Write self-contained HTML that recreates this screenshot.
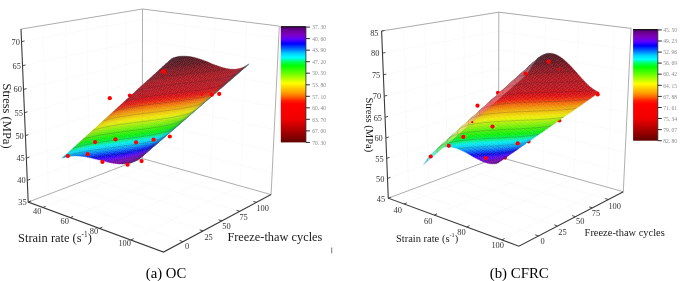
<!DOCTYPE html>
<html><head><meta charset="utf-8"><style>
html,body{margin:0;padding:0;background:#fff;}
svg{display:block;will-change:transform;}
text{font-family:"Liberation Serif",serif;}
.s path{fill:currentColor;stroke:currentColor;stroke-width:.35;}
.cb{font-size:6.6px;fill:#8a8a8a;}
.tk{font-size:8.4px;fill:#333;}
.t1{font-size:12.8px;fill:#1a1a1a;}
.t2{font-size:10.9px;fill:#1a1a1a;}
.sup{font-size:7.5px;}
.sup2{font-size:6.5px;}
.cap{font-size:14.6px;fill:#000;}
</style></head><body>
<svg width="685" height="281" viewBox="0 0 685 281">
<rect width="685" height="281" fill="#fff"/>
<polyline points="28.2,202.1 142.3,158.5 271.1,194.6" fill="none" stroke="#f6f6f6" stroke-width=".6"/>
<polyline points="27.3,180.3 142.3,139.5 272.1,173.3" fill="none" stroke="#f6f6f6" stroke-width=".6"/>
<polyline points="26.4,158.1 142.4,120.2 273.2,151.7" fill="none" stroke="#f6f6f6" stroke-width=".6"/>
<polyline points="25.4,135.6 142.4,100.7 274.2,129.7" fill="none" stroke="#f6f6f6" stroke-width=".6"/>
<polyline points="24.5,112.7 142.4,80.9 275.3,107.4" fill="none" stroke="#f6f6f6" stroke-width=".6"/>
<polyline points="23.5,89.4 142.4,60.8 276.5,84.7" fill="none" stroke="#f6f6f6" stroke-width=".6"/>
<polyline points="22.5,65.7 142.4,40.4 277.6,61.7" fill="none" stroke="#f6f6f6" stroke-width=".6"/>
<polyline points="21.5,41.6 142.5,19.7 278.8,38.2" fill="none" stroke="#f6f6f6" stroke-width=".6"/>
<polyline points="42.8,207.5 156.4,162.4 157.4,10.9" fill="none" stroke="#f6f6f6" stroke-width=".6"/>
<polyline points="70.3,217.6 182.9,169.9 185.4,14.4" fill="none" stroke="#f6f6f6" stroke-width=".6"/>
<polyline points="99.6,228.4 210.9,177.7 215.2,18.1" fill="none" stroke="#f6f6f6" stroke-width=".6"/>
<polyline points="130.9,240.0 240.5,186.0 246.7,22.0" fill="none" stroke="#f6f6f6" stroke-width=".6"/>
<polyline points="183.0,241.7 48.5,194.3 42.7,25.5" fill="none" stroke="#f6f6f6" stroke-width=".6"/>
<polyline points="203.1,230.9 69.6,186.3 65.3,21.8" fill="none" stroke="#f6f6f6" stroke-width=".6"/>
<polyline points="222.0,220.8 89.6,178.6 86.6,18.2" fill="none" stroke="#f6f6f6" stroke-width=".6"/>
<polyline points="239.7,211.3 108.6,171.4 106.8,14.9" fill="none" stroke="#f6f6f6" stroke-width=".6"/>
<polyline points="256.5,202.3 126.6,164.5 125.8,11.8" fill="none" stroke="#f6f6f6" stroke-width=".6"/>
<polyline points="21.0,29.1 142.5,9.0 279.3,26.1" fill="none" stroke="#909090" stroke-width=".75"/>
<polyline points="28.2,202.1 142.3,158.5 271.1,194.6" fill="none" stroke="#9a9a9a" stroke-width=".8"/>
<line x1="142.3" y1="158.5" x2="142.5" y2="9.0" stroke="#9a9a9a" stroke-width=".8"/>
<line x1="271.1" y1="194.6" x2="279.3" y2="26.1" stroke="#9a9a9a" stroke-width=".8"/>
<g fill="#ff0000"><circle cx="129.9" cy="95.6" r="2.1"/></g>
<g class="s"><path d="M139.2 158.8L141.5 156.8L143.3 155.6L140.9 157.6Z" color="#413260"/>
<path d="M137.4 159.9L139.8 157.9L141.5 156.8L139.2 158.8Z" color="#4a2069"/>
<path d="M141.5 156.8L143.9 154.8L145.6 153.5L143.3 155.6Z" color="#453266"/>
<path d="M135.6 160.8L138 158.8L139.8 157.9L137.4 159.9Z" color="#4d176b"/>
<path d="M139.8 157.9L142.1 155.8L143.9 154.8L141.5 156.8Z" color="#54207a"/>
<path d="M143.9 154.8L146.3 152.7L148 151.5L145.6 153.5Z" color="#47326b"/>
<path d="M133.8 161.6L136.2 159.6L138 158.8L135.6 160.8Z" color="#4d126b"/>
<path d="M138 158.8L140.3 156.8L142.1 155.8L139.8 157.9Z" color="#5a1781"/>
<path d="M142.1 155.8L144.5 153.8L146.3 152.7L143.9 154.8Z" color="#5a2086"/>
<path d="M132.1 162.3L134.4 160.3L136.2 159.6L133.8 161.6Z" color="#4e0f6b"/>
<path d="M146.3 152.7L148.6 150.6L150.4 149.4L148 151.5Z" color="#453271"/>
<path d="M136.2 159.6L138.5 157.6L140.3 156.8L138 158.8Z" color="#5d1285"/>
<path d="M140.3 156.8L142.7 154.7L144.5 153.8L142.1 155.8Z" color="#621791"/>
<path d="M130.3 162.9L132.6 160.8L134.4 160.3L132.1 162.3Z" color="#500d6d"/>
<path d="M144.5 153.8L146.9 151.7L148.6 150.6L146.3 152.7Z" color="#581f95"/>
<path d="M134.4 160.3L136.8 158.2L138.5 157.6L136.2 159.6Z" color="#600f88"/>
<path d="M148.6 150.6L151 148.5L152.8 147.3L150.4 149.4Z" color="#423278"/>
<path d="M138.5 157.6L140.9 155.5L142.7 154.7L140.3 156.8Z" color="#661297"/>
<path d="M128.4 163.3L130.8 161.2L132.6 160.8L130.3 162.9Z" color="#520c71"/>
<path d="M142.7 154.7L145.1 152.6L146.9 151.7L144.5 153.8Z" color="#6117a3"/>
<path d="M132.6 160.8L134.9 158.8L136.8 158.2L134.4 160.3Z" color="#620d8b"/>
<path d="M146.9 151.7L149.3 149.6L151 148.5L148.6 150.6Z" color="#501fa5"/>
<path d="M136.8 158.2L139.1 156.2L140.9 155.5L138.5 157.6Z" color="#690f9b"/>
<path d="M151 148.5L153.5 146.4L155.2 145.2L152.8 147.3Z" color="#39317a"/>
<path d="M140.9 155.5L143.3 153.4L145.1 152.6L142.7 154.7Z" color="#6712aa"/>
<path d="M126.6 163.6L129 161.6L130.8 161.2L128.4 163.3Z" color="#560b76"/>
<path d="M130.8 161.2L133.1 159.2L134.9 158.8L132.6 160.8Z" color="#640c8e"/>
<path d="M145.1 152.6L147.5 150.6L149.3 149.6L146.9 151.7Z" color="#5717b8"/>
<path d="M134.9 158.8L137.3 156.7L139.1 156.2L136.8 158.2Z" color="#6b0d9e"/>
<path d="M149.3 149.6L151.7 147.5L153.5 146.4L151 148.5Z" color="#3d1fab"/>
<path d="M139.1 156.2L141.5 154.1L143.3 153.4L140.9 155.5Z" color="#6a0fb0"/>
<path d="M124.8 163.8L127.1 161.8L129 161.6L126.6 163.6Z" color="#5a0a7c"/>
<path d="M153.5 146.4L155.9 144.3L157.7 143.1L155.2 145.2Z" color="#2f317a"/>
<path d="M143.3 153.4L145.7 151.4L147.5 150.6L145.1 152.6Z" color="#5b12c1"/>
<path d="M129 161.6L131.3 159.5L133.1 159.2L130.8 161.2Z" color="#660a92"/>
<path d="M133.1 159.2L135.5 157.1L137.3 156.7L134.9 158.8Z" color="#6e0ca2"/>
<path d="M147.5 150.6L149.9 148.5L151.7 147.5L149.3 149.6Z" color="#4217c2"/>
<path d="M137.3 156.7L139.7 154.6L141.5 154.1L139.1 156.2Z" color="#6c0db4"/>
<path d="M151.7 147.5L154.1 145.4L155.9 144.3L153.5 146.4Z" color="#241fab"/>
<path d="M122.9 163.9L125.3 161.9L127.1 161.8L124.8 163.8Z" color="#5f0984"/>
<path d="M141.5 154.1L143.9 152L145.7 151.4L143.3 153.4Z" color="#5e0fc8"/>
<path d="M127.1 161.8L129.5 159.7L131.3 159.5L129 161.6Z" color="#680a96"/>
<path d="M155.9 144.3L158.4 142.2L160.1 141L157.7 143.1Z" color="#2e3a7a"/>
<path d="M145.7 151.4L148.1 149.3L149.9 148.5L147.5 150.6Z" color="#4512ce"/>
<path d="M131.3 159.5L133.7 157.4L135.5 157.1L133.1 159.2Z" color="#700aa6"/>
<path d="M135.5 157.1L137.9 155.1L139.7 154.6L137.3 156.7Z" color="#6d0cb9"/>
<path d="M149.9 148.5L152.4 146.3L154.1 145.4L151.7 147.5Z" color="#2317c2"/>
<path d="M121.1 163.9L123.4 161.9L125.3 161.9L122.9 163.9Z" color="#63088b"/>
<path d="M139.7 154.6L142.1 152.6L143.9 152L141.5 154.1Z" color="#5f0dce"/>
<path d="M154.1 145.4L156.6 143.3L158.4 142.2L155.9 144.3Z" color="#1d30ac"/>
<path d="M125.3 161.9L127.6 159.8L129.5 159.7L127.1 161.8Z" color="#6b099b"/>
<path d="M143.9 152L146.3 149.9L148.1 149.3L145.7 151.4Z" color="#470fd7"/>
<path d="M129.5 159.7L131.8 157.6L133.7 157.4L131.3 159.5Z" color="#730aab"/>
<path d="M158.4 142.2L160.8 140.1L162.6 138.8L160.1 141Z" color="#2e457b"/>
<path d="M148.1 149.3L150.6 147.1L152.4 146.3L149.9 148.5Z" color="#2212cf"/>
<path d="M133.7 157.4L136.1 155.4L137.9 155.1L135.5 157.1Z" color="#6c0abe"/>
<path d="M137.9 155.1L140.3 153L142.1 152.6L139.7 154.6Z" color="#5f0bd4"/>
<path d="M119.2 163.9L121.5 161.8L123.4 161.9L121.1 163.9Z" color="#660891"/>
<path d="M152.4 146.3L154.8 144.2L156.6 143.3L154.1 145.4Z" color="#1529c2"/>
<path d="M123.4 161.9L125.8 159.8L127.6 159.8L125.3 161.9Z" color="#6e08a0"/>
<path d="M142.1 152.6L144.5 150.4L146.3 149.9L143.9 152Z" color="#470ddc"/>
<path d="M156.6 143.3L159.1 141.1L160.8 140.1L158.4 142.2Z" color="#1d49ac"/>
<path d="M127.6 159.8L130 157.7L131.8 157.6L129.5 159.7Z" color="#7509b0"/>
<path d="M146.3 149.9L148.8 147.8L150.6 147.1L148.1 149.3Z" color="#220fd7"/>
<path d="M131.8 157.6L134.2 155.6L136.1 155.4L133.7 157.4Z" color="#6b09c5"/>
<path d="M160.8 140.1L163.3 137.9L165.1 136.7L162.6 138.8Z" color="#2e4f7b"/>
<path d="M150.6 147.1L153 145L154.8 144.2L152.4 146.3Z" color="#1123cf"/>
<path d="M136.1 155.4L138.5 153.3L140.3 153L137.9 155.1Z" color="#5f0ada"/>
<path d="M117.3 163.7L119.7 161.7L121.5 161.8L119.2 163.9Z" color="#6a0898"/>
<path d="M140.3 153L142.7 150.9L144.5 150.4L142.1 152.6Z" color="#440be0"/>
<path d="M121.5 161.8L123.9 159.7L125.8 159.8L123.4 161.9Z" color="#7108a7"/>
<path d="M154.8 144.2L157.3 142.1L159.1 141.1L156.6 143.3Z" color="#1548c3"/>
<path d="M125.8 159.8L128.1 157.7L130 157.7L127.6 159.8Z" color="#7408b7"/>
<path d="M144.5 150.4L147 148.3L148.8 147.8L146.3 149.9Z" color="#1f0ddc"/>
<path d="M159.1 141.1L161.6 139L163.3 137.9L160.8 140.1Z" color="#1d63ac"/>
<path d="M130 157.7L132.4 155.7L134.2 155.6L131.8 157.6Z" color="#6909cb"/>
<path d="M148.8 147.8L151.2 145.7L153 145L150.6 147.1Z" color="#0e21d7"/>
<path d="M134.2 155.6L136.6 153.5L138.5 153.3L136.1 155.4Z" color="#5d09e0"/>
<path d="M163.3 137.9L165.9 135.7L167.6 134.5L165.1 136.7Z" color="#2e5a7c"/>
<path d="M115.4 163.5L117.8 161.4L119.7 161.7L117.3 163.7Z" color="#6e079f"/>
<path d="M153 145L155.5 142.9L157.3 142.1L154.8 144.2Z" color="#1147cf"/>
<path d="M138.5 153.3L140.9 151.2L142.7 150.9L140.3 153Z" color="#3f0ae3"/>
<path d="M119.7 161.7L122 159.6L123.9 159.7L121.5 161.8Z" color="#7508ae"/>
<path d="M142.7 150.9L145.2 148.7L147 148.3L144.5 150.4Z" color="#1c0be1"/>
<path d="M123.9 159.7L126.3 157.7L128.1 157.7L125.8 159.8Z" color="#7108bf"/>
<path d="M157.3 142.1L159.8 139.9L161.6 139L159.1 141.1Z" color="#1568c3"/>
<path d="M128.1 157.7L130.5 155.7L132.4 155.7L130 157.7Z" color="#6608d3"/>
<path d="M147 148.3L149.4 146.2L151.2 145.7L148.8 147.8Z" color="#0c20dd"/>
<path d="M161.6 139L164.1 136.8L165.9 135.7L163.3 137.9Z" color="#1d7dad"/>
<path d="M132.4 155.7L134.8 153.6L136.6 153.5L134.2 155.6Z" color="#5b09e7"/>
<path d="M151.2 145.7L153.7 143.5L155.5 142.9L153 145Z" color="#0e46d7"/>
<path d="M113.5 163.2L115.9 161.2L117.8 161.4L115.4 163.5Z" color="#7207a7"/>
<path d="M136.6 153.5L139.1 151.3L140.9 151.2L138.5 153.3Z" color="#3909e6"/>
<path d="M165.9 135.7L168.4 133.5L170.1 132.3L167.6 134.5Z" color="#2e627c"/>
<path d="M117.8 161.4L120.1 159.4L122 159.6L119.7 161.7Z" color="#7707b5"/>
<path d="M155.5 142.9L158 140.7L159.8 139.9L157.3 142.1Z" color="#116bcf"/>
<path d="M140.9 151.2L143.3 149L145.2 148.7L142.7 150.9Z" color="#160ae4"/>
<path d="M122 159.6L124.4 157.5L126.3 157.7L123.9 159.7Z" color="#6d07c8"/>
<path d="M145.2 148.7L147.6 146.6L149.4 146.2L147 148.3Z" color="#0b22e1"/>
<path d="M126.3 157.7L128.7 155.6L130.5 155.7L128.1 157.7Z" color="#6308db"/>
<path d="M159.8 139.9L162.3 137.7L164.1 136.8L161.6 139Z" color="#1589c3"/>
<path d="M130.5 155.7L132.9 153.6L134.8 153.6L132.4 155.7Z" color="#5208e9"/>
<path d="M149.4 146.2L151.9 144L153.7 143.5L151.2 145.7Z" color="#0c48dd"/>
<path d="M164.1 136.8L166.6 134.6L168.4 133.5L165.9 135.7Z" color="#1c91ad"/>
<path d="M111.6 162.9L114 160.8L115.9 161.2L113.5 163.2Z" color="#7607b0"/>
<path d="M134.8 153.6L137.2 151.4L139.1 151.3L136.6 153.5Z" color="#3109e8"/>
<path d="M153.7 143.5L156.2 141.4L158 140.7L155.5 142.9Z" color="#0e6dd8"/>
<path d="M115.9 161.2L118.2 159.1L120.1 159.4L117.8 161.4Z" color="#7207c0"/>
<path d="M139.1 151.3L141.5 149.2L143.3 149L140.9 151.2Z" color="#0f09e6"/>
<path d="M168.4 133.5L170.9 131.3L172.7 130.1L170.1 132.3Z" color="#2d687b"/>
<path d="M120.1 159.4L122.5 157.3L124.4 157.5L122 159.6Z" color="#6907d2"/>
<path d="M158 140.7L160.5 138.5L162.3 137.7L159.8 139.9Z" color="#108fd0"/>
<path d="M143.3 149L145.8 146.9L147.6 146.6L145.2 148.7Z" color="#0927e4"/>
<path d="M124.4 157.5L126.8 155.4L128.7 155.6L126.3 157.7Z" color="#5f07e5"/>
<path d="M128.7 155.6L131.1 153.5L132.9 153.6L130.5 155.7Z" color="#4608ea"/>
<path d="M147.6 146.6L150.1 144.4L151.9 144L149.4 146.2Z" color="#0a4be1"/>
<path d="M162.3 137.7L164.8 135.5L166.6 134.6L164.1 136.8Z" color="#15a4c3"/>
<path d="M132.9 153.6L135.4 151.4L137.2 151.4L134.8 153.6Z" color="#2708e9"/>
<path d="M109.7 162.5L112 160.4L114 160.8L111.6 162.9Z" color="#7607b9"/>
<path d="M151.9 144L154.4 141.9L156.2 141.4L153.7 143.5Z" color="#0c70dd"/>
<path d="M166.6 134.6L169.2 132.4L170.9 131.3L168.4 133.5Z" color="#1c9fae"/>
<path d="M114 160.8L116.3 158.7L118.2 159.1L115.9 161.2Z" color="#6d07cb"/>
<path d="M137.2 151.4L139.7 149.3L141.5 149.2L139.1 151.3Z" color="#080ae8"/>
<path d="M156.2 141.4L158.7 139.2L160.5 138.5L158 140.7Z" color="#0e94d8"/>
<path d="M118.2 159.1L120.6 157L122.5 157.3L120.1 159.4Z" color="#6407dc"/>
<path d="M141.5 149.2L144 147.1L145.8 146.9L143.3 149Z" color="#092de6"/>
<path d="M170.9 131.3L173.5 129.1L175.3 127.9L172.7 130.1Z" color="#2d6867"/>
<path d="M122.5 157.3L124.9 155.2L126.8 155.4L124.4 157.5Z" color="#5707ec"/>
<path d="M160.5 138.5L163 136.3L164.8 135.5L162.3 137.7Z" color="#10aed0"/>
<path d="M145.8 146.9L148.3 144.7L150.1 144.4L147.6 146.6Z" color="#0950e4"/>
<path d="M126.8 155.4L129.2 153.3L131.1 153.5L128.7 155.6Z" color="#3a07eb"/>
<path d="M131.1 153.5L133.5 151.3L135.4 151.4L132.9 153.6Z" color="#1c08ea"/>
<path d="M150.1 144.4L152.6 142.3L154.4 141.9L151.9 144Z" color="#0a74e1"/>
<path d="M164.8 135.5L167.4 133.3L169.2 132.4L166.6 134.6Z" color="#15b6c4"/>
<path d="M107.7 162.1L110.1 160L112 160.4L109.7 162.5Z" color="#7007c5"/>
<path d="M135.4 151.4L137.8 149.3L139.7 149.3L137.2 151.4Z" color="#0813e9"/>
<path d="M112 160.4L114.4 158.4L116.3 158.7L114 160.8Z" color="#6807d6"/>
<path d="M154.4 141.9L156.9 139.7L158.7 139.2L156.2 141.4Z" color="#0c99dd"/>
<path d="M169.2 132.4L171.7 130.2L173.5 129.1L170.9 131.3Z" color="#1ca184"/>
<path d="M116.3 158.7L118.7 156.7L120.6 157L118.2 159.1Z" color="#5f07e7"/>
<path d="M139.7 149.3L142.1 147.2L144 147.1L141.5 149.2Z" color="#0835e8"/>
<path d="M158.7 139.2L161.3 137L163 136.3L160.5 138.5Z" color="#0eb5d8"/>
<path d="M120.6 157L123 154.9L124.9 155.2L122.5 157.3Z" color="#4907ec"/>
<path d="M144 147.1L146.4 144.9L148.3 144.7L145.8 146.9Z" color="#0956e6"/>
<path d="M173.5 129.1L176.1 126.9L177.8 125.6L175.3 127.9Z" color="#2d6955"/>
<path d="M124.9 155.2L127.3 153.1L129.2 153.3L126.8 155.4Z" color="#2c07ec"/>
<path d="M163 136.3L165.6 134.1L167.4 133.3L164.8 135.5Z" color="#10c2d0"/>
<path d="M148.3 144.7L150.8 142.6L152.6 142.3L150.1 144.4Z" color="#097ae4"/>
<path d="M129.2 153.3L131.6 151.2L133.5 151.3L131.1 153.5Z" color="#0f07eb"/>
<path d="M105.8 161.6L108.1 159.5L110.1 160L107.7 162.1Z" color="#6a06d1"/>
<path d="M133.5 151.3L135.9 149.2L137.8 149.3L135.4 151.4Z" color="#071eea"/>
<path d="M152.6 142.3L155.1 140.1L156.9 139.7L154.4 141.9Z" color="#0a9ee1"/>
<path d="M167.4 133.3L169.9 131.1L171.7 130.2L169.2 132.4Z" color="#15bb97"/>
<path d="M110.1 160L112.4 157.9L114.4 158.4L112 160.4Z" color="#6206e2"/>
<path d="M137.8 149.3L140.3 147.2L142.1 147.2L139.7 149.3Z" color="#083ee9"/>
<path d="M114.4 158.4L116.8 156.3L118.7 156.7L116.3 158.7Z" color="#5407ed"/>
<path d="M156.9 139.7L159.5 137.5L161.3 137L158.7 139.2Z" color="#0cbbdd"/>
<path d="M171.7 130.2L174.3 127.9L176.1 126.9L173.5 129.1Z" color="#1ca257"/>
<path d="M118.7 156.7L121.1 154.5L123 154.9L120.6 157Z" color="#3907ed"/>
<path d="M142.1 147.2L144.6 145L146.4 144.9L144 147.1Z" color="#085fe8"/>
<path d="M161.3 137L163.8 134.8L165.6 134.1L163 136.3Z" color="#0dcad8"/>
<path d="M123 154.9L125.4 152.8L127.3 153.1L124.9 155.2Z" color="#1d07ec"/>
<path d="M146.4 144.9L148.9 142.7L150.8 142.6L148.3 144.7Z" color="#0982e6"/>
<path d="M176.1 126.9L178.7 124.6L180.4 123.4L177.8 125.6Z" color="#2d6949"/>
<path d="M127.3 153.1L129.7 150.9L131.6 151.2L129.2 153.3Z" color="#070dec"/>
<path d="M165.6 134.1L168.2 131.9L169.9 131.1L167.4 133.3Z" color="#10c9a3"/>
<path d="M150.8 142.6L153.3 140.4L155.1 140.1L152.6 142.3Z" color="#09a5e4"/>
<path d="M103.8 161.1L106.2 159.1L108.1 159.5L105.8 161.6Z" color="#6406de"/>
<path d="M131.6 151.2L134.1 149L135.9 149.2L133.5 151.3Z" color="#072beb"/>
<path d="M108.1 159.5L110.5 157.5L112.4 157.9L110.1 160Z" color="#5c06ee"/>
<path d="M135.9 149.2L138.4 147.1L140.3 147.2L137.8 149.3Z" color="#0749ea"/>
<path d="M155.1 140.1L157.6 137.9L159.5 137.5L156.9 139.7Z" color="#0ac0e1"/>
<path d="M169.9 131.1L172.5 128.9L174.3 127.9L171.7 130.2Z" color="#14bb5c"/>
<path d="M112.4 157.9L114.8 155.8L116.8 156.3L114.4 158.4Z" color="#4206ee"/>
<path d="M140.3 147.2L142.8 145L144.6 145L142.1 147.2Z" color="#0869e9"/>
<path d="M116.8 156.3L119.2 154.1L121.1 154.5L118.7 156.7Z" color="#2807ed"/>
<path d="M159.5 137.5L162 135.3L163.8 134.8L161.3 137Z" color="#0cd1de"/>
<path d="M174.3 127.9L176.9 125.7L178.7 124.6L176.1 126.9Z" color="#1ca23a"/>
<path d="M121.1 154.5L123.5 152.4L125.4 152.8L123 154.9Z" color="#0d07ed"/>
<path d="M144.6 145L147.1 142.8L148.9 142.7L146.4 144.9Z" color="#088be8"/>
<path d="M163.8 134.8L166.4 132.5L168.2 131.9L165.6 134.1Z" color="#0dd2aa"/>
<path d="M125.4 152.8L127.8 150.6L129.7 150.9L127.3 153.1Z" color="#061ced"/>
<path d="M148.9 142.7L151.5 140.6L153.3 140.4L150.8 142.6Z" color="#09ade6"/>
<path d="M178.7 124.6L181.3 122.3L183.1 121.1L180.4 123.4Z" color="#326a44"/>
<path d="M129.7 150.9L132.2 148.8L134.1 149L131.6 151.2Z" color="#0738ec"/>
<path d="M101.8 160.6L104.2 158.5L106.2 159.1L103.8 161.1Z" color="#5e06ea"/>
<path d="M168.2 131.9L170.7 129.7L172.5 128.9L169.9 131.1Z" color="#10c960"/>
<path d="M153.3 140.4L155.8 138.2L157.6 137.9L155.1 140.1Z" color="#09c5e4"/>
<path d="M106.2 159.1L108.5 157L110.5 157.5L108.1 159.5Z" color="#4906ee"/>
<path d="M134.1 149L136.5 146.9L138.4 147.1L135.9 149.2Z" color="#0756eb"/>
<path d="M110.5 157.5L112.9 155.3L114.8 155.8L112.4 157.9Z" color="#3006ee"/>
<path d="M138.4 147.1L140.9 144.9L142.8 145L140.3 147.2Z" color="#0775eb"/>
<path d="M157.6 137.9L160.2 135.7L162 135.3L159.5 137.5Z" color="#0ad7e2"/>
<path d="M172.5 128.9L175.1 126.6L176.9 125.7L174.3 127.9Z" color="#14bb37"/>
<path d="M114.8 155.8L117.2 153.7L119.2 154.1L116.8 156.3Z" color="#1606ee"/>
<path d="M142.8 145L145.2 142.8L147.1 142.8L144.6 145Z" color="#0796ea"/>
<path d="M119.2 154.1L121.6 152L123.5 152.4L121.1 154.5Z" color="#0610ed"/>
<path d="M162 135.3L164.6 133.1L166.4 132.5L163.8 134.8Z" color="#0cd9ac"/>
<path d="M176.9 125.7L179.5 123.4L181.3 122.3L178.7 124.6Z" color="#24a22a"/>
<path d="M123.5 152.4L125.9 150.3L127.8 150.6L125.4 152.8Z" color="#062bed"/>
<path d="M147.1 142.8L149.6 140.6L151.5 140.6L148.9 142.7Z" color="#08b7e8"/>
<path d="M166.4 132.5L169 130.3L170.7 129.7L168.2 131.9Z" color="#0dd363"/>
<path d="M127.8 150.6L130.3 148.5L132.2 148.8L129.7 150.9Z" color="#0647ed"/>
<path d="M99.9 160.1L102.2 158L104.2 158.5L101.8 160.6Z" color="#4f06ee"/>
<path d="M151.5 140.6L154 138.4L155.8 138.2L153.3 140.4Z" color="#08cbe7"/>
<path d="M181.3 122.3L183.9 120L185.7 118.8L183.1 121.1Z" color="#396a44"/>
<path d="M132.2 148.8L134.6 146.6L136.5 146.9L134.1 149Z" color="#0764ec"/>
<path d="M104.2 158.5L106.6 156.4L108.5 157L106.2 159.1Z" color="#3606ee"/>
<path d="M170.7 129.7L173.4 127.4L175.1 126.6L172.5 128.9Z" color="#10ca36"/>
<path d="M155.8 138.2L158.4 136L160.2 135.7L157.6 137.9Z" color="#09dde4"/>
<path d="M108.5 157L110.9 154.8L112.9 155.3L110.5 157.5Z" color="#1d06ee"/>
<path d="M136.5 146.9L139 144.7L140.9 144.9L138.4 147.1Z" color="#0783eb"/>
<path d="M112.9 155.3L115.3 153.2L117.2 153.7L114.8 155.8Z" color="#0608ee"/>
<path d="M140.9 144.9L143.4 142.7L145.2 142.8L142.8 145Z" color="#07a2eb"/>
<path d="M160.2 135.7L162.8 133.5L164.6 133.1L162 135.3Z" color="#0addaa"/>
<path d="M175.1 126.6L177.8 124.3L179.5 123.4L176.9 125.7Z" color="#1cbc1f"/>
<path d="M117.2 153.7L119.6 151.6L121.6 152L119.2 154.1Z" color="#0622ee"/>
<path d="M145.2 142.8L147.8 140.6L149.6 140.6L147.1 142.8Z" color="#07c0ea"/>
<path d="M121.6 152L124 149.9L125.9 150.3L123.5 152.4Z" color="#063cee"/>
<path d="M164.6 133.1L167.2 130.8L169 130.3L166.4 132.5Z" color="#0bd962"/>
<path d="M179.5 123.4L182.2 121.1L183.9 120L181.3 122.3Z" color="#35a32a"/>
<path d="M125.9 150.3L128.4 148.1L130.3 148.5L127.8 150.6Z" color="#0657ed"/>
<path d="M149.6 140.6L152.1 138.4L154 138.4L151.5 140.6Z" color="#08d1e8"/>
<path d="M97.9 159.6L100.2 157.5L102.2 158L99.9 160.1Z" color="#3b06ee"/>
<path d="M169 130.3L171.6 128L173.4 127.4L170.7 129.7Z" color="#0dd335"/>
<path d="M130.3 148.5L132.7 146.3L134.6 146.6L132.2 148.8Z" color="#0674ed"/>
<path d="M102.2 158L104.6 155.9L106.6 156.4L104.2 158.5Z" color="#2306ee"/>
<path d="M154 138.4L156.5 136.1L158.4 136L155.8 138.2Z" color="#08e3e7"/>
<path d="M183.9 120L186.6 117.7L188.4 116.5L185.7 118.8Z" color="#416b44"/>
<path d="M134.6 146.6L137.1 144.5L139 144.7L136.5 146.9Z" color="#0791ec"/>
<path d="M106.6 156.4L108.9 154.3L110.9 154.8L108.5 157Z" color="#0a06ee"/>
<path d="M173.4 127.4L176 125.1L177.8 124.3L175.1 126.6Z" color="#16ca18"/>
<path d="M158.4 136L160.9 133.7L162.8 133.5L160.2 135.7Z" color="#09e1a3"/>
<path d="M110.9 154.8L113.3 152.7L115.3 153.2L112.9 155.3Z" color="#061aee"/>
<path d="M139 144.7L141.5 142.5L143.4 142.7L140.9 144.9Z" color="#07b0ec"/>
<path d="M115.3 153.2L117.7 151.1L119.6 151.6L117.2 153.7Z" color="#0634ee"/>
<path d="M143.4 142.7L145.9 140.5L147.8 140.6L145.2 142.8Z" color="#07c7eb"/>
<path d="M162.8 133.5L165.3 131.2L167.2 130.8L164.6 133.1Z" color="#0add5d"/>
<path d="M177.8 124.3L180.4 122.1L182.2 121.1L179.5 123.4Z" color="#31bc1f"/>
<path d="M119.6 151.6L122.1 149.4L124 149.9L121.6 152Z" color="#064dee"/>
<path d="M147.8 140.6L150.3 138.4L152.1 138.4L149.6 140.6Z" color="#07d8ea"/>
<path d="M124 149.9L126.4 147.7L128.4 148.1L125.9 150.3Z" color="#0668ee"/>
<path d="M167.2 130.8L169.8 128.6L171.6 128L169 130.3Z" color="#0bd933"/>
<path d="M95.8 159.1L98.2 157L100.2 157.5L97.9 159.6Z" color="#2806ee"/>
<path d="M182.2 121.1L184.8 118.8L186.6 117.7L183.9 120Z" color="#46a32a"/>
<path d="M128.4 148.1L130.8 145.9L132.7 146.3L130.3 148.5Z" color="#0684ed"/>
<path d="M152.1 138.4L154.7 136.2L156.5 136.1L154 138.4Z" color="#08e5da"/>
<path d="M100.2 157.5L102.6 155.4L104.6 155.9L102.2 158Z" color="#1006ee"/>
<path d="M171.6 128L174.2 125.8L176 125.1L173.4 127.4Z" color="#13d314"/>
<path d="M132.7 146.3L135.2 144.1L137.1 144.5L134.6 146.6Z" color="#06a1ed"/>
<path d="M104.6 155.9L106.9 153.8L108.9 154.3L106.6 156.4Z" color="#0615ee"/>
<path d="M156.5 136.1L159.1 133.9L160.9 133.7L158.4 136Z" color="#08e398"/>
<path d="M186.6 117.7L189.3 115.4L191 114.2L188.4 116.5Z" color="#496b43"/>
<path d="M137.1 144.5L139.6 142.3L141.5 142.5L139 144.7Z" color="#06beec"/>
<path d="M108.9 154.3L111.3 152.2L113.3 152.7L110.9 154.8Z" color="#062dee"/>
<path d="M176 125.1L178.6 122.8L180.4 122.1L177.8 124.3Z" color="#2eca18"/>
<path d="M160.9 133.7L163.5 131.5L165.3 131.2L162.8 133.5Z" color="#09e158"/>
<path d="M113.3 152.7L115.7 150.6L117.7 151.1L115.3 153.2Z" color="#0646ee"/>
<path d="M141.5 142.5L144 140.3L145.9 140.5L143.4 142.7Z" color="#07cfec"/>
<path d="M117.7 151.1L120.1 148.9L122.1 149.4L119.6 151.6Z" color="#0660ee"/>
<path d="M145.9 140.5L148.4 138.3L150.3 138.4L147.8 140.6Z" color="#07dfeb"/>
<path d="M165.3 131.2L167.9 128.9L169.8 128.6L167.2 130.8Z" color="#0ade2f"/>
<path d="M180.4 122.1L183.1 119.7L184.8 118.8L182.2 121.1Z" color="#47bc1e"/>
<path d="M122.1 149.4L124.5 147.2L126.4 147.7L124 149.9Z" color="#067aee"/>
<path d="M93.8 158.6L96.2 156.5L98.2 157L95.8 159.1Z" color="#1506ee"/>
<path d="M150.3 138.4L152.8 136.2L154.7 136.2L152.1 138.4Z" color="#07e7c9"/>
<path d="M126.4 147.7L128.9 145.5L130.8 145.9L128.4 148.1Z" color="#0696ee"/>
<path d="M169.8 128.6L172.4 126.3L174.2 125.8L171.6 128Z" color="#12d911"/>
<path d="M98.2 157L100.5 154.9L102.6 155.4L100.2 157.5Z" color="#060fee"/>
<path d="M184.8 118.8L187.5 116.5L189.3 115.4L186.6 117.7Z" color="#59a42a"/>
<path d="M130.8 145.9L133.3 143.8L135.2 144.1L132.7 146.3Z" color="#06b2ed"/>
<path d="M154.7 136.2L157.3 134L159.1 133.9L156.5 136.1Z" color="#08e58a"/>
<path d="M102.6 155.4L104.9 153.3L106.9 153.8L104.6 155.9Z" color="#0628ef"/>
<path d="M174.2 125.8L176.8 123.5L178.6 122.8L176 125.1Z" color="#2dd314"/>
<path d="M135.2 144.1L137.7 141.9L139.6 142.3L137.1 144.5Z" color="#06c8ed"/>
<path d="M106.9 153.8L109.3 151.7L111.3 152.2L108.9 154.3Z" color="#0640ef"/>
<path d="M159.1 133.9L161.7 131.6L163.5 131.5L160.9 133.7Z" color="#08e351"/>
<path d="M189.3 115.4L192 113.1L193.7 111.8L191 114.2Z" color="#526b43"/>
<path d="M139.6 142.3L142.1 140L144 140.3L141.5 142.5Z" color="#06d7ec"/>
<path d="M111.3 152.2L113.7 150L115.7 150.6L113.3 152.7Z" color="#0659ef"/>
<path d="M178.6 122.8L181.3 120.5L183.1 119.7L180.4 122.1Z" color="#46cb18"/>
<path d="M163.5 131.5L166.1 129.2L167.9 128.9L165.3 131.2Z" color="#09e129"/>
<path d="M115.7 150.6L118.1 148.4L120.1 148.9L117.7 151.1Z" color="#0673ee"/>
<path d="M144 140.3L146.6 138.1L148.4 138.3L145.9 140.5Z" color="#07e7ec"/>
<path d="M120.1 148.9L122.6 146.8L124.5 147.2L122.1 149.4Z" color="#068dee"/>
<path d="M148.4 138.3L151 136L152.8 136.2L150.3 138.4Z" color="#07e8b5"/>
<path d="M167.9 128.9L170.6 126.7L172.4 126.3L169.8 128.6Z" color="#13de0f"/>
<path d="M91.8 158.1L94.1 156L96.2 156.5L93.8 158.6Z" color="#060aee"/>
<path d="M183.1 119.7L185.7 117.4L187.5 116.5L184.8 118.8Z" color="#5dbd1e"/>
<path d="M124.5 147.2L127 145.1L128.9 145.5L126.4 147.7Z" color="#06a8ee"/>
<path d="M96.2 156.5L98.5 154.3L100.5 154.9L98.2 157Z" color="#0623ee"/>
<path d="M152.8 136.2L155.4 133.9L157.3 134L154.7 136.2Z" color="#07e778"/>
<path d="M128.9 145.5L131.4 143.3L133.3 143.8L130.8 145.9Z" color="#06c2ee"/>
<path d="M172.4 126.3L175 124L176.8 123.5L174.2 125.8Z" color="#2dd911"/>
<path d="M100.5 154.9L102.9 152.7L104.9 153.3L102.6 155.4Z" color="#063bef"/>
<path d="M187.5 116.5L190.2 114.2L192 113.1L189.3 115.4Z" color="#6ca429"/>
<path d="M133.3 143.8L135.8 141.6L137.7 141.9L135.2 144.1Z" color="#06d1ee"/>
<path d="M157.3 134L159.9 131.7L161.7 131.6L159.1 133.9Z" color="#08e548"/>
<path d="M104.9 153.3L107.3 151.1L109.3 151.7L106.9 153.8Z" color="#0654ef"/>
<path d="M176.8 123.5L179.5 121.2L181.3 120.5L178.6 122.8Z" color="#46d414"/>
<path d="M137.7 141.9L140.2 139.7L142.1 140L139.6 142.3Z" color="#06e0ed"/>
<path d="M109.3 151.7L111.8 149.5L113.7 150L111.3 152.2Z" color="#066def"/>
<path d="M161.7 131.6L164.3 129.4L166.1 129.2L163.5 131.5Z" color="#08e321"/>
<path d="M192 113.1L194.7 110.7L196.5 109.5L193.7 111.8Z" color="#5b6c43"/>
<path d="M142.1 140L144.7 137.8L146.6 138.1L144 140.3Z" color="#06ead8"/>
<path d="M113.7 150L116.2 147.9L118.1 148.4L115.7 150.6Z" color="#0686ef"/>
<path d="M181.3 120.5L184 118.2L185.7 117.4L183.1 119.7Z" color="#5fcb18"/>
<path d="M166.1 129.2L168.8 126.9L170.6 126.7L167.9 128.9Z" color="#15e10e"/>
<path d="M118.1 148.4L120.6 146.2L122.6 146.8L120.1 148.9Z" color="#06a0ef"/>
<path d="M146.6 138.1L149.1 135.9L151 136L148.4 138.3Z" color="#07e99f"/>
<path d="M89.7 157.6L92.1 155.5L94.1 156L91.8 158.1Z" color="#061cee"/>
<path d="M122.6 146.8L125 144.6L127 145.1L124.5 147.2Z" color="#06bbee"/>
<path d="M151 136L153.6 133.8L155.4 133.9L152.8 136.2Z" color="#07e864"/>
<path d="M170.6 126.7L173.2 124.4L175 124L172.4 126.3Z" color="#2ede0f"/>
<path d="M94.1 156L96.5 153.9L98.5 154.3L96.2 156.5Z" color="#0635ee"/>
<path d="M185.7 117.4L188.4 115.1L190.2 114.2L187.5 116.5Z" color="#75bd1e"/>
<path d="M127 145.1L129.5 142.9L131.4 143.3L128.9 145.5Z" color="#06ccee"/>
<path d="M98.5 154.3L100.9 152.2L102.9 152.7L100.5 154.9Z" color="#064eef"/>
<path d="M155.4 133.9L158 131.7L159.9 131.7L157.3 134Z" color="#07e73d"/>
<path d="M131.4 143.3L133.9 141.1L135.8 141.6L133.3 143.8Z" color="#06dbee"/>
<path d="M175 124L177.7 121.7L179.5 121.2L176.8 123.5Z" color="#47da11"/>
<path d="M102.9 152.7L105.3 150.6L107.3 151.1L104.9 153.3Z" color="#0667ef"/>
<path d="M190.2 114.2L192.9 111.8L194.7 110.7L192 113.1Z" color="#7fa429"/>
<path d="M135.8 141.6L138.3 139.3L140.2 139.7L137.7 141.9Z" color="#06eaee"/>
<path d="M159.9 131.7L162.5 129.4L164.3 129.4L161.7 131.6Z" color="#08e517"/>
<path d="M107.3 151.1L109.7 149L111.8 149.5L109.3 151.7Z" color="#0681ef"/>
<path d="M179.5 121.2L182.2 118.8L184 118.2L181.3 120.5Z" color="#60d414"/>
<path d="M140.2 139.7L142.8 137.5L144.7 137.8L142.1 140Z" color="#06eabc"/>
<path d="M111.8 149.5L114.2 147.3L116.2 147.9L113.7 150Z" color="#069aef"/>
<path d="M164.3 129.4L166.9 127.1L168.8 126.9L166.1 129.2Z" color="#18e40d"/>
<path d="M194.7 110.7L197.4 108.4L199.2 107.1L196.5 109.5Z" color="#646c43"/>
<path d="M144.7 137.8L147.2 135.6L149.1 135.9L146.6 138.1Z" color="#06ea85"/>
<path d="M116.2 147.9L118.6 145.7L120.6 146.2L118.1 148.4Z" color="#06b4ef"/>
<path d="M87.6 157.2L90 155.1L92.1 155.5L89.7 157.6Z" color="#062eee"/>
<path d="M184 118.2L186.7 115.9L188.4 115.1L185.7 117.4Z" color="#79cb18"/>
<path d="M168.8 126.9L171.4 124.6L173.2 124.4L170.6 126.7Z" color="#31e10e"/>
<path d="M120.6 146.2L123.1 144L125 144.6L122.6 146.8Z" color="#06c8ef"/>
<path d="M149.1 135.9L151.7 133.6L153.6 133.8L151 136Z" color="#07e954"/>
<path d="M92.1 155.5L94.4 153.4L96.5 153.9L94.1 156Z" color="#0648ee"/>
<path d="M125 144.6L127.5 142.4L129.5 142.9L127 145.1Z" color="#06d6ee"/>
<path d="M153.6 133.8L156.1 131.5L158 131.7L155.4 133.9Z" color="#07e830"/>
<path d="M173.2 124.4L175.9 122L177.7 121.7L175 124Z" color="#49de0f"/>
<path d="M96.5 153.9L98.9 151.7L100.9 152.2L98.5 154.3Z" color="#0661ee"/>
<path d="M188.4 115.1L191.2 112.7L192.9 111.8L190.2 114.2Z" color="#8dbd1e"/>
<path d="M129.5 142.9L132 140.7L133.9 141.1L131.4 143.3Z" color="#06e5ee"/>
<path d="M100.9 152.2L103.3 150.1L105.3 150.6L102.9 152.7Z" color="#067bef"/>
<path d="M158 131.7L160.6 129.4L162.5 129.4L159.9 131.7Z" color="#07e70c"/>
<path d="M133.9 141.1L136.4 138.9L138.3 139.3L135.8 141.6Z" color="#06ebd3"/>
<path d="M177.7 121.7L180.4 119.3L182.2 118.8L179.5 121.2Z" color="#62da11"/>
<path d="M105.3 150.6L107.7 148.4L109.7 149L107.3 151.1Z" color="#0694ef"/>
<path d="M192.9 111.8L195.7 109.4L197.4 108.4L194.7 110.7Z" color="#93a529"/>
<path d="M138.3 139.3L140.9 137.1L142.8 137.5L140.2 139.7Z" color="#06eb9f"/>
<path d="M162.5 129.4L165.1 127.1L166.9 127.1L164.3 129.4Z" color="#1de60c"/>
<path d="M109.7 149L112.2 146.8L114.2 147.3L111.8 149.5Z" color="#06aeef"/>
<path d="M182.2 118.8L184.9 116.5L186.7 115.9L184 118.2Z" color="#7cd414"/>
<path d="M142.8 137.5L145.3 135.2L147.2 135.6L144.7 137.8Z" color="#06eb6a"/>
<path d="M114.2 147.3L116.6 145.1L118.6 145.7L116.2 147.9Z" color="#06c5ef"/>
<path d="M166.9 127.1L169.6 124.8L171.4 124.6L168.8 126.9Z" color="#35e40c"/>
<path d="M85.6 156.8L87.9 154.7L90 155.1L87.6 157.2Z" color="#063fee"/>
<path d="M197.4 108.4L200.2 106L202 104.7L199.2 107.1Z" color="#6a6a43"/>
<path d="M147.2 135.6L149.8 133.3L151.7 133.6L149.1 135.9Z" color="#06ea44"/>
<path d="M118.6 145.7L121.1 143.5L123.1 144L120.6 146.2Z" color="#06d3ef"/>
<path d="M90 155.1L92.4 153L94.4 153.4L92.1 155.5Z" color="#0659ee"/>
<path d="M186.7 115.9L189.4 113.5L191.2 112.7L188.4 115.1Z" color="#94cb18"/>
<path d="M171.4 124.6L174.1 122.3L175.9 122L173.2 124.4Z" color="#4ce10e"/>
<path d="M123.1 144L125.5 141.8L127.5 142.4L125 144.6Z" color="#06e1ef"/>
<path d="M151.7 133.6L154.3 131.3L156.1 131.5L153.6 133.8Z" color="#07e922"/>
<path d="M94.4 153.4L96.8 151.3L98.9 151.7L96.5 153.9Z" color="#0674ee"/>
<path d="M127.5 142.4L130 140.1L132 140.7L129.5 142.9Z" color="#06ece4"/>
<path d="M156.1 131.5L158.8 129.2L160.6 129.4L158 131.7Z" color="#0ee80a"/>
<path d="M175.9 122L178.6 119.7L180.4 119.3L177.7 121.7Z" color="#65de0f"/>
<path d="M98.9 151.7L101.3 149.6L103.3 150.1L100.9 152.2Z" color="#068eef"/>
<path d="M191.2 112.7L193.9 110.4L195.7 109.4L192.9 111.8Z" color="#a5be1e"/>
<path d="M132 140.7L134.5 138.4L136.4 138.9L133.9 141.1Z" color="#06ecb3"/>
<path d="M103.3 150.1L105.7 147.9L107.7 148.4L105.3 150.6Z" color="#06a8ef"/>
<path d="M160.6 129.4L163.2 127.1L165.1 127.1L162.5 129.4Z" color="#23e70b"/>
<path d="M136.4 138.9L139 136.7L140.9 137.1L138.3 139.3Z" color="#06ec80"/>
<path d="M180.4 119.3L183.1 117L184.9 116.5L182.2 118.8Z" color="#7fda11"/>
<path d="M107.7 148.4L110.2 146.2L112.2 146.8L109.7 149Z" color="#06c2ef"/>
<path d="M195.7 109.4L198.4 107L200.2 106L197.4 108.4Z" color="#a3a329"/>
<path d="M140.9 137.1L143.4 134.8L145.3 135.2L142.8 137.5Z" color="#06eb54"/>
<path d="M165.1 127.1L167.7 124.8L169.6 124.8L166.9 127.1Z" color="#3ae60c"/>
<path d="M112.2 146.8L114.6 144.6L116.6 145.1L114.2 147.3Z" color="#06d0ef"/>
<path d="M83.5 156.5L85.8 154.4L87.9 154.7L85.6 156.8Z" color="#064fed"/>
<path d="M145.3 135.2L147.9 133L149.8 133.3L147.2 135.6Z" color="#06eb34"/>
<path d="M184.9 116.5L187.6 114.1L189.4 113.5L186.7 115.9Z" color="#98d413"/>
<path d="M116.6 145.1L119.1 142.9L121.1 143.5L118.6 145.7Z" color="#06deef"/>
<path d="M169.6 124.8L172.2 122.5L174.1 122.3L171.4 124.6Z" color="#51e40c"/>
<path d="M87.9 154.7L90.3 152.6L92.4 153L90 155.1Z" color="#066bee"/>
<path d="M200.2 106L203 103.6L204.7 102.3L202 104.7Z" color="#6a6543"/>
<path d="M121.1 143.5L123.6 141.3L125.5 141.8L123.1 144Z" color="#06ebef"/>
<path d="M149.8 133.3L152.4 131L154.3 131.3L151.7 133.6Z" color="#06ea12"/>
<path d="M92.4 153L94.7 150.8L96.8 151.3L94.4 153.4Z" color="#0686ee"/>
<path d="M189.4 113.5L192.1 111.1L193.9 110.4L191.2 112.7Z" color="#afcc17"/>
<path d="M174.1 122.3L176.8 120L178.6 119.7L175.9 122Z" color="#69e20d"/>
<path d="M125.5 141.8L128 139.6L130 140.1L127.5 142.4Z" color="#06ecc2"/>
<path d="M154.3 131.3L156.9 129L158.8 129.2L156.1 131.5Z" color="#15e90a"/>
<path d="M96.8 151.3L99.2 149.1L101.3 149.6L98.9 151.7Z" color="#06a1ee"/>
<path d="M130 140.1L132.5 137.9L134.5 138.4L132 140.7Z" color="#06ec91"/>
<path d="M158.8 129.2L161.4 126.9L163.2 127.1L160.6 129.4Z" color="#2ae80a"/>
<path d="M101.3 149.6L103.7 147.4L105.7 147.9L103.3 150.1Z" color="#06bbef"/>
<path d="M178.6 119.7L181.3 117.4L183.1 117L180.4 119.3Z" color="#83de0f"/>
<path d="M193.9 110.4L196.7 108L198.4 107L195.7 109.4Z" color="#bdbd1e"/>
<path d="M134.5 138.4L137 136.2L139 136.7L136.4 138.9Z" color="#06ec60"/>
<path d="M105.7 147.9L108.1 145.7L110.2 146.2L107.7 148.4Z" color="#06ccef"/>
<path d="M163.2 127.1L165.9 124.8L167.7 124.8L165.1 127.1Z" color="#40e70b"/>
<path d="M139 136.7L141.5 134.4L143.4 134.8L140.9 137.1Z" color="#06ec41"/>
<path d="M183.1 117L185.8 114.6L187.6 114.1L184.9 116.5Z" color="#9dda11"/>
<path d="M110.2 146.2L112.6 144L114.6 144.6L112.2 146.8Z" color="#06daef"/>
<path d="M81.4 156.3L83.7 154.1L85.8 154.4L83.5 156.5Z" color="#065fed"/>
<path d="M198.4 107L201.2 104.6L203 103.6L200.2 106Z" color="#a49629"/>
<path d="M143.4 134.8L146 132.6L147.9 133L145.3 135.2Z" color="#06eb22"/>
<path d="M167.7 124.8L170.4 122.5L172.2 122.5L169.6 124.8Z" color="#56e60b"/>
<path d="M114.6 144.6L117.1 142.4L119.1 142.9L116.6 145.1Z" color="#06e8ef"/>
<path d="M85.8 154.4L88.2 152.3L90.3 152.6L87.9 154.7Z" color="#067bed"/>
<path d="M147.9 133L150.5 130.7L152.4 131L149.8 133.3Z" color="#0beb09"/>
<path d="M187.6 114.1L190.3 111.8L192.1 111.1L189.4 113.5Z" color="#b5d513"/>
<path d="M119.1 142.9L121.6 140.7L123.6 141.3L121.1 143.5Z" color="#06ecce"/>
<path d="M172.2 122.5L174.9 120.1L176.8 120L174.1 122.3Z" color="#6fe40c"/>
<path d="M90.3 152.6L92.7 150.4L94.7 150.8L92.4 153Z" color="#0697ee"/>
<path d="M123.6 141.3L126.1 139.1L128 139.6L125.5 141.8Z" color="#06ec9f"/>
<path d="M203 103.6L205.8 101.1L207.5 99.9L204.7 102.3Z" color="#6b5f42"/>
<path d="M152.4 131L155 128.7L156.9 129L154.3 131.3Z" color="#1eea09"/>
<path d="M94.7 150.8L97.1 148.7L99.2 149.1L96.8 151.3Z" color="#06b3ee"/>
<path d="M192.1 111.1L194.9 108.7L196.7 108L193.9 110.4Z" color="#cacc17"/>
<path d="M128 139.6L130.6 137.4L132.5 137.9L130 140.1Z" color="#06ec6f"/>
<path d="M176.8 120L179.5 117.6L181.3 117.4L178.6 119.7Z" color="#88e20d"/>
<path d="M156.9 129L159.5 126.7L161.4 126.9L158.8 129.2Z" color="#32e90a"/>
<path d="M99.2 149.1L101.6 146.9L103.7 147.4L101.3 149.6Z" color="#06c8ee"/>
<path d="M132.5 137.9L135.1 135.7L137 136.2L134.5 138.4Z" color="#06ec4b"/>
<path d="M161.4 126.9L164 124.6L165.9 124.8L163.2 127.1Z" color="#47e90a"/>
<path d="M103.7 147.4L106.1 145.2L108.1 145.7L105.7 147.9Z" color="#06d6ef"/>
<path d="M181.3 117.4L184 115L185.8 114.6L183.1 117Z" color="#a1df0f"/>
<path d="M196.7 108L199.4 105.6L201.2 104.6L198.4 107Z" color="#bdad1d"/>
<path d="M137 136.2L139.6 133.9L141.5 134.4L139 136.7Z" color="#06ec2d"/>
<path d="M108.1 145.7L110.6 143.5L112.6 144L110.2 146.2Z" color="#06e5ef"/>
<path d="M79.3 156.1L81.6 154L83.7 154.1L81.4 156.3Z" color="#066dec"/>
<path d="M165.9 124.8L168.6 122.4L170.4 122.5L167.7 124.8Z" color="#5de70b"/>
<path d="M141.5 134.4L144.1 132.1L146 132.6L143.4 134.8Z" color="#06ec0f"/>
<path d="M185.8 114.6L188.5 112.2L190.3 111.8L187.6 114.1Z" color="#badb11"/>
<path d="M112.6 144L115.1 141.8L117.1 142.4L114.6 144.6Z" color="#06ecda"/>
<path d="M83.7 154.1L86.1 152L88.2 152.3L85.8 154.4Z" color="#068bed"/>
<path d="M146 132.6L148.6 130.3L150.5 130.7L147.9 133Z" color="#15eb09"/>
<path d="M201.2 104.6L204 102.2L205.8 101.1L203 103.6Z" color="#a48929"/>
<path d="M170.4 122.5L173.1 120.1L174.9 120.1L172.2 122.5Z" color="#75e60b"/>
<path d="M117.1 142.4L119.6 140.2L121.6 140.7L119.1 142.9Z" color="#06edab"/>
<path d="M88.2 152.3L90.6 150.1L92.7 150.4L90.3 152.6Z" color="#06a8ee"/>
<path d="M150.5 130.7L153.1 128.4L155 128.7L152.4 131Z" color="#28eb09"/>
<path d="M190.3 111.8L193.1 109.4L194.9 108.7L192.1 111.1Z" color="#d2d513"/>
<path d="M121.6 140.7L124.1 138.5L126.1 139.1L123.6 141.3Z" color="#06ed7b"/>
<path d="M174.9 120.1L177.6 117.8L179.5 117.6L176.8 120Z" color="#8ee40c"/>
<path d="M92.7 150.4L95.1 148.3L97.1 148.7L94.7 150.8Z" color="#06c3ee"/>
<path d="M126.1 139.1L128.6 136.8L130.6 137.4L128 139.6Z" color="#06ed54"/>
<path d="M155 128.7L157.6 126.4L159.5 126.7L156.9 129Z" color="#3bea09"/>
<path d="M205.8 101.1L208.6 98.7L210.4 97.4L207.5 99.9Z" color="#6b5942"/>
<path d="M97.1 148.7L99.5 146.5L101.6 146.9L99.2 149.1Z" color="#06d2ee"/>
<path d="M194.9 108.7L197.7 106.3L199.4 105.6L196.7 108Z" color="#cbbb17"/>
<path d="M130.6 137.4L133.1 135.1L135.1 135.7L132.5 137.9Z" color="#06ec37"/>
<path d="M179.5 117.6L182.2 115.2L184 115L181.3 117.4Z" color="#a6e20d"/>
<path d="M159.5 126.7L162.2 124.4L164 124.6L161.4 126.9Z" color="#4fea0a"/>
<path d="M101.6 146.9L104 144.7L106.1 145.2L103.7 147.4Z" color="#06e0ef"/>
<path d="M135.1 135.7L137.6 133.4L139.6 133.9L137 136.2Z" color="#06ec19"/>
<path d="M77.1 156L79.5 153.9L81.6 154L79.3 156.1Z" color="#077aec"/>
<path d="M164 124.6L166.7 122.3L168.6 122.4L165.9 124.8Z" color="#65e90a"/>
<path d="M106.1 145.2L108.6 143L110.6 143.5L108.1 145.7Z" color="#06ece6"/>
<path d="M184 115L186.7 112.6L188.5 112.2L185.8 114.6Z" color="#c0df0f"/>
<path d="M199.4 105.6L202.3 103.1L204 102.2L201.2 104.6Z" color="#bd9e1d"/>
<path d="M139.6 133.9L142.2 131.6L144.1 132.1L141.5 134.4Z" color="#0eec09"/>
<path d="M110.6 143.5L113.1 141.3L115.1 141.8L112.6 144Z" color="#06ecb6"/>
<path d="M81.6 154L84 151.8L86.1 152L83.7 154.1Z" color="#0699ec"/>
<path d="M168.6 122.4L171.3 120.1L173.1 120.1L170.4 122.5Z" color="#7ce80b"/>
<path d="M144.1 132.1L146.7 129.8L148.6 130.3L146 132.6Z" color="#20ec09"/>
<path d="M188.5 112.2L191.3 109.8L193.1 109.4L190.3 111.8Z" color="#d9db11"/>
<path d="M115.1 141.8L117.6 139.6L119.6 140.2L117.1 142.4Z" color="#06ed87"/>
<path d="M86.1 152L88.5 149.8L90.6 150.1L88.2 152.3Z" color="#06b7ed"/>
<path d="M148.6 130.3L151.2 128L153.1 128.4L150.5 130.7Z" color="#32eb09"/>
<path d="M204 102.2L206.8 99.8L208.6 98.7L205.8 101.1Z" color="#a57c28"/>
<path d="M173.1 120.1L175.8 117.8L177.6 117.8L174.9 120.1Z" color="#94e60b"/>
<path d="M119.6 140.2L122.1 137.9L124.1 138.5L121.6 140.7Z" color="#06ed5b"/>
<path d="M90.6 150.1L93 147.9L95.1 148.3L92.7 150.4Z" color="#06cbee"/>
<path d="M153.1 128.4L155.7 126.1L157.6 126.4L155 128.7Z" color="#45eb09"/>
<path d="M193.1 109.4L195.9 106.9L197.7 106.3L194.9 108.7Z" color="#d4c313"/>
<path d="M124.1 138.5L126.6 136.2L128.6 136.8L126.1 139.1Z" color="#05ed3e"/>
<path d="M177.6 117.8L180.4 115.4L182.2 115.2L179.5 117.6Z" color="#ace40c"/>
<path d="M95.1 148.3L97.5 146.1L99.5 146.5L97.1 148.7Z" color="#06dbee"/>
<path d="M128.6 136.8L131.1 134.5L133.1 135.1L130.6 137.4Z" color="#06ed21"/>
<path d="M157.6 126.4L160.3 124.1L162.2 124.4L159.5 126.7Z" color="#59ea09"/>
<path d="M208.6 98.7L211.5 96.2L213.2 95L210.4 97.4Z" color="#6b5242"/>
<path d="M99.5 146.5L102 144.3L104 144.7L101.6 146.9Z" color="#06eaee"/>
<path d="M197.7 106.3L200.5 103.9L202.3 103.1L199.4 105.6Z" color="#cba917"/>
<path d="M133.1 135.1L135.7 132.8L137.6 133.4L135.1 135.7Z" color="#08ed08"/>
<path d="M182.2 115.2L184.9 112.9L186.7 112.6L184 115Z" color="#c6e20d"/>
<path d="M75 156L77.3 153.8L79.5 153.9L77.1 156Z" color="#0786eb"/>
<path d="M162.2 124.4L164.8 122.1L166.7 122.3L164 124.6Z" color="#6eea0a"/>
<path d="M104 144.7L106.5 142.5L108.6 143L106.1 145.2Z" color="#06ecc4"/>
<path d="M137.6 133.4L140.2 131.1L142.2 131.6L139.6 133.9Z" color="#19ec08"/>
<path d="M79.5 153.9L81.8 151.7L84 151.8L81.6 154Z" color="#07a6ec"/>
<path d="M108.6 143L111 140.8L113.1 141.3L110.6 143.5Z" color="#06ec94"/>
<path d="M166.7 122.3L169.4 119.9L171.3 120.1L168.6 122.4Z" color="#85e90a"/>
<path d="M186.7 112.6L189.5 110.2L191.3 109.8L188.5 112.2Z" color="#dedf0f"/>
<path d="M142.2 131.6L144.8 129.3L146.7 129.8L144.1 132.1Z" color="#2bec09"/>
<path d="M202.3 103.1L205.1 100.7L206.8 99.8L204 102.2Z" color="#be8d1d"/>
<path d="M113.1 141.3L115.5 139.1L117.6 139.6L115.1 141.8Z" color="#06ed64"/>
<path d="M84 151.8L86.3 149.7L88.5 149.8L86.1 152Z" color="#06c3ed"/>
<path d="M171.3 120.1L174 117.7L175.8 117.8L173.1 120.1Z" color="#9ce80b"/>
<path d="M146.7 129.8L149.3 127.5L151.2 128L148.6 130.3Z" color="#3dec09"/>
<path d="M117.6 139.6L120.1 137.4L122.1 137.9L119.6 140.2Z" color="#06ed45"/>
<path d="M191.3 109.8L194.1 107.4L195.9 106.9L193.1 109.4Z" color="#dac810"/>
<path d="M88.5 149.8L90.9 147.7L93 147.9L90.6 150.1Z" color="#06d3ed"/>
<path d="M151.2 128L153.8 125.7L155.7 126.1L153.1 128.4Z" color="#4fec09"/>
<path d="M206.8 99.8L209.7 97.3L211.5 96.2L208.6 98.7Z" color="#a56e28"/>
<path d="M175.8 117.8L178.5 115.4L180.4 115.4L177.6 117.8Z" color="#b4e60b"/>
<path d="M122.1 137.9L124.6 135.7L126.6 136.2L124.1 138.5Z" color="#05ed29"/>
<path d="M93 147.9L95.4 145.8L97.5 146.1L95.1 148.3Z" color="#06e3ee"/>
<path d="M155.7 126.1L158.4 123.7L160.3 124.1L157.6 126.4Z" color="#63eb09"/>
<path d="M195.9 106.9L198.7 104.5L200.5 103.9L197.7 106.3Z" color="#d4b113"/>
<path d="M126.6 136.2L129.2 134L131.1 134.5L128.6 136.8Z" color="#05ed0c"/>
<path d="M180.4 115.4L183.1 113L184.9 112.9L182.2 115.2Z" color="#cce50c"/>
<path d="M97.5 146.1L99.9 143.9L102 144.3L99.5 146.5Z" color="#06ebd5"/>
<path d="M72.9 156.1L75.2 153.9L77.3 153.8L75 156Z" color="#0790ea"/>
<path d="M131.1 134.5L133.7 132.3L135.7 132.8L133.1 135.1Z" color="#14ed08"/>
<path d="M160.3 124.1L163 121.8L164.8 122.1L162.2 124.4Z" color="#78eb09"/>
<path d="M211.5 96.2L214.3 93.7L216.1 92.5L213.2 95Z" color="#6c4a42"/>
<path d="M102 144.3L104.4 142.1L106.5 142.5L104 144.7Z" color="#06eca3"/>
<path d="M200.5 103.9L203.3 101.4L205.1 100.7L202.3 103.1Z" color="#cc9717"/>
<path d="M135.7 132.8L138.3 130.5L140.2 131.1L137.6 133.4Z" color="#25ed08"/>
<path d="M184.9 112.9L187.7 110.4L189.5 110.2L186.7 112.6Z" color="#e2e00d"/>
<path d="M77.3 153.8L79.7 151.7L81.8 151.7L79.5 153.9Z" color="#07b2eb"/>
<path d="M164.8 122.1L167.5 119.7L169.4 119.9L166.7 122.3Z" color="#8eea0a"/>
<path d="M106.5 142.5L109 140.3L111 140.8L108.6 143Z" color="#06ec72"/>
<path d="M140.2 131.1L142.8 128.8L144.8 129.3L142.2 131.6Z" color="#37ed08"/>
<path d="M81.8 151.7L84.2 149.5L86.3 149.7L84 151.8Z" color="#07c9ec"/>
<path d="M111 140.8L113.5 138.5L115.5 139.1L113.1 141.3Z" color="#06ec4d"/>
<path d="M169.4 119.9L172.1 117.6L174 117.7L171.3 120.1Z" color="#a4e90a"/>
<path d="M189.5 110.2L192.3 107.8L194.1 107.4L191.3 109.8Z" color="#dfcb0e"/>
<path d="M144.8 129.3L147.4 127L149.3 127.5L146.7 129.8Z" color="#48ec09"/>
<path d="M205.1 100.7L207.9 98.2L209.7 97.3L206.8 99.8Z" color="#be7c1d"/>
<path d="M115.5 139.1L118.1 136.8L120.1 137.4L117.6 139.6Z" color="#06ed30"/>
<path d="M86.3 149.7L88.7 147.5L90.9 147.7L88.5 149.8Z" color="#06dbed"/>
<path d="M174 117.7L176.7 115.3L178.5 115.4L175.8 117.8Z" color="#bce80b"/>
<path d="M149.3 127.5L151.9 125.2L153.8 125.7L151.2 128Z" color="#5aec09"/>
<path d="M120.1 137.4L122.6 135.1L124.6 135.7L122.1 137.9Z" color="#05ed13"/>
<path d="M194.1 107.4L196.9 105L198.7 104.5L195.9 106.9Z" color="#dab510"/>
<path d="M90.9 147.7L93.3 145.5L95.4 145.8L93 147.9Z" color="#06ebeb"/>
<path d="M153.8 125.7L156.5 123.3L158.4 123.7L155.7 126.1Z" color="#6eec09"/>
<path d="M209.7 97.3L212.6 94.8L214.3 93.7L211.5 96.2Z" color="#a55c28"/>
<path d="M178.5 115.4L181.3 113L183.1 113L180.4 115.4Z" color="#d4e60b"/>
<path d="M124.6 135.7L127.2 133.4L129.2 134L126.6 136.2Z" color="#10ed08"/>
<path d="M70.7 156.2L73 154.1L75.2 153.9L72.9 156.1Z" color="#0898e9"/>
<path d="M95.4 145.8L97.8 143.5L99.9 143.9L97.5 146.1Z" color="#06ebb6"/>
<path d="M158.4 123.7L161.1 121.4L163 121.8L160.3 124.1Z" color="#83eb09"/>
<path d="M198.7 104.5L201.5 102.1L203.3 101.4L200.5 103.9Z" color="#d59d13"/>
<path d="M129.2 134L131.7 131.7L133.7 132.3L131.1 134.5Z" color="#21ed08"/>
<path d="M99.9 143.9L102.4 141.7L104.4 142.1L102 144.3Z" color="#06ec83"/>
<path d="M183.1 113L185.9 110.6L187.7 110.4L184.9 112.9Z" color="#e4df0c"/>
<path d="M75.2 153.9L77.6 151.8L79.7 151.7L77.3 153.8Z" color="#07bbea"/>
<path d="M133.7 132.3L136.3 130L138.3 130.5L135.7 132.8Z" color="#32ed08"/>
<path d="M163 121.8L165.7 119.4L167.5 119.7L164.8 122.1Z" color="#98eb09"/>
<path d="M214.3 93.7L217.2 91.2L219 90L216.1 92.5Z" color="#694043"/>
<path d="M104.4 142.1L106.9 139.8L109 140.3L106.5 142.5Z" color="#06ec56"/>
<path d="M138.3 130.5L140.9 128.2L142.8 128.8L140.2 131.1Z" color="#43ed08"/>
<path d="M203.3 101.4L206.1 99L207.9 98.2L205.1 100.7Z" color="#cc8517"/>
<path d="M79.7 151.7L82.1 149.5L84.2 149.5L81.8 151.7Z" color="#07cfeb"/>
<path d="M187.7 110.4L190.5 108L192.3 107.8L189.5 110.2Z" color="#e2cc0d"/>
<path d="M167.5 119.7L170.2 117.3L172.1 117.6L169.4 119.9Z" color="#aeea0a"/>
<path d="M109 140.3L111.5 138L113.5 138.5L111 140.8Z" color="#06ec39"/>
<path d="M142.8 128.8L145.4 126.5L147.4 127L144.8 129.3Z" color="#54ed08"/>
<path d="M84.2 149.5L86.6 147.4L88.7 147.5L86.3 149.7Z" color="#07e1ec"/>
<path d="M113.5 138.5L116 136.3L118.1 136.8L115.5 139.1Z" color="#06ed1b"/>
<path d="M172.1 117.6L174.8 115.2L176.7 115.3L174 117.7Z" color="#c5e90a"/>
<path d="M192.3 107.8L195.1 105.3L196.9 105L194.1 107.4Z" color="#dfb70e"/>
<path d="M147.4 127L150 124.7L151.9 125.2L149.3 127.5Z" color="#66ec08"/>
<path d="M207.9 98.2L210.8 95.7L212.6 94.8L209.7 97.3Z" color="#be661d"/>
<path d="M118.1 136.8L120.6 134.5L122.6 135.1L120.1 137.4Z" color="#0bed08"/>
<path d="M88.7 147.5L91.2 145.3L93.3 145.5L90.9 147.7Z" color="#06ead0"/>
<path d="M176.7 115.3L179.4 112.9L181.3 113L178.5 115.4Z" color="#dce80a"/>
<path d="M151.9 125.2L154.6 122.8L156.5 123.3L153.8 125.7Z" color="#7aec09"/>
<path d="M68.5 156.5L70.9 154.4L73 154.1L70.7 156.2Z" color="#089fe7"/>
<path d="M122.6 135.1L125.2 132.8L127.2 133.4L124.6 135.7Z" color="#1ced08"/>
<path d="M196.9 105L199.7 102.5L201.5 102.1L198.7 104.5Z" color="#dba110"/>
<path d="M93.3 145.5L95.7 143.3L97.8 143.5L95.4 145.8Z" color="#06eb9a"/>
<path d="M156.5 123.3L159.2 121L161.1 121.4L158.4 123.7Z" color="#8eec09"/>
<path d="M212.6 94.8L215.4 92.3L217.2 91.2L214.3 93.7Z" color="#a44829"/>
<path d="M181.3 113L184 110.6L185.9 110.6L183.1 113Z" color="#e6dd0b"/>
<path d="M127.2 133.4L129.7 131.1L131.7 131.7L129.2 134Z" color="#2ded08"/>
<path d="M73 154.1L75.4 152L77.6 151.8L75.2 153.9Z" color="#08c0e9"/>
<path d="M97.8 143.5L100.3 141.3L102.4 141.7L99.9 143.9Z" color="#06eb65"/>
<path d="M161.1 121.4L163.8 119L165.7 119.4L163 121.8Z" color="#a3eb09"/>
<path d="M131.7 131.7L134.3 129.4L136.3 130L133.7 132.3Z" color="#3eed08"/>
<path d="M201.5 102.1L204.4 99.6L206.1 99L203.3 101.4Z" color="#d58a13"/>
<path d="M102.4 141.7L104.8 139.4L106.9 139.8L104.4 142.1Z" color="#06ec44"/>
<path d="M185.9 110.6L188.7 108.1L190.5 108L187.7 110.4Z" color="#e4cb0c"/>
<path d="M77.6 151.8L79.9 149.6L82.1 149.5L79.7 151.7Z" color="#07d4ea"/>
<path d="M136.3 130L138.9 127.6L140.9 128.2L138.3 130.5Z" color="#4fed08"/>
<path d="M165.7 119.4L168.4 117L170.2 117.3L167.5 119.7Z" color="#b8eb09"/>
<path d="M217.2 91.2L220.1 88.7L221.9 87.5L219 90Z" color="#623746"/>
<path d="M106.9 139.8L109.4 137.6L111.5 138L109 140.3Z" color="#06ec25"/>
<path d="M140.9 128.2L143.5 125.9L145.4 126.5L142.8 128.8Z" color="#60ed08"/>
<path d="M82.1 149.5L84.5 147.3L86.6 147.4L84.2 149.5Z" color="#07e7eb"/>
<path d="M206.1 99L209 96.5L210.8 95.7L207.9 98.2Z" color="#cc6c17"/>
<path d="M190.5 108L193.3 105.6L195.1 105.3L192.3 107.8Z" color="#e2b70d"/>
<path d="M170.2 117.3L173 114.9L174.8 115.2L172.1 117.6Z" color="#ceea0a"/>
<path d="M111.5 138L114 135.8L116 136.3L113.5 138.5Z" color="#06ec08"/>
<path d="M145.4 126.5L148.1 124.1L150 124.7L147.4 127Z" color="#73ed08"/>
<path d="M86.6 147.4L89 145.2L91.2 145.3L88.7 147.5Z" color="#07e9b7"/>
<path d="M116 136.3L118.5 134L120.6 134.5L118.1 136.8Z" color="#18ed08"/>
<path d="M66.4 157L68.7 154.9L70.9 154.4L68.5 156.5Z" color="#09a2e5"/>
<path d="M174.8 115.2L177.6 112.8L179.4 112.9L176.7 115.3Z" color="#e5e90a"/>
<path d="M195.1 105.3L197.9 102.9L199.7 102.5L196.9 105Z" color="#dfa20e"/>
<path d="M150 124.7L152.7 122.3L154.6 122.8L151.9 125.2Z" color="#87ed08"/>
<path d="M210.8 95.7L213.7 93.2L215.4 92.3L212.6 94.8Z" color="#bd4e1d"/>
<path d="M91.2 145.3L93.6 143.1L95.7 143.3L93.3 145.5Z" color="#06ea7f"/>
<path d="M120.6 134.5L123.1 132.3L125.2 132.8L122.6 135.1Z" color="#29ed08"/>
<path d="M179.4 112.9L182.2 110.5L184 110.6L181.3 113Z" color="#e8da0a"/>
<path d="M154.6 122.8L157.3 120.5L159.2 121L156.5 123.3Z" color="#9aec09"/>
<path d="M70.9 154.4L73.2 152.3L75.4 152L73 154.1Z" color="#08c2e7"/>
<path d="M125.2 132.8L127.7 130.5L129.7 131.1L127.2 133.4Z" color="#39ed08"/>
<path d="M199.7 102.5L202.6 100.1L204.4 99.6L201.5 102.1Z" color="#db8c10"/>
<path d="M95.7 143.3L98.2 141.1L100.3 141.3L97.8 143.5Z" color="#06eb52"/>
<path d="M159.2 121L161.9 118.6L163.8 119L161.1 121.4Z" color="#aeec09"/>
<path d="M215.4 92.3L218.4 89.8L220.1 88.7L217.2 91.2Z" color="#9d312c"/>
<path d="M129.7 131.1L132.3 128.8L134.3 129.4L131.7 131.7Z" color="#4aed08"/>
<path d="M184 110.6L186.8 108.2L188.7 108.1L185.9 110.6Z" color="#e6c90b"/>
<path d="M75.4 152L77.8 149.8L79.9 149.6L77.6 151.8Z" color="#08d7e9"/>
<path d="M100.3 141.3L102.7 139.1L104.8 139.4L102.4 141.7Z" color="#06eb32"/>
<path d="M163.8 119L166.5 116.6L168.4 117L165.7 119.4Z" color="#c3ec09"/>
<path d="M134.3 129.4L136.9 127.1L138.9 127.6L136.3 130Z" color="#5bed08"/>
<path d="M204.4 99.6L207.2 97.1L209 96.5L206.1 99Z" color="#d57013"/>
<path d="M104.8 139.4L107.3 137.2L109.4 137.6L106.9 139.8Z" color="#06ec12"/>
<path d="M188.7 108.1L191.5 105.7L193.3 105.6L190.5 108Z" color="#e4b60c"/>
<path d="M79.9 149.6L82.3 147.4L84.5 147.3L82.1 149.5Z" color="#07e7dd"/>
<path d="M138.9 127.6L141.5 125.3L143.5 125.9L140.9 128.2Z" color="#6eed08"/>
<path d="M168.4 117L171.1 114.6L173 114.9L170.2 117.3Z" color="#d9eb09"/>
<path d="M220.1 88.7L223.1 86.2L224.8 84.9L221.9 87.5Z" color="#58364a"/>
<path d="M109.4 137.6L111.9 135.3L114 135.8L111.5 138Z" color="#12ec09"/>
<path d="M64.2 157.6L66.5 155.4L68.7 154.9L66.4 157Z" color="#0aa4e2"/>
<path d="M84.5 147.3L86.9 145.2L89 145.2L86.6 147.4Z" color="#07e8a1"/>
<path d="M143.5 125.9L146.1 123.6L148.1 124.1L145.4 126.5Z" color="#80ed08"/>
<path d="M209 96.5L211.9 94L213.7 93.2L210.8 95.7Z" color="#cb5317"/>
<path d="M193.3 105.6L196.1 103.1L197.9 102.9L195.1 105.3Z" color="#e2a20d"/>
<path d="M173 114.9L175.7 112.5L177.6 112.8L174.8 115.2Z" color="#eae709"/>
<path d="M114 135.8L116.5 133.5L118.5 134L116 136.3Z" color="#23ed08"/>
<path d="M148.1 124.1L150.7 121.8L152.7 122.3L150 124.7Z" color="#93ed08"/>
<path d="M89 145.2L91.5 143L93.6 143.1L91.2 145.3Z" color="#07e967"/>
<path d="M118.5 134L121.1 131.7L123.1 132.3L120.6 134.5Z" color="#35ed08"/>
<path d="M68.7 154.9L71 152.7L73.2 152.3L70.9 154.4Z" color="#09c3e5"/>
<path d="M177.6 112.8L180.4 110.3L182.2 110.5L179.4 112.9Z" color="#e9d60a"/>
<path d="M197.9 102.9L200.8 100.4L202.6 100.1L199.7 102.5Z" color="#df8d0e"/>
<path d="M152.7 122.3L155.3 120L157.3 120.5L154.6 122.8Z" color="#a7ed08"/>
<path d="M213.7 93.2L216.6 90.7L218.4 89.8L215.4 92.3Z" color="#b73120"/>
<path d="M93.6 143.1L96 140.9L98.2 141.1L95.7 143.3Z" color="#06ea42"/>
<path d="M123.1 132.3L125.7 129.9L127.7 130.5L125.2 132.8Z" color="#46ed08"/>
<path d="M182.2 110.5L185 108.1L186.8 108.2L184 110.6Z" color="#e8c50a"/>
<path d="M157.3 120.5L160 118.1L161.9 118.6L159.2 121Z" color="#bbec08"/>
<path d="M73.2 152.3L75.6 150.1L77.8 149.8L75.4 152Z" color="#08d9e7"/>
<path d="M127.7 130.5L130.3 128.2L132.3 128.8L129.7 131.1Z" color="#57ed08"/>
<path d="M98.2 141.1L100.6 138.8L102.7 139.1L100.3 141.3Z" color="#06eb21"/>
<path d="M202.6 100.1L205.4 97.6L207.2 97.1L204.4 99.6Z" color="#db7210"/>
<path d="M161.9 118.6L164.6 116.2L166.5 116.6L163.8 119Z" color="#cfec09"/>
<path d="M218.4 89.8L221.3 87.2L223.1 86.2L220.1 88.7Z" color="#942730"/>
<path d="M132.3 128.8L134.9 126.5L136.9 127.1L134.3 129.4Z" color="#69ed08"/>
<path d="M186.8 108.2L189.7 105.7L191.5 105.7L188.7 108.1Z" color="#e6b30b"/>
<path d="M77.8 149.8L80.2 147.6L82.3 147.4L79.9 149.6Z" color="#08e5cc"/>
<path d="M102.7 139.1L105.2 136.8L107.3 137.2L104.8 139.4Z" color="#0beb09"/>
<path d="M166.5 116.6L169.2 114.2L171.1 114.6L168.4 117Z" color="#e4ec09"/>
<path d="M136.9 127.1L139.5 124.7L141.5 125.3L138.9 127.6Z" color="#7bed08"/>
<path d="M207.2 97.1L210.1 94.6L211.9 94L209 96.5Z" color="#d45513"/>
<path d="M62 158.3L64.3 156.1L66.5 155.4L64.2 157.6Z" color="#0ba3df"/>
<path d="M107.3 137.2L109.8 134.9L111.9 135.3L109.4 137.6Z" color="#1dec09"/>
<path d="M82.3 147.4L84.7 145.2L86.9 145.2L84.5 147.3Z" color="#07e78e"/>
<path d="M191.5 105.7L194.3 103.2L196.1 103.1L193.3 105.6Z" color="#e5a10c"/>
<path d="M141.5 125.3L144.1 123L146.1 123.6L143.5 125.9Z" color="#8eed08"/>
<path d="M171.1 114.6L173.9 112.2L175.7 112.5L173 114.9Z" color="#ebe109"/>
<path d="M223.1 86.2L226 83.6L227.8 82.4L224.8 84.9Z" color="#4e384f"/>
<path d="M111.9 135.3L114.4 133L116.5 133.5L114 135.8Z" color="#2fec09"/>
<path d="M66.5 155.4L68.9 153.3L71 152.7L68.7 154.9Z" color="#0ac3e2"/>
<path d="M86.9 145.2L89.3 142.9L91.5 143L89 145.2Z" color="#07e857"/>
<path d="M146.1 123.6L148.8 121.2L150.7 121.8L148.1 124.1Z" color="#a1ed08"/>
<path d="M211.9 94L214.8 91.4L216.6 90.7L213.7 93.2Z" color="#c6331a"/>
<path d="M196.1 103.1L199 100.6L200.8 100.4L197.9 102.9Z" color="#e28c0d"/>
<path d="M175.7 112.5L178.5 110.1L180.4 110.3L177.6 112.8Z" color="#ead109"/>
<path d="M116.5 133.5L119 131.2L121.1 131.7L118.5 134Z" color="#40ed08"/>
<path d="M150.7 121.8L153.4 119.4L155.3 120L152.7 122.3Z" color="#b4ed08"/>
<path d="M91.5 143L93.9 140.7L96 140.9L93.6 143.1Z" color="#07e934"/>
<path d="M121.1 131.7L123.7 129.4L125.7 129.9L123.1 132.3Z" color="#52ed08"/>
<path d="M71 152.7L73.4 150.5L75.6 150.1L73.2 152.3Z" color="#09dae5"/>
<path d="M180.4 110.3L183.2 107.9L185 108.1L182.2 110.5Z" color="#e9c10a"/>
<path d="M200.8 100.4L203.7 97.9L205.4 97.6L202.6 100.1Z" color="#df710e"/>
<path d="M155.3 120L158 117.6L160 118.1L157.3 120.5Z" color="#c7ed08"/>
<path d="M216.6 90.7L219.5 88.2L221.3 87.2L218.4 89.8Z" color="#ae2224"/>
<path d="M96 140.9L98.5 138.6L100.6 138.8L98.2 141.1Z" color="#06ea11"/>
<path d="M125.7 129.9L128.3 127.6L130.3 128.2L127.7 130.5Z" color="#64ed08"/>
<path d="M75.6 150.1L78 147.9L80.2 147.6L77.8 149.8Z" color="#08e4be"/>
<path d="M185 108.1L187.8 105.6L189.7 105.7L186.8 108.2Z" color="#e8b00a"/>
<path d="M160 118.1L162.7 115.7L164.6 116.2L161.9 118.6Z" color="#dced08"/>
<path d="M130.3 128.2L132.9 125.9L134.9 126.5L132.3 128.8Z" color="#76ed08"/>
<path d="M100.6 138.8L103.1 136.6L105.2 136.8L102.7 139.1Z" color="#15eb09"/>
<path d="M205.4 97.6L208.3 95.1L210.1 94.6L207.2 97.1Z" color="#da5610"/>
<path d="M164.6 116.2L167.3 113.8L169.2 114.2L166.5 116.6Z" color="#ece909"/>
<path d="M221.3 87.2L224.2 84.7L226 83.6L223.1 86.2Z" color="#892535"/>
<path d="M134.9 126.5L137.5 124.1L139.5 124.7L136.9 127.1Z" color="#89ed08"/>
<path d="M189.7 105.7L192.5 103.2L194.3 103.2L191.5 105.7Z" color="#e79e0b"/>
<path d="M80.2 147.6L82.6 145.4L84.7 145.2L82.3 147.4Z" color="#08e67e"/>
<path d="M105.2 136.8L107.7 134.6L109.8 134.9L107.3 137.2Z" color="#28ec09"/>
<path d="M169.2 114.2L172 111.8L173.9 112.2L171.1 114.6Z" color="#ebdb09"/>
<path d="M139.5 124.7L142.2 122.4L144.1 123L141.5 125.3Z" color="#9bed08"/>
<path d="M64.3 156.1L66.7 154L68.9 153.3L66.5 155.4Z" color="#0bc0df"/>
<path d="M210.1 94.6L213 92.1L214.8 91.4L211.9 94Z" color="#cf3315"/>
<path d="M109.8 134.9L112.4 132.6L114.4 133L111.9 135.3Z" color="#3aec09"/>
<path d="M84.7 145.2L87.2 143L89.3 142.9L86.9 145.2Z" color="#07e74c"/>
<path d="M194.3 103.2L197.2 100.7L199 100.6L196.1 103.1Z" color="#e5890c"/>
<path d="M144.1 123L146.8 120.6L148.8 121.2L146.1 123.6Z" color="#aeed08"/>
<path d="M173.9 112.2L176.6 109.8L178.5 110.1L175.7 112.5Z" color="#ebcc09"/>
<path d="M226 83.6L229 81L230.7 79.8L227.8 82.4Z" color="#4d384f"/>
<path d="M114.4 133L117 130.7L119 131.2L116.5 133.5Z" color="#4cec08"/>
<path d="M68.9 153.3L71.2 151.1L73.4 150.5L71 152.7Z" color="#0ad9e3"/>
<path d="M89.3 142.9L91.8 140.7L93.9 140.7L91.5 143Z" color="#07e827"/>
<path d="M148.8 121.2L151.5 118.8L153.4 119.4L150.7 121.8Z" color="#c1ed08"/>
<path d="M214.8 91.4L217.8 88.9L219.5 88.2L216.6 90.7Z" color="#bd201e"/>
<path d="M199 100.6L201.9 98.1L203.7 97.9L200.8 100.4Z" color="#e3700d"/>
<path d="M178.5 110.1L181.3 107.6L183.2 107.9L180.4 110.3Z" color="#eabc09"/>
<path d="M119 131.2L121.6 128.9L123.7 129.4L121.1 131.7Z" color="#5eed08"/>
<path d="M153.4 119.4L156.1 117L158 117.6L155.3 120Z" color="#d5ed08"/>
<path d="M93.9 140.7L96.4 138.5L98.5 138.6L96 140.9Z" color="#0ae90a"/>
<path d="M73.4 150.5L75.8 148.4L78 147.9L75.6 150.1Z" color="#09e1b3"/>
<path d="M123.7 129.4L126.2 127.1L128.3 127.6L125.7 129.9Z" color="#71ed08"/>
<path d="M183.2 107.9L186 105.4L187.8 105.6L185 108.1Z" color="#e9ab0a"/>
<path d="M203.7 97.9L206.5 95.4L208.3 95.1L205.4 97.6Z" color="#de540f"/>
<path d="M158 117.6L160.8 115.2L162.7 115.7L160 118.1Z" color="#e9ed08"/>
<path d="M219.5 88.2L222.5 85.6L224.2 84.7L221.3 87.2Z" color="#a31d29"/>
<path d="M98.5 138.6L101 136.3L103.1 136.6L100.6 138.8Z" color="#1eea09"/>
<path d="M128.3 127.6L130.9 125.3L132.9 125.9L130.3 128.2Z" color="#83ed08"/>
<path d="M78 147.9L80.4 145.7L82.6 145.4L80.2 147.6Z" color="#08e471"/>
<path d="M187.8 105.6L190.7 103.1L192.5 103.2L189.7 105.7Z" color="#e89a0a"/>
<path d="M162.7 115.7L165.4 113.3L167.3 113.8L164.6 116.2Z" color="#ece208"/>
<path d="M132.9 125.9L135.5 123.5L137.5 124.1L134.9 126.5Z" color="#96ed08"/>
<path d="M103.1 136.6L105.6 134.3L107.7 134.6L105.2 136.8Z" color="#31eb09"/>
<path d="M208.3 95.1L211.3 92.5L213 92.1L210.1 94.6Z" color="#d53213"/>
<path d="M167.3 113.8L170.1 111.3L172 111.8L169.2 114.2Z" color="#ecd409"/>
<path d="M137.5 124.1L140.2 121.7L142.2 122.4L139.5 124.7Z" color="#a9ed08"/>
<path d="M224.2 84.7L227.2 82.1L229 81L226 83.6Z" color="#7d2839"/>
<path d="M82.6 145.4L85 143.2L87.2 143L84.7 145.2Z" color="#08e643"/>
<path d="M192.5 103.2L195.3 100.7L197.2 100.7L194.3 103.2Z" color="#e7850b"/>
<path d="M107.7 134.6L110.3 132.3L112.4 132.6L109.8 134.9Z" color="#44ec09"/>
<path d="M172 111.8L174.8 109.4L176.6 109.8L173.9 112.2Z" color="#ebc509"/>
<path d="M142.2 122.4L144.8 120L146.8 120.6L144.1 123Z" color="#bced08"/>
<path d="M66.7 154L69 151.8L71.2 151.1L68.9 153.3Z" color="#0bd5df"/>
<path d="M213 92.1L216 89.5L217.8 88.9L214.8 91.4Z" color="#c61f19"/>
<path d="M112.4 132.6L114.9 130.3L117 130.7L114.4 133Z" color="#57ec09"/>
<path d="M87.2 143L89.6 140.8L91.8 140.7L89.3 142.9Z" color="#07e71c"/>
<path d="M197.2 100.7L200 98.2L201.9 98.1L199 100.6Z" color="#e56c0c"/>
<path d="M146.8 120.6L149.5 118.2L151.5 118.8L148.8 121.2Z" color="#cfed08"/>
<path d="M176.6 109.8L179.4 107.3L181.3 107.6L178.5 110.1Z" color="#ebb609"/>
<path d="M229 81L232 78.4L233.7 77.2L230.7 79.8Z" color="#4d384f"/>
<path d="M117 130.7L119.5 128.4L121.6 128.9L119 131.2Z" color="#6aed08"/>
<path d="M71.2 151.1L73.6 148.9L75.8 148.4L73.4 150.5Z" color="#0adeac"/>
<path d="M91.8 140.7L94.2 138.5L96.4 138.5L93.9 140.7Z" color="#12e90a"/>
<path d="M151.5 118.8L154.2 116.4L156.1 117L153.4 119.4Z" color="#e2ed08"/>
<path d="M217.8 88.9L220.7 86.3L222.5 85.6L219.5 88.2Z" color="#b21822"/>
<path d="M201.9 98.1L204.7 95.6L206.5 95.4L203.7 97.9Z" color="#e1510d"/>
<path d="M181.3 107.6L184.1 105.2L186 105.4L183.2 107.9Z" color="#eaa609"/>
<path d="M121.6 128.9L124.2 126.6L126.2 127.1L123.7 129.4Z" color="#7ded08"/>
<path d="M156.1 117L158.8 114.6L160.8 115.2L158 117.6Z" color="#ede708"/>
<path d="M96.4 138.5L98.9 136.2L101 136.3L98.5 138.6Z" color="#26ea0a"/>
<path d="M75.8 148.4L78.2 146.2L80.4 145.7L78 147.9Z" color="#09e168"/>
<path d="M126.2 127.1L128.8 124.7L130.9 125.3L128.3 127.6Z" color="#90ed08"/>
<path d="M186 105.4L188.8 102.9L190.7 103.1L187.8 105.6Z" color="#e9960a"/>
<path d="M206.5 95.4L209.5 92.9L211.3 92.5L208.3 95.1Z" color="#d93011"/>
<path d="M160.8 115.2L163.5 112.7L165.4 113.3L162.7 115.7Z" color="#edda08"/>
<path d="M222.5 85.6L225.5 83L227.2 82.1L224.2 84.7Z" color="#97202e"/>
<path d="M101 136.3L103.5 134.1L105.6 134.3L103.1 136.6Z" color="#3aea09"/>
<path d="M130.9 125.3L133.5 122.9L135.5 123.5L132.9 125.9Z" color="#a3ed08"/>
<path d="M80.4 145.7L82.8 143.5L85 143.2L82.6 145.4Z" color="#08e43b"/>
<path d="M190.7 103.1L193.5 100.6L195.3 100.7L192.5 103.2Z" color="#e87f0a"/>
<path d="M165.4 113.3L168.2 110.8L170.1 111.3L167.3 113.8Z" color="#eccc08"/>
<path d="M135.5 123.5L138.2 121.1L140.2 121.7L137.5 124.1Z" color="#b6ed08"/>
<path d="M105.6 134.3L108.2 132L110.3 132.3L107.7 134.6Z" color="#4eeb09"/>
<path d="M211.3 92.5L214.2 90L216 89.5L213 92.1Z" color="#cc1d17"/>
<path d="M170.1 111.3L172.9 108.9L174.8 109.4L172 111.8Z" color="#ecbe08"/>
<path d="M140.2 121.7L142.8 119.4L144.8 120L142.2 122.4Z" color="#c9ed08"/>
<path d="M85 143.2L87.5 141L89.6 140.8L87.2 143Z" color="#08e614"/>
<path d="M227.2 82.1L230.2 79.5L232 78.4L229 81Z" color="#742b3d"/>
<path d="M195.3 100.7L198.2 98.2L200 98.2L197.2 100.7Z" color="#e7680b"/>
<path d="M110.3 132.3L112.8 130L114.9 130.3L112.4 132.6Z" color="#61ec09"/>
<path d="M69 151.8L71.4 149.7L73.6 148.9L71.2 151.1Z" color="#0bdaa7"/>
<path d="M174.8 109.4L177.6 106.9L179.4 107.3L176.6 109.8Z" color="#ecaf09"/>
<path d="M144.8 120L147.5 117.6L149.5 118.2L146.8 120.6Z" color="#ddee08"/>
<path d="M216 89.5L218.9 86.9L220.7 86.3L217.8 88.9Z" color="#bb151e"/>
<path d="M114.9 130.3L117.5 128L119.5 128.4L117 130.7Z" color="#76ec09"/>
<path d="M89.6 140.8L92.1 138.5L94.2 138.5L91.8 140.7Z" color="#19e70b"/>
<path d="M200 98.2L202.9 95.7L204.7 95.6L201.9 98.1Z" color="#e34c0d"/>
<path d="M149.5 118.2L152.2 115.8L154.2 116.4L151.5 118.8Z" color="#edec08"/>
<path d="M179.4 107.3L182.3 104.8L184.1 105.2L181.3 107.6Z" color="#eba009"/>
<path d="M119.5 128.4L122.1 126.1L124.2 126.6L121.6 128.9Z" color="#8aed08"/>
<path d="M232 78.4L235 75.8L236.8 74.6L233.7 77.2Z" color="#4d384f"/>
<path d="M73.6 148.9L76 146.8L78.2 146.2L75.8 148.4Z" color="#0ade62"/>
<path d="M94.2 138.5L96.7 136.2L98.9 136.2L96.4 138.5Z" color="#2ee90a"/>
<path d="M154.2 116.4L156.9 114L158.8 114.6L156.1 117Z" color="#eddf08"/>
<path d="M220.7 86.3L223.7 83.8L225.5 83L222.5 85.6Z" color="#a61c27"/>
<path d="M204.7 95.6L207.7 93.1L209.5 92.9L206.5 95.4Z" color="#db2d10"/>
<path d="M124.2 126.6L126.8 124.2L128.8 124.7L126.2 127.1Z" color="#9ded08"/>
<path d="M184.1 105.2L187 102.7L188.8 102.9L186 105.4Z" color="#ea8e09"/>
<path d="M158.8 114.6L161.6 112.2L163.5 112.7L160.8 115.2Z" color="#edd208"/>
<path d="M98.9 136.2L101.4 133.9L103.5 134.1L101 136.3Z" color="#43ea0a"/>
<path d="M78.2 146.2L80.7 144L82.8 143.5L80.4 145.7Z" color="#09e136"/>
<path d="M128.8 124.7L131.5 122.4L133.5 122.9L130.9 125.3Z" color="#b0ed08"/>
<path d="M188.8 102.9L191.7 100.4L193.5 100.6L190.7 103.1Z" color="#e9790a"/>
<path d="M209.5 92.9L212.4 90.3L214.2 90L211.3 92.5Z" color="#cf1c15"/>
<path d="M163.5 112.7L166.3 110.3L168.2 110.8L165.4 113.3Z" color="#edc408"/>
<path d="M225.5 83L228.5 80.4L230.2 79.5L227.2 82.1Z" color="#8e2332"/>
<path d="M103.5 134.1L106 131.8L108.2 132L105.6 134.3Z" color="#57eb09"/>
<path d="M133.5 122.9L136.2 120.6L138.2 121.1L135.5 123.5Z" color="#c4ed08"/>
<path d="M82.8 143.5L85.3 141.3L87.5 141L85 143.2Z" color="#08e40d"/>
<path d="M168.2 110.8L171 108.4L172.9 108.9L170.1 111.3Z" color="#ecb608"/>
<path d="M193.5 100.6L196.4 98.1L198.2 98.2L195.3 100.7Z" color="#e8620a"/>
<path d="M138.2 121.1L140.8 118.8L142.8 119.4L140.2 121.7Z" color="#d7ee08"/>
<path d="M108.2 132L110.7 129.7L112.8 130L110.3 132.3Z" color="#6ceb09"/>
<path d="M214.2 90L217.2 87.4L218.9 86.9L216 89.5Z" color="#c1141c"/>
<path d="M172.9 108.9L175.7 106.4L177.6 106.9L174.8 109.4Z" color="#eca808"/>
<path d="M87.5 141L89.9 138.7L92.1 138.5L89.6 140.8Z" color="#1ee60b"/>
<path d="M142.8 119.4L145.5 117L147.5 117.6L144.8 120Z" color="#ebee08"/>
<path d="M230.2 79.5L233.3 76.9L235 75.8L232 78.4Z" color="#6f2d3f"/>
<path d="M198.2 98.2L201.1 95.7L202.9 95.7L200 98.2Z" color="#e4460c"/>
<path d="M112.8 130L115.4 127.6L117.5 128L114.9 130.3Z" color="#81ec09"/>
<path d="M71.4 149.7L73.8 147.5L76 146.8L73.6 148.9Z" color="#0bda5f"/>
<path d="M147.5 117.6L150.2 115.2L152.2 115.8L149.5 118.2Z" color="#ede308"/>
<path d="M177.6 106.9L180.4 104.4L182.3 104.8L179.4 107.3Z" color="#ec9909"/>
<path d="M218.9 86.9L221.9 84.4L223.7 83.8L220.7 86.3Z" color="#af1923"/>
<path d="M117.5 128L120.1 125.7L122.1 126.1L119.5 128.4Z" color="#95ec09"/>
<path d="M92.1 138.5L94.6 136.3L96.7 136.2L94.2 138.5Z" color="#34e70b"/>
<path d="M202.9 95.7L205.9 93.2L207.7 93.1L204.7 95.6Z" color="#dc2710"/>
<path d="M152.2 115.8L154.9 113.4L156.9 114L154.2 116.4Z" color="#edd608"/>
<path d="M182.3 104.8L185.1 102.3L187 102.7L184.1 105.2Z" color="#eb8609"/>
<path d="M122.1 126.1L124.7 123.7L126.8 124.2L124.2 126.6Z" color="#a9ed08"/>
<path d="M235 75.8L238.1 73.2L239.8 71.9L236.8 74.6Z" color="#4d384f"/>
<path d="M76 146.8L78.5 144.5L80.7 144L78.2 146.2Z" color="#0ade34"/>
<path d="M96.7 136.2L99.2 133.9L101.4 133.9L98.9 136.2Z" color="#4ae90a"/>
<path d="M156.9 114L159.6 111.5L161.6 112.2L158.8 114.6Z" color="#edc908"/>
<path d="M223.7 83.8L226.7 81.1L228.5 80.4L225.5 83Z" color="#9c1e2b"/>
<path d="M207.7 93.1L210.6 90.5L212.4 90.3L209.5 92.9Z" color="#d11914"/>
<path d="M126.8 124.2L129.4 121.8L131.5 122.4L128.8 124.7Z" color="#bded08"/>
<path d="M187 102.7L189.8 100.2L191.7 100.4L188.8 102.9Z" color="#ea7109"/>
<path d="M161.6 112.2L164.3 109.7L166.3 110.3L163.5 112.7Z" color="#edbc08"/>
<path d="M101.4 133.9L103.9 131.7L106 131.8L103.5 134.1Z" color="#5fea0a"/>
<path d="M80.7 144L83.1 141.7L85.3 141.3L82.8 143.5Z" color="#0ce20d"/>
<path d="M131.5 122.4L134.1 120L136.2 120.6L133.5 122.9Z" color="#d1ed08"/>
<path d="M191.7 100.4L194.6 97.9L196.4 98.1L193.5 100.6Z" color="#e95b0a"/>
<path d="M212.4 90.3L215.4 87.7L217.2 87.4L214.2 90Z" color="#c4121a"/>
<path d="M166.3 110.3L169 107.8L171 108.4L168.2 110.8Z" color="#edae08"/>
<path d="M106 131.8L108.6 129.5L110.7 129.7L108.2 132Z" color="#75eb09"/>
<path d="M228.5 80.4L231.5 77.8L233.3 76.9L230.2 79.5Z" color="#872534"/>
<path d="M136.2 120.6L138.8 118.2L140.8 118.8L138.2 121.1Z" color="#e5ed08"/>
<path d="M85.3 141.3L87.8 139L89.9 138.7L87.5 141Z" color="#23e40c"/>
<path d="M171 108.4L173.8 105.9L175.7 106.4L172.9 108.9Z" color="#eda008"/>
<path d="M196.4 98.1L199.3 95.6L201.1 95.7L198.2 98.2Z" color="#e43e0c"/>
<path d="M140.8 118.8L143.5 116.4L145.5 117L142.8 119.4Z" color="#ede608"/>
<path d="M110.7 129.7L113.3 127.3L115.4 127.6L112.8 130Z" color="#8beb09"/>
<path d="M217.2 87.4L220.1 84.8L221.9 84.4L218.9 86.9Z" color="#b41721"/>
<path d="M175.7 106.4L178.5 103.9L180.4 104.4L177.6 106.9Z" color="#ec9008"/>
<path d="M89.9 138.7L92.4 136.5L94.6 136.3L92.1 138.5Z" color="#3ae60b"/>
<path d="M145.5 117L148.2 114.5L150.2 115.2L147.5 117.6Z" color="#edda08"/>
<path d="M233.3 76.9L236.3 74.2L238.1 73.2L235 75.8Z" color="#6e2d3f"/>
<path d="M115.4 127.6L118 125.3L120.1 125.7L117.5 128Z" color="#a0ec09"/>
<path d="M201.1 95.7L204 93.1L205.9 93.2L202.9 95.7Z" color="#dc230f"/>
<path d="M73.8 147.5L76.3 145.3L78.5 144.5L76 146.8Z" color="#0bda34"/>
<path d="M150.2 115.2L152.9 112.7L154.9 113.4L152.2 115.8Z" color="#edcd08"/>
<path d="M180.4 104.4L183.2 101.9L185.1 102.3L182.3 104.8Z" color="#ec7d09"/>
<path d="M221.9 84.4L224.9 81.7L226.7 81.1L223.7 83.8Z" color="#a41c27"/>
<path d="M120.1 125.7L122.7 123.3L124.7 123.7L122.1 126.1Z" color="#b5ec08"/>
<path d="M94.6 136.3L97.1 134L99.2 133.9L96.7 136.2Z" color="#50e80b"/>
<path d="M205.9 93.2L208.8 90.6L210.6 90.5L207.7 93.1Z" color="#d21714"/>
<path d="M154.9 113.4L157.7 110.9L159.6 111.5L156.9 114Z" color="#edc008"/>
<path d="M185.1 102.3L188 99.8L189.8 100.2L187 102.7Z" color="#eb6909"/>
<path d="M124.7 123.7L127.4 121.4L129.4 121.8L126.8 124.2Z" color="#caed08"/>
<path d="M238.1 73.2L241.1 70.5L242.9 69.3L239.8 71.9Z" color="#4c384f"/>
<path d="M78.5 144.5L80.9 142.3L83.1 141.7L80.7 144Z" color="#0edf0f"/>
<path d="M99.2 133.9L101.8 131.6L103.9 131.7L101.4 133.9Z" color="#67e90a"/>
<path d="M159.6 111.5L162.4 109.1L164.3 109.7L161.6 112.2Z" color="#edb308"/>
<path d="M226.7 81.1L229.7 78.5L231.5 77.8L228.5 80.4Z" color="#95202e"/>
<path d="M210.6 90.5L213.6 87.9L215.4 87.7L212.4 90.3Z" color="#c61219"/>
<path d="M129.4 121.8L132.1 119.5L134.1 120L131.5 122.4Z" color="#deed08"/>
<path d="M189.8 100.2L192.7 97.6L194.6 97.9L191.7 100.4Z" color="#e9510a"/>
<path d="M103.9 131.7L106.5 129.3L108.6 129.5L106 131.8Z" color="#7eea0a"/>
<path d="M164.3 109.7L167.1 107.2L169 107.8L166.3 110.3Z" color="#eda608"/>
<path d="M83.1 141.7L85.6 139.5L87.8 139L85.3 141.3Z" color="#26e20d"/>
<path d="M134.1 120L136.8 117.6L138.8 118.2L136.2 120.6Z" color="#edea08"/>
<path d="M194.6 97.9L197.5 95.4L199.3 95.6L196.4 98.1Z" color="#e4350c"/>
<path d="M215.4 87.7L218.4 85.1L220.1 84.8L217.2 87.4Z" color="#b8161f"/>
<path d="M169 107.8L171.8 105.3L173.8 105.9L171 108.4Z" color="#ed9808"/>
<path d="M108.6 129.5L111.2 127.1L113.3 127.3L110.7 129.7Z" color="#95eb09"/>
<path d="M231.5 77.8L234.5 75.1L236.3 74.2L233.3 76.9Z" color="#862534"/>
<path d="M138.8 118.2L141.5 115.8L143.5 116.4L140.8 118.8Z" color="#edde08"/>
<path d="M87.8 139L90.2 136.8L92.4 136.5L89.9 138.7Z" color="#3ee40c"/>
<path d="M173.8 105.9L176.6 103.4L178.5 103.9L175.7 106.4Z" color="#ed8608"/>
<path d="M199.3 95.6L202.2 93L204 93.1L201.1 95.7Z" color="#dc2010"/>
<path d="M143.5 116.4L146.2 113.9L148.2 114.5L145.5 117Z" color="#edd108"/>
<path d="M113.3 127.3L115.9 125L118 125.3L115.4 127.6Z" color="#aaeb09"/>
<path d="M220.1 84.8L223.2 82.2L224.9 81.7L221.9 84.4Z" color="#aa1a25"/>
<path d="M92.4 136.5L94.9 134.2L97.1 134L94.6 136.3Z" color="#55e60b"/>
<path d="M178.5 103.9L181.3 101.4L183.2 101.9L180.4 104.4Z" color="#ec7308"/>
<path d="M148.2 114.5L151 112.1L152.9 112.7L150.2 115.2Z" color="#edc408"/>
<path d="M118 125.3L120.6 122.9L122.7 123.3L120.1 125.7Z" color="#c0ec09"/>
<path d="M236.3 74.2L239.4 71.6L241.1 70.5L238.1 73.2Z" color="#6e2c3f"/>
<path d="M204 93.1L207 90.6L208.8 90.6L205.9 93.2Z" color="#d21414"/>
<path d="M76.3 145.3L78.7 143.1L80.9 142.3L78.5 144.5Z" color="#10da11"/>
<path d="M152.9 112.7L155.7 110.3L157.7 110.9L154.9 113.4Z" color="#edb708"/>
<path d="M183.2 101.9L186.1 99.4L188 99.8L185.1 102.3Z" color="#eb5f09"/>
<path d="M122.7 123.3L125.3 120.9L127.4 121.4L124.7 123.7Z" color="#d5ed08"/>
<path d="M97.1 134L99.6 131.7L101.8 131.6L99.2 133.9Z" color="#6de80b"/>
<path d="M224.9 81.7L228 79.1L229.7 78.5L226.7 81.1Z" color="#9d1e2a"/>
<path d="M208.8 90.6L211.8 88L213.6 87.9L210.6 90.5Z" color="#c71119"/>
<path d="M157.7 110.9L160.4 108.5L162.4 109.1L159.6 111.5Z" color="#edaa08"/>
<path d="M188 99.8L190.8 97.3L192.7 97.6L189.8 100.2Z" color="#e8450a"/>
<path d="M127.4 121.4L130 119L132.1 119.5L129.4 121.8Z" color="#eaed08"/>
<path d="M80.9 142.3L83.4 140.1L85.6 139.5L83.1 141.7Z" color="#28df0f"/>
<path d="M241.1 70.5L244.2 67.8L246 66.6L242.9 69.3Z" color="#4c384f"/>
<path d="M101.8 131.6L104.3 129.3L106.5 129.3L103.9 131.7Z" color="#86e90a"/>
<path d="M162.4 109.1L165.2 106.6L167.1 107.2L164.3 109.7Z" color="#ed9d08"/>
<path d="M229.7 78.5L232.8 75.9L234.5 75.1L231.5 77.8Z" color="#93212e"/>
<path d="M132.1 119.5L134.7 117.1L136.8 117.6L134.1 120Z" color="#ede208"/>
<path d="M213.6 87.9L216.6 85.3L218.4 85.1L215.4 87.7Z" color="#ba151e"/>
<path d="M192.7 97.6L195.6 95.1L197.5 95.4L194.6 97.9Z" color="#e32b0d"/>
<path d="M106.5 129.3L109 127L111.2 127.1L108.6 129.5Z" color="#9dea0a"/>
<path d="M167.1 107.2L169.9 104.7L171.8 105.3L169 107.8Z" color="#ed8d08"/>
<path d="M85.6 139.5L88.1 137.2L90.2 136.8L87.8 139Z" color="#41e20d"/>
<path d="M136.8 117.6L139.5 115.2L141.5 115.8L138.8 118.2Z" color="#edd508"/>
<path d="M197.5 95.4L200.4 92.8L202.2 93L199.3 95.6Z" color="#db1c10"/>
<path d="M218.4 85.1L221.4 82.5L223.2 82.2L220.1 84.8Z" color="#ad1923"/>
<path d="M171.8 105.3L174.7 102.8L176.6 103.4L173.8 105.9Z" color="#ed7b08"/>
<path d="M111.2 127.1L113.7 124.8L115.9 125L113.3 127.3Z" color="#b4eb09"/>
<path d="M141.5 115.8L144.2 113.3L146.2 113.9L143.5 116.4Z" color="#edc808"/>
<path d="M234.5 75.1L237.6 72.5L239.4 71.6L236.3 74.2Z" color="#852534"/>
<path d="M90.2 136.8L92.8 134.5L94.9 134.2L92.4 136.5Z" color="#59e40c"/>
<path d="M176.6 103.4L179.4 100.9L181.3 101.4L178.5 103.9Z" color="#ed6908"/>
<path d="M202.2 93L205.2 90.5L207 90.6L204 93.1Z" color="#d21114"/>
<path d="M115.9 125L118.5 122.6L120.6 122.9L118 125.3Z" color="#caec09"/>
<path d="M146.2 113.9L149 111.5L151 112.1L148.2 114.5Z" color="#edbb08"/>
<path d="M223.2 82.2L226.2 79.6L228 79.1L224.9 81.7Z" color="#a31c27"/>
<path d="M94.9 134.2L97.5 131.9L99.6 131.7L97.1 134Z" color="#73e60b"/>
<path d="M181.3 101.4L184.2 98.9L186.1 99.4L183.2 101.9Z" color="#eb5309"/>
<path d="M151 112.1L153.7 109.6L155.7 110.3L152.9 112.7Z" color="#eeae08"/>
<path d="M120.6 122.9L123.2 120.6L125.3 120.9L122.7 123.3Z" color="#e1ec09"/>
<path d="M239.4 71.6L242.5 68.9L244.2 67.8L241.1 70.5Z" color="#6d2c3f"/>
<path d="M207 90.6L210 88L211.8 88L208.8 90.6Z" color="#c61219"/>
<path d="M78.7 143.1L81.2 140.8L83.4 140.1L80.9 142.3Z" color="#29db11"/>
<path d="M155.7 110.3L158.5 107.8L160.4 108.5L157.7 110.9Z" color="#eea108"/>
<path d="M186.1 99.4L189 96.8L190.8 97.3L188 99.8Z" color="#e7390b"/>
<path d="M125.3 120.9L127.9 118.5L130 119L127.4 121.4Z" color="#ece608"/>
<path d="M99.6 131.7L102.2 129.4L104.3 129.3L101.8 131.6Z" color="#8ce80b"/>
<path d="M228 79.1L231 76.5L232.8 75.9L229.7 78.5Z" color="#9b1e2a"/>
<path d="M211.8 88L214.8 85.4L216.6 85.3L213.6 87.9Z" color="#ba151e"/>
<path d="M160.4 108.5L163.2 106L165.2 106.6L162.4 109.1Z" color="#ee9308"/>
<path d="M190.8 97.3L193.8 94.7L195.6 95.1L192.7 97.6Z" color="#e1220e"/>
<path d="M130 119L132.7 116.6L134.7 117.1L132.1 119.5Z" color="#edd908"/>
<path d="M83.4 140.1L85.9 137.8L88.1 137.2L85.6 139.5Z" color="#42df0f"/>
<path d="M244.2 67.8L247.4 65.1L249.1 63.9L246 66.6Z" color="#4a384f"/>
<path d="M104.3 129.3L106.9 127L109 127L106.5 129.3Z" color="#a4e90a"/>
<path d="M165.2 106.6L168 104.1L169.9 104.7L167.1 107.2Z" color="#ed8208"/>
<path d="M232.8 75.9L235.9 73.2L237.6 72.5L234.5 75.1Z" color="#92212e"/>
<path d="M134.7 117.1L137.4 114.6L139.5 115.2L136.8 117.6Z" color="#edcc08"/>
<path d="M216.6 85.3L219.6 82.7L221.4 82.5L218.4 85.1Z" color="#af1822"/>
<path d="M195.6 95.1L198.5 92.5L200.4 92.8L197.5 95.4Z" color="#d91711"/>
<path d="M109 127L111.6 124.7L113.7 124.8L111.2 127.1Z" color="#bcea0a"/>
<path d="M169.9 104.7L172.7 102.2L174.7 102.8L171.8 105.3Z" color="#ed7008"/>
<path d="M88.1 137.2L90.6 134.9L92.8 134.5L90.2 136.8Z" color="#5ce20d"/>
<path d="M139.5 115.2L142.2 112.7L144.2 113.3L141.5 115.8Z" color="#edbf08"/>
<path d="M200.4 92.8L203.3 90.2L205.2 90.5L202.2 93Z" color="#d00f15"/>
<path d="M174.7 102.8L177.5 100.3L179.4 100.9L176.6 103.4Z" color="#ed5e08"/>
<path d="M221.4 82.5L224.4 79.9L226.2 79.6L223.2 82.2Z" color="#a61b26"/>
<path d="M113.7 124.8L116.4 122.4L118.5 122.6L115.9 125Z" color="#d4eb09"/>
<path d="M144.2 113.3L146.9 110.9L149 111.5L146.2 113.9Z" color="#edb208"/>
<path d="M237.6 72.5L240.7 69.8L242.5 68.9L239.4 71.6Z" color="#842534"/>
<path d="M92.8 134.5L95.3 132.2L97.5 131.9L94.9 134.2Z" color="#77e40c"/>
<path d="M179.4 100.9L182.3 98.4L184.2 98.9L181.3 101.4Z" color="#ea450a"/>
<path d="M205.2 90.5L208.1 87.9L210 88L207 90.6Z" color="#c51219"/>
<path d="M118.5 122.6L121.1 120.3L123.2 120.6L120.6 122.9Z" color="#ebec09"/>
<path d="M149 111.5L151.7 109L153.7 109.6L151 112.1Z" color="#eea508"/>
<path d="M226.2 79.6L229.2 76.9L231 76.5L228 79.1Z" color="#a01c28"/>
<path d="M97.5 131.9L100 129.6L102.2 129.4L99.6 131.7Z" color="#91e60b"/>
<path d="M184.2 98.9L187.1 96.4L189 96.8L186.1 99.4Z" color="#e52d0c"/>
<path d="M153.7 109.6L156.5 107.2L158.5 107.8L155.7 110.3Z" color="#ee9808"/>
<path d="M123.2 120.6L125.9 118.2L127.9 118.5L125.3 120.9Z" color="#ecde09"/>
<path d="M242.5 68.9L245.6 66.2L247.4 65.1L244.2 67.8Z" color="#692c3f"/>
<path d="M210 88L213 85.4L214.8 85.4L211.8 88Z" color="#ba151e"/>
<path d="M81.2 140.8L83.7 138.6L85.9 137.8L83.4 140.1Z" color="#43db11"/>
<path d="M158.5 107.8L161.2 105.3L163.2 106L160.4 108.5Z" color="#ee8708"/>
<path d="M189 96.8L191.9 94.3L193.8 94.7L190.8 97.3Z" color="#de1d0f"/>
<path d="M102.2 129.4L104.7 127L106.9 127L104.3 129.3Z" color="#aae80b"/>
<path d="M127.9 118.5L130.6 116.1L132.7 116.6L130 119Z" color="#ecd108"/>
<path d="M231 76.5L234.1 73.8L235.9 73.2L232.8 75.9Z" color="#9a1e2a"/>
<path d="M214.8 85.4L217.8 82.8L219.6 82.7L216.6 85.3Z" color="#b11821"/>
<path d="M163.2 106L166 103.5L168 104.1L165.2 106.6Z" color="#ee7608"/>
<path d="M132.7 116.6L135.4 114.1L137.4 114.6L134.7 117.1Z" color="#edc408"/>
<path d="M193.8 94.7L196.7 92.1L198.5 92.5L195.6 95.1Z" color="#d71312"/>
<path d="M85.9 137.8L88.4 135.5L90.6 134.9L88.1 137.2Z" color="#5ddf0f"/>
<path d="M106.9 127L109.5 124.6L111.6 124.7L109 127Z" color="#c3e90a"/>
<path d="M168 104.1L170.8 101.6L172.7 102.2L169.9 104.7Z" color="#ed6408"/>
<path d="M137.4 114.6L140.1 112.2L142.2 112.7L139.5 115.2Z" color="#edb708"/>
<path d="M235.9 73.2L239 70.5L240.7 69.8L237.6 72.5Z" color="#91202e"/>
<path d="M219.6 82.7L222.6 80.1L224.4 79.9L221.4 82.5Z" color="#a91a24"/>
<path d="M198.5 92.5L201.5 89.9L203.3 90.2L200.4 92.8Z" color="#cd0f16"/>
<path d="M111.6 124.7L114.2 122.3L116.4 122.4L113.7 124.8Z" color="#dcea09"/>
<path d="M90.6 134.9L93.1 132.6L95.3 132.2L92.8 134.5Z" color="#79e20d"/>
<path d="M172.7 102.2L175.6 99.7L177.5 100.3L174.7 102.8Z" color="#eb4f09"/>
<path d="M142.2 112.7L144.9 110.3L146.9 110.9L144.2 113.3Z" color="#eda908"/>
<path d="M203.3 90.2L206.3 87.6L208.1 87.9L205.2 90.5Z" color="#c3121a"/>
<path d="M177.5 100.3L180.4 97.8L182.3 98.4L179.4 100.9Z" color="#e8370a"/>
<path d="M116.4 122.4L119 120L121.1 120.3L118.5 122.6Z" color="#ebe509"/>
<path d="M224.4 79.9L227.5 77.2L229.2 76.9L226.2 79.6Z" color="#a41b26"/>
<path d="M146.9 110.9L149.7 108.4L151.7 109L149 111.5Z" color="#ee9c08"/>
<path d="M240.7 69.8L243.8 67.1L245.6 66.2L242.5 68.9Z" color="#7e2534"/>
<path d="M95.3 132.2L97.8 129.9L100 129.6L97.5 131.9Z" color="#94e50c"/>
<path d="M182.3 98.4L185.2 95.8L187.1 96.4L184.2 98.9Z" color="#e2220d"/>
<path d="M208.1 87.9L211.1 85.2L213 85.4L210 88Z" color="#ba151e"/>
<path d="M121.1 120.3L123.8 117.9L125.9 118.2L123.2 120.6Z" color="#ebd709"/>
<path d="M151.7 109L154.5 106.5L156.5 107.2L153.7 109.6Z" color="#ee8d08"/>
<path d="M229.2 76.9L232.3 74.2L234.1 73.8L231 76.5Z" color="#9f1c28"/>
<path d="M100 129.6L102.6 127.2L104.7 127L102.2 129.4Z" color="#afe60b"/>
<path d="M187.1 96.4L190 93.8L191.9 94.3L189 96.8Z" color="#dc1810"/>
<path d="M156.5 107.2L159.3 104.7L161.2 105.3L158.5 107.8Z" color="#ee7b08"/>
<path d="M125.9 118.2L128.5 115.7L130.6 116.1L127.9 118.5Z" color="#ecc909"/>
<path d="M213 85.4L216 82.7L217.8 82.8L214.8 85.4Z" color="#b11721"/>
<path d="M83.7 138.6L86.2 136.3L88.4 135.5L85.9 137.8Z" color="#5cdb11"/>
<path d="M161.2 105.3L164.1 102.8L166 103.5L163.2 106Z" color="#ee6a08"/>
<path d="M191.9 94.3L194.8 91.7L196.7 92.1L193.8 94.7Z" color="#d40e13"/>
<path d="M104.7 127L107.3 124.7L109.5 124.6L106.9 127Z" color="#c9e80a"/>
<path d="M130.6 116.1L133.3 113.7L135.4 114.1L132.7 116.6Z" color="#ecbc08"/>
<path d="M234.1 73.8L237.2 71.1L239 70.5L235.9 73.2Z" color="#991e2a"/>
<path d="M217.8 82.8L220.8 80.1L222.6 80.1L219.6 82.7Z" color="#ab1924"/>
<path d="M166 103.5L168.9 101L170.8 101.6L168 104.1Z" color="#ed5708"/>
<path d="M135.4 114.1L138.1 111.7L140.1 112.2L137.4 114.6Z" color="#edae08"/>
<path d="M88.4 135.5L90.9 133.2L93.1 132.6L90.6 134.9Z" color="#79df0f"/>
<path d="M196.7 92.1L199.6 89.6L201.5 89.9L198.5 92.5Z" color="#cb1017"/>
<path d="M109.5 124.6L112.1 122.2L114.2 122.3L111.6 124.7Z" color="#e3e90a"/>
<path d="M170.8 101.6L173.7 99.1L175.6 99.7L172.7 102.2Z" color="#ea3f0a"/>
<path d="M140.1 112.2L142.9 109.7L144.9 110.3L142.2 112.7Z" color="#eda108"/>
<path d="M239 70.5L242.1 67.8L243.8 67.1L240.7 69.8Z" color="#8a202e"/>
<path d="M222.6 80.1L225.7 77.4L227.5 77.2L224.4 79.9Z" color="#a71a25"/>
<path d="M201.5 89.9L204.5 87.3L206.3 87.6L203.3 90.2Z" color="#c1131b"/>
<path d="M114.2 122.3L116.9 119.9L119 120L116.4 122.4Z" color="#eade09"/>
<path d="M93.1 132.6L95.6 130.3L97.8 129.9L95.3 132.2Z" color="#96e20d"/>
<path d="M175.6 99.7L178.5 97.2L180.4 97.8L177.5 100.3Z" color="#e5280c"/>
<path d="M144.9 110.3L147.7 107.8L149.7 108.4L146.9 110.9Z" color="#ed9208"/>
<path d="M206.3 87.6L209.3 85L211.1 85.2L208.1 87.9Z" color="#b8151e"/>
<path d="M119 120L121.6 117.6L123.8 117.9L121.1 120.3Z" color="#ebd009"/>
<path d="M180.4 97.8L183.3 95.2L185.2 95.8L182.3 98.4Z" color="#df1c0e"/>
<path d="M227.5 77.2L230.5 74.5L232.3 74.2L229.2 76.9Z" color="#a31b26"/>
<path d="M149.7 108.4L152.5 105.9L154.5 106.5L151.7 109Z" color="#ee8108"/>
<path d="M97.8 129.9L100.4 127.5L102.6 127.2L100 129.6Z" color="#b2e50c"/>
<path d="M185.2 95.8L188.1 93.2L190 93.8L187.1 96.4Z" color="#d81211"/>
<path d="M123.8 117.9L126.4 115.4L128.5 115.7L125.9 118.2Z" color="#ebc209"/>
<path d="M211.1 85.2L214.2 82.6L216 82.7L213 85.4Z" color="#b11721"/>
<path d="M154.5 106.5L157.3 104L159.3 104.7L156.5 107.2Z" color="#ee6f08"/>
<path d="M232.3 74.2L235.4 71.5L237.2 71.1L234.1 73.8Z" color="#9e1c28"/>
<path d="M102.6 127.2L105.2 124.9L107.3 124.7L104.7 127Z" color="#cee70b"/>
<path d="M190 93.8L192.9 91.2L194.8 91.7L191.9 94.3Z" color="#d00f15"/>
<path d="M159.3 104.7L162.1 102.2L164.1 102.8L161.2 105.3Z" color="#ed5e08"/>
<path d="M128.5 115.7L131.2 113.3L133.3 113.7L130.6 116.1Z" color="#ecb408"/>
<path d="M216 82.7L219 80.1L220.8 80.1L217.8 82.8Z" color="#ac1923"/>
<path d="M86.2 136.3L88.7 134L90.9 133.2L88.4 135.5Z" color="#78db11"/>
<path d="M164.1 102.8L166.9 100.3L168.9 101L166 103.5Z" color="#eb4709"/>
<path d="M107.3 124.7L109.9 122.3L112.1 122.2L109.5 124.6Z" color="#e8e70a"/>
<path d="M194.8 91.7L197.8 89.1L199.6 89.6L196.7 92.1Z" color="#c71118"/>
<path d="M133.3 113.7L136 111.2L138.1 111.7L135.4 114.1Z" color="#eda608"/>
<path d="M237.2 71.1L240.3 68.4L242.1 67.8L239 70.5Z" color="#921e2a"/>
<path d="M220.8 80.1L223.9 77.5L225.7 77.4L222.6 80.1Z" color="#a91924"/>
<path d="M168.9 101L171.7 98.4L173.7 99.1L170.8 101.6Z" color="#e7300b"/>
<path d="M90.9 133.2L93.4 130.9L95.6 130.3L93.1 132.6Z" color="#96df0f"/>
<path d="M138.1 111.7L140.8 109.2L142.9 109.7L140.1 112.2Z" color="#ed9808"/>
<path d="M199.6 89.6L202.6 86.9L204.5 87.3L201.5 89.9Z" color="#bf131c"/>
<path d="M112.1 122.2L114.7 119.9L116.9 119.9L114.2 122.3Z" color="#e9d80a"/>
<path d="M173.7 99.1L176.5 96.5L178.5 97.2L175.6 99.7Z" color="#e21f0d"/>
<path d="M142.9 109.7L145.6 107.3L147.7 107.8L144.9 110.3Z" color="#ed8708"/>
<path d="M225.7 77.4L228.8 74.7L230.5 74.5L227.5 77.2Z" color="#a61a25"/>
<path d="M204.5 87.3L207.5 84.7L209.3 85L206.3 87.6Z" color="#b7161f"/>
<path d="M116.9 119.9L119.5 117.5L121.6 117.6L119 120Z" color="#eaca09"/>
<path d="M95.6 130.3L98.2 128L100.4 127.5L97.8 129.9Z" color="#b3e20d"/>
<path d="M178.5 97.2L181.4 94.6L183.3 95.2L180.4 97.8Z" color="#db1610"/>
<path d="M147.7 107.8L150.4 105.3L152.5 105.9L149.7 108.4Z" color="#ee7508"/>
<path d="M209.3 85L212.3 82.4L214.2 82.6L211.1 85.2Z" color="#b11721"/>
<path d="M121.6 117.6L124.3 115.2L126.4 115.4L123.8 117.9Z" color="#ebbb09"/>
<path d="M183.3 95.2L186.2 92.6L188.1 93.2L185.2 95.8Z" color="#d40d13"/>
<path d="M230.5 74.5L233.7 71.8L235.4 71.5L232.3 74.2Z" color="#a21b26"/>
<path d="M152.5 105.9L155.3 103.4L157.3 104L154.5 106.5Z" color="#ee6308"/>
<path d="M100.4 127.5L103 125.2L105.2 124.9L102.6 127.2Z" color="#d1e50c"/>
<path d="M188.1 93.2L191.1 90.6L192.9 91.2L190 93.8Z" color="#cc1016"/>
<path d="M126.4 115.4L129.1 113L131.2 113.3L128.5 115.7Z" color="#ecad09"/>
<path d="M214.2 82.6L217.2 79.9L219 80.1L216 82.7Z" color="#ad1822"/>
<path d="M157.3 104L160.1 101.5L162.1 102.2L159.3 104.7Z" color="#ec4e09"/>
<path d="M235.4 71.5L238.6 68.8L240.3 68.4L237.2 71.1Z" color="#961c28"/>
<path d="M105.2 124.9L107.8 122.5L109.9 122.3L107.3 124.7Z" color="#e6e20b"/>
<path d="M192.9 91.2L195.9 88.6L197.8 89.1L194.8 91.7Z" color="#c4121a"/>
<path d="M162.1 102.2L164.9 99.6L166.9 100.3L164.1 102.8Z" color="#e8370a"/>
<path d="M131.2 113.3L133.9 110.8L136 111.2L133.3 113.7Z" color="#ec9e08"/>
<path d="M88.7 134L91.2 131.7L93.4 130.9L90.9 133.2Z" color="#94db10"/>
<path d="M219 80.1L222.1 77.4L223.9 77.5L220.8 80.1Z" color="#aa1923"/>
<path d="M166.9 100.3L169.8 97.7L171.7 98.4L168.9 101Z" color="#e4230c"/>
<path d="M109.9 122.3L112.6 119.9L114.7 119.9L112.1 122.2Z" color="#e8d30a"/>
<path d="M197.8 89.1L200.8 86.5L202.6 86.9L199.6 89.6Z" color="#bc141d"/>
<path d="M136 111.2L138.7 108.8L140.8 109.2L138.1 111.7Z" color="#ed8e08"/>
<path d="M223.9 77.5L227 74.8L228.8 74.7L225.7 77.4Z" color="#a81924"/>
<path d="M171.7 98.4L174.6 95.8L176.5 96.5L173.7 99.1Z" color="#de190f"/>
<path d="M93.4 130.9L96 128.6L98.2 128L95.6 130.3Z" color="#b3df0f"/>
<path d="M140.8 109.2L143.6 106.7L145.6 107.3L142.9 109.7Z" color="#ed7c08"/>
<path d="M202.6 86.9L205.6 84.3L207.5 84.7L204.5 87.3Z" color="#b5161f"/>
<path d="M114.7 119.9L117.4 117.4L119.5 117.5L116.9 119.9Z" color="#e9c40a"/>
<path d="M176.5 96.5L179.4 93.9L181.4 94.6L178.5 97.2Z" color="#d71012"/>
<path d="M145.6 107.3L148.4 104.8L150.4 105.3L147.7 107.8Z" color="#ed6a08"/>
<path d="M228.8 74.7L231.9 72L233.7 71.8L230.5 74.5Z" color="#a41a25"/>
<path d="M207.5 84.7L210.5 82L212.3 82.4L209.3 85Z" color="#b01721"/>
<path d="M119.5 117.5L122.2 115.1L124.3 115.2L121.6 117.6Z" color="#eab509"/>
<path d="M98.2 128L100.8 125.6L103 125.2L100.4 127.5Z" color="#d2e20d"/>
<path d="M181.4 94.6L184.3 92L186.2 92.6L183.3 95.2Z" color="#d00f15"/>
<path d="M150.4 105.3L153.2 102.8L155.3 103.4L152.5 105.9Z" color="#ec5608"/>
<path d="M212.3 82.4L215.4 79.7L217.2 79.9L214.2 82.6Z" color="#ad1822"/>
<path d="M124.3 115.2L127 112.8L129.1 113L126.4 115.4Z" color="#eba609"/>
<path d="M186.2 92.6L189.2 90L191.1 90.6L188.1 93.2Z" color="#c81118"/>
<path d="M233.7 71.8L236.8 69.1L238.6 68.8L235.4 71.5Z" color="#991b26"/>
<path d="M155.3 103.4L158.1 100.9L160.1 101.5L157.3 104Z" color="#ea3e0a"/>
<path d="M103 125.2L105.6 122.8L107.8 122.5L105.2 124.9Z" color="#e4de0c"/>
<path d="M129.1 113L131.8 110.5L133.9 110.8L131.2 113.3Z" color="#ec9709"/>
<path d="M191.1 90.6L194 88L195.9 88.6L192.9 91.2Z" color="#c0131b"/>
<path d="M217.2 79.9L220.3 77.3L222.1 77.4L219 80.1Z" color="#ab1822"/>
<path d="M160.1 101.5L162.9 99L164.9 99.6L162.1 102.2Z" color="#e5280c"/>
<path d="M107.8 122.5L110.4 120.1L112.6 119.9L109.9 122.3Z" color="#e6ce0b"/>
<path d="M195.9 88.6L198.9 86L200.8 86.5L197.8 89.1Z" color="#b9151e"/>
<path d="M164.9 99.6L167.8 97.1L169.8 97.7L166.9 100.3Z" color="#e01c0e"/>
<path d="M133.9 110.8L136.7 108.4L138.7 108.8L136 111.2Z" color="#ec8408"/>
<path d="M91.2 131.7L93.8 129.3L96 128.6L93.4 130.9Z" color="#b0db10"/>
<path d="M222.1 77.4L225.2 74.7L227 74.8L223.9 77.5Z" color="#a91923"/>
<path d="M169.8 97.7L172.6 95.2L174.6 95.8L171.7 98.4Z" color="#da1311"/>
<path d="M112.6 119.9L115.2 117.5L117.4 117.4L114.7 119.9Z" color="#e8bf0a"/>
<path d="M138.7 108.8L141.5 106.3L143.6 106.7L140.8 109.2Z" color="#ed7108"/>
<path d="M200.8 86.5L203.8 83.8L205.6 84.3L202.6 86.9Z" color="#b41620"/>
<path d="M227 74.8L230.1 72.1L231.9 72L228.8 74.7Z" color="#a51924"/>
<path d="M174.6 95.8L177.5 93.3L179.4 93.9L176.5 96.5Z" color="#d30e14"/>
<path d="M96 128.6L98.6 126.2L100.8 125.6L98.2 128Z" color="#d0df0e"/>
<path d="M143.6 106.7L146.3 104.2L148.4 104.8L145.6 107.3Z" color="#ed5f08"/>
<path d="M205.6 84.3L208.7 81.6L210.5 82L207.5 84.7Z" color="#b01721"/>
<path d="M117.4 117.4L120 115L122.2 115.1L119.5 117.5Z" color="#e9af0a"/>
<path d="M179.4 93.9L182.4 91.3L184.3 92L181.4 94.6Z" color="#cb1017"/>
<path d="M148.4 104.8L151.2 102.2L153.2 102.8L150.4 105.3Z" color="#ea4709"/>
<path d="M231.9 72L235 69.3L236.8 69.1L233.7 71.8Z" color="#9b1a25"/>
<path d="M210.5 82L213.5 79.4L215.4 79.7L212.3 82.4Z" color="#ae1821"/>
<path d="M122.2 115.1L124.9 112.6L127 112.8L124.3 115.2Z" color="#eaa009"/>
<path d="M100.8 125.6L103.4 123.3L105.6 122.8L103 125.2Z" color="#e2d90d"/>
<path d="M184.3 92L187.2 89.4L189.2 90L186.2 92.6Z" color="#c3121a"/>
<path d="M153.2 102.8L156.1 100.3L158.1 100.9L155.3 103.4Z" color="#e7300b"/>
<path d="M215.4 79.7L218.5 77L220.3 77.3L217.2 79.9Z" color="#ac1822"/>
<path d="M127 112.8L129.7 110.3L131.8 110.5L129.1 113Z" color="#eb8f09"/>
<path d="M189.2 90L192.1 87.4L194 88L191.1 90.6Z" color="#bd141c"/>
<path d="M158.1 100.9L160.9 98.3L162.9 99L160.1 101.5Z" color="#e21f0d"/>
<path d="M105.6 122.8L108.2 120.4L110.4 120.1L107.8 122.5Z" color="#e4ca0c"/>
<path d="M131.8 110.5L134.6 108L136.7 108.4L133.9 110.8Z" color="#ec7b09"/>
<path d="M194 88L197 85.4L198.9 86L195.9 88.6Z" color="#b7151e"/>
<path d="M162.9 99L165.8 96.4L167.8 97.1L164.9 99.6Z" color="#dc1610"/>
<path d="M220.3 77.3L223.4 74.6L225.2 74.7L222.1 77.4Z" color="#aa1822"/>
<path d="M110.4 120.1L113 117.7L115.2 117.5L112.6 119.9Z" color="#e6ba0b"/>
<path d="M136.7 108.4L139.4 105.9L141.5 106.3L138.7 108.8Z" color="#ec6708"/>
<path d="M167.8 97.1L170.7 94.5L172.6 95.2L169.8 97.7Z" color="#d50d13"/>
<path d="M198.9 86L201.9 83.3L203.8 83.8L200.8 86.5Z" color="#b21720"/>
<path d="M93.8 129.3L96.4 127L98.6 126.2L96 128.6Z" color="#cddb10"/>
<path d="M225.2 74.7L228.3 72L230.1 72.1L227 74.8Z" color="#a51823"/>
<path d="M115.2 117.5L117.9 115.1L120 115L117.4 117.4Z" color="#e8aa0a"/>
<path d="M172.6 95.2L175.5 92.6L177.5 93.3L174.6 95.8Z" color="#ce0f16"/>
<path d="M141.5 106.3L144.3 103.8L146.3 104.2L143.6 106.7Z" color="#eb5109"/>
<path d="M203.8 83.8L206.8 81.2L208.7 81.6L205.6 84.3Z" color="#b01721"/>
<path d="M230.1 72.1L233.2 69.3L235 69.3L231.9 72Z" color="#9c1923"/>
<path d="M177.5 93.3L180.4 90.7L182.4 91.3L179.4 93.9Z" color="#c61118"/>
<path d="M98.6 126.2L101.2 123.9L103.4 123.3L100.8 125.6Z" color="#dfd50e"/>
<path d="M146.3 104.2L149.1 101.7L151.2 102.2L148.4 104.8Z" color="#e8390a"/>
<path d="M120 115L122.7 112.6L124.9 112.6L122.2 115.1Z" color="#e99a0a"/>
<path d="M208.7 81.6L211.7 79L213.5 79.4L210.5 82Z" color="#ae1721"/>
<path d="M182.4 91.3L185.3 88.7L187.2 89.4L184.3 92Z" color="#bf131b"/>
<path d="M151.2 102.2L154 99.7L156.1 100.3L153.2 102.8Z" color="#e3230c"/>
<path d="M213.5 79.4L216.6 76.7L218.5 77L215.4 79.7Z" color="#ad1721"/>
<path d="M124.9 112.6L127.6 110.1L129.7 110.3L127 112.8Z" color="#ea8609"/>
<path d="M103.4 123.3L106 120.9L108.2 120.4L105.6 122.8Z" color="#e2c60d"/>
<path d="M187.2 89.4L190.2 86.8L192.1 87.4L189.2 90Z" color="#b9151d"/>
<path d="M156.1 100.3L158.9 97.7L160.9 98.3L158.1 100.9Z" color="#de190f"/>
<path d="M129.7 110.3L132.5 107.8L134.6 108L131.8 110.5Z" color="#eb7209"/>
<path d="M218.5 77L221.5 74.3L223.4 74.6L220.3 77.3Z" color="#ab1822"/>
<path d="M192.1 87.4L195.1 84.8L197 85.4L194 88Z" color="#b4161f"/>
<path d="M160.9 98.3L163.8 95.8L165.8 96.4L162.9 99Z" color="#d71012"/>
<path d="M108.2 120.4L110.9 118L113 117.7L110.4 120.1Z" color="#e5b60c"/>
<path d="M134.6 108L137.3 105.5L139.4 105.9L136.7 108.4Z" color="#eb5e09"/>
<path d="M197 85.4L200 82.7L201.9 83.3L198.9 86Z" color="#b11720"/>
<path d="M165.8 96.4L168.7 93.8L170.7 94.5L167.8 97.1Z" color="#d00f15"/>
<path d="M223.4 74.6L226.5 71.8L228.3 72L225.2 74.7Z" color="#a51822"/>
<path d="M113 117.7L115.7 115.3L117.9 115.1L115.2 117.5Z" color="#e7a50b"/>
<path d="M139.4 105.9L142.2 103.4L144.3 103.8L141.5 106.3Z" color="#e9440a"/>
<path d="M170.7 94.5L173.6 91.9L175.5 92.6L172.6 95.2Z" color="#c91117"/>
<path d="M201.9 83.3L204.9 80.6L206.8 81.2L203.8 83.8Z" color="#b01721"/>
<path d="M96.4 127L99 124.6L101.2 123.9L98.6 126.2Z" color="#dad110"/>
<path d="M228.3 72L231.4 69.3L233.2 69.3L230.1 72.1Z" color="#9b1823"/>
<path d="M117.9 115.1L120.6 112.6L122.7 112.6L120 115Z" color="#e8950a"/>
<path d="M175.5 92.6L178.5 90L180.4 90.7L177.5 93.3Z" color="#c2121a"/>
<path d="M144.3 103.8L147.1 101.2L149.1 101.7L146.3 104.2Z" color="#e52c0c"/>
<path d="M206.8 81.2L209.9 78.5L211.7 79L208.7 81.6Z" color="#ae1721"/>
<path d="M101.2 123.9L103.8 121.5L106 120.9L103.4 123.3Z" color="#dfc20e"/>
<path d="M180.4 90.7L183.4 88L185.3 88.7L182.4 91.3Z" color="#bc141d"/>
<path d="M149.1 101.7L152 99.2L154 99.7L151.2 102.2Z" color="#e01d0e"/>
<path d="M122.7 112.6L125.5 110.1L127.6 110.1L124.9 112.6Z" color="#e97f0a"/>
<path d="M211.7 79L214.8 76.3L216.6 76.7L213.5 79.4Z" color="#ad1721"/>
<path d="M185.3 88.7L188.3 86.1L190.2 86.8L187.2 89.4Z" color="#b6161f"/>
<path d="M154 99.7L156.9 97.1L158.9 97.7L156.1 100.3Z" color="#da1311"/>
<path d="M127.6 110.1L130.3 107.7L132.5 107.8L129.7 110.3Z" color="#ea6a09"/>
<path d="M106 120.9L108.7 118.5L110.9 118L108.2 120.4Z" color="#e2b20d"/>
<path d="M216.6 76.7L219.7 74L221.5 74.3L218.5 77Z" color="#ab1721"/>
<path d="M190.2 86.8L193.2 84.1L195.1 84.8L192.1 87.4Z" color="#b31620"/>
<path d="M158.9 97.7L161.8 95.1L163.8 95.8L160.9 98.3Z" color="#d30e14"/>
<path d="M132.5 107.8L135.2 105.3L137.3 105.5L134.6 108Z" color="#ea5309"/>
<path d="M221.5 74.3L224.7 71.6L226.5 71.8L223.4 74.6Z" color="#a31822"/>
<path d="M195.1 84.8L198.1 82.1L200 82.7L197 85.4Z" color="#b11720"/>
<path d="M110.9 118L113.5 115.6L115.7 115.3L113 117.7Z" color="#e5a10c"/>
<path d="M163.8 95.8L166.7 93.2L168.7 93.8L165.8 96.4Z" color="#cb1017"/>
<path d="M137.3 105.5L140.1 103L142.2 103.4L139.4 105.9Z" color="#e7380b"/>
<path d="M200 82.7L203.1 80L204.9 80.6L201.9 83.3Z" color="#b01720"/>
<path d="M168.7 93.8L171.6 91.2L173.6 91.9L170.7 94.5Z" color="#c41219"/>
<path d="M226.5 71.8L229.6 69.1L231.4 69.3L228.3 72Z" color="#9a1822"/>
<path d="M115.7 115.3L118.4 112.8L120.6 112.6L117.9 115.1Z" color="#e78f0b"/>
<path d="M142.2 103.4L145 100.8L147.1 101.2L144.3 103.8Z" color="#e2220d"/>
<path d="M173.6 91.9L176.5 89.3L178.5 90L175.5 92.6Z" color="#be141c"/>
<path d="M204.9 80.6L208 77.9L209.9 78.5L206.8 81.2Z" color="#ae1721"/>
<path d="M99 124.6L101.6 122.2L103.8 121.5L101.2 123.9Z" color="#dabf10"/>
<path d="M120.6 112.6L123.3 110.2L125.5 110.1L122.7 112.6Z" color="#e8790a"/>
<path d="M178.5 90L181.4 87.3L183.4 88L180.4 90.7Z" color="#b8151e"/>
<path d="M147.1 101.2L149.9 98.7L152 99.2L149.1 101.7Z" color="#dc1710"/>
<path d="M209.9 78.5L212.9 75.8L214.8 76.3L211.7 79Z" color="#ad1721"/>
<path d="M103.8 121.5L106.5 119.1L108.7 118.5L106 120.9Z" color="#dfaf0e"/>
<path d="M183.4 88L186.3 85.4L188.3 86.1L185.3 88.7Z" color="#b4161f"/>
<path d="M152 99.2L154.8 96.6L156.9 97.1L154 99.7Z" color="#d50e13"/>
<path d="M125.5 110.1L128.2 107.6L130.3 107.7L127.6 110.1Z" color="#e9630a"/>
<path d="M214.8 76.3L217.9 73.5L219.7 74L216.6 76.7Z" color="#a91721"/>
<path d="M188.3 86.1L191.3 83.4L193.2 84.1L190.2 86.8Z" color="#b21720"/>
<path d="M156.9 97.1L159.7 94.5L161.8 95.1L158.9 97.7Z" color="#ce0f16"/>
<path d="M130.3 107.7L133.1 105.1L135.2 105.3L132.5 107.8Z" color="#e8490a"/>
<path d="M108.7 118.5L111.4 116L113.5 115.6L110.9 118Z" color="#e29e0d"/>
<path d="M219.7 74L222.8 71.2L224.7 71.6L221.5 74.3Z" color="#a11721"/>
<path d="M193.2 84.1L196.2 81.4L198.1 82.1L195.1 84.8Z" color="#b01720"/>
<path d="M161.8 95.1L164.7 92.5L166.7 93.2L163.8 95.8Z" color="#c61118"/>
<path d="M135.2 105.3L138 102.8L140.1 103L137.3 105.5Z" color="#e42e0c"/>
<path d="M224.7 71.6L227.8 68.8L229.6 69.1L226.5 71.8Z" color="#991822"/>
<path d="M198.1 82.1L201.2 79.4L203.1 80L200 82.7Z" color="#af1720"/>
<path d="M113.5 115.6L116.2 113.1L118.4 112.8L115.7 115.3Z" color="#e58b0c"/>
<path d="M166.7 93.2L169.6 90.5L171.6 91.2L168.7 93.8Z" color="#c0131b"/>
<path d="M140.1 103L142.9 100.5L145 100.8L142.2 103.4Z" color="#de1d0f"/>
<path d="M203.1 80L206.1 77.3L208 77.9L204.9 80.6Z" color="#ae1720"/>
<path d="M171.6 91.2L174.5 88.6L176.5 89.3L173.6 91.9Z" color="#ba151d"/>
<path d="M118.4 112.8L121.1 110.3L123.3 110.2L120.6 112.6Z" color="#e7740b"/>
<path d="M145 100.8L147.8 98.3L149.9 98.7L147.1 101.2Z" color="#d81311"/>
<path d="M176.5 89.3L179.4 86.6L181.4 87.3L178.5 90Z" color="#b5161f"/>
<path d="M208 77.9L211.1 75.2L212.9 75.8L209.9 78.5Z" color="#ad1720"/>
<path d="M101.6 122.2L104.3 119.8L106.5 119.1L103.8 121.5Z" color="#dbac10"/>
<path d="M123.3 110.2L126 107.7L128.2 107.6L125.5 110.1Z" color="#e85d0a"/>
<path d="M181.4 87.3L184.4 84.7L186.3 85.4L183.4 88Z" color="#b21620"/>
<path d="M149.9 98.7L152.8 96.1L154.8 96.6L152 99.2Z" color="#d10e14"/>
<path d="M212.9 75.8L216 73L217.9 73.5L214.8 76.3Z" color="#a71721"/>
<path d="M106.5 119.1L109.1 116.6L111.4 116L108.7 118.5Z" color="#df9b0e"/>
<path d="M186.3 85.4L189.3 82.7L191.3 83.4L188.3 86.1Z" color="#b11720"/>
<path d="M154.8 96.6L157.7 94L159.7 94.5L156.9 97.1Z" color="#c91117"/>
<path d="M128.2 107.6L130.9 105.1L133.1 105.1L130.3 107.7Z" color="#e6400b"/>
<path d="M217.9 73.5L221 70.8L222.8 71.2L219.7 74Z" color="#9f1721"/>
<path d="M191.3 83.4L194.3 80.7L196.2 81.4L193.2 84.1Z" color="#b01720"/>
<path d="M159.7 94.5L162.6 91.9L164.7 92.5L161.8 95.1Z" color="#c2121a"/>
<path d="M111.4 116L114 113.6L116.2 113.1L113.5 115.6Z" color="#e2870d"/>
<path d="M133.1 105.1L135.9 102.6L138 102.8L135.2 105.3Z" color="#e1240d"/>
<path d="M222.8 71.2L226 68.5L227.8 68.8L224.7 71.6Z" color="#961721"/>
<path d="M196.2 81.4L199.3 78.7L201.2 79.4L198.1 82.1Z" color="#af1720"/>
<path d="M164.7 92.5L167.6 89.9L169.6 90.5L166.7 93.2Z" color="#bc141d"/>
<path d="M138 102.8L140.8 100.2L142.9 100.5L140.1 103Z" color="#db1910"/>
<path d="M116.2 113.1L119 110.6L121.1 110.3L118.4 112.8Z" color="#e5700c"/>
<path d="M201.2 79.4L204.2 76.7L206.1 77.3L203.1 80Z" color="#ae1720"/>
<path d="M169.6 90.5L172.5 87.9L174.5 88.6L171.6 91.2Z" color="#b7151e"/>
<path d="M142.9 100.5L145.7 97.9L147.8 98.3L145 100.8Z" color="#d40e13"/>
<path d="M206.1 77.3L209.2 74.6L211.1 75.2L208 77.9Z" color="#ab1720"/>
<path d="M174.5 88.6L177.5 85.9L179.4 86.6L176.5 89.3Z" color="#b31620"/>
<path d="M121.1 110.3L123.9 107.8L126 107.7L123.3 110.2Z" color="#e6570b"/>
<path d="M147.8 98.3L150.7 95.7L152.8 96.1L149.9 98.7Z" color="#cc1016"/>
<path d="M179.4 86.6L182.4 84L184.4 84.7L181.4 87.3Z" color="#b11720"/>
<path d="M104.3 119.8L106.9 117.4L109.1 116.6L106.5 119.1Z" color="#db9910"/>
<path d="M211.1 75.2L214.2 72.5L216 73L212.9 75.8Z" color="#a41720"/>
<path d="M126 107.7L128.8 105.2L130.9 105.1L128.2 107.6Z" color="#e3380c"/>
<path d="M184.4 84.7L187.4 82L189.3 82.7L186.3 85.4Z" color="#b11720"/>
<path d="M152.8 96.1L155.6 93.5L157.7 94L154.8 96.6Z" color="#c41219"/>
<path d="M216 73L219.2 70.3L221 70.8L217.9 73.5Z" color="#9c1721"/>
<path d="M109.1 116.6L111.8 114.2L114 113.6L111.4 116Z" color="#df850e"/>
<path d="M189.3 82.7L192.4 80L194.3 80.7L191.3 83.4Z" color="#b01720"/>
<path d="M157.7 94L160.6 91.4L162.6 91.9L159.7 94.5Z" color="#be141c"/>
<path d="M130.9 105.1L133.7 102.6L135.9 102.6L133.1 105.1Z" color="#de210f"/>
<path d="M221 70.8L224.2 68L226 68.5L222.8 71.2Z" color="#941721"/>
<path d="M194.3 80.7L197.3 78L199.3 78.7L196.2 81.4Z" color="#af1720"/>
<path d="M162.6 91.9L165.5 89.3L167.6 89.9L164.7 92.5Z" color="#b8151e"/>
<path d="M114 113.6L116.8 111.1L119 110.6L116.2 113.1Z" color="#e26c0d"/>
<path d="M135.9 102.6L138.7 100.1L140.8 100.2L138 102.8Z" color="#d71512"/>
<path d="M199.3 78.7L202.3 76L204.2 76.7L201.2 79.4Z" color="#ae1720"/>
<path d="M167.6 89.9L170.5 87.3L172.5 87.9L169.6 90.5Z" color="#b4161f"/>
<path d="M140.8 100.2L143.6 97.7L145.7 97.9L142.9 100.5Z" color="#d00f15"/>
<path d="M119 110.6L121.7 108.2L123.9 107.8L121.1 110.3Z" color="#e3520c"/>
<path d="M204.2 76.7L207.3 74L209.2 74.6L206.1 77.3Z" color="#a71720"/>
<path d="M172.5 87.9L175.5 85.3L177.5 85.9L174.5 88.6Z" color="#b21720"/>
<path d="M145.7 97.9L148.6 95.3L150.7 95.7L147.8 98.3Z" color="#c81118"/>
<path d="M209.2 74.6L212.3 71.9L214.2 72.5L211.1 75.2Z" color="#a01720"/>
<path d="M177.5 85.9L180.4 83.3L182.4 84L179.4 86.6Z" color="#b11720"/>
<path d="M123.9 107.8L126.6 105.3L128.8 105.2L126 107.7Z" color="#e0320e"/>
<path d="M150.7 95.7L153.5 93.1L155.6 93.5L152.8 96.1Z" color="#c0131b"/>
<path d="M106.9 117.4L109.6 114.9L111.8 114.2L109.1 116.6Z" color="#db8310"/>
<path d="M182.4 84L185.4 81.3L187.4 82L184.4 84.7Z" color="#b01720"/>
<path d="M214.2 72.5L217.3 69.7L219.2 70.3L216 73Z" color="#991720"/>
<path d="M128.8 105.2L131.6 102.6L133.7 102.6L130.9 105.1Z" color="#db1e10"/>
<path d="M155.6 93.5L158.5 90.9L160.6 91.4L157.7 94Z" color="#ba151d"/>
<path d="M187.4 82L190.4 79.3L192.4 80L189.3 82.7Z" color="#af1620"/>
<path d="M219.2 70.3L222.3 67.5L224.2 68L221 70.8Z" color="#911721"/>
<path d="M111.8 114.2L114.6 111.7L116.8 111.1L114 113.6Z" color="#df6a0e"/>
<path d="M192.4 80L195.4 77.3L197.3 78L194.3 80.7Z" color="#ae1620"/>
<path d="M160.6 91.4L163.5 88.8L165.5 89.3L162.6 91.9Z" color="#b5161f"/>
<path d="M133.7 102.6L136.5 100L138.7 100.1L135.9 102.6Z" color="#d41213"/>
<path d="M197.3 78L200.4 75.3L202.3 76L199.3 78.7Z" color="#aa1720"/>
<path d="M165.5 89.3L168.5 86.7L170.5 87.3L167.6 89.9Z" color="#b21720"/>
<path d="M116.8 111.1L119.5 108.6L121.7 108.2L119 110.6Z" color="#e14e0e"/>
<path d="M138.7 100.1L141.5 97.5L143.6 97.7L140.8 100.2Z" color="#cc1017"/>
<path d="M202.3 76L205.4 73.3L207.3 74L204.2 76.7Z" color="#a41720"/>
<path d="M170.5 87.3L173.5 84.6L175.5 85.3L172.5 87.9Z" color="#b11720"/>
<path d="M143.6 97.7L146.5 95.1L148.6 95.3L145.7 97.9Z" color="#c4121a"/>
<path d="M121.7 108.2L124.4 105.6L126.6 105.3L123.9 107.8Z" color="#de2e0f"/>
<path d="M207.3 74L210.4 71.2L212.3 71.9L209.2 74.6Z" color="#9d1720"/>
<path d="M175.5 85.3L178.5 82.6L180.4 83.3L177.5 85.9Z" color="#b01720"/>
<path d="M148.6 95.3L151.5 92.7L153.5 93.1L150.7 95.7Z" color="#bc141c"/>
<path d="M180.4 83.3L183.5 80.6L185.4 81.3L182.4 84Z" color="#b01720"/>
<path d="M212.3 71.9L215.4 69.1L217.3 69.7L214.2 72.5Z" color="#951720"/>
<path d="M126.6 105.3L129.4 102.8L131.6 102.6L128.8 105.2Z" color="#d81c12"/>
<path d="M153.5 93.1L156.4 90.5L158.5 90.9L155.6 93.5Z" color="#b7151e"/>
<path d="M109.6 114.9L112.3 112.5L114.6 111.7L111.8 114.2Z" color="#db6910"/>
<path d="M185.4 81.3L188.5 78.6L190.4 79.3L187.4 82Z" color="#af1620"/>
<path d="M217.3 69.7L220.5 66.9L222.3 67.5L219.2 70.3Z" color="#8d1720"/>
<path d="M131.6 102.6L134.4 100.1L136.5 100L133.7 102.6Z" color="#d11015"/>
<path d="M158.5 90.9L161.4 88.3L163.5 88.8L160.6 91.4Z" color="#b31620"/>
<path d="M190.4 79.3L193.5 76.6L195.4 77.3L192.4 80Z" color="#ad1620"/>
<path d="M114.6 111.7L117.3 109.2L119.5 108.6L116.8 111.1Z" color="#dd4c0f"/>
<path d="M195.4 77.3L198.5 74.6L200.4 75.3L197.3 78Z" color="#a61620"/>
<path d="M163.5 88.8L166.4 86.1L168.5 86.7L165.5 89.3Z" color="#b11720"/>
<path d="M136.5 100L139.4 97.4L141.5 97.5L138.7 100.1Z" color="#c81118"/>
<path d="M200.4 75.3L203.5 72.5L205.4 73.3L202.3 76Z" color="#a01620"/>
<path d="M168.5 86.7L171.4 84L173.5 84.6L170.5 87.3Z" color="#b01720"/>
<path d="M119.5 108.6L122.3 106.1L124.4 105.6L121.7 108.2Z" color="#da2b10"/>
<path d="M141.5 97.5L144.4 94.9L146.5 95.1L143.6 97.7Z" color="#c0131b"/>
<path d="M205.4 73.3L208.5 70.5L210.4 71.2L207.3 74Z" color="#991720"/>
<path d="M173.5 84.6L176.4 81.9L178.5 82.6L175.5 85.3Z" color="#b01720"/>
<path d="M146.5 95.1L149.3 92.5L151.5 92.7L148.6 95.3Z" color="#b9151e"/>
<path d="M124.4 105.6L127.2 103.1L129.4 102.8L126.6 105.3Z" color="#d51a13"/>
<path d="M210.4 71.2L213.6 68.4L215.4 69.1L212.3 71.9Z" color="#911720"/>
<path d="M178.5 82.6L181.5 79.9L183.5 80.6L180.4 83.3Z" color="#af1720"/>
<path d="M151.5 92.7L154.3 90.1L156.4 90.5L153.5 93.1Z" color="#b41620"/>
<path d="M183.5 80.6L186.5 77.9L188.5 78.6L185.4 81.3Z" color="#ae1620"/>
<path d="M215.4 69.1L218.6 66.3L220.5 66.9L217.3 69.7Z" color="#8a1720"/>
<path d="M129.4 102.8L132.2 100.2L134.4 100.1L131.6 102.6Z" color="#cd1016"/>
<path d="M112.3 112.5L115.1 110L117.3 109.2L114.6 111.7Z" color="#d94c11"/>
<path d="M156.4 90.5L159.4 87.8L161.4 88.3L158.5 90.9Z" color="#b11720"/>
<path d="M188.5 78.6L191.5 75.8L193.5 76.6L190.4 79.3Z" color="#a91620"/>
<path d="M134.4 100.1L137.2 97.5L139.4 97.4L136.5 100Z" color="#c4121a"/>
<path d="M161.4 88.3L164.4 85.6L166.4 86.1L163.5 88.8Z" color="#b01720"/>
<path d="M193.5 76.6L196.5 73.8L198.5 74.6L195.4 77.3Z" color="#a21620"/>
<path d="M117.3 109.2L120 106.7L122.3 106.1L119.5 108.6Z" color="#d72b12"/>
<path d="M198.5 74.6L201.6 71.8L203.5 72.5L200.4 75.3Z" color="#9b1620"/>
<path d="M166.4 86.1L169.4 83.4L171.4 84L168.5 86.7Z" color="#b01720"/>
<path d="M139.4 97.4L142.2 94.8L144.4 94.9L141.5 97.5Z" color="#bc141d"/>
<path d="M203.5 72.5L206.6 69.8L208.5 70.5L205.4 73.3Z" color="#941620"/>
<path d="M171.4 84L174.4 81.3L176.4 81.9L173.5 84.6Z" color="#af1720"/>
<path d="M122.3 106.1L125 103.6L127.2 103.1L124.4 105.6Z" color="#d11a14"/>
<path d="M144.4 94.9L147.2 92.3L149.3 92.5L146.5 95.1Z" color="#b6161f"/>
<path d="M208.5 70.5L211.7 67.7L213.6 68.4L210.4 71.2Z" color="#8d1620"/>
<path d="M176.4 81.9L179.5 79.2L181.5 79.9L178.5 82.6Z" color="#ae1720"/>
<path d="M149.3 92.5L152.2 89.8L154.3 90.1L151.5 92.7Z" color="#b21720"/>
<path d="M127.2 103.1L130 100.6L132.2 100.2L129.4 102.8Z" color="#ca1118"/>
<path d="M213.6 68.4L216.7 65.6L218.6 66.3L215.4 69.1Z" color="#861720"/>
<path d="M181.5 79.9L184.5 77.2L186.5 77.9L183.5 80.6Z" color="#ab1620"/>
<path d="M154.3 90.1L157.3 87.5L159.4 87.8L156.4 90.5Z" color="#b01721"/>
<path d="M186.5 77.9L189.5 75.1L191.5 75.8L188.5 78.6Z" color="#a51620"/>
<path d="M132.2 100.2L135 97.7L137.2 97.5L134.4 100.1Z" color="#c1131b"/>
<path d="M115.1 110L117.8 107.5L120 106.7L117.3 109.2Z" color="#d32b14"/>
<path d="M159.4 87.8L162.3 85.2L164.4 85.6L161.4 88.3Z" color="#af1721"/>
<path d="M191.5 75.8L194.6 73.1L196.5 73.8L193.5 76.6Z" color="#9e1620"/>
<path d="M137.2 97.5L140.1 94.9L142.2 94.8L139.4 97.4Z" color="#b9151e"/>
<path d="M164.4 85.6L167.3 82.9L169.4 83.4L166.4 86.1Z" color="#af1720"/>
<path d="M196.5 73.8L199.6 71.1L201.6 71.8L198.5 74.6Z" color="#971620"/>
<path d="M120 106.7L122.8 104.2L125 103.6L122.3 106.1Z" color="#ce1a16"/>
<path d="M142.2 94.8L145.1 92.2L147.2 92.3L144.4 94.9Z" color="#b31720"/>
<path d="M201.6 71.8L204.7 69L206.6 69.8L203.5 72.5Z" color="#901620"/>
<path d="M169.4 83.4L172.4 80.7L174.4 81.3L171.4 84Z" color="#ae1720"/>
<path d="M206.6 69.8L209.8 67L211.7 67.7L208.5 70.5Z" color="#891620"/>
<path d="M174.4 81.3L177.4 78.6L179.5 79.2L176.4 81.9Z" color="#ad1720"/>
<path d="M125 103.6L127.8 101L130 100.6L127.2 103.1Z" color="#c61219"/>
<path d="M147.2 92.3L150.1 89.7L152.2 89.8L149.3 92.5Z" color="#b01721"/>
<path d="M211.7 67.7L214.8 64.9L216.7 65.6L213.6 68.4Z" color="#821620"/>
<path d="M179.5 79.2L182.5 76.5L184.5 77.2L181.5 79.9Z" color="#a71720"/>
<path d="M152.2 89.8L155.2 87.2L157.3 87.5L154.3 90.1Z" color="#af1721"/>
<path d="M130 100.6L132.9 98L135 97.7L132.2 100.2Z" color="#be141c"/>
<path d="M184.5 77.2L187.5 74.4L189.5 75.1L186.5 77.9Z" color="#a01620"/>
<path d="M157.3 87.5L160.2 84.8L162.3 85.2L159.4 87.8Z" color="#ae1721"/>
<path d="M189.5 75.1L192.6 72.4L194.6 73.1L191.5 75.8Z" color="#9a1620"/>
<path d="M135 97.7L137.9 95.1L140.1 94.9L137.2 97.5Z" color="#b6161f"/>
<path d="M117.8 107.5L120.6 105L122.8 104.2L120 106.7Z" color="#c91b18"/>
<path d="M162.3 85.2L165.3 82.5L167.3 82.9L164.4 85.6Z" color="#ae1721"/>
<path d="M194.6 73.1L197.7 70.3L199.6 71.1L196.5 73.8Z" color="#931620"/>
<path d="M140.1 94.9L142.9 92.3L145.1 92.2L142.2 94.8Z" color="#b11721"/>
<path d="M167.3 82.9L170.3 80.2L172.4 80.7L169.4 83.4Z" color="#ad1720"/>
<path d="M199.6 71.1L202.8 68.3L204.7 69L201.6 71.8Z" color="#8c1620"/>
<path d="M122.8 104.2L125.6 101.6L127.8 101L125 103.6Z" color="#c3131b"/>
<path d="M145.1 92.2L148 89.6L150.1 89.7L147.2 92.3Z" color="#ae1822"/>
<path d="M172.4 80.7L175.4 78L177.4 78.6L174.4 81.3Z" color="#a91720"/>
<path d="M204.7 69L207.9 66.2L209.8 67L206.6 69.8Z" color="#851620"/>
<path d="M209.8 67L212.9 64.2L214.8 64.9L211.7 67.7Z" color="#7d1620"/>
<path d="M177.4 78.6L180.5 75.9L182.5 76.5L179.5 79.2Z" color="#a31720"/>
<path d="M127.8 101L130.7 98.4L132.9 98L130 100.6Z" color="#ba151e"/>
<path d="M150.1 89.7L153 87L155.2 87.2L152.2 89.8Z" color="#ae1821"/>
<path d="M182.5 76.5L185.5 73.7L187.5 74.4L184.5 77.2Z" color="#9c1620"/>
<path d="M155.2 87.2L158.1 84.5L160.2 84.8L157.3 87.5Z" color="#ae1721"/>
<path d="M132.9 98L135.7 95.4L137.9 95.1L135 97.7Z" color="#b31720"/>
<path d="M187.5 74.4L190.6 71.6L192.6 72.4L189.5 75.1Z" color="#951620"/>
<path d="M160.2 84.8L163.2 82.1L165.3 82.5L162.3 85.2Z" color="#ad1721"/>
<path d="M192.6 72.4L195.7 69.6L197.7 70.3L194.6 73.1Z" color="#8e1620"/>
<path d="M137.9 95.1L140.8 92.5L142.9 92.3L140.1 94.9Z" color="#ae1822"/>
<path d="M120.6 105L123.4 102.4L125.6 101.6L122.8 104.2Z" color="#be141d"/>
<path d="M165.3 82.5L168.3 79.8L170.3 80.2L167.3 82.9Z" color="#ac1720"/>
<path d="M197.7 70.3L200.8 67.5L202.8 68.3L199.6 71.1Z" color="#871620"/>
<path d="M142.9 92.3L145.8 89.6L148 89.6L145.1 92.2Z" color="#ad1822"/>
<path d="M170.3 80.2L173.3 77.5L175.4 78L172.4 80.7Z" color="#a51720"/>
<path d="M202.8 68.3L205.9 65.5L207.9 66.2L204.7 69Z" color="#801620"/>
<path d="M125.6 101.6L128.5 99.1L130.7 98.4L127.8 101Z" color="#b7161f"/>
<path d="M148 89.6L150.9 86.9L153 87L150.1 89.7Z" color="#ad1822"/>
<path d="M175.4 78L178.4 75.3L180.5 75.9L177.4 78.6Z" color="#9f1720"/>
<path d="M207.9 66.2L211 63.4L212.9 64.2L209.8 67Z" color="#791620"/>
<path d="M180.5 75.9L183.5 73.1L185.5 73.7L182.5 76.5Z" color="#981720"/>
<path d="M130.7 98.4L133.5 95.8L135.7 95.4L132.9 98Z" color="#b01822"/>
<path d="M153 87L156 84.3L158.1 84.5L155.2 87.2Z" color="#ac1821"/>
<path d="M185.5 73.7L188.6 71L190.6 71.6L187.5 74.4Z" color="#911620"/>
<path d="M158.1 84.5L161.1 81.8L163.2 82.1L160.2 84.8Z" color="#ac1721"/>
<path d="M135.7 95.4L138.6 92.8L140.8 92.5L137.9 95.1Z" color="#ac1923"/>
<path d="M190.6 71.6L193.7 68.9L195.7 69.6L192.6 72.4Z" color="#8a1620"/>
<path d="M163.2 82.1L166.2 79.4L168.3 79.8L165.3 82.5Z" color="#a81721"/>
<path d="M195.7 69.6L198.9 66.8L200.8 67.5L197.7 70.3Z" color="#831620"/>
<path d="M140.8 92.5L143.7 89.8L145.8 89.6L142.9 92.3Z" color="#ab1923"/>
<path d="M123.4 102.4L126.2 99.8L128.5 99.1L125.6 101.6Z" color="#b31721"/>
<path d="M168.3 79.8L171.3 77L173.3 77.5L170.3 80.2Z" color="#a21720"/>
<path d="M200.8 67.5L204 64.7L205.9 65.5L202.8 68.3Z" color="#7c1620"/>
<path d="M145.8 89.6L148.8 87L150.9 86.9L148 89.6Z" color="#ab1822"/>
<path d="M173.3 77.5L176.4 74.7L178.4 75.3L175.4 78Z" color="#9b1720"/>
<path d="M205.9 65.5L209.1 62.6L211 63.4L207.9 66.2Z" color="#751620"/>
<path d="M128.5 99.1L131.3 96.5L133.5 95.8L130.7 98.4Z" color="#ad1923"/>
<path d="M150.9 86.9L153.9 84.3L156 84.3L153 87Z" color="#ab1822"/>
<path d="M178.4 75.3L181.5 72.5L183.5 73.1L180.5 75.9Z" color="#941720"/>
<path d="M183.5 73.1L186.6 70.3L188.6 71L185.5 73.7Z" color="#8c1620"/>
<path d="M133.5 95.8L136.4 93.2L138.6 92.8L135.7 95.4Z" color="#a91a24"/>
<path d="M156 84.3L159 81.6L161.1 81.8L158.1 84.5Z" color="#ab1721"/>
<path d="M188.6 71L191.7 68.2L193.7 68.9L190.6 71.6Z" color="#851620"/>
<path d="M161.1 81.8L164.1 79.1L166.2 79.4L163.2 82.1Z" color="#a51721"/>
<path d="M138.6 92.8L141.5 90.1L143.7 89.8L140.8 92.5Z" color="#a91924"/>
<path d="M193.7 68.9L196.9 66L198.9 66.8L195.7 69.6Z" color="#7e1620"/>
<path d="M166.2 79.4L169.2 76.7L171.3 77L168.3 79.8Z" color="#9e1721"/>
<path d="M198.9 66.8L202 63.9L204 64.7L200.8 67.5Z" color="#771620"/>
<path d="M143.7 89.8L146.6 87.2L148.8 87L145.8 89.6Z" color="#aa1923"/>
<path d="M126.2 99.8L129.1 97.2L131.3 96.5L128.5 99.1Z" color="#a91a25"/>
<path d="M171.3 77L174.3 74.3L176.4 74.7L173.3 77.5Z" color="#971720"/>
<path d="M204 64.7L207.2 61.8L209.1 62.6L205.9 65.5Z" color="#701620"/>
<path d="M148.8 87L151.7 84.3L153.9 84.3L150.9 86.9Z" color="#aa1822"/>
<path d="M176.4 74.7L179.5 72L181.5 72.5L178.4 75.3Z" color="#901720"/>
<path d="M131.3 96.5L134.2 93.8L136.4 93.2L133.5 95.8Z" color="#a61b26"/>
<path d="M153.9 84.3L156.8 81.6L159 81.6L156 84.3Z" color="#a91822"/>
<path d="M181.5 72.5L184.6 69.7L186.6 70.3L183.5 73.1Z" color="#881720"/>
<path d="M136.4 93.2L139.3 90.6L141.5 90.1L138.6 92.8Z" color="#a61a25"/>
<path d="M186.6 70.3L189.7 67.5L191.7 68.2L188.6 71Z" color="#811620"/>
<path d="M159 81.6L162 78.9L164.1 79.1L161.1 81.8Z" color="#a21721"/>
<path d="M191.7 68.2L194.9 65.3L196.9 66L193.7 68.9Z" color="#7a1620"/>
<path d="M164.1 79.1L167.1 76.4L169.2 76.7L166.2 79.4Z" color="#9b1721"/>
<path d="M141.5 90.1L144.4 87.5L146.6 87.2L143.7 89.8Z" color="#a81924"/>
<path d="M196.9 66L200 63.2L202 63.9L198.9 66.8Z" color="#731620"/>
<path d="M169.2 76.7L172.2 73.9L174.3 74.3L171.3 77Z" color="#931721"/>
<path d="M146.6 87.2L149.5 84.5L151.7 84.3L148.8 87Z" color="#a81923"/>
<path d="M202 63.9L205.2 61.1L207.2 61.8L204 64.7Z" color="#6c1620"/>
<path d="M129.1 97.2L132 94.6L134.2 93.8L131.3 96.5Z" color="#a21c28"/>
<path d="M174.3 74.3L177.4 71.5L179.5 72L176.4 74.7Z" color="#8c1720"/>
<path d="M151.7 84.3L154.7 81.6L156.8 81.6L153.9 84.3Z" color="#a61822"/>
<path d="M179.5 72L182.5 69.2L184.6 69.7L181.5 72.5Z" color="#841720"/>
<path d="M134.2 93.8L137.1 91.2L139.3 90.6L136.4 93.2Z" color="#a31b26"/>
<path d="M156.8 81.6L159.8 78.8L162 78.9L159 81.6Z" color="#9f1822"/>
<path d="M184.6 69.7L187.7 66.9L189.7 67.5L186.6 70.3Z" color="#7d1720"/>
<path d="M139.3 90.6L142.2 87.9L144.4 87.5L141.5 90.1Z" color="#a51a25"/>
<path d="M189.7 67.5L192.9 64.7L194.9 65.3L191.7 68.2Z" color="#761620"/>
<path d="M162 78.9L165 76.2L167.1 76.4L164.1 79.1Z" color="#971721"/>
<path d="M194.9 65.3L198 62.5L200 63.2L196.9 66Z" color="#6f1620"/>
<path d="M167.1 76.4L170.1 73.6L172.2 73.9L169.2 76.7Z" color="#901721"/>
<path d="M144.4 87.5L147.4 84.8L149.5 84.5L146.6 87.2Z" color="#a61924"/>
<path d="M200 63.2L203.2 60.3L205.2 61.1L202 63.9Z" color="#681620"/>
<path d="M172.2 73.9L175.3 71.1L177.4 71.5L174.3 74.3Z" color="#881721"/>
<path d="M149.5 84.5L152.5 81.8L154.7 81.6L151.7 84.3Z" color="#a31923"/>
<path d="M132 94.6L134.9 92L137.1 91.2L134.2 93.8Z" color="#9f1d28"/>
<path d="M177.4 71.5L180.5 68.7L182.5 69.2L179.5 72Z" color="#801720"/>
<path d="M154.7 81.6L157.7 78.9L159.8 78.8L156.8 81.6Z" color="#9c1822"/>
<path d="M182.5 69.2L185.7 66.3L187.7 66.9L184.6 69.7Z" color="#791720"/>
<path d="M137.1 91.2L140 88.5L142.2 87.9L139.3 90.6Z" color="#a21b26"/>
<path d="M159.8 78.8L162.9 76.1L165 76.2L162 78.9Z" color="#941822"/>
<path d="M187.7 66.9L190.9 64.1L192.9 64.7L189.7 67.5Z" color="#721620"/>
<path d="M142.2 87.9L145.2 85.2L147.4 84.8L144.4 87.5Z" color="#a41a25"/>
<path d="M192.9 64.7L196 61.8L198 62.5L194.9 65.3Z" color="#6b1620"/>
<path d="M165 76.2L168 73.4L170.1 73.6L167.1 76.4Z" color="#8d1721"/>
<path d="M198 62.5L201.2 59.6L203.2 60.3L200 63.2Z" color="#641620"/>
<path d="M170.1 73.6L173.2 70.8L175.3 71.1L172.2 73.9Z" color="#851721"/>
<path d="M147.4 84.8L150.3 82.1L152.5 81.8L149.5 84.5Z" color="#a11924"/>
<path d="M175.3 71.1L178.4 68.3L180.5 68.7L177.4 71.5Z" color="#7d1721"/>
<path d="M152.5 81.8L155.5 79L157.7 78.9L154.7 81.6Z" color="#991923"/>
<path d="M134.9 92L137.8 89.3L140 88.5L137.1 91.2Z" color="#9e1c28"/>
<path d="M180.5 68.7L183.6 65.9L185.7 66.3L182.5 69.2Z" color="#751720"/>
<path d="M157.7 78.9L160.7 76.1L162.9 76.1L159.8 78.8Z" color="#921822"/>
<path d="M185.7 66.3L188.8 63.5L190.9 64.1L187.7 66.9Z" color="#6e1720"/>
<path d="M140 88.5L143 85.9L145.2 85.2L142.2 87.9Z" color="#a11b26"/>
<path d="M162.9 76.1L165.9 73.3L168 73.4L165 76.2Z" color="#8a1822"/>
<path d="M190.9 64.1L194 61.2L196 61.8L192.9 64.7Z" color="#671620"/>
<path d="M145.2 85.2L148.2 82.5L150.3 82.1L147.4 84.8Z" color="#9e1a25"/>
<path d="M196 61.8L199.2 58.9L201.2 59.6L198 62.5Z" color="#601620"/>
<path d="M168 73.4L171.1 70.6L173.2 70.8L170.1 73.6Z" color="#811721"/>
<path d="M173.2 70.8L176.3 68L178.4 68.3L175.3 71.1Z" color="#7a1721"/>
<path d="M150.3 82.1L153.3 79.3L155.5 79L152.5 81.8Z" color="#971924"/>
<path d="M178.4 68.3L181.5 65.5L183.6 65.9L180.5 68.7Z" color="#721720"/>
<path d="M155.5 79L158.5 76.3L160.7 76.1L157.7 78.9Z" color="#8f1923"/>
<path d="M137.8 89.3L140.7 86.6L143 85.9L140 88.5Z" color="#9d1c28"/>
<path d="M183.6 65.9L186.8 63L188.8 63.5L185.7 66.3Z" color="#6a1720"/>
<path d="M160.7 76.1L163.8 73.3L165.9 73.3L162.9 76.1Z" color="#871822"/>
<path d="M188.8 63.5L192 60.6L194 61.2L190.9 64.1Z" color="#631720"/>
<path d="M143 85.9L145.9 83.1L148.2 82.5L145.2 85.2Z" color="#9b1b26"/>
<path d="M165.9 73.3L169 70.5L171.1 70.6L168 73.4Z" color="#7f1822"/>
<path d="M194 61.2L197.2 58.3L199.2 58.9L196 61.8Z" color="#5b1620"/>
<path d="M148.2 82.5L151.2 79.8L153.3 79.3L150.3 82.1Z" color="#941a25"/>
<path d="M171.1 70.6L174.2 67.8L176.3 68L173.2 70.8Z" color="#761721"/>
<path d="M176.3 68L179.4 65.2L181.5 65.5L178.4 68.3Z" color="#6f1721"/>
<path d="M153.3 79.3L156.4 76.6L158.5 76.3L155.5 79Z" color="#8d1924"/>
<path d="M181.5 65.5L184.7 62.6L186.8 63L183.6 65.9Z" color="#671720"/>
<path d="M158.5 76.3L161.6 73.5L163.8 73.3L160.7 76.1Z" color="#841823"/>
<path d="M140.7 86.6L143.7 83.9L145.9 83.1L143 85.9Z" color="#971c28"/>
<path d="M186.8 63L189.9 60.1L192 60.6L188.8 63.5Z" color="#5f1720"/>
<path d="M163.8 73.3L166.8 70.5L169 70.5L165.9 73.3Z" color="#7c1822"/>
<path d="M192 60.6L195.2 57.7L197.2 58.3L194 61.2Z" color="#581720"/>
<path d="M145.9 83.1L148.9 80.4L151.2 79.8L148.2 82.5Z" color="#911b26"/>
<path d="M169 70.5L172.1 67.7L174.2 67.8L171.1 70.6Z" color="#741822"/>
<path d="M151.2 79.8L154.2 77L156.4 76.6L153.3 79.3Z" color="#8a1a25"/>
<path d="M174.2 67.8L177.3 64.9L179.4 65.2L176.3 68Z" color="#6c1721"/>
<path d="M179.4 65.2L182.6 62.3L184.7 62.6L181.5 65.5Z" color="#641721"/>
<path d="M156.4 76.6L159.4 73.8L161.6 73.5L158.5 76.3Z" color="#821924"/>
<path d="M184.7 62.6L187.9 59.7L189.9 60.1L186.8 63Z" color="#5c1720"/>
<path d="M161.6 73.5L164.7 70.7L166.8 70.5L163.8 73.3Z" color="#7a1823"/>
<path d="M143.7 83.9L146.7 81.2L148.9 80.4L145.9 83.1Z" color="#8e1c28"/>
<path d="M189.9 60.1L193.1 57.2L195.2 57.7L192 60.6Z" color="#541720"/>
<path d="M166.8 70.5L169.9 67.7L172.1 67.7L169 70.5Z" color="#711822"/>
<path d="M148.9 80.4L152 77.7L154.2 77L151.2 79.8Z" color="#881b26"/>
<path d="M172.1 67.7L175.2 64.8L177.3 64.9L174.2 67.8Z" color="#691821"/>
<path d="M154.2 77L157.2 74.3L159.4 73.8L156.4 76.6Z" color="#801a25"/>
<path d="M177.3 64.9L180.5 62.1L182.6 62.3L179.4 65.2Z" color="#611721"/>
<path d="M182.6 62.3L185.8 59.4L187.9 59.7L184.7 62.6Z" color="#591721"/>
<path d="M159.4 73.8L162.5 71L164.7 70.7L161.6 73.5Z" color="#781924"/>
<path d="M187.9 59.7L191.1 56.8L193.1 57.2L189.9 60.1Z" color="#511720"/>
<path d="M164.7 70.7L167.8 67.9L169.9 67.7L166.8 70.5Z" color="#6f1823"/>
<path d="M146.7 81.2L149.8 78.5L152 77.7L148.9 80.4Z" color="#851c28"/>
<path d="M169.9 67.7L173.1 64.9L175.2 64.8L172.1 67.7Z" color="#671822"/>
<path d="M152 77.7L155 74.9L157.2 74.3L154.2 77Z" color="#7e1b26"/>
<path d="M175.2 64.8L178.4 62L180.5 62.1L177.3 64.9Z" color="#5f1821"/>
<path d="M157.2 74.3L160.3 71.5L162.5 71L159.4 73.8Z" color="#761a25"/>
<path d="M180.5 62.1L183.7 59.2L185.8 59.4L182.6 62.3Z" color="#561721"/>
<path d="M185.8 59.4L189 56.5L191.1 56.8L187.9 59.7Z" color="#4e1721"/>
<path d="M162.5 71L165.6 68.2L167.8 67.9L164.7 70.7Z" color="#6d1924"/>
<path d="M167.8 67.9L170.9 65L173.1 64.9L169.9 67.7Z" color="#651823"/>
<path d="M149.8 78.5L152.8 75.7L155 74.9L152 77.7Z" color="#7b1c28"/>
<path d="M173.1 64.9L176.2 62L178.4 62L175.2 64.8Z" color="#5c1822"/>
<path d="M155 74.9L158.1 72.1L160.3 71.5L157.2 74.3Z" color="#741b26"/>
<path d="M178.4 62L181.6 59.1L183.7 59.2L180.5 62.1Z" color="#541821"/>
<path d="M160.3 71.5L163.4 68.6L165.6 68.2L162.5 71Z" color="#6c1a25"/>
<path d="M183.7 59.2L186.9 56.3L189 56.5L185.8 59.4Z" color="#4b1721"/>
<path d="M165.6 68.2L168.7 65.3L170.9 65L167.8 67.9Z" color="#631923"/>
<path d="M170.9 65L174.1 62.1L176.2 62L173.1 64.9Z" color="#5a1823"/>
<path d="M152.8 75.7L155.9 72.9L158.1 72.1L155 74.9Z" color="#721c28"/>
<path d="M176.2 62L179.4 59.1L181.6 59.1L178.4 62Z" color="#511822"/>
<path d="M158.1 72.1L161.2 69.3L163.4 68.6L160.3 71.5Z" color="#6a1b26"/>
<path d="M181.6 59.1L184.8 56.2L186.9 56.3L183.7 59.2Z" color="#491721"/>
<path d="M163.4 68.6L166.6 65.8L168.7 65.3L165.6 68.2Z" color="#621a25"/>
<path d="M168.7 65.3L171.9 62.4L174.1 62.1L170.9 65Z" color="#591923"/>
<path d="M174.1 62.1L177.3 59.2L179.4 59.1L176.2 62Z" color="#501823"/>
<path d="M155.9 72.9L159 70.1L161.2 69.3L158.1 72.1Z" color="#691c28"/>
<path d="M179.4 59.1L182.6 56.2L184.8 56.2L181.6 59.1Z" color="#471822"/>
<path d="M161.2 69.3L164.4 66.4L166.6 65.8L163.4 68.6Z" color="#611b26"/>
<path d="M166.6 65.8L169.7 62.9L171.9 62.4L168.7 65.3Z" color="#581a25"/>
<path d="M171.9 62.4L175.1 59.5L177.3 59.2L174.1 62.1Z" color="#4e1923"/>
<path d="M177.3 59.2L180.5 56.3L182.6 56.2L179.4 59.1Z" color="#461822"/>
<path d="M159 70.1L162.1 67.2L164.4 66.4L161.2 69.3Z" color="#5f1c28"/>
<path d="M164.4 66.4L167.5 63.5L169.7 62.9L166.6 65.8Z" color="#571b26"/>
<path d="M169.7 62.9L172.9 60L175.1 59.5L171.9 62.4Z" color="#4e1a24"/>
<path d="M175.1 59.5L178.3 56.6L180.5 56.3L177.3 59.2Z" color="#451923"/>
<path d="M162.1 67.2L165.3 64.3L167.5 63.5L164.4 66.4Z" color="#561c28"/>
<path d="M167.5 63.5L170.7 60.6L172.9 60L169.7 62.9Z" color="#4d1b26"/>
<path d="M172.9 60L176.1 57.1L178.3 56.6L175.1 59.5Z" color="#441a24"/>
<path d="M165.3 64.3L168.5 61.4L170.7 60.6L167.5 63.5Z" color="#4d1c28"/>
<path d="M170.7 60.6L173.9 57.7L176.1 57.1L172.9 60Z" color="#441b26"/>
<path d="M168.5 61.4L171.7 58.5L173.9 57.7L170.7 60.6Z" color="#441c28"/></g>
<path d="M107.9 161.9L109.8 161.7L111.8 161.4L113.7 161.1L115.5 160.8L117.4 160.5L119.2 160.2L121.0 159.9L122.8 159.5L124.5 159.2L126.2 158.9L127.9 158.5L129.5 158.2L131.1 157.8L132.6 157.4L134.1 157.1L135.6 156.7L137.0 156.3L138.3 155.9L139.6 155.4L140.9 155.0L142.0 154.5L143.2 154.1L144.2 153.6L145.3 153.1L146.2 152.6L147.1 152.1L147.9 151.5M90.7 157.5L92.7 157.3L94.7 157.0L96.7 156.7L98.8 156.4L100.8 156.2L102.9 155.9L104.9 155.6L106.9 155.4L108.9 155.1L110.9 154.8L112.9 154.5L114.9 154.3L116.9 154.0L118.8 153.7L120.8 153.4L122.7 153.1L124.6 152.9L126.4 152.6L128.2 152.2L130.0 151.9L131.8 151.6L133.6 151.3L135.3 151.0L136.9 150.6L138.6 150.3L140.1 149.9L141.7 149.6L143.2 149.2L144.6 148.8L146.0 148.4L147.4 148.0L148.7 147.6L149.9 147.1L151.1 146.7L152.2 146.2L153.3 145.8L154.3 145.3L155.2 144.8L156.1 144.3L156.9 143.7M63.6 156.8L65.1 156.3L66.6 155.8L68.2 155.3L69.8 154.9L71.4 154.4L73.1 154.0L74.9 153.6L76.6 153.2L78.4 152.9L80.2 152.5L82.1 152.1L84.0 151.8L85.9 151.5L87.8 151.1L89.8 150.8L91.7 150.5L93.7 150.2L95.7 149.9L97.7 149.6L99.8 149.4L101.8 149.1L103.8 148.8L105.9 148.5L107.9 148.2L110.0 148.0L112.0 147.7L114.1 147.4L116.1 147.2L118.1 146.9L120.1 146.6L122.1 146.4L124.1 146.1L126.1 145.8L128.1 145.6L130.0 145.3L131.9 145.0L133.8 144.7L135.7 144.4L137.5 144.1L139.3 143.8L141.1 143.5L142.9 143.2L144.6 142.8L146.2 142.5L147.9 142.2L149.4 141.8L151.0 141.5L152.5 141.1L153.9 140.7L155.3 140.3L156.7 139.9L158.0 139.5L159.2 139.1L160.4 138.6L161.5 138.2L162.6 137.7L163.6 137.2L164.5 136.8L165.4 136.2L166.2 135.7M73.0 148.3L74.4 147.8L76.0 147.3L77.5 146.8L79.1 146.4L80.8 146.0L82.4 145.5L84.2 145.2L85.9 144.8L87.7 144.4L89.6 144.0L91.4 143.7L93.3 143.3L95.2 143.0L97.1 142.7L99.1 142.4L101.1 142.1L103.1 141.8L105.1 141.5L107.1 141.2L109.1 140.9L111.2 140.6L113.2 140.4L115.3 140.1L117.3 139.8L119.4 139.6L121.4 139.3L123.5 139.0L125.5 138.8L127.6 138.5L129.6 138.2L131.6 138.0L133.6 137.7L135.6 137.4L137.6 137.2L139.5 136.9L141.4 136.6L143.3 136.3L145.2 136.0L147.1 135.7L148.9 135.4L150.7 135.1L152.4 134.8L154.1 134.5L155.8 134.2L157.4 133.8L159.0 133.5L160.6 133.1L162.1 132.8L163.5 132.4L164.9 132.0L166.2 131.6L167.5 131.2L168.8 130.8L169.9 130.3L171.1 129.9L172.1 129.5L173.1 129.0L174.0 128.5L174.9 128.0L175.7 127.5M82.6 139.5L84.1 139.0L85.6 138.5L87.1 138.1L88.7 137.6L90.4 137.2L92.0 136.8L93.8 136.4L95.5 136.0L97.3 135.7L99.1 135.3L101.0 135.0L102.9 134.6L104.8 134.3L106.8 134.0L108.7 133.7L110.7 133.4L112.7 133.1L114.7 132.8L116.7 132.5L118.8 132.2L120.8 132.0L122.9 131.7L124.9 131.4L127.0 131.2L129.1 130.9L131.1 130.6L133.2 130.4L135.2 130.1L137.3 129.8L139.3 129.6L141.3 129.3L143.4 129.1L145.4 128.8L147.3 128.5L149.3 128.3L151.2 128.0L153.1 127.7L155.0 127.4L156.9 127.1L158.7 126.8L160.5 126.5L162.2 126.2L163.9 125.9L165.6 125.6L167.3 125.2L168.8 124.9L170.4 124.6L171.9 124.2L173.3 123.8L174.7 123.5L176.1 123.1L177.4 122.7L178.6 122.3L179.8 121.8L180.9 121.4L181.9 121.0L182.9 120.5L183.8 120.0L184.6 119.6L185.4 119.1M92.6 130.4L94.0 130.0L95.5 129.5L97.0 129.1L98.6 128.6L100.3 128.2L101.9 127.8L103.7 127.4L105.4 127.0L107.2 126.7L109.0 126.3L110.9 126.0L112.8 125.7L114.7 125.3L116.6 125.0L118.6 124.7L120.6 124.4L122.6 124.1L124.6 123.8L126.7 123.6L128.7 123.3L130.8 123.0L132.8 122.8L134.9 122.5L137.0 122.2L139.0 122.0L141.1 121.7L143.2 121.5L145.2 121.2L147.3 120.9L149.3 120.7L151.4 120.4L153.4 120.2L155.4 119.9L157.4 119.6L159.3 119.4L161.3 119.1L163.2 118.8L165.1 118.5L166.9 118.3L168.8 118.0L170.6 117.7L172.3 117.4L174.0 117.1L175.7 116.7L177.4 116.4L179.0 116.1L180.5 115.7L182.0 115.4L183.5 115.0L184.8 114.7L186.2 114.3L187.5 113.9L188.7 113.5L189.9 113.1L191.0 112.7L192.0 112.2L193.0 111.8L193.9 111.3L194.7 110.9L195.4 110.4M102.8 121.1L104.3 120.6L105.7 120.2L107.3 119.7L108.8 119.3L110.5 118.9L112.1 118.5L113.9 118.1L115.6 117.8L117.4 117.4L119.2 117.1L121.1 116.7L123.0 116.4L124.9 116.1L126.8 115.8L128.8 115.5L130.8 115.2L132.8 114.9L134.8 114.6L136.9 114.3L138.9 114.1L141.0 113.8L143.1 113.5L145.1 113.3L147.2 113.0L149.3 112.8L151.4 112.5L153.5 112.3L155.5 112.0L157.6 111.8L159.7 111.5L161.7 111.3L163.7 111.0L165.7 110.8L167.7 110.5L169.7 110.2L171.6 110.0L173.6 109.7L175.5 109.4L177.3 109.1L179.2 108.9L181.0 108.6L182.7 108.3L184.4 108.0L186.1 107.7L187.8 107.3L189.4 107.0L190.9 106.7L192.4 106.3L193.9 106.0L195.2 105.6L196.6 105.3L197.9 104.9L199.1 104.5L200.2 104.1L201.3 103.7L202.3 103.3L203.3 102.8L204.2 102.4L205.0 101.9L205.7 101.5M113.4 111.5L114.8 111.0L116.3 110.6L117.8 110.1L119.4 109.7L121.0 109.3L122.7 108.9L124.4 108.6L126.1 108.2L127.9 107.9L129.7 107.5L131.6 107.2L133.5 106.9L135.4 106.6L137.4 106.3L139.3 106.0L141.3 105.7L143.3 105.4L145.4 105.1L147.4 104.8L149.5 104.6L151.5 104.3L153.6 104.1L155.7 103.8L157.8 103.6L159.9 103.3L162.0 103.1L164.1 102.8L166.1 102.6L168.2 102.3L170.3 102.1L172.3 101.8L174.4 101.6L176.4 101.3L178.4 101.1L180.4 100.8L182.3 100.6L184.2 100.3L186.2 100.0L188.0 99.8L189.9 99.5L191.7 99.2L193.4 98.9L195.2 98.6L196.8 98.3L198.5 98.0L200.1 97.7L201.6 97.4L203.1 97.0L204.6 96.7L205.9 96.3L207.3 96.0L208.5 95.6L209.8 95.2L210.9 94.8L212.0 94.4L213.0 94.0L213.9 93.6L214.8 93.2L215.6 92.7L216.3 92.3M124.4 101.5L125.8 101.1L127.2 100.6L128.7 100.2L130.3 99.8L131.9 99.4L133.5 99.0L135.2 98.7L137.0 98.3L138.8 98.0L140.6 97.7L142.4 97.3L144.3 97.0L146.3 96.7L148.2 96.4L150.2 96.1L152.2 95.9L154.2 95.6L156.2 95.3L158.3 95.0L160.3 94.8L162.4 94.5L164.5 94.3L166.6 94.0L168.7 93.8L170.8 93.5L172.9 93.3L175.0 93.1L177.1 92.8L179.2 92.6L181.2 92.3L183.3 92.1L185.3 91.9L187.4 91.6L189.4 91.4L191.4 91.1L193.3 90.9L195.3 90.6L197.2 90.4L199.0 90.1L200.9 89.8L202.7 89.5L204.5 89.3L206.2 89.0L207.9 88.7L209.5 88.4L211.1 88.1L212.6 87.8L214.1 87.4L215.6 87.1L217.0 86.8L218.3 86.4L219.5 86.1L220.8 85.7L221.9 85.3L223.0 84.9L224.0 84.5L224.9 84.1L225.7 83.7L226.5 83.3L227.2 82.8M135.7 91.3L137.0 90.8L138.5 90.4L140.0 90.0L141.5 89.6L143.1 89.2L144.8 88.8L146.4 88.5L148.2 88.1L150.0 87.8L151.8 87.5L153.6 87.2L155.5 86.9L157.5 86.6L159.4 86.3L161.4 86.0L163.4 85.7L165.4 85.5L167.4 85.2L169.5 84.9L171.6 84.7L173.6 84.4L175.7 84.2L177.8 84.0L179.9 83.7L182.0 83.5L184.2 83.2L186.3 83.0L188.4 82.8L190.4 82.5L192.5 82.3L194.6 82.1L196.6 81.8L198.7 81.6L200.7 81.4L202.7 81.1L204.6 80.9L206.6 80.6L208.5 80.4L210.4 80.1L212.2 79.9L214.0 79.6L215.8 79.3L217.5 79.0L219.2 78.8L220.9 78.5L222.5 78.2L224.0 77.9L225.5 77.6L226.9 77.2L228.3 76.9L229.6 76.6L230.9 76.2L232.1 75.9L233.2 75.5L234.3 75.1L235.2 74.8L236.2 74.4L237.0 74.0L237.8 73.5L238.4 73.1M147.4 80.6L148.7 80.2L150.1 79.8L151.6 79.4L153.1 79.0L154.7 78.6L156.4 78.3L158.0 77.9L159.8 77.6L161.5 77.3L163.4 77.0L165.2 76.7L167.1 76.4L169.0 76.1L171.0 75.8L172.9 75.5L174.9 75.3L177.0 75.0L179.0 74.7L181.1 74.5L183.1 74.3L185.2 74.0L187.3 73.8L189.4 73.5L191.5 73.3L193.7 73.1L195.8 72.9L197.9 72.6L200.0 72.4L202.1 72.2L204.2 72.0L206.2 71.7L208.3 71.5L210.3 71.3L212.4 71.0L214.4 70.8L216.3 70.6L218.3 70.3L220.2 70.1L222.1 69.8L223.9 69.6L225.7 69.3L227.5 69.1M159.5 69.6L160.8 69.2L162.2 68.8L163.6 68.4L165.2 68.1L166.7 67.7L168.3 67.4L170.0 67.0L171.7 66.7L173.5 66.4L175.3 66.1L177.2 65.8L179.0 65.5L181.0 65.2L182.9 65.0L184.9 64.7L186.9 64.5L188.9 64.2L191.0 64.0L193.0 63.7L195.1 63.5L197.2 63.3L199.3 63.0L201.4 62.8L203.5 62.6L205.6 62.4L207.8 62.1" fill="none" stroke="#1e1e28" stroke-opacity="0.32" stroke-width="0.55"/>
<polyline points="146.1,153.1 149.2,150.5 152.3,147.7 155.5,145.0 158.6,142.2 161.9,139.5 165.1,136.6 168.4,133.8 171.7,130.9 175.0,128.0 178.4,125.1 181.8,122.2 185.3,119.2 188.7,116.2 192.2,113.2 195.8,110.1 199.3,107.0 202.9,103.9 206.6,100.7 210.3,97.5 214.0,94.3 217.7,91.1 221.5,87.8 225.3,84.5 229.2,81.1 233.1,77.8 237.0,74.3 241.0,70.9 245.0,67.4 249.1,63.9" fill="none" stroke="#3a9494" stroke-width="0.7" stroke-opacity="0.9"/>
<g fill="#ff0000"><circle cx="67.8" cy="156.0" r="2.1"/>
<circle cx="87.7" cy="154.2" r="2.1"/>
<circle cx="95.1" cy="142.1" r="2.1"/>
<circle cx="115.5" cy="139.3" r="2.1"/>
<circle cx="136.1" cy="142.3" r="2.1"/>
<circle cx="153.6" cy="139.7" r="2.1"/>
<circle cx="169.8" cy="136.5" r="2.1"/>
<circle cx="102.4" cy="161.9" r="2.1"/>
<circle cx="127.6" cy="164.7" r="2.1"/>
<circle cx="141.6" cy="161.1" r="2.1"/>
<circle cx="109.8" cy="98.2" r="2.1"/>
<circle cx="211.8" cy="94.7" r="2.1"/>
<circle cx="219.2" cy="93.9" r="2.1"/><circle cx="163.6" cy="71.5" r="2.5"/><circle cx="201.8" cy="94.7" r="1.1"/></g>
<polyline points="21.0,29.1 28.2,202.1 163.5,252.1 271.1,194.6" fill="none" stroke="#3a3a3a" stroke-width="1.1" stroke-linejoin="miter"/>
<line x1="28.2" y1="202.1" x2="31.1" y2="201.0" stroke="#3a3a3a" stroke-width=".9"/>
<line x1="27.3" y1="180.3" x2="30.3" y2="179.2" stroke="#3a3a3a" stroke-width=".9"/>
<line x1="26.4" y1="158.1" x2="29.4" y2="157.1" stroke="#3a3a3a" stroke-width=".9"/>
<line x1="25.4" y1="135.6" x2="28.4" y2="134.7" stroke="#3a3a3a" stroke-width=".9"/>
<line x1="24.5" y1="112.7" x2="27.5" y2="111.8" stroke="#3a3a3a" stroke-width=".9"/>
<line x1="23.5" y1="89.4" x2="26.6" y2="88.6" stroke="#3a3a3a" stroke-width=".9"/>
<line x1="22.5" y1="65.7" x2="25.6" y2="65.0" stroke="#3a3a3a" stroke-width=".9"/>
<line x1="21.5" y1="41.6" x2="24.6" y2="41.0" stroke="#3a3a3a" stroke-width=".9"/>
<line x1="42.8" y1="207.5" x2="45.7" y2="206.3" stroke="#3a3a3a" stroke-width=".9"/>
<line x1="70.3" y1="217.6" x2="73.2" y2="216.4" stroke="#3a3a3a" stroke-width=".9"/>
<line x1="99.6" y1="228.4" x2="102.4" y2="227.1" stroke="#3a3a3a" stroke-width=".9"/>
<line x1="130.9" y1="240.0" x2="133.7" y2="238.6" stroke="#3a3a3a" stroke-width=".9"/>
<line x1="183.0" y1="241.7" x2="179.6" y2="240.5" stroke="#3a3a3a" stroke-width=".9"/>
<line x1="203.1" y1="230.9" x2="199.7" y2="229.8" stroke="#3a3a3a" stroke-width=".9"/>
<line x1="222.0" y1="220.8" x2="218.6" y2="219.8" stroke="#3a3a3a" stroke-width=".9"/>
<line x1="239.7" y1="211.3" x2="236.5" y2="210.3" stroke="#3a3a3a" stroke-width=".9"/>
<line x1="256.5" y1="202.3" x2="253.3" y2="201.4" stroke="#3a3a3a" stroke-width=".9"/>
<polyline points="388.3,198.2 498.6,156.9 623.3,191.7" fill="none" stroke="#f6f6f6" stroke-width=".6"/>
<polyline points="387.5,178.4 498.6,139.7 624.3,172.3" fill="none" stroke="#f6f6f6" stroke-width=".6"/>
<polyline points="386.7,158.3 498.7,122.2 625.2,152.6" fill="none" stroke="#f6f6f6" stroke-width=".6"/>
<polyline points="385.9,137.9 498.7,104.4 626.1,132.7" fill="none" stroke="#f6f6f6" stroke-width=".6"/>
<polyline points="385.1,117.2 498.7,86.5 627.1,112.4" fill="none" stroke="#f6f6f6" stroke-width=".6"/>
<polyline points="384.2,96.1 498.7,68.3 628.1,91.9" fill="none" stroke="#f6f6f6" stroke-width=".6"/>
<polyline points="383.4,74.8 498.8,49.8 629.1,71.0" fill="none" stroke="#f6f6f6" stroke-width=".6"/>
<polyline points="382.5,53.1 498.8,31.2 630.1,49.9" fill="none" stroke="#f6f6f6" stroke-width=".6"/>
<polyline points="381.6,31.0 498.8,12.2 631.1,28.4" fill="none" stroke="#f6f6f6" stroke-width=".6"/>
<polyline points="403.9,204.0 513.8,161.2 514.8,14.2" fill="none" stroke="#f6f6f6" stroke-width=".6"/>
<polyline points="434.2,215.1 543.0,169.3 545.7,17.9" fill="none" stroke="#f6f6f6" stroke-width=".6"/>
<polyline points="466.7,227.0 574.2,178.0 578.7,22.0" fill="none" stroke="#f6f6f6" stroke-width=".6"/>
<polyline points="501.8,239.9 607.3,187.2 614.1,26.3" fill="none" stroke="#f6f6f6" stroke-width=".6"/>
<polyline points="538.5,235.9 408.6,190.6 403.4,27.5" fill="none" stroke="#f6f6f6" stroke-width=".6"/>
<polyline points="557.5,226.0 428.6,183.2 424.6,24.1" fill="none" stroke="#f6f6f6" stroke-width=".6"/>
<polyline points="575.5,216.7 447.5,176.1 444.7,20.9" fill="none" stroke="#f6f6f6" stroke-width=".6"/>
<polyline points="592.4,207.8 465.4,169.4 463.7,17.8" fill="none" stroke="#f6f6f6" stroke-width=".6"/>
<polyline points="608.4,199.5 482.5,163.0 481.8,14.9" fill="none" stroke="#f6f6f6" stroke-width=".6"/>
<polyline points="381.6,31.0 498.8,12.2 631.1,28.4" fill="none" stroke="#909090" stroke-width=".75"/>
<polyline points="388.3,198.2 498.6,156.9 623.3,191.7" fill="none" stroke="#9a9a9a" stroke-width=".8"/>
<line x1="498.6" y1="156.9" x2="498.8" y2="12.2" stroke="#9a9a9a" stroke-width=".8"/>
<line x1="623.3" y1="191.7" x2="631.1" y2="28.4" stroke="#9a9a9a" stroke-width=".8"/>
<g fill="#ff0000"><circle cx="498.0" cy="92.9" r="2.1"/>
<circle cx="528.5" cy="141.4" r="2.1"/>
<circle cx="559.3" cy="120.5" r="2.1"/>
<circle cx="505.0" cy="157.6" r="2.1"/></g>
<g class="s"><path d="M496.2 163.5L498.4 161.9L500.1 161.5L497.9 163.1Z" color="#5a117e"/>
<path d="M494.6 163.8L496.8 162.2L498.4 161.9L496.2 163.5Z" color="#5e0d84"/>
<path d="M498.4 161.9L500.7 160.4L502.3 160L500.1 161.5Z" color="#62118e"/>
<path d="M492.9 163.8L495.1 162.2L496.8 162.2L494.6 163.8Z" color="#620b8a"/>
<path d="M496.8 162.2L499 160.6L500.7 160.4L498.4 161.9Z" color="#660d94"/>
<path d="M500.7 160.4L502.9 158.8L504.6 158.4L502.3 160Z" color="#6a109d"/>
<path d="M491.2 163.8L493.4 162.1L495.1 162.2L492.9 163.8Z" color="#650a90"/>
<path d="M495.1 162.2L497.3 160.6L499 160.6L496.8 162.2Z" color="#6a0b9b"/>
<path d="M499 160.6L501.3 159L502.9 158.8L500.7 160.4Z" color="#6f0da4"/>
<path d="M502.9 158.8L505.2 157.2L506.9 156.8L504.6 158.4Z" color="#6a10ae"/>
<path d="M489.5 163.6L491.7 161.9L493.4 162.1L491.2 163.8Z" color="#690998"/>
<path d="M493.4 162.1L495.6 160.5L497.3 160.6L495.1 162.2Z" color="#6e0aa2"/>
<path d="M497.3 160.6L499.6 159L501.3 159L499 160.6Z" color="#730bab"/>
<path d="M501.3 159L503.5 157.3L505.2 157.2L502.9 158.8Z" color="#6b0cb8"/>
<path d="M505.2 157.2L507.5 155.6L509.1 155.2L506.9 156.8Z" color="#600fc3"/>
<path d="M487.8 163.2L490 161.5L491.7 161.9L489.5 163.6Z" color="#6e08a0"/>
<path d="M491.7 161.9L493.9 160.2L495.6 160.5L493.4 162.1Z" color="#7209a9"/>
<path d="M495.6 160.5L497.9 158.9L499.6 159L497.3 160.6Z" color="#7409b4"/>
<path d="M499.6 159L501.8 157.3L503.5 157.3L501.3 159Z" color="#6b0ac1"/>
<path d="M503.5 157.3L505.8 155.7L507.5 155.6L505.2 157.2Z" color="#610ccd"/>
<path d="M507.5 155.6L509.8 153.9L511.4 153.6L509.1 155.2Z" color="#570fd7"/>
<path d="M486 162.7L488.3 161L490 161.5L487.8 163.2Z" color="#7207a9"/>
<path d="M490 161.5L492.2 159.8L493.9 160.2L491.7 161.9Z" color="#7708b2"/>
<path d="M493.9 160.2L496.2 158.6L497.9 158.9L495.6 160.5Z" color="#7108be"/>
<path d="M497.9 158.9L500.1 157.2L501.8 157.3L499.6 159Z" color="#6909ca"/>
<path d="M501.8 157.3L504.1 155.7L505.8 155.7L503.5 157.3Z" color="#600ad7"/>
<path d="M505.8 155.7L508.1 154.1L509.8 153.9L507.5 155.6Z" color="#530cdf"/>
<path d="M484.3 162.1L486.5 160.4L488.3 161L486 162.7Z" color="#7707b3"/>
<path d="M509.8 153.9L512.1 152.3L513.7 152L511.4 153.6Z" color="#390ed8"/>
<path d="M488.3 161L490.5 159.3L492.2 159.8L490 161.5Z" color="#7307bd"/>
<path d="M492.2 159.8L494.5 158.2L496.2 158.6L493.9 160.2Z" color="#6c08c9"/>
<path d="M496.2 158.6L498.4 156.9L500.1 157.2L497.9 158.9Z" color="#6508d5"/>
<path d="M500.1 157.2L502.4 155.5L504.1 155.7L501.8 157.3Z" color="#5d09e1"/>
<path d="M504.1 155.7L506.4 154L508.1 154.1L505.8 155.7Z" color="#4b0ae4"/>
<path d="M508.1 154.1L510.4 152.4L512.1 152.3L509.8 153.9Z" color="#330ce0"/>
<path d="M482.6 161.4L484.8 159.7L486.5 160.4L484.3 162.1Z" color="#7307c0"/>
<path d="M512.1 152.3L514.4 150.7L516.1 150.4L513.7 152Z" color="#1a0ed9"/>
<path d="M486.5 160.4L488.8 158.7L490.5 159.3L488.3 161Z" color="#6d07ca"/>
<path d="M490.5 159.3L492.8 157.6L494.5 158.2L492.2 159.8Z" color="#6707d5"/>
<path d="M494.5 158.2L496.7 156.4L498.4 156.9L496.2 158.6Z" color="#6008e1"/>
<path d="M498.4 156.9L500.7 155.2L502.4 155.5L500.1 157.2Z" color="#5608e9"/>
<path d="M502.4 155.5L504.7 153.8L506.4 154L504.1 155.7Z" color="#4009e7"/>
<path d="M506.4 154L508.7 152.4L510.4 152.4L508.1 154.1Z" color="#2a0ae4"/>
<path d="M510.4 152.4L512.7 150.8L514.4 150.7L512.1 152.3Z" color="#120be0"/>
<path d="M480.8 160.7L483 158.9L484.8 159.7L482.6 161.4Z" color="#6c06cf"/>
<path d="M484.8 159.7L487 158L488.8 158.7L486.5 160.4Z" color="#6607d9"/>
<path d="M514.4 150.7L516.7 149L518.4 148.8L516.1 150.4Z" color="#0d1fda"/>
<path d="M488.8 158.7L491 157L492.8 157.6L490.5 159.3Z" color="#6107e3"/>
<path d="M492.8 157.6L495 155.9L496.7 156.4L494.5 158.2Z" color="#5907ec"/>
<path d="M496.7 156.4L499 154.7L500.7 155.2L498.4 156.9Z" color="#4707eb"/>
<path d="M500.7 155.2L503 153.5L504.7 153.8L502.4 155.5Z" color="#3308e9"/>
<path d="M504.7 153.8L507 152.1L508.7 152.4L506.4 154Z" color="#1e09e8"/>
<path d="M508.7 152.4L511 150.7L512.7 150.8L510.4 152.4Z" color="#090be5"/>
<path d="M479 159.8L481.3 158L483 158.9L480.8 160.7Z" color="#6406df"/>
<path d="M512.7 150.8L515.1 149.1L516.7 149L514.4 150.7Z" color="#0a24e1"/>
<path d="M483 158.9L485.3 157.1L487 158L484.8 159.7Z" color="#5f06e8"/>
<path d="M487 158L489.3 156.2L491 157L488.8 158.7Z" color="#5606ee"/>
<path d="M516.7 149L519.1 147.4L520.7 147.1L518.4 148.8Z" color="#0c3edb"/>
<path d="M491 157L493.3 155.2L495 155.9L492.8 157.6Z" color="#4607ed"/>
<path d="M495 155.9L497.3 154.1L499 154.7L496.7 156.4Z" color="#3507ec"/>
<path d="M499 154.7L501.3 153L503 153.5L500.7 155.2Z" color="#2307eb"/>
<path d="M503 153.5L505.3 151.8L507 152.1L504.7 153.8Z" color="#1008ea"/>
<path d="M507 152.1L509.4 150.4L511 150.7L508.7 152.4Z" color="#0815e8"/>
<path d="M511 150.7L513.4 149L515.1 149.1L512.7 150.8Z" color="#092ce5"/>
<path d="M477.3 158.9L479.5 157.1L481.3 158L479 159.8Z" color="#5c06ef"/>
<path d="M481.3 158L483.5 156.2L485.3 157.1L483 158.9Z" color="#4e06ef"/>
<path d="M515.1 149.1L517.4 147.4L519.1 147.4L516.7 149Z" color="#0a45e2"/>
<path d="M485.3 157.1L487.5 155.4L489.3 156.2L487 158Z" color="#4006ee"/>
<path d="M489.3 156.2L491.5 154.4L493.3 155.2L491 157Z" color="#3106ee"/>
<path d="M519.1 147.4L521.4 145.7L523.1 145.5L520.7 147.1Z" color="#0c5ddc"/>
<path d="M493.3 155.2L495.6 153.4L497.3 154.1L495 155.9Z" color="#2107ed"/>
<path d="M497.3 154.1L499.6 152.4L501.3 153L499 154.7Z" color="#1107ec"/>
<path d="M501.3 153L503.6 151.3L505.3 151.8L503 153.5Z" color="#070feb"/>
<path d="M505.3 151.8L507.7 150L509.4 150.4L507 152.1Z" color="#0723ea"/>
<path d="M509.4 150.4L511.7 148.7L513.4 149L511 150.7Z" color="#0838e8"/>
<path d="M475.5 157.9L477.7 156.1L479.5 157.1L477.3 158.9Z" color="#4306ef"/>
<path d="M513.4 149L515.7 147.3L517.4 147.4L515.1 149.1Z" color="#094ee6"/>
<path d="M479.5 157.1L481.7 155.3L483.5 156.2L481.3 158Z" color="#3606ef"/>
<path d="M483.5 156.2L485.8 154.5L487.5 155.4L485.3 157.1Z" color="#2906ef"/>
<path d="M517.4 147.4L519.8 145.7L521.4 145.7L519.1 147.4Z" color="#0a66e3"/>
<path d="M487.5 155.4L489.8 153.6L491.5 154.4L489.3 156.2Z" color="#1b06ee"/>
<path d="M491.5 154.4L493.8 152.7L495.6 153.4L493.3 155.2Z" color="#0c06ee"/>
<path d="M521.4 145.7L523.8 144L525.5 143.8L523.1 145.5Z" color="#0c7edd"/>
<path d="M495.6 153.4L497.9 151.7L499.6 152.4L497.3 154.1Z" color="#0610ed"/>
<path d="M499.6 152.4L501.9 150.6L503.6 151.3L501.3 153Z" color="#0621ed"/>
<path d="M503.6 151.3L506 149.5L507.7 150L505.3 151.8Z" color="#0733ec"/>
<path d="M507.7 150L510 148.3L511.7 148.7L509.4 150.4Z" color="#0746ea"/>
<path d="M511.7 148.7L514.1 147L515.7 147.3L513.4 149Z" color="#085be9"/>
<path d="M473.7 156.9L475.9 155.1L477.7 156.1L475.5 157.9Z" color="#2906ef"/>
<path d="M515.7 147.3L518.1 145.5L519.8 145.7L517.4 147.4Z" color="#0971e6"/>
<path d="M477.7 156.1L479.9 154.3L481.7 155.3L479.5 157.1Z" color="#1d06ef"/>
<path d="M481.7 155.3L484 153.5L485.8 154.5L483.5 156.2Z" color="#1006ef"/>
<path d="M485.8 154.5L488 152.6L489.8 153.6L487.5 155.4Z" color="#0609ef"/>
<path d="M519.8 145.7L522.2 144L523.8 144L521.4 145.7Z" color="#0a88e3"/>
<path d="M489.8 153.6L492.1 151.8L493.8 152.7L491.5 154.4Z" color="#0617ef"/>
<path d="M493.8 152.7L496.1 150.9L497.9 151.7L495.6 153.4Z" color="#0625ee"/>
<path d="M523.8 144L526.2 142.3L527.9 142.1L525.5 143.8Z" color="#0b9fde"/>
<path d="M497.9 151.7L500.2 149.9L501.9 150.6L499.6 152.4Z" color="#0635ee"/>
<path d="M501.9 150.6L504.2 148.9L506 149.5L503.6 151.3Z" color="#0646ed"/>
<path d="M506 149.5L508.3 147.7L510 148.3L507.7 150Z" color="#0757ec"/>
<path d="M510 148.3L512.4 146.5L514.1 147L511.7 148.7Z" color="#076aeb"/>
<path d="M514.1 147L516.4 145.2L518.1 145.5L515.7 147.3Z" color="#087fe9"/>
<path d="M471.9 155.9L474.1 154L475.9 155.1L473.7 156.9Z" color="#0f06ef"/>
<path d="M475.9 155.1L478.1 153.2L479.9 154.3L477.7 156.1Z" color="#0508ef"/>
<path d="M518.1 145.5L520.5 143.8L522.2 144L519.8 145.7Z" color="#0895e7"/>
<path d="M479.9 154.3L482.2 152.5L484 153.5L481.7 155.3Z" color="#0515ef"/>
<path d="M484 153.5L486.3 151.6L488 152.6L485.8 154.5Z" color="#0521ef"/>
<path d="M522.2 144L524.6 142.3L526.2 142.3L523.8 144Z" color="#09abe4"/>
<path d="M488 152.6L490.3 150.8L492.1 151.8L489.8 153.6Z" color="#062fef"/>
<path d="M492.1 151.8L494.4 150L496.1 150.9L493.8 152.7Z" color="#063cef"/>
<path d="M496.1 150.9L498.4 149.1L500.2 149.9L497.9 151.7Z" color="#064bee"/>
<path d="M526.2 142.3L528.6 140.6L530.3 140.5L527.9 142.1Z" color="#0bbbdf"/>
<path d="M500.2 149.9L502.5 148.1L504.2 148.9L501.9 150.6Z" color="#065aee"/>
<path d="M504.2 148.9L506.6 147.1L508.3 147.7L506 149.5Z" color="#066bed"/>
<path d="M508.3 147.7L510.7 146L512.4 146.5L510 148.3Z" color="#077dec"/>
<path d="M512.4 146.5L514.7 144.8L516.4 145.2L514.1 147Z" color="#0790eb"/>
<path d="M470 154.9L472.3 153L474.1 154L471.9 155.9Z" color="#0516f0"/>
<path d="M516.4 145.2L518.8 143.5L520.5 143.8L518.1 145.5Z" color="#07a4ea"/>
<path d="M474.1 154L476.3 152.2L478.1 153.2L475.9 155.1Z" color="#0522f0"/>
<path d="M478.1 153.2L480.4 151.4L482.2 152.5L479.9 154.3Z" color="#052ff0"/>
<path d="M520.5 143.8L522.9 142.1L524.6 142.3L522.2 144Z" color="#08b9e7"/>
<path d="M482.2 152.5L484.5 150.6L486.3 151.6L484 153.5Z" color="#053bef"/>
<path d="M486.3 151.6L488.6 149.8L490.3 150.8L488 152.6Z" color="#0548ef"/>
<path d="M524.6 142.3L527 140.5L528.6 140.6L526.2 142.3Z" color="#09c4e4"/>
<path d="M490.3 150.8L492.6 149L494.4 150L492.1 151.8Z" color="#0654ef"/>
<path d="M494.4 150L496.7 148.1L498.4 149.1L496.1 150.9Z" color="#0662ef"/>
<path d="M528.6 140.6L531.1 138.9L532.7 138.8L530.3 140.5Z" color="#0bcde0"/>
<path d="M498.4 149.1L500.8 147.2L502.5 148.1L500.2 149.9Z" color="#0671ee"/>
<path d="M502.5 148.1L504.9 146.3L506.6 147.1L504.2 148.9Z" color="#0680ee"/>
<path d="M506.6 147.1L508.9 145.3L510.7 146L508.3 147.7Z" color="#0691ed"/>
<path d="M510.7 146L513 144.2L514.7 144.8L512.4 146.5Z" color="#06a2ec"/>
<path d="M514.7 144.8L517.1 143L518.8 143.5L516.4 145.2Z" color="#07b5eb"/>
<path d="M468.2 153.8L470.4 151.9L472.3 153L470 154.9Z" color="#0530f0"/>
<path d="M472.3 153L474.5 151.1L476.3 152.2L474.1 154Z" color="#053df0"/>
<path d="M518.8 143.5L521.2 141.7L522.9 142.1L520.5 143.8Z" color="#07c3ea"/>
<path d="M476.3 152.2L478.6 150.3L480.4 151.4L478.1 153.2Z" color="#0549f0"/>
<path d="M480.4 151.4L482.7 149.5L484.5 150.6L482.2 152.5Z" color="#0555f0"/>
<path d="M522.9 142.1L525.3 140.3L527 140.5L524.6 142.3Z" color="#08cde8"/>
<path d="M484.5 150.6L486.8 148.7L488.6 149.8L486.3 151.6Z" color="#0562f0"/>
<path d="M488.6 149.8L490.9 148L492.6 149L490.3 150.8Z" color="#056eef"/>
<path d="M527 140.5L529.4 138.8L531.1 138.9L528.6 140.6Z" color="#09d7e5"/>
<path d="M492.6 149L494.9 147.1L496.7 148.1L494.4 150Z" color="#057cef"/>
<path d="M496.7 148.1L499 146.3L500.8 147.2L498.4 149.1Z" color="#0689ef"/>
<path d="M531.1 138.9L533.5 137.1L535.2 137L532.7 138.8Z" color="#0bdcd2"/>
<path d="M500.8 147.2L503.1 145.4L504.9 146.3L502.5 148.1Z" color="#0698ef"/>
<path d="M504.9 146.3L507.2 144.5L508.9 145.3L506.6 147.1Z" color="#06a7ee"/>
<path d="M508.9 145.3L511.3 143.5L513 144.2L510.7 146Z" color="#06b7ee"/>
<path d="M513 144.2L515.4 142.4L517.1 143L514.7 144.8Z" color="#06c4ed"/>
<path d="M466.4 152.8L468.6 150.9L470.4 151.9L468.2 153.8Z" color="#054af0"/>
<path d="M517.1 143L519.5 141.2L521.2 141.7L518.8 143.5Z" color="#07ceec"/>
<path d="M470.4 151.9L472.7 150L474.5 151.1L472.3 153Z" color="#0557f0"/>
<path d="M521.2 141.7L523.6 139.9L525.3 140.3L522.9 142.1Z" color="#07d7ea"/>
<path d="M474.5 151.1L476.8 149.2L478.6 150.3L476.3 152.2Z" color="#0564f0"/>
<path d="M478.6 150.3L480.9 148.4L482.7 149.5L480.4 151.4Z" color="#0570f0"/>
<path d="M482.7 149.5L485 147.6L486.8 148.7L484.5 150.6Z" color="#057df0"/>
<path d="M525.3 140.3L527.8 138.6L529.4 138.8L527 140.5Z" color="#08e1e8"/>
<path d="M486.8 148.7L489.1 146.9L490.9 148L488.6 149.8Z" color="#0589f0"/>
<path d="M490.9 148L493.2 146.1L494.9 147.1L492.6 149Z" color="#0596f0"/>
<path d="M529.4 138.8L531.9 137L533.5 137.1L531.1 138.9Z" color="#09e2c6"/>
<path d="M494.9 147.1L497.3 145.3L499 146.3L496.7 148.1Z" color="#05a3ef"/>
<path d="M499 146.3L501.4 144.4L503.1 145.4L500.8 147.2Z" color="#06b0ef"/>
<path d="M533.5 137.1L536 135.4L537.6 135.3L535.2 137Z" color="#0add96"/>
<path d="M503.1 145.4L505.5 143.6L507.2 144.5L504.9 146.3Z" color="#06bfef"/>
<path d="M507.2 144.5L509.6 142.6L511.3 143.5L508.9 145.3Z" color="#06c8ee"/>
<path d="M511.3 143.5L513.7 141.6L515.4 142.4L513 144.2Z" color="#06d0ee"/>
<path d="M515.4 142.4L517.8 140.6L519.5 141.2L517.1 143Z" color="#06d9ed"/>
<path d="M464.5 151.8L466.7 149.9L468.6 150.9L466.4 152.8Z" color="#0564f0"/>
<path d="M519.5 141.2L522 139.4L523.6 139.9L521.2 141.7Z" color="#07e2ec"/>
<path d="M468.6 150.9L470.8 149L472.7 150L470.4 151.9Z" color="#0572f0"/>
<path d="M472.7 150L474.9 148.1L476.8 149.2L474.5 151.1Z" color="#057ff0"/>
<path d="M523.6 139.9L526.1 138.1L527.8 138.6L525.3 140.3Z" color="#07e7dd"/>
<path d="M476.8 149.2L479.1 147.3L480.9 148.4L478.6 150.3Z" color="#058cf0"/>
<path d="M480.9 148.4L483.2 146.5L485 147.6L482.7 149.5Z" color="#0599f0"/>
<path d="M527.8 138.6L530.2 136.8L531.9 137L529.4 138.8Z" color="#08e5b3"/>
<path d="M485 147.6L487.3 145.8L489.1 146.9L486.8 148.7Z" color="#05a5f0"/>
<path d="M489.1 146.9L491.4 145L493.2 146.1L490.9 148Z" color="#05b1f0"/>
<path d="M493.2 146.1L495.5 144.2L497.3 145.3L494.9 147.1Z" color="#05bef0"/>
<path d="M531.9 137L534.3 135.3L536 135.4L533.5 137.1Z" color="#09e287"/>
<path d="M497.3 145.3L499.6 143.4L501.4 144.4L499 146.3Z" color="#05c7f0"/>
<path d="M501.4 144.4L503.8 142.6L505.5 143.6L503.1 145.4Z" color="#05ceef"/>
<path d="M536 135.4L538.5 133.6L540.1 133.6L537.6 135.3Z" color="#0ade5b"/>
<path d="M505.5 143.6L507.9 141.7L509.6 142.6L507.2 144.5Z" color="#06d5ef"/>
<path d="M509.6 142.6L512 140.8L513.7 141.6L511.3 143.5Z" color="#06ddef"/>
<path d="M513.7 141.6L516.1 139.8L517.8 140.6L515.4 142.4Z" color="#06e5ee"/>
<path d="M462.6 150.9L464.9 149L466.7 149.9L464.5 151.8Z" color="#057df0"/>
<path d="M517.8 140.6L520.3 138.7L522 139.4L519.5 141.2Z" color="#06eae3"/>
<path d="M466.7 149.9L469 148L470.8 149L468.6 150.9Z" color="#058cf0"/>
<path d="M522 139.4L524.4 137.6L526.1 138.1L523.6 139.9Z" color="#07e9c0"/>
<path d="M470.8 149L473.1 147.1L474.9 148.1L472.7 150Z" color="#059af0"/>
<path d="M474.9 148.1L477.2 146.2L479.1 147.3L476.8 149.2Z" color="#05a8f0"/>
<path d="M526.1 138.1L528.5 136.3L530.2 136.8L527.8 138.6Z" color="#07e89a"/>
<path d="M479.1 147.3L481.3 145.4L483.2 146.5L480.9 148.4Z" color="#05b5f0"/>
<path d="M483.2 146.5L485.5 144.6L487.3 145.8L485 147.6Z" color="#05c1f0"/>
<path d="M530.2 136.8L532.7 135L534.3 135.3L531.9 137Z" color="#08e672"/>
<path d="M487.3 145.8L489.6 143.8L491.4 145L489.1 146.9Z" color="#05c8f0"/>
<path d="M491.4 145L493.7 143.1L495.5 144.2L493.2 146.1Z" color="#05cff0"/>
<path d="M534.3 135.3L536.8 133.5L538.5 133.6L536 135.4Z" color="#08e350"/>
<path d="M495.5 144.2L497.9 142.3L499.6 143.4L497.3 145.3Z" color="#05d6f0"/>
<path d="M499.6 143.4L502 141.5L503.8 142.6L501.4 144.4Z" color="#05dcf0"/>
<path d="M503.8 142.6L506.1 140.7L507.9 141.7L505.5 143.6Z" color="#05e3ef"/>
<path d="M538.5 133.6L541 131.9L542.6 131.9L540.1 133.6Z" color="#0ade36"/>
<path d="M507.9 141.7L510.3 139.8L512 140.8L509.6 142.6Z" color="#06eaef"/>
<path d="M512 140.8L514.4 138.9L516.1 139.8L513.7 141.6Z" color="#06ecdb"/>
<path d="M460.7 150L463 148.1L464.9 149L462.6 150.9Z" color="#0596ef"/>
<path d="M516.1 139.8L518.6 138L520.3 138.7L517.8 140.6Z" color="#06ecbe"/>
<path d="M464.9 149L467.1 147L469 148L466.7 149.9Z" color="#05a6f0"/>
<path d="M520.3 138.7L522.7 136.9L524.4 137.6L522 139.4Z" color="#06eb9e"/>
<path d="M469 148L471.2 146L473.1 147.1L470.8 149Z" color="#05b5f0"/>
<path d="M524.4 137.6L526.9 135.8L528.5 136.3L526.1 138.1Z" color="#06ea7c"/>
<path d="M473.1 147.1L475.4 145.1L477.2 146.2L474.9 148.1Z" color="#05c3f0"/>
<path d="M477.2 146.2L479.5 144.3L481.3 145.4L479.1 147.3Z" color="#05caf0"/>
<path d="M528.5 136.3L531 134.5L532.7 135L530.2 136.8Z" color="#07e85a"/>
<path d="M481.3 145.4L483.7 143.5L485.5 144.6L483.2 146.5Z" color="#05d1f0"/>
<path d="M485.5 144.6L487.8 142.7L489.6 143.8L487.3 145.8Z" color="#05d8f0"/>
<path d="M532.7 135L535.2 133.2L536.8 133.5L534.3 135.3Z" color="#07e643"/>
<path d="M489.6 143.8L491.9 141.9L493.7 143.1L491.4 145Z" color="#05def0"/>
<path d="M493.7 143.1L496.1 141.2L497.9 142.3L495.5 144.2Z" color="#05e5f0"/>
<path d="M536.8 133.5L539.3 131.7L541 131.9L538.5 133.6Z" color="#08e32a"/>
<path d="M497.9 142.3L500.2 140.4L502 141.5L499.6 143.4Z" color="#05ebf0"/>
<path d="M502 141.5L504.4 139.6L506.1 140.7L503.8 142.6Z" color="#05eee2"/>
<path d="M506.1 140.7L508.5 138.8L510.3 139.8L507.9 141.7Z" color="#05edc9"/>
<path d="M541 131.9L543.5 130.1L545.1 130.1L542.6 131.9Z" color="#0adf10"/>
<path d="M510.3 139.8L512.7 138L514.4 138.9L512 140.8Z" color="#05edb0"/>
<path d="M514.4 138.9L516.8 137.1L518.6 138L516.1 139.8Z" color="#06ec95"/>
<path d="M458.9 149.2L461.1 147.2L463 148.1L460.7 150Z" color="#06adef"/>
<path d="M518.6 138L521 136.1L522.7 136.9L520.3 138.7Z" color="#06ec78"/>
<path d="M463 148.1L465.2 146.1L467.1 147L464.9 149Z" color="#05bfef"/>
<path d="M522.7 136.9L525.2 135.1L526.9 135.8L524.4 137.6Z" color="#06eb5b"/>
<path d="M467.1 147L469.4 145.1L471.2 146L469 148Z" color="#05c9f0"/>
<path d="M471.2 146L473.5 144.1L475.4 145.1L473.1 147.1Z" color="#05d1f0"/>
<path d="M526.9 135.8L529.3 133.9L531 134.5L528.5 136.3Z" color="#06ea47"/>
<path d="M475.4 145.1L477.7 143.2L479.5 144.3L477.2 146.2Z" color="#05d9f0"/>
<path d="M531 134.5L533.5 132.7L535.2 133.2L532.7 135Z" color="#07e832"/>
<path d="M479.5 144.3L481.8 142.3L483.7 143.5L481.3 145.4Z" color="#05e0f0"/>
<path d="M483.7 143.5L486 141.5L487.8 142.7L485.5 144.6Z" color="#05e7f0"/>
<path d="M487.8 142.7L490.1 140.7L491.9 141.9L489.6 143.8Z" color="#05eef0"/>
<path d="M535.2 133.2L537.7 131.4L539.3 131.7L536.8 133.5Z" color="#07e71b"/>
<path d="M491.9 141.9L494.3 140L496.1 141.2L493.7 143.1Z" color="#05eedc"/>
<path d="M496.1 141.2L498.5 139.2L500.2 140.4L497.9 142.3Z" color="#05eec6"/>
<path d="M539.3 131.7L541.8 129.9L543.5 130.1L541 131.9Z" color="#0ee40c"/>
<path d="M500.2 140.4L502.6 138.5L504.4 139.6L502 141.5Z" color="#05eeb0"/>
<path d="M504.4 139.6L506.8 137.7L508.5 138.8L506.1 140.7Z" color="#05ee9a"/>
<path d="M543.5 130.1L546 128.3L547.7 128.3L545.1 130.1Z" color="#1fe00e"/>
<path d="M508.5 138.8L510.9 136.9L512.7 138L510.3 139.8Z" color="#05ed82"/>
<path d="M457 148.5L459.2 146.5L461.1 147.2L458.9 149.2Z" color="#06c2ef"/>
<path d="M512.7 138L515.1 136.1L516.8 137.1L514.4 138.9Z" color="#05ed69"/>
<path d="M516.8 137.1L519.3 135.2L521 136.1L518.6 138Z" color="#06ed55"/>
<path d="M461.1 147.2L463.3 145.3L465.2 146.1L463 148.1Z" color="#05cdef"/>
<path d="M521 136.1L523.5 134.2L525.2 135.1L522.7 136.9Z" color="#06ec44"/>
<path d="M465.2 146.1L467.5 144.1L469.4 145.1L467.1 147Z" color="#05d6f0"/>
<path d="M525.2 135.1L527.6 133.2L529.3 133.9L526.9 135.8Z" color="#06eb32"/>
<path d="M469.4 145.1L471.7 143.1L473.5 144.1L471.2 146Z" color="#05dff0"/>
<path d="M473.5 144.1L475.8 142.1L477.7 143.2L475.4 145.1Z" color="#05e7f0"/>
<path d="M529.3 133.9L531.8 132.1L533.5 132.7L531 134.5Z" color="#06ea1e"/>
<path d="M477.7 143.2L480 141.2L481.8 142.3L479.5 144.3Z" color="#05eeed"/>
<path d="M533.5 132.7L536 130.9L537.7 131.4L535.2 133.2Z" color="#07e90a"/>
<path d="M481.8 142.3L484.2 140.4L486 141.5L483.7 143.5Z" color="#05eed5"/>
<path d="M486 141.5L488.3 139.6L490.1 140.7L487.8 142.7Z" color="#05eebe"/>
<path d="M537.7 131.4L540.2 129.5L541.8 129.9L539.3 131.7Z" color="#15e70b"/>
<path d="M490.1 140.7L492.5 138.8L494.3 140L491.9 141.9Z" color="#05eea9"/>
<path d="M494.3 140L496.7 138L498.5 139.2L496.1 141.2Z" color="#05ee93"/>
<path d="M498.5 139.2L500.8 137.3L502.6 138.5L500.2 140.4Z" color="#05ee7d"/>
<path d="M541.8 129.9L544.4 128.1L546 128.3L543.5 130.1Z" color="#24e40c"/>
<path d="M502.6 138.5L505 136.6L506.8 137.7L504.4 139.6Z" color="#05ee68"/>
<path d="M506.8 137.7L509.2 135.8L510.9 136.9L508.5 138.8Z" color="#05ee57"/>
<path d="M455 147.9L457.3 145.9L459.2 146.5L457 148.5Z" color="#06cdee"/>
<path d="M546 128.3L548.6 126.5L550.2 126.6L547.7 128.3Z" color="#34e10e"/>
<path d="M510.9 136.9L513.4 135L515.1 136.1L512.7 138Z" color="#05ee49"/>
<path d="M515.1 136.1L517.6 134.2L519.3 135.2L516.8 137.1Z" color="#05ed3a"/>
<path d="M459.2 146.5L461.4 144.5L463.3 145.3L461.1 147.2Z" color="#06d9ef"/>
<path d="M519.3 135.2L521.7 133.3L523.5 134.2L521 136.1Z" color="#05ed2a"/>
<path d="M463.3 145.3L465.6 143.3L467.5 144.1L465.2 146.1Z" color="#05e3ef"/>
<path d="M523.5 134.2L525.9 132.3L527.6 133.2L525.2 135.1Z" color="#06ec1a"/>
<path d="M467.5 144.1L469.8 142.2L471.7 143.1L469.4 145.1Z" color="#05edf0"/>
<path d="M527.6 133.2L530.1 131.3L531.8 132.1L529.3 133.9Z" color="#07eb09"/>
<path d="M471.7 143.1L474 141.1L475.8 142.1L473.5 144.1Z" color="#05eed6"/>
<path d="M531.8 132.1L534.3 130.2L536 130.9L533.5 132.7Z" color="#12ea09"/>
<path d="M475.8 142.1L478.1 140.1L480 141.2L477.7 143.2Z" color="#05eebb"/>
<path d="M480 141.2L482.3 139.2L484.2 140.4L481.8 142.3Z" color="#05eea2"/>
<path d="M536 130.9L538.5 129L540.2 129.5L537.7 131.4Z" color="#1fe90a"/>
<path d="M484.2 140.4L486.5 138.4L488.3 139.6L486 141.5Z" color="#05ee8b"/>
<path d="M488.3 139.6L490.7 137.6L492.5 138.8L490.1 140.7Z" color="#05ee75"/>
<path d="M540.2 129.5L542.7 127.7L544.4 128.1L541.8 129.9Z" color="#2de70b"/>
<path d="M492.5 138.8L494.9 136.8L496.7 138L494.3 140Z" color="#05ee5f"/>
<path d="M496.7 138L499.1 136.1L500.8 137.3L498.5 139.2Z" color="#05ee52"/>
<path d="M544.4 128.1L546.9 126.3L548.6 126.5L546 128.3Z" color="#3be50c"/>
<path d="M500.8 137.3L503.2 135.3L505 136.6L502.6 138.5Z" color="#05ee45"/>
<path d="M453.1 147.4L455.4 145.4L457.3 145.9L455 147.9Z" color="#06d6ed"/>
<path d="M505 136.6L507.4 134.6L509.2 135.8L506.8 137.7Z" color="#05ee38"/>
<path d="M509.2 135.8L511.6 133.9L513.4 135L510.9 136.9Z" color="#05ee2b"/>
<path d="M548.6 126.5L551.2 124.7L552.8 124.8L550.2 126.6Z" color="#4be10e"/>
<path d="M457.3 145.9L459.5 143.9L461.4 144.5L459.2 146.5Z" color="#06e3ee"/>
<path d="M513.4 135L515.8 133.1L517.6 134.2L515.1 136.1Z" color="#05ee1d"/>
<path d="M517.6 134.2L520 132.2L521.7 133.3L519.3 135.2Z" color="#05ed0f"/>
<path d="M461.4 144.5L463.7 142.5L465.6 143.3L463.3 145.3Z" color="#06ece8"/>
<path d="M521.7 133.3L524.2 131.4L525.9 132.3L523.5 134.2Z" color="#0aed08"/>
<path d="M465.6 143.3L467.9 141.3L469.8 142.2L467.5 144.1Z" color="#05edc6"/>
<path d="M525.9 132.3L528.4 130.4L530.1 131.3L527.6 133.2Z" color="#14ec08"/>
<path d="M469.8 142.2L472.1 140.2L474 141.1L471.7 143.1Z" color="#05eda8"/>
<path d="M530.1 131.3L532.6 129.4L534.3 130.2L531.8 132.1Z" color="#1fec09"/>
<path d="M474 141.1L476.3 139.1L478.1 140.1L475.8 142.1Z" color="#05ee8b"/>
<path d="M534.3 130.2L536.8 128.3L538.5 129L536 130.9Z" color="#2aeb09"/>
<path d="M478.1 140.1L480.5 138.1L482.3 139.2L480 141.2Z" color="#05ee71"/>
<path d="M482.3 139.2L484.7 137.2L486.5 138.4L484.2 140.4Z" color="#05ee5b"/>
<path d="M538.5 129L541.1 127.1L542.7 127.7L540.2 129.5Z" color="#37e90a"/>
<path d="M486.5 138.4L488.9 136.4L490.7 137.6L488.3 139.6Z" color="#05ee4d"/>
<path d="M490.7 137.6L493.1 135.6L494.9 136.8L492.5 138.8Z" color="#05ee40"/>
<path d="M542.7 127.7L545.3 125.8L546.9 126.3L544.4 128.1Z" color="#44e80b"/>
<path d="M494.9 136.8L497.3 134.8L499.1 136.1L496.7 138Z" color="#05ef33"/>
<path d="M451.2 147L453.4 145L455.4 145.4L453.1 147.4Z" color="#06deed"/>
<path d="M499.1 136.1L501.5 134.1L503.2 135.3L500.8 137.3Z" color="#05ef26"/>
<path d="M546.9 126.3L549.5 124.4L551.2 124.7L548.6 126.5Z" color="#52e50c"/>
<path d="M503.2 135.3L505.7 133.4L507.4 134.6L505 136.6Z" color="#05ee19"/>
<path d="M455.4 145.4L457.6 143.4L459.5 143.9L457.3 145.9Z" color="#06ebe9"/>
<path d="M507.4 134.6L509.9 132.6L511.6 133.9L509.2 135.8Z" color="#05ee0c"/>
<path d="M511.6 133.9L514.1 131.9L515.8 133.1L513.4 135Z" color="#0aee08"/>
<path d="M551.2 124.7L553.7 122.9L555.4 123L552.8 124.8Z" color="#62e20d"/>
<path d="M459.5 143.9L461.8 141.9L463.7 142.5L461.4 144.5Z" color="#06ecc2"/>
<path d="M515.8 133.1L518.3 131.1L520 132.2L517.6 134.2Z" color="#12ee08"/>
<path d="M520 132.2L522.5 130.3L524.2 131.4L521.7 133.3Z" color="#1aee08"/>
<path d="M463.7 142.5L466 140.5L467.9 141.3L465.6 143.3Z" color="#06ed9d"/>
<path d="M524.2 131.4L526.7 129.5L528.4 130.4L525.9 132.3Z" color="#23ed08"/>
<path d="M467.9 141.3L470.2 139.3L472.1 140.2L469.8 142.2Z" color="#05ed7c"/>
<path d="M528.4 130.4L530.9 128.5L532.6 129.4L530.1 131.3Z" color="#2ded08"/>
<path d="M472.1 140.2L474.4 138.1L476.3 139.1L474 141.1Z" color="#05ee5e"/>
<path d="M532.6 129.4L535.2 127.5L536.8 128.3L534.3 130.2Z" color="#37ec09"/>
<path d="M476.3 139.1L478.6 137.1L480.5 138.1L478.1 140.1Z" color="#05ee4d"/>
<path d="M536.8 128.3L539.4 126.5L541.1 127.1L538.5 129Z" color="#43eb09"/>
<path d="M480.5 138.1L482.8 136.1L484.7 137.2L482.3 139.2Z" color="#05ee3d"/>
<path d="M541.1 127.1L543.6 125.3L545.3 125.8L542.7 127.7Z" color="#4fea0a"/>
<path d="M484.7 137.2L487 135.2L488.9 136.4L486.5 138.4Z" color="#05ee2e"/>
<path d="M449.2 146.8L451.5 144.8L453.4 145L451.2 147Z" color="#07e5eb"/>
<path d="M488.9 136.4L491.2 134.4L493.1 135.6L490.7 137.6Z" color="#05ef20"/>
<path d="M545.3 125.8L547.9 124L549.5 124.4L546.9 126.3Z" color="#5be80a"/>
<path d="M493.1 135.6L495.4 133.6L497.3 134.8L494.9 136.8Z" color="#05ef13"/>
<path d="M497.3 134.8L499.7 132.9L501.5 134.1L499.1 136.1Z" color="#06ef07"/>
<path d="M453.4 145L455.7 143L457.6 143.4L455.4 145.4Z" color="#06eaca"/>
<path d="M501.5 134.1L503.9 132.1L505.7 133.4L503.2 135.3Z" color="#0def07"/>
<path d="M549.5 124.4L552.1 122.6L553.7 122.9L551.2 124.7Z" color="#6ae60b"/>
<path d="M505.7 133.4L508.1 131.4L509.9 132.6L507.4 134.6Z" color="#14ef07"/>
<path d="M457.6 143.4L459.9 141.4L461.8 141.9L459.5 143.9Z" color="#06eb9f"/>
<path d="M509.9 132.6L512.3 130.7L514.1 131.9L511.6 133.9Z" color="#1cee08"/>
<path d="M553.7 122.9L556.3 121L558 121.1L555.4 123Z" color="#7ae30d"/>
<path d="M514.1 131.9L516.6 129.9L518.3 131.1L515.8 133.1Z" color="#23ee08"/>
<path d="M461.8 141.9L464.1 139.9L466 140.5L463.7 142.5Z" color="#06ec78"/>
<path d="M518.3 131.1L520.8 129.2L522.5 130.3L520 132.2Z" color="#2bee08"/>
<path d="M522.5 130.3L525 128.4L526.7 129.5L524.2 131.4Z" color="#33ee08"/>
<path d="M466 140.5L468.3 138.5L470.2 139.3L467.9 141.3Z" color="#05ed58"/>
<path d="M526.7 129.5L529.2 127.5L530.9 128.5L528.4 130.4Z" color="#3ced08"/>
<path d="M470.2 139.3L472.5 137.3L474.4 138.1L472.1 140.2Z" color="#05ed44"/>
<path d="M530.9 128.5L533.5 126.6L535.2 127.5L532.6 129.4Z" color="#46ed08"/>
<path d="M474.4 138.1L476.7 136.1L478.6 137.1L476.3 139.1Z" color="#05ee31"/>
<path d="M535.2 127.5L537.7 125.6L539.4 126.5L536.8 128.3Z" color="#50ec09"/>
<path d="M478.6 137.1L480.9 135.1L482.8 136.1L480.5 138.1Z" color="#05ee20"/>
<path d="M447.3 146.7L449.5 144.7L451.5 144.8L449.2 146.8Z" color="#07e6e0"/>
<path d="M539.4 126.5L542 124.5L543.6 125.3L541.1 127.1Z" color="#5beb09"/>
<path d="M482.8 136.1L485.2 134.1L487 135.2L484.7 137.2Z" color="#05ee10"/>
<path d="M543.6 125.3L546.2 123.4L547.9 124L545.3 125.8Z" color="#67ea0a"/>
<path d="M487 135.2L489.4 133.2L491.2 134.4L488.9 136.4Z" color="#09ef08"/>
<path d="M451.5 144.8L453.7 142.8L455.7 143L453.4 145Z" color="#07e8af"/>
<path d="M491.2 134.4L493.6 132.4L495.4 133.6L493.1 135.6Z" color="#11ef07"/>
<path d="M547.9 124L550.4 122.1L552.1 122.6L549.5 124.4Z" color="#75e90a"/>
<path d="M495.4 133.6L497.9 131.6L499.7 132.9L497.3 134.8Z" color="#18ef07"/>
<path d="M499.7 132.9L502.1 130.8L503.9 132.1L501.5 134.1Z" color="#20ef07"/>
<path d="M455.7 143L457.9 141L459.9 141.4L457.6 143.4Z" color="#06ea80"/>
<path d="M552.1 122.6L554.7 120.7L556.3 121L553.7 122.9Z" color="#84e60b"/>
<path d="M503.9 132.1L506.3 130.1L508.1 131.4L505.7 133.4Z" color="#27ef07"/>
<path d="M508.1 131.4L510.6 129.4L512.3 130.7L509.9 132.6Z" color="#2eef07"/>
<path d="M459.9 141.4L462.2 139.3L464.1 139.9L461.8 141.9Z" color="#06eb59"/>
<path d="M512.3 130.7L514.8 128.7L516.6 129.9L514.1 131.9Z" color="#35ef07"/>
<path d="M556.3 121L559 119.2L560.6 119.3L558 121.1Z" color="#93e30d"/>
<path d="M516.6 129.9L519 128L520.8 129.2L518.3 131.1Z" color="#3dee08"/>
<path d="M520.8 129.2L523.3 127.2L525 128.4L522.5 130.3Z" color="#45ee08"/>
<path d="M464.1 139.9L466.4 137.8L468.3 138.5L466 140.5Z" color="#06ec41"/>
<path d="M525 128.4L527.5 126.4L529.2 127.5L526.7 129.5Z" color="#4dee08"/>
<path d="M468.3 138.5L470.6 136.5L472.5 137.3L470.2 139.3Z" color="#05ed2b"/>
<path d="M529.2 127.5L531.8 125.6L533.5 126.6L530.9 128.5Z" color="#55ee08"/>
<path d="M533.5 126.6L536 124.7L537.7 125.6L535.2 127.5Z" color="#5fed08"/>
<path d="M445.3 146.9L447.6 144.9L449.5 144.7L447.3 146.7Z" color="#08e4ce"/>
<path d="M472.5 137.3L474.8 135.2L476.7 136.1L474.4 138.1Z" color="#05ed17"/>
<path d="M537.7 125.6L540.3 123.7L542 124.5L539.4 126.5Z" color="#6aec08"/>
<path d="M476.7 136.1L479.1 134.1L480.9 135.1L478.6 137.1Z" color="#07ee08"/>
<path d="M542 124.5L544.5 122.6L546.2 123.4L543.6 125.3Z" color="#75ec09"/>
<path d="M480.9 135.1L483.3 133L485.2 134.1L482.8 136.1Z" color="#11ee08"/>
<path d="M449.5 144.7L451.8 142.7L453.7 142.8L451.5 144.8Z" color="#07e799"/>
<path d="M485.2 134.1L487.5 132.1L489.4 133.2L487 135.2Z" color="#1aee08"/>
<path d="M546.2 123.4L548.8 121.5L550.4 122.1L547.9 124Z" color="#82ea09"/>
<path d="M489.4 133.2L491.8 131.2L493.6 132.4L491.2 134.4Z" color="#23ef07"/>
<path d="M453.7 142.8L456 140.7L457.9 141L455.7 143Z" color="#07e966"/>
<path d="M493.6 132.4L496 130.3L497.9 131.6L495.4 133.6Z" color="#2bef07"/>
<path d="M550.4 122.1L553.1 120.2L554.7 120.7L552.1 122.6Z" color="#8fe90a"/>
<path d="M497.9 131.6L500.3 129.6L502.1 130.8L499.7 132.9Z" color="#32ef07"/>
<path d="M502.1 130.8L504.5 128.8L506.3 130.1L503.9 132.1Z" color="#3aef07"/>
<path d="M457.9 141L460.2 138.9L462.2 139.3L459.9 141.4Z" color="#06ea47"/>
<path d="M554.7 120.7L557.3 118.8L559 119.2L556.3 121Z" color="#9de70b"/>
<path d="M506.3 130.1L508.8 128.1L510.6 129.4L508.1 131.4Z" color="#41ef07"/>
<path d="M510.6 129.4L513 127.4L514.8 128.7L512.3 130.7Z" color="#48ef07"/>
<path d="M514.8 128.7L517.3 126.7L519 128L516.6 129.9Z" color="#4fef07"/>
<path d="M462.2 139.3L464.5 137.3L466.4 137.8L464.1 139.9Z" color="#06eb2d"/>
<path d="M559 119.2L561.6 117.3L563.2 117.5L560.6 119.3Z" color="#ace40c"/>
<path d="M519 128L521.5 126L523.3 127.2L520.8 129.2Z" color="#56ef07"/>
<path d="M523.3 127.2L525.8 125.2L527.5 126.4L525 128.4Z" color="#5eee08"/>
<path d="M466.4 137.8L468.7 135.8L470.6 136.5L468.3 138.5Z" color="#06ec14"/>
<path d="M443.4 147.2L445.6 145.2L447.6 144.9L445.3 146.9Z" color="#09e0c0"/>
<path d="M527.5 126.4L530.1 124.4L531.8 125.6L529.2 127.5Z" color="#67ee08"/>
<path d="M470.6 136.5L472.9 134.4L474.8 135.2L472.5 137.3Z" color="#0bed08"/>
<path d="M531.8 125.6L534.3 123.6L536 124.7L533.5 126.6Z" color="#70ee08"/>
<path d="M536 124.7L538.6 122.7L540.3 123.7L537.7 125.6Z" color="#7aed08"/>
<path d="M447.6 144.9L449.8 142.8L451.8 142.7L449.5 144.7Z" color="#08e487"/>
<path d="M474.8 135.2L477.2 133.2L479.1 134.1L476.7 136.1Z" color="#17ee08"/>
<path d="M540.3 123.7L542.9 121.7L544.5 122.6L542 124.5Z" color="#84ed08"/>
<path d="M479.1 134.1L481.4 132L483.3 133L480.9 135.1Z" color="#22ee08"/>
<path d="M544.5 122.6L547.1 120.7L548.8 121.5L546.2 123.4Z" color="#90ec09"/>
<path d="M483.3 133L485.7 131L487.5 132.1L485.2 134.1Z" color="#2bee08"/>
<path d="M451.8 142.7L454 140.7L456 140.7L453.7 142.8Z" color="#07e756"/>
<path d="M487.5 132.1L489.9 130L491.8 131.2L489.4 133.2Z" color="#35ef07"/>
<path d="M548.8 121.5L551.4 119.6L553.1 120.2L550.4 122.1Z" color="#9ceb09"/>
<path d="M491.8 131.2L494.2 129.1L496 130.3L493.6 132.4Z" color="#3def07"/>
<path d="M456 140.7L458.3 138.7L460.2 138.9L457.9 141Z" color="#07e937"/>
<path d="M553.1 120.2L555.7 118.3L557.3 118.8L554.7 120.7Z" color="#a9e90a"/>
<path d="M496 130.3L498.5 128.3L500.3 129.6L497.9 131.6Z" color="#45ef07"/>
<path d="M500.3 129.6L502.7 127.5L504.5 128.8L502.1 130.8Z" color="#4def07"/>
<path d="M504.5 128.8L507 126.8L508.8 128.1L506.3 130.1Z" color="#54ef07"/>
<path d="M557.3 118.8L560 116.9L561.6 117.3L559 119.2Z" color="#b7e70b"/>
<path d="M460.2 138.9L462.5 136.9L464.5 137.3L462.2 139.3Z" color="#06ea1b"/>
<path d="M508.8 128.1L511.3 126.1L513 127.4L510.6 129.4Z" color="#5bef07"/>
<path d="M441.4 147.7L443.6 145.7L445.6 145.2L443.4 147.2Z" color="#0bdab7"/>
<path d="M513 127.4L515.5 125.4L517.3 126.7L514.8 128.7Z" color="#62ef07"/>
<path d="M561.6 117.3L564.3 115.4L565.9 115.6L563.2 117.5Z" color="#c5e40c"/>
<path d="M517.3 126.7L519.8 124.7L521.5 126L519 128Z" color="#6aef07"/>
<path d="M464.5 137.3L466.8 135.2L468.7 135.8L466.4 137.8Z" color="#0bec09"/>
<path d="M521.5 126L524.1 124L525.8 125.2L523.3 127.2Z" color="#72ef07"/>
<path d="M525.8 125.2L528.3 123.2L530.1 124.4L527.5 126.4Z" color="#7aef07"/>
<path d="M468.7 135.8L471 133.7L472.9 134.4L470.6 136.5Z" color="#19ec08"/>
<path d="M445.6 145.2L447.9 143.2L449.8 142.8L447.6 144.9Z" color="#09e07b"/>
<path d="M530.1 124.4L532.6 122.4L534.3 123.6L531.8 125.6Z" color="#82ee08"/>
<path d="M534.3 123.6L536.9 121.6L538.6 122.7L536 124.7Z" color="#8bee08"/>
<path d="M472.9 134.4L475.3 132.3L477.2 133.2L474.8 135.2Z" color="#26ed08"/>
<path d="M538.6 122.7L541.2 120.7L542.9 121.7L540.3 123.7Z" color="#95ed08"/>
<path d="M449.8 142.8L452.1 140.8L454 140.7L451.8 142.7Z" color="#08e44d"/>
<path d="M477.2 133.2L479.5 131.1L481.4 132L479.1 134.1Z" color="#31ee08"/>
<path d="M542.9 121.7L545.5 119.8L547.1 120.7L544.5 122.6Z" color="#9fed08"/>
<path d="M481.4 132L483.8 129.9L485.7 131L483.3 133Z" color="#3cee08"/>
<path d="M547.1 120.7L549.7 118.8L551.4 119.6L548.8 121.5Z" color="#aaec09"/>
<path d="M485.7 131L488.1 128.9L489.9 130L487.5 132.1Z" color="#46ee08"/>
<path d="M454 140.7L456.3 138.6L458.3 138.7L456 140.7Z" color="#07e72b"/>
<path d="M551.4 119.6L554 117.6L555.7 118.3L553.1 120.2Z" color="#b6eb09"/>
<path d="M489.9 130L492.4 127.9L494.2 129.1L491.8 131.2Z" color="#4fef07"/>
<path d="M439.4 148.5L441.6 146.5L443.6 145.7L441.4 147.7Z" color="#0ed2b2"/>
<path d="M494.2 129.1L496.6 127.1L498.5 128.3L496 130.3Z" color="#57ef07"/>
<path d="M555.7 118.3L558.3 116.4L560 116.9L557.3 118.8Z" color="#c4ea0a"/>
<path d="M458.3 138.7L460.6 136.6L462.5 136.9L460.2 138.9Z" color="#07e90b"/>
<path d="M498.5 128.3L500.9 126.2L502.7 127.5L500.3 129.6Z" color="#5fef07"/>
<path d="M502.7 127.5L505.2 125.5L507 126.8L504.5 128.8Z" color="#68ef07"/>
<path d="M560 116.9L562.6 115L564.3 115.4L561.6 117.3Z" color="#d1e80b"/>
<path d="M507 126.8L509.5 124.7L511.3 126.1L508.8 128.1Z" color="#6fef07"/>
<path d="M462.5 136.9L464.8 134.8L466.8 135.2L464.5 137.3Z" color="#16ea09"/>
<path d="M511.3 126.1L513.7 124L515.5 125.4L513 127.4Z" color="#77ef07"/>
<path d="M443.6 145.7L445.9 143.7L447.9 143.2L445.6 145.2Z" color="#0bdb75"/>
<path d="M515.5 125.4L518 123.3L519.8 124.7L517.3 126.7Z" color="#7fef07"/>
<path d="M564.3 115.4L567 113.5L568.6 113.8L565.9 115.6Z" color="#dfe50c"/>
<path d="M519.8 124.7L522.3 122.6L524.1 124L521.5 126Z" color="#86ef07"/>
<path d="M466.8 135.2L469.1 133.2L471 133.7L468.7 135.8Z" color="#25ec09"/>
<path d="M524.1 124L526.6 121.9L528.3 123.2L525.8 125.2Z" color="#8eef07"/>
<path d="M528.3 123.2L530.9 121.2L532.6 122.4L530.1 124.4Z" color="#96ef07"/>
<path d="M471 133.7L473.4 131.6L475.3 132.3L472.9 134.4Z" color="#33ed08"/>
<path d="M447.9 143.2L450.1 141.1L452.1 140.8L449.8 142.8Z" color="#09e046"/>
<path d="M532.6 122.4L535.2 120.4L536.9 121.6L534.3 123.6Z" color="#9eee08"/>
<path d="M536.9 121.6L539.5 119.6L541.2 120.7L538.6 122.7Z" color="#a7ee08"/>
<path d="M475.3 132.3L477.6 130.3L479.5 131.1L477.2 133.2Z" color="#40ed08"/>
<path d="M541.2 120.7L543.8 118.8L545.5 119.8L542.9 121.7Z" color="#b0ee08"/>
<path d="M479.5 131.1L481.9 129L483.8 129.9L481.4 132Z" color="#4cee08"/>
<path d="M452.1 140.8L454.4 138.7L456.3 138.6L454 140.7Z" color="#08e422"/>
<path d="M545.5 119.8L548.1 117.8L549.7 118.8L547.1 120.7Z" color="#bbed08"/>
<path d="M437.4 149.5L439.7 147.5L441.6 146.5L439.4 148.5Z" color="#12c2ad"/>
<path d="M483.8 129.9L486.2 127.9L488.1 128.9L485.7 131Z" color="#56ee08"/>
<path d="M549.7 118.8L552.4 116.8L554 117.6L551.4 119.6Z" color="#c6ec09"/>
<path d="M488.1 128.9L490.5 126.8L492.4 127.9L489.9 130Z" color="#60ef07"/>
<path d="M456.3 138.6L458.6 136.6L460.6 136.6L458.3 138.7Z" color="#0ee70b"/>
<path d="M554 117.6L556.7 115.7L558.3 116.4L555.7 118.3Z" color="#d2eb09"/>
<path d="M492.4 127.9L494.8 125.9L496.6 127.1L494.2 129.1Z" color="#6aef07"/>
<path d="M441.6 146.5L443.9 144.5L445.9 143.7L443.6 145.7Z" color="#0ed273"/>
<path d="M496.6 127.1L499.1 125L500.9 126.2L498.5 128.3Z" color="#74ef07"/>
<path d="M558.3 116.4L561 114.4L562.6 115L560 116.9Z" color="#dfea0a"/>
<path d="M460.6 136.6L462.9 134.6L464.8 134.8L462.5 136.9Z" color="#20e90a"/>
<path d="M500.9 126.2L503.4 124.2L505.2 125.5L502.7 127.5Z" color="#7cef07"/>
<path d="M505.2 125.5L507.7 123.4L509.5 124.7L507 126.8Z" color="#84ef07"/>
<path d="M562.6 115L565.3 113.1L567 113.5L564.3 115.4Z" color="#e8e50a"/>
<path d="M509.5 124.7L512 122.7L513.7 124L511.3 126.1Z" color="#8cef07"/>
<path d="M464.8 134.8L467.2 132.7L469.1 133.2L466.8 135.2Z" color="#30eb09"/>
<path d="M513.7 124L516.3 122L518 123.3L515.5 125.4Z" color="#93ef07"/>
<path d="M445.9 143.7L448.1 141.6L450.1 141.1L447.9 143.2Z" color="#0bdb44"/>
<path d="M518 123.3L520.6 121.3L522.3 122.6L519.8 124.7Z" color="#9bef07"/>
<path d="M567 113.5L569.7 111.6L571.3 111.9L568.6 113.8Z" color="#e5d80c"/>
<path d="M522.3 122.6L524.9 120.6L526.6 121.9L524.1 124Z" color="#a2ef07"/>
<path d="M469.1 133.2L471.4 131.1L473.4 131.6L471 133.7Z" color="#3fec09"/>
<path d="M526.6 121.9L529.2 119.9L530.9 121.2L528.3 123.2Z" color="#aaef07"/>
<path d="M435.4 150.8L437.7 148.8L439.7 147.5L437.4 149.5Z" color="#1ca19f"/>
<path d="M530.9 121.2L533.5 119.2L535.2 120.4L532.6 122.4Z" color="#b2ef07"/>
<path d="M473.4 131.6L475.7 129.5L477.6 130.3L475.3 132.3Z" color="#4ded08"/>
<path d="M450.1 141.1L452.4 139L454.4 138.7L452.1 140.8Z" color="#09e11c"/>
<path d="M535.2 120.4L537.8 118.4L539.5 119.6L536.9 121.6Z" color="#baef07"/>
<path d="M539.5 119.6L542.1 117.6L543.8 118.8L541.2 120.7Z" color="#c3ee08"/>
<path d="M477.6 130.3L480 128.2L481.9 129L479.5 131.1Z" color="#5aed08"/>
<path d="M543.8 118.8L546.4 116.8L548.1 117.8L545.5 119.8Z" color="#ccee08"/>
<path d="M481.9 129L484.3 126.9L486.2 127.9L483.8 129.9Z" color="#67ee08"/>
<path d="M454.4 138.7L456.7 136.7L458.6 136.6L456.3 138.6Z" color="#14e40c"/>
<path d="M548.1 117.8L550.7 115.8L552.4 116.8L549.7 118.8Z" color="#d6ed08"/>
<path d="M439.7 147.5L441.9 145.5L443.9 144.5L441.6 146.5Z" color="#12c275"/>
<path d="M486.2 127.9L488.6 125.8L490.5 126.8L488.1 128.9Z" color="#72ee08"/>
<path d="M552.4 116.8L555 114.8L556.7 115.7L554 117.6Z" color="#e1ed08"/>
<path d="M490.5 126.8L492.9 124.7L494.8 125.9L492.4 127.9Z" color="#7def07"/>
<path d="M458.6 136.6L460.9 134.5L462.9 134.6L460.6 136.6Z" color="#27e70b"/>
<path d="M556.7 115.7L559.4 113.7L561 114.4L558.3 116.4Z" color="#ebea09"/>
<path d="M494.8 125.9L497.2 123.8L499.1 125L496.6 127.1Z" color="#87ef07"/>
<path d="M443.9 144.5L446.2 142.4L448.1 141.6L445.9 143.7Z" color="#0ed245"/>
<path d="M561 114.4L563.7 112.5L565.3 113.1L562.6 115Z" color="#eae009"/>
<path d="M499.1 125L501.5 122.9L503.4 124.2L500.9 126.2Z" color="#90ef07"/>
<path d="M462.9 134.6L465.2 132.5L467.2 132.7L464.8 134.8Z" color="#39e90a"/>
<path d="M503.4 124.2L505.9 122.1L507.7 123.4L505.2 125.5Z" color="#99ef07"/>
<path d="M433.5 152.3L435.7 150.3L437.7 148.8L435.4 150.8Z" color="#345168"/>
<path d="M507.7 123.4L510.2 121.3L512 122.7L509.5 124.7Z" color="#a1ef07"/>
<path d="M565.3 113.1L568 111.2L569.7 111.6L567 113.5Z" color="#e8d50a"/>
<path d="M512 122.7L514.5 120.6L516.3 122L513.7 124Z" color="#a8ef07"/>
<path d="M467.2 132.7L469.5 130.6L471.4 131.1L469.1 133.2Z" color="#4aeb09"/>
<path d="M516.3 122L518.8 119.9L520.6 121.3L518 123.3Z" color="#b0ef07"/>
<path d="M448.1 141.6L450.4 139.6L452.4 139L450.1 141.1Z" color="#0bdb1b"/>
<path d="M569.7 111.6L572.4 109.7L574 110L571.3 111.9Z" color="#e6c80b"/>
<path d="M520.6 121.3L523.1 119.2L524.9 120.6L522.3 122.6Z" color="#b7ef07"/>
<path d="M524.9 120.6L527.4 118.5L529.2 119.9L526.6 121.9Z" color="#bfef07"/>
<path d="M471.4 131.1L473.8 129L475.7 129.5L473.4 131.6Z" color="#59ec09"/>
<path d="M529.2 119.9L531.7 117.8L533.5 119.2L530.9 121.2Z" color="#c6ef07"/>
<path d="M533.5 119.2L536.1 117.1L537.8 118.4L535.2 120.4Z" color="#ceef07"/>
<path d="M437.7 148.8L439.9 146.7L441.9 145.5L439.7 147.5Z" color="#1ca175"/>
<path d="M475.7 129.5L478.1 127.4L480 128.2L477.6 130.3Z" color="#69ed08"/>
<path d="M537.8 118.4L540.4 116.4L542.1 117.6L539.5 119.6Z" color="#d6ef07"/>
<path d="M452.4 139L454.7 137L456.7 136.7L454.4 138.7Z" color="#19e10e"/>
<path d="M542.1 117.6L544.7 115.6L546.4 116.8L543.8 118.8Z" color="#dfee08"/>
<path d="M480 128.2L482.4 126.1L484.3 126.9L481.9 129Z" color="#77ee08"/>
<path d="M546.4 116.8L549 114.8L550.7 115.8L548.1 117.8Z" color="#e8ee08"/>
<path d="M550.7 115.8L553.4 113.8L555 114.8L552.4 116.8Z" color="#edea08"/>
<path d="M484.3 126.9L486.7 124.8L488.6 125.8L486.2 127.9Z" color="#84ee08"/>
<path d="M456.7 136.7L459 134.6L460.9 134.5L458.6 136.6Z" color="#2de50c"/>
<path d="M441.9 145.5L444.2 143.4L446.2 142.4L443.9 144.5Z" color="#12c24a"/>
<path d="M431.5 154.1L433.7 152.2L435.7 150.3L433.5 152.3Z" color="#6ce4eb"/>
<path d="M555 114.8L557.7 112.8L559.4 113.7L556.7 115.7Z" color="#ece208"/>
<path d="M488.6 125.8L491.1 123.6L492.9 124.7L490.5 126.8Z" color="#8fee08"/>
<path d="M492.9 124.7L495.4 122.6L497.2 123.8L494.8 125.9Z" color="#9aef07"/>
<path d="M559.4 113.7L562 111.7L563.7 112.5L561 114.4Z" color="#ebd909"/>
<path d="M460.9 134.5L463.3 132.4L465.2 132.5L462.9 134.6Z" color="#41e70b"/>
<path d="M497.2 123.8L499.7 121.6L501.5 122.9L499.1 125Z" color="#a4ef07"/>
<path d="M563.7 112.5L566.4 110.5L568 111.2L565.3 113.1Z" color="#eacf09"/>
<path d="M501.5 122.9L504 120.8L505.9 122.1L503.4 124.2Z" color="#adef07"/>
<path d="M446.2 142.4L448.4 140.4L450.4 139.6L448.1 141.6Z" color="#0dd21f"/>
<path d="M465.2 132.5L467.6 130.4L469.5 130.6L467.2 132.7Z" color="#53e90a"/>
<path d="M505.9 122.1L508.4 120L510.2 121.3L507.7 123.4Z" color="#b6ef07"/>
<path d="M435.7 150.3L437.9 148.3L439.9 146.7L437.7 148.8Z" color="#345160"/>
<path d="M568 111.2L570.7 109.2L572.4 109.7L569.7 111.6Z" color="#e8c40a"/>
<path d="M510.2 121.3L512.7 119.2L514.5 120.6L512 122.7Z" color="#bef007"/>
<path d="M514.5 120.6L517 118.5L518.8 119.9L516.3 122Z" color="#c6f007"/>
<path d="M518.8 119.9L521.3 117.8L523.1 119.2L520.6 121.3Z" color="#cdf007"/>
<path d="M469.5 130.6L471.9 128.5L473.8 129L471.4 131.1Z" color="#65eb09"/>
<path d="M572.4 109.7L575.1 107.8L576.7 108.1L574 110Z" color="#e6b70b"/>
<path d="M450.4 139.6L452.7 137.5L454.7 137L452.4 139Z" color="#1cdb10"/>
<path d="M523.1 119.2L525.7 117.1L527.4 118.5L524.9 120.6Z" color="#d4f007"/>
<path d="M527.4 118.5L530 116.4L531.7 117.8L529.2 119.9Z" color="#dcef07"/>
<path d="M473.8 129L476.2 126.8L478.1 127.4L475.7 129.5Z" color="#76ec09"/>
<path d="M429.5 156.3L431.7 154.3L433.7 152.2L431.5 154.1Z" color="#6cdeeb"/>
<path d="M531.7 117.8L534.3 115.8L536.1 117.1L533.5 119.2Z" color="#e3ef07"/>
<path d="M536.1 117.1L538.7 115.1L540.4 116.4L537.8 118.4Z" color="#ebef07"/>
<path d="M439.9 146.7L442.2 144.7L444.2 143.4L441.9 145.5Z" color="#1ca152"/>
<path d="M540.4 116.4L543 114.3L544.7 115.6L542.1 117.6Z" color="#efec07"/>
<path d="M478.1 127.4L480.5 125.3L482.4 126.1L480 128.2Z" color="#85ed08"/>
<path d="M454.7 137L457 134.9L459 134.6L456.7 136.7Z" color="#31e10e"/>
<path d="M544.7 115.6L547.4 113.6L549 114.8L546.4 116.8Z" color="#eee607"/>
<path d="M482.4 126.1L484.8 123.9L486.7 124.8L484.3 126.9Z" color="#93ee08"/>
<path d="M549 114.8L551.7 112.7L553.4 113.8L550.7 115.8Z" color="#eedf08"/>
<path d="M553.4 113.8L556 111.8L557.7 112.8L555 114.8Z" color="#edd808"/>
<path d="M486.7 124.8L489.2 122.7L491.1 123.6L488.6 125.8Z" color="#a0ee08"/>
<path d="M459 134.6L461.3 132.5L463.3 132.4L460.9 134.5Z" color="#46e50c"/>
<path d="M444.2 143.4L446.4 141.4L448.4 140.4L446.2 142.4Z" color="#12c228"/>
<path d="M433.7 152.2L435.9 150.1L437.9 148.3L435.7 150.3Z" color="#6ce8d0"/>
<path d="M557.7 112.8L560.4 110.8L562 111.7L559.4 113.7Z" color="#edd008"/>
<path d="M491.1 123.6L493.5 121.5L495.4 122.6L492.9 124.7Z" color="#acef07"/>
<path d="M562 111.7L564.8 109.8L566.4 110.5L563.7 112.5Z" color="#ecc709"/>
<path d="M495.4 122.6L497.8 120.5L499.7 121.6L497.2 123.8Z" color="#b7ef07"/>
<path d="M463.3 132.4L465.6 130.3L467.6 130.4L465.2 132.5Z" color="#5ae80b"/>
<path d="M499.7 121.6L502.2 119.5L504 120.8L501.5 122.9Z" color="#c1ef07"/>
<path d="M427.5 158.7L429.7 156.8L431.7 154.3L429.5 156.3Z" color="#6cd7eb"/>
<path d="M566.4 110.5L569.1 108.6L570.7 109.2L568 111.2Z" color="#eabe09"/>
<path d="M504 120.8L506.5 118.6L508.4 120L505.9 122.1Z" color="#cbef07"/>
<path d="M448.4 140.4L450.7 138.3L452.7 137.5L450.4 139.6Z" color="#1ed214"/>
<path d="M508.4 120L510.9 117.8L512.7 119.2L510.2 121.3Z" color="#d3f007"/>
<path d="M467.6 130.4L469.9 128.2L471.9 128.5L469.5 130.6Z" color="#6eea0a"/>
<path d="M570.7 109.2L573.5 107.3L575.1 107.8L572.4 109.7Z" color="#e9b30a"/>
<path d="M437.9 148.3L440.2 146.3L442.2 144.7L439.9 146.7Z" color="#345158"/>
<path d="M512.7 119.2L515.2 117.1L517 118.5L514.5 120.6Z" color="#dbf007"/>
<path d="M517 118.5L519.6 116.4L521.3 117.8L518.8 119.9Z" color="#e3f007"/>
<path d="M521.3 117.8L523.9 115.7L525.7 117.1L523.1 119.2Z" color="#eaf007"/>
<path d="M575.1 107.8L577.9 105.8L579.5 106.2L576.7 108.1Z" color="#e7a70b"/>
<path d="M471.9 128.5L474.3 126.4L476.2 126.8L473.8 129Z" color="#81eb09"/>
<path d="M452.7 137.5L455 135.4L457 134.9L454.7 137Z" color="#34db10"/>
<path d="M525.7 117.1L528.3 115L530 116.4L527.4 118.5Z" color="#efee07"/>
<path d="M530 116.4L532.6 114.4L534.3 115.8L531.7 117.8Z" color="#efe907"/>
<path d="M534.3 115.8L537 113.7L538.7 115.1L536.1 117.1Z" color="#efe407"/>
<path d="M476.2 126.8L478.6 124.7L480.5 125.3L478.1 127.4Z" color="#92ec09"/>
<path d="M431.7 154.3L433.9 152.3L435.9 150.1L433.7 152.2Z" color="#6ce8e3"/>
<path d="M538.7 115.1L541.3 113L543 114.3L540.4 116.4Z" color="#efdf07"/>
<path d="M442.2 144.7L444.5 142.7L446.4 141.4L444.2 143.4Z" color="#1ca039"/>
<path d="M543 114.3L545.7 112.3L547.4 113.6L544.7 115.6Z" color="#efd907"/>
<path d="M480.5 125.3L482.9 123.2L484.8 123.9L482.4 126.1Z" color="#a2ed08"/>
<path d="M457 134.9L459.3 132.8L461.3 132.5L459 134.6Z" color="#4ae10e"/>
<path d="M425.5 161.5L427.7 159.6L429.7 156.8L427.5 158.7Z" color="#6ccdeb"/>
<path d="M547.4 113.6L550 111.5L551.7 112.7L549 114.8Z" color="#eed407"/>
<path d="M551.7 112.7L554.4 110.7L556 111.8L553.4 113.8Z" color="#eecd08"/>
<path d="M484.8 123.9L487.3 121.8L489.2 122.7L486.7 124.8Z" color="#b0ee08"/>
<path d="M556 111.8L558.7 109.8L560.4 110.8L557.7 112.8Z" color="#eec608"/>
<path d="M489.2 122.7L491.6 120.5L493.5 121.5L491.1 123.6Z" color="#bdee08"/>
<path d="M461.3 132.5L463.7 130.4L465.6 130.3L463.3 132.4Z" color="#60e50c"/>
<path d="M446.4 141.4L448.7 139.3L450.7 138.3L448.4 140.4Z" color="#1fc21c"/>
<path d="M435.9 150.1L438.2 148.1L440.2 146.3L437.9 148.3Z" color="#6ce8a8"/>
<path d="M560.4 110.8L563.1 108.8L564.8 109.8L562 111.7Z" color="#edbe08"/>
<path d="M493.5 121.5L496 119.4L497.8 120.5L495.4 122.6Z" color="#caef07"/>
<path d="M564.8 109.8L567.5 107.7L569.1 108.6L566.4 110.5Z" color="#ecb509"/>
<path d="M497.8 120.5L500.3 118.3L502.2 119.5L499.7 121.6Z" color="#d5ef07"/>
<path d="M465.6 130.3L468 128.1L469.9 128.2L467.6 130.4Z" color="#76e80b"/>
<path d="M502.2 119.5L504.7 117.4L506.5 118.6L504 120.8Z" color="#dfef07"/>
<path d="M569.1 108.6L571.9 106.6L573.5 107.3L570.7 109.2Z" color="#ebac09"/>
<path d="M429.7 156.8L431.9 154.8L433.9 152.3L431.7 154.3Z" color="#6ce3eb"/>
<path d="M506.5 118.6L509 116.5L510.9 117.8L508.4 120Z" color="#e8f007"/>
<path d="M450.7 138.3L453 136.2L455 135.4L452.7 137.5Z" color="#34d214"/>
<path d="M423.5 164.7L425.7 162.8L427.7 159.6L425.5 161.5Z" color="#6cbbeb"/>
<path d="M510.9 117.8L513.4 115.7L515.2 117.1L512.7 119.2Z" color="#efef07"/>
<path d="M573.5 107.3L576.2 105.3L577.9 105.8L575.1 107.8Z" color="#e9a10a"/>
<path d="M469.9 128.2L472.3 126.1L474.3 126.4L471.9 128.5Z" color="#8bea0a"/>
<path d="M440.2 146.3L442.5 144.2L444.5 142.7L442.2 144.7Z" color="#345153"/>
<path d="M515.2 117.1L517.8 114.9L519.6 116.4L517 118.5Z" color="#efea07"/>
<path d="M519.6 116.4L522.1 114.2L523.9 115.7L521.3 117.8Z" color="#f0e507"/>
<path d="M577.9 105.8L580.6 103.8L582.3 104.2L579.5 106.2Z" color="#e7960b"/>
<path d="M523.9 115.7L526.5 113.6L528.3 115L525.7 117.1Z" color="#f0e007"/>
<path d="M474.3 126.4L476.7 124.2L478.6 124.7L476.2 126.8Z" color="#9eeb09"/>
<path d="M528.3 115L530.9 112.9L532.6 114.4L530 116.4Z" color="#efdb07"/>
<path d="M455 135.4L457.4 133.3L459.3 132.8L457 134.9Z" color="#4bdc10"/>
<path d="M532.6 114.4L535.2 112.3L537 113.7L534.3 115.8Z" color="#efd607"/>
<path d="M537 113.7L539.6 111.6L541.3 113L538.7 115.1Z" color="#efd207"/>
<path d="M433.9 152.3L436.2 150.3L438.2 148.1L435.9 150.1Z" color="#6ce8bc"/>
<path d="M478.6 124.7L481 122.6L482.9 123.2L480.5 125.3Z" color="#afec08"/>
<path d="M541.3 113L544 110.9L545.7 112.3L543 114.3Z" color="#efcc07"/>
<path d="M444.5 142.7L446.7 140.6L448.7 139.3L446.4 141.4Z" color="#23a02b"/>
<path d="M545.7 112.3L548.3 110.2L550 111.5L547.4 113.6Z" color="#efc707"/>
<path d="M482.9 123.2L485.4 121L487.3 121.8L484.8 123.9Z" color="#bfed08"/>
<path d="M459.3 132.8L461.7 130.7L463.7 130.4L461.3 132.5Z" color="#63e10e"/>
<path d="M427.7 159.6L429.9 157.6L431.9 154.8L429.7 156.8Z" color="#6cdbeb"/>
<path d="M550 111.5L552.7 109.4L554.4 110.7L551.7 112.7Z" color="#efc107"/>
<path d="M554.4 110.7L557.1 108.6L558.7 109.8L556 111.8Z" color="#eebb08"/>
<path d="M487.3 121.8L489.7 119.6L491.6 120.5L489.2 122.7Z" color="#ceee08"/>
<path d="M558.7 109.8L561.5 107.8L563.1 108.8L560.4 110.8Z" color="#eeb408"/>
<path d="M491.6 120.5L494.1 118.4L496 119.4L493.5 121.5Z" color="#dbee08"/>
<path d="M463.7 130.4L466 128.2L468 128.1L465.6 130.3Z" color="#7be50c"/>
<path d="M563.1 108.8L565.8 106.8L567.5 107.7L564.8 109.8Z" color="#edac08"/>
<path d="M448.7 139.3L451.1 137.2L453 136.2L450.7 138.3Z" color="#33c31c"/>
<path d="M438.2 148.1L440.4 146.1L442.5 144.2L440.2 146.3Z" color="#6ce88c"/>
<path d="M496 119.4L498.5 117.2L500.3 118.3L497.8 120.5Z" color="#e8ef07"/>
<path d="M567.5 107.7L570.2 105.7L571.9 106.6L569.1 108.6Z" color="#eca308"/>
<path d="M500.3 118.3L502.8 116.2L504.7 117.4L502.2 119.5Z" color="#efed07"/>
<path d="M468 128.1L470.4 126L472.3 126.1L469.9 128.2Z" color="#92e80b"/>
<path d="M571.9 106.6L574.6 104.6L576.2 105.3L573.5 107.3Z" color="#eb9a09"/>
<path d="M504.7 117.4L507.2 115.2L509 116.5L506.5 118.6Z" color="#efe707"/>
<path d="M431.9 154.8L434.2 152.8L436.2 150.3L433.9 152.3Z" color="#6ce8d4"/>
<path d="M509 116.5L511.6 114.3L513.4 115.7L510.9 117.8Z" color="#efe107"/>
<path d="M453 136.2L455.4 134.1L457.4 133.3L455 135.4Z" color="#4ad314"/>
<path d="M425.7 162.8L427.9 160.8L429.9 157.6L427.7 159.6Z" color="#6cd0eb"/>
<path d="M576.2 105.3L579 103.3L580.6 103.8L577.9 105.8Z" color="#ea8e0a"/>
<path d="M513.4 115.7L516 113.5L517.8 114.9L515.2 117.1Z" color="#efdb07"/>
<path d="M472.3 126.1L474.7 123.9L476.7 124.2L474.3 126.4Z" color="#a7ea0a"/>
<path d="M442.5 144.2L444.7 142.2L446.7 140.6L444.5 142.7Z" color="#35514f"/>
<path d="M517.8 114.9L520.3 112.8L522.1 114.2L519.6 116.4Z" color="#f0d607"/>
<path d="M522.1 114.2L524.7 112.1L526.5 113.6L523.9 115.7Z" color="#f0d207"/>
<path d="M580.6 103.8L583.4 101.9L585 102.3L582.3 104.2Z" color="#e87f0a"/>
<path d="M526.5 113.6L529.1 111.4L530.9 112.9L528.3 115Z" color="#f0cd07"/>
<path d="M476.7 124.2L479.1 122.1L481 122.6L478.6 124.7Z" color="#baeb09"/>
<path d="M530.9 112.9L533.5 110.8L535.2 112.3L532.6 114.4Z" color="#f0c807"/>
<path d="M457.4 133.3L459.7 131.2L461.7 130.7L459.3 132.8Z" color="#64dc10"/>
<path d="M535.2 112.3L537.9 110.1L539.6 111.6L537 113.7Z" color="#f0c407"/>
<path d="M539.6 111.6L542.2 109.5L544 110.9L541.3 113Z" color="#efbf07"/>
<path d="M436.2 150.3L438.4 148.3L440.4 146.1L438.2 148.1Z" color="#6ce898"/>
<path d="M481 122.6L483.5 120.4L485.4 121L482.9 123.2Z" color="#cced08"/>
<path d="M544 110.9L546.6 108.8L548.3 110.2L545.7 112.3Z" color="#efba07"/>
<path d="M446.7 140.6L449.1 138.5L451.1 137.2L448.7 139.3Z" color="#32a02b"/>
<path d="M548.3 110.2L551 108.1L552.7 109.4L550 111.5Z" color="#efb407"/>
<path d="M485.4 121L487.8 118.8L489.7 119.6L487.3 121.8Z" color="#dded08"/>
<path d="M461.7 130.7L464.1 128.5L466 128.2L463.7 130.4Z" color="#7ee10d"/>
<path d="M429.9 157.6L432.2 155.6L434.2 152.8L431.9 154.8Z" color="#6ce6eb"/>
<path d="M552.7 109.4L555.4 107.4L557.1 108.6L554.4 110.7Z" color="#efae07"/>
<path d="M557.1 108.6L559.8 106.6L561.5 107.8L558.7 109.8Z" color="#eea807"/>
<path d="M489.7 119.6L492.2 117.4L494.1 118.4L491.6 120.5Z" color="#ecee08"/>
<path d="M561.5 107.8L564.2 105.7L565.8 106.8L563.1 108.8Z" color="#eea108"/>
<path d="M494.1 118.4L496.6 116.2L498.5 117.2L496 119.4Z" color="#eee707"/>
<path d="M466 128.2L468.4 126.1L470.4 126L468 128.1Z" color="#97e50c"/>
<path d="M565.8 106.8L568.6 104.7L570.2 105.7L567.5 107.7Z" color="#ed9a08"/>
<path d="M451.1 137.2L453.4 135.1L455.4 134.1L453 136.2Z" color="#47c31c"/>
<path d="M440.4 146.1L442.7 144L444.7 142.2L442.5 144.2Z" color="#6ce875"/>
<path d="M498.5 117.2L501 115L502.8 116.2L500.3 118.3Z" color="#efe007"/>
<path d="M570.2 105.7L573 103.7L574.6 104.6L571.9 106.6Z" color="#ec9008"/>
<path d="M502.8 116.2L505.4 114L507.2 115.2L504.7 117.4Z" color="#efd907"/>
<path d="M470.4 126L472.8 123.8L474.7 123.9L472.3 126.1Z" color="#aee80a"/>
<path d="M574.6 104.6L577.4 102.5L579 103.3L576.2 105.3Z" color="#eb8409"/>
<path d="M507.2 115.2L509.7 113L511.6 114.3L509 116.5Z" color="#efd307"/>
<path d="M434.2 152.8L436.4 150.8L438.4 148.3L436.2 150.3Z" color="#6ce8ad"/>
<path d="M511.6 114.3L514.1 112.2L516 113.5L513.4 115.7Z" color="#efce07"/>
<path d="M455.4 134.1L457.7 132L459.7 131.2L457.4 133.3Z" color="#61d314"/>
<path d="M427.9 160.8L430.2 158.8L432.2 155.6L429.9 157.6Z" color="#6cdceb"/>
<path d="M579 103.3L581.8 101.3L583.4 101.9L580.6 103.8Z" color="#ea7709"/>
<path d="M516 113.5L518.5 111.4L520.3 112.8L517.8 114.9Z" color="#f0c807"/>
<path d="M474.7 123.9L477.1 121.8L479.1 122.1L476.7 124.2Z" color="#c4ea0a"/>
<path d="M444.7 142.2L447.1 140.1L449.1 138.5L446.7 140.6Z" color="#38514f"/>
<path d="M520.3 112.8L522.9 110.6L524.7 112.1L522.1 114.2Z" color="#f0c307"/>
<path d="M583.4 101.9L586.3 99.9L587.9 100.3L585 102.3Z" color="#e8680a"/>
<path d="M524.7 112.1L527.3 109.9L529.1 111.4L526.5 113.6Z" color="#f0be07"/>
<path d="M529.1 111.4L531.7 109.3L533.5 110.8L530.9 112.9Z" color="#f0ba07"/>
<path d="M479.1 122.1L481.5 119.9L483.5 120.4L481 122.6Z" color="#d8ec09"/>
<path d="M533.5 110.8L536.1 108.6L537.9 110.1L535.2 112.3Z" color="#f0b507"/>
<path d="M459.7 131.2L462.1 129.1L464.1 128.5L461.7 130.7Z" color="#7edc10"/>
<path d="M537.9 110.1L540.5 108L542.2 109.5L539.6 111.6Z" color="#f0b007"/>
<path d="M542.2 109.5L544.9 107.3L546.6 108.8L544 110.9Z" color="#f0ab07"/>
<path d="M438.4 148.3L440.7 146.2L442.7 144L440.4 146.1Z" color="#6ce881"/>
<path d="M483.5 120.4L485.9 118.2L487.8 118.8L485.4 121Z" color="#eaed08"/>
<path d="M546.6 108.8L549.3 106.7L551 108.1L548.3 110.2Z" color="#efa607"/>
<path d="M449.1 138.5L451.4 136.4L453.4 135.1L451.1 137.2Z" color="#419f2c"/>
<path d="M551 108.1L553.7 106L555.4 107.4L552.7 109.4Z" color="#efa107"/>
<path d="M555.4 107.4L558.1 105.3L559.8 106.6L557.1 108.6Z" color="#ef9b07"/>
<path d="M487.8 118.8L490.3 116.7L492.2 117.4L489.7 119.6Z" color="#ede508"/>
<path d="M432.2 155.6L434.4 153.6L436.4 150.8L434.2 152.8Z" color="#6ce8ca"/>
<path d="M464.1 128.5L466.4 126.4L468.4 126.1L466 128.2Z" color="#99e20d"/>
<path d="M559.8 106.6L562.5 104.5L564.2 105.7L561.5 107.8Z" color="#ef9407"/>
<path d="M492.2 117.4L494.7 115.2L496.6 116.2L494.1 118.4Z" color="#eedc08"/>
<path d="M564.2 105.7L566.9 103.6L568.6 104.7L565.8 106.8Z" color="#ee8c08"/>
<path d="M568.6 104.7L571.4 102.7L573 103.7L570.2 105.7Z" color="#ed8208"/>
<path d="M496.6 116.2L499.1 114L501 115L498.5 117.2Z" color="#eed407"/>
<path d="M468.4 126.1L470.8 123.9L472.8 123.8L470.4 126Z" color="#b3e60c"/>
<path d="M453.4 135.1L455.7 133L457.7 132L455.4 134.1Z" color="#5bc31b"/>
<path d="M442.7 144L445 142L447.1 140.1L444.7 142.2Z" color="#77e870"/>
<path d="M573 103.7L575.8 101.7L577.4 102.5L574.6 104.6Z" color="#ed7708"/>
<path d="M501 115L503.5 112.8L505.4 114L502.8 116.2Z" color="#efcd07"/>
<path d="M505.4 114L507.9 111.8L509.7 113L507.2 115.2Z" color="#efc607"/>
<path d="M577.4 102.5L580.2 100.5L581.8 101.3L579 103.3Z" color="#ec6c09"/>
<path d="M472.8 123.8L475.2 121.7L477.1 121.8L474.7 123.9Z" color="#cbe80a"/>
<path d="M509.7 113L512.3 110.8L514.1 112.2L511.6 114.3Z" color="#efc007"/>
<path d="M436.4 150.8L438.7 148.8L440.7 146.2L438.4 148.3Z" color="#6ce88f"/>
<path d="M581.8 101.3L584.7 99.3L586.3 99.9L583.4 101.9Z" color="#ea5f09"/>
<path d="M514.1 112.2L516.7 110L518.5 111.4L516 113.5Z" color="#f0ba07"/>
<path d="M430.2 158.8L432.4 156.9L434.4 153.6L432.2 155.6Z" color="#6ce8eb"/>
<path d="M457.7 132L460.1 129.8L462.1 129.1L459.7 131.2Z" color="#7ad314"/>
<path d="M518.5 111.4L521.1 109.2L522.9 110.6L520.3 112.8Z" color="#f0b507"/>
<path d="M477.1 121.8L479.6 119.6L481.5 119.9L479.1 122.1Z" color="#e1ea09"/>
<path d="M447.1 140.1L449.4 138L451.4 136.4L449.1 138.5Z" color="#3a514f"/>
<path d="M522.9 110.6L525.5 108.4L527.3 109.9L524.7 112.1Z" color="#f0b007"/>
<path d="M586.3 99.9L589.1 97.9L590.7 98.3L587.9 100.3Z" color="#e64d0b"/>
<path d="M527.3 109.9L529.9 107.8L531.7 109.3L529.1 111.4Z" color="#f0ab07"/>
<path d="M531.7 109.3L534.4 107.1L536.1 108.6L533.5 110.8Z" color="#f0a607"/>
<path d="M481.5 119.9L484 117.7L485.9 118.2L483.5 120.4Z" color="#ebe509"/>
<path d="M536.1 108.6L538.8 106.5L540.5 108L537.9 110.1Z" color="#f0a107"/>
<path d="M462.1 129.1L464.5 126.9L466.4 126.4L464.1 128.5Z" color="#98dc10"/>
<path d="M540.5 108L543.2 105.8L544.9 107.3L542.2 109.5Z" color="#f09d07"/>
<path d="M544.9 107.3L547.6 105.2L549.3 106.7L546.6 108.8Z" color="#f09807"/>
<path d="M440.7 146.2L443 144.2L445 142L442.7 144Z" color="#70e870"/>
<path d="M485.9 118.2L488.4 116L490.3 116.7L487.8 118.8Z" color="#ecdb08"/>
<path d="M549.3 106.7L552 104.6L553.7 106L551 108.1Z" color="#f09207"/>
<path d="M553.7 106L556.4 103.9L558.1 105.3L555.4 107.4Z" color="#ef8b07"/>
<path d="M451.4 136.4L453.7 134.3L455.7 133L453.4 135.1Z" color="#4f9f2c"/>
<path d="M558.1 105.3L560.9 103.2L562.5 104.5L559.8 106.6Z" color="#ef8307"/>
<path d="M434.4 153.6L436.7 151.6L438.7 148.8L436.4 150.8Z" color="#6ce8a3"/>
<path d="M490.3 116.7L492.8 114.4L494.7 115.2L492.2 117.4Z" color="#edd208"/>
<path d="M466.4 126.4L468.8 124.2L470.8 123.9L468.4 126.1Z" color="#b4e20d"/>
<path d="M562.5 104.5L565.3 102.4L566.9 103.6L564.2 105.7Z" color="#ef7c07"/>
<path d="M566.9 103.6L569.7 101.5L571.4 102.7L568.6 104.7Z" color="#ee7307"/>
<path d="M494.7 115.2L497.2 113L499.1 114L496.6 116.2Z" color="#eec908"/>
<path d="M571.4 102.7L574.2 100.6L575.8 101.7L573 103.7Z" color="#ee6908"/>
<path d="M499.1 114L501.6 111.8L503.5 112.8L501 115Z" color="#eec107"/>
<path d="M470.8 123.9L473.2 121.7L475.2 121.7L472.8 123.8Z" color="#cfe60c"/>
<path d="M455.7 133L458.1 130.9L460.1 129.8L457.7 132Z" color="#71c31b"/>
<path d="M445 142L447.4 139.9L449.4 138L447.1 140.1Z" color="#85e870"/>
<path d="M575.8 101.7L578.6 99.6L580.2 100.5L577.4 102.5Z" color="#ec5f08"/>
<path d="M503.5 112.8L506 110.6L507.9 111.8L505.4 114Z" color="#efb907"/>
<path d="M580.2 100.5L583 98.5L584.7 99.3L581.8 101.3Z" color="#ea5109"/>
<path d="M507.9 111.8L510.5 109.6L512.3 110.8L509.7 113Z" color="#efb207"/>
<path d="M475.2 121.7L477.6 119.5L479.6 119.6L477.1 121.8Z" color="#e8e80a"/>
<path d="M512.3 110.8L514.9 108.6L516.7 110L514.1 112.2Z" color="#efac07"/>
<path d="M438.7 148.8L441 146.7L443 144.2L440.7 146.2Z" color="#6ce878"/>
<path d="M584.7 99.3L587.5 97.2L589.1 97.9L586.3 99.9Z" color="#e7400b"/>
<path d="M516.7 110L519.3 107.8L521.1 109.2L518.5 111.4Z" color="#f0a607"/>
<path d="M432.4 156.9L434.7 154.9L436.7 151.6L434.4 153.6Z" color="#6ce8c5"/>
<path d="M460.1 129.8L462.5 127.7L464.5 126.9L462.1 129.1Z" color="#92d314"/>
<path d="M521.1 109.2L523.7 107L525.5 108.4L522.9 110.6Z" color="#f0a107"/>
<path d="M479.6 119.6L482 117.4L484 117.7L481.5 119.9Z" color="#eadd09"/>
<path d="M589.1 97.9L592 95.9L593.5 96.3L590.7 98.3Z" color="#e22f0d"/>
<path d="M449.4 138L451.7 135.9L453.7 134.3L451.4 136.4Z" color="#3d514f"/>
<path d="M525.5 108.4L528.2 106.2L529.9 107.8L527.3 109.9Z" color="#f09c07"/>
<path d="M529.9 107.8L532.6 105.6L534.4 107.1L531.7 109.3Z" color="#f09707"/>
<path d="M534.4 107.1L537 104.9L538.8 106.5L536.1 108.6Z" color="#f09107"/>
<path d="M484 117.7L486.5 115.5L488.4 116L485.9 118.2Z" color="#ebd209"/>
<path d="M538.8 106.5L541.5 104.3L543.2 105.8L540.5 108Z" color="#f08b07"/>
<path d="M464.5 126.9L466.9 124.7L468.8 124.2L466.4 126.4Z" color="#b2dc10"/>
<path d="M543.2 105.8L545.9 103.7L547.6 105.2L544.9 107.3Z" color="#f08407"/>
<path d="M547.6 105.2L550.3 103L552 104.6L549.3 106.7Z" color="#f07e07"/>
<path d="M443 144.2L445.4 142.1L447.4 139.9L445 142Z" color="#7ee870"/>
<path d="M552 104.6L554.8 102.4L556.4 103.9L553.7 106Z" color="#f07807"/>
<path d="M488.4 116L490.9 113.8L492.8 114.4L490.3 116.7Z" color="#edc808"/>
<path d="M556.4 103.9L559.2 101.7L560.9 103.2L558.1 105.3Z" color="#ef7107"/>
<path d="M453.7 134.3L456.1 132.2L458.1 130.9L455.7 133Z" color="#5f9f2c"/>
<path d="M560.9 103.2L563.6 101L565.3 102.4L562.5 104.5Z" color="#ef6a07"/>
<path d="M436.7 151.6L439 149.6L441 146.7L438.7 148.8Z" color="#6ce889"/>
<path d="M492.8 114.4L495.3 112.2L497.2 113L494.7 115.2Z" color="#edbe08"/>
<path d="M468.8 124.2L471.3 122L473.2 121.7L470.8 123.9Z" color="#d0e20d"/>
<path d="M565.3 102.4L568.1 100.3L569.7 101.5L566.9 103.6Z" color="#ef6207"/>
<path d="M569.7 101.5L572.5 99.4L574.2 100.6L571.4 102.7Z" color="#ed5908"/>
<path d="M497.2 113L499.7 110.8L501.6 111.8L499.1 114Z" color="#eeb508"/>
<path d="M574.2 100.6L577 98.5L578.6 99.6L575.8 101.7Z" color="#ec4d09"/>
<path d="M501.6 111.8L504.2 109.5L506 110.6L503.5 112.8Z" color="#efad07"/>
<path d="M473.2 121.7L475.7 119.5L477.6 119.5L475.2 121.7Z" color="#e5e20b"/>
<path d="M458.1 130.9L460.5 128.7L462.5 127.7L460.1 129.8Z" color="#86c31b"/>
<path d="M447.4 139.9L449.7 137.8L451.7 135.9L449.4 138Z" color="#93e870"/>
<path d="M578.6 99.6L581.4 97.5L583 98.5L580.2 100.5Z" color="#e93f0a"/>
<path d="M506 110.6L508.6 108.4L510.5 109.6L507.9 111.8Z" color="#efa507"/>
<path d="M583 98.5L585.9 96.4L587.5 97.2L584.7 99.3Z" color="#e5310b"/>
<path d="M510.5 109.6L513 107.3L514.9 108.6L512.3 110.8Z" color="#ef9f07"/>
<path d="M477.6 119.5L480.1 117.3L482 117.4L479.6 119.6Z" color="#e8d60a"/>
<path d="M514.9 108.6L517.5 106.4L519.3 107.8L516.7 110Z" color="#f09807"/>
<path d="M441 146.7L443.3 144.7L445.4 142.1L443 144.2Z" color="#75e870"/>
<path d="M587.5 97.2L590.4 95.2L592 95.9L589.1 97.9Z" color="#e1240e"/>
<path d="M519.3 107.8L521.9 105.5L523.7 107L521.1 109.2Z" color="#f09107"/>
<path d="M434.7 154.9L437 152.9L439 149.6L436.7 151.6Z" color="#6ce89e"/>
<path d="M462.5 127.7L464.9 125.5L466.9 124.7L464.5 126.9Z" color="#abd314"/>
<path d="M523.7 107L526.4 104.8L528.2 106.2L525.5 108.4Z" color="#f08907"/>
<path d="M592 95.9L594.8 93.8L596.4 94.3L593.5 96.3Z" color="#db1c10"/>
<path d="M482 117.4L484.5 115.2L486.5 115.5L484 117.7Z" color="#eaca09"/>
<path d="M528.2 106.2L530.8 104L532.6 105.6L529.9 107.8Z" color="#f08307"/>
<path d="M451.7 135.9L454.1 133.8L456.1 132.2L453.7 134.3Z" color="#40514f"/>
<path d="M532.6 105.6L535.3 103.4L537 104.9L534.4 107.1Z" color="#f07c07"/>
<path d="M537 104.9L539.7 102.7L541.5 104.3L538.8 106.5Z" color="#f07607"/>
<path d="M541.5 104.3L544.2 102.1L545.9 103.7L543.2 105.8Z" color="#f07107"/>
<path d="M486.5 115.5L489 113.3L490.9 113.8L488.4 116Z" color="#ecbf09"/>
<path d="M545.9 103.7L548.6 101.5L550.3 103L547.6 105.2Z" color="#f06b07"/>
<path d="M466.9 124.7L469.3 122.5L471.3 122L468.8 124.2Z" color="#cddc10"/>
<path d="M550.3 103L553.1 100.9L554.8 102.4L552 104.6Z" color="#f06507"/>
<path d="M554.8 102.4L557.5 100.2L559.2 101.7L556.4 103.9Z" color="#ef5e07"/>
<path d="M445.4 142.1L447.7 140L449.7 137.8L447.4 139.9Z" color="#8ce870"/>
<path d="M490.9 113.8L493.4 111.5L495.3 112.2L492.8 114.4Z" color="#edb408"/>
<path d="M559.2 101.7L562 99.6L563.6 101L560.9 103.2Z" color="#ee5607"/>
<path d="M456.1 132.2L458.5 130L460.5 128.7L458.1 130.9Z" color="#6e9e2c"/>
<path d="M563.6 101L566.4 98.9L568.1 100.3L565.3 102.4Z" color="#ed4d08"/>
<path d="M439 149.6L441.3 147.6L443.3 144.7L441 146.7Z" color="#6ce872"/>
<path d="M495.3 112.2L497.8 110L499.7 110.8L497.2 113Z" color="#eeab08"/>
<path d="M471.3 122L473.7 119.8L475.7 119.5L473.2 121.7Z" color="#e2db0d"/>
<path d="M568.1 100.3L570.9 98.1L572.5 99.4L569.7 101.5Z" color="#eb4309"/>
<path d="M572.5 99.4L575.3 97.3L577 98.5L574.2 100.6Z" color="#e9380a"/>
<path d="M499.7 110.8L502.3 108.6L504.2 109.5L501.6 111.8Z" color="#eea107"/>
<path d="M577 98.5L579.8 96.4L581.4 97.5L578.6 99.6Z" color="#e62d0b"/>
<path d="M504.2 109.5L506.7 107.3L508.6 108.4L506 110.6Z" color="#ef9907"/>
<path d="M475.7 119.5L478.1 117.3L480.1 117.3L477.6 119.5Z" color="#e6cf0b"/>
<path d="M581.4 97.5L584.3 95.4L585.9 96.4L583 98.5Z" color="#e3220d"/>
<path d="M460.5 128.7L462.9 126.5L464.9 125.5L462.5 127.7Z" color="#9cc31b"/>
<path d="M449.7 137.8L452.1 135.7L454.1 133.8L451.7 135.9Z" color="#a1e870"/>
<path d="M508.6 108.4L511.2 106.1L513 107.3L510.5 109.6Z" color="#ef8f07"/>
<path d="M585.9 96.4L588.8 94.3L590.4 95.2L587.5 97.2Z" color="#de1d0f"/>
<path d="M513 107.3L515.6 105.1L517.5 106.4L514.9 108.6Z" color="#ef8607"/>
<path d="M480.1 117.3L482.6 115L484.5 115.2L482 117.4Z" color="#e8c30a"/>
<path d="M590.4 95.2L593.2 93.1L594.8 93.8L592 95.9Z" color="#d91711"/>
<path d="M443.3 144.7L445.7 142.6L447.7 140L445.4 142.1Z" color="#83e870"/>
<path d="M517.5 106.4L520.1 104.2L521.9 105.5L519.3 107.8Z" color="#f07e07"/>
<path d="M521.9 105.5L524.6 103.3L526.4 104.8L523.7 107Z" color="#f07607"/>
<path d="M437 152.9L439.3 150.8L441.3 147.6L439 149.6Z" color="#6ce886"/>
<path d="M464.9 125.5L467.3 123.3L469.3 122.5L466.9 124.7Z" color="#c4d314"/>
<path d="M594.8 93.8L597.7 91.8L599.3 92.3L596.4 94.3Z" color="#d31114"/>
<path d="M526.4 104.8L529 102.5L530.8 104L528.2 106.2Z" color="#f06f07"/>
<path d="M484.5 115.2L487 112.9L489 113.3L486.5 115.5Z" color="#eab709"/>
<path d="M530.8 104L533.5 101.8L535.3 103.4L532.6 105.6Z" color="#f06807"/>
<path d="M454.1 133.8L456.5 131.6L458.5 130L456.1 132.2Z" color="#44514f"/>
<path d="M535.3 103.4L537.9 101.1L539.7 102.7L537 104.9Z" color="#f06207"/>
<path d="M539.7 102.7L542.4 100.5L544.2 102.1L541.5 104.3Z" color="#ef5c07"/>
<path d="M544.2 102.1L546.9 99.9L548.6 101.5L545.9 103.7Z" color="#ef5407"/>
<path d="M489 113.3L491.5 111L493.4 111.5L490.9 113.8Z" color="#ecac09"/>
<path d="M548.6 101.5L551.3 99.3L553.1 100.9L550.3 103Z" color="#ee4c08"/>
<path d="M469.3 122.5L471.7 120.3L473.7 119.8L471.3 122Z" color="#dcd510"/>
<path d="M553.1 100.9L555.8 98.7L557.5 100.2L554.8 102.4Z" color="#ed4508"/>
<path d="M557.5 100.2L560.3 98.1L562 99.6L559.2 101.7Z" color="#eb3d09"/>
<path d="M447.7 140L450.1 137.9L452.1 135.7L449.7 137.8Z" color="#99e870"/>
<path d="M493.4 111.5L495.9 109.3L497.8 110L495.3 112.2Z" color="#eda108"/>
<path d="M562 99.6L564.7 97.4L566.4 98.9L563.6 101Z" color="#ea340a"/>
<path d="M458.5 130L460.9 127.9L462.9 126.5L460.5 128.7Z" color="#7e9e2c"/>
<path d="M566.4 98.9L569.2 96.7L570.9 98.1L568.1 100.3Z" color="#e82c0a"/>
<path d="M441.3 147.6L443.7 145.5L445.7 142.6L443.3 144.7Z" color="#79e870"/>
<path d="M570.9 98.1L573.7 96L575.3 97.3L572.5 99.4Z" color="#e5230b"/>
<path d="M497.8 110L500.4 107.7L502.3 108.6L499.7 110.8Z" color="#ee9708"/>
<path d="M473.7 119.8L476.2 117.6L478.1 117.3L475.7 119.5Z" color="#e2ca0d"/>
<path d="M575.3 97.3L578.2 95.2L579.8 96.4L577 98.5Z" color="#e21f0d"/>
<path d="M502.3 108.6L504.8 106.3L506.7 107.3L504.2 109.5Z" color="#ee8a07"/>
<path d="M579.8 96.4L582.7 94.3L584.3 95.4L581.4 97.5Z" color="#df1a0e"/>
<path d="M506.7 107.3L509.3 105L511.2 106.1L508.6 108.4Z" color="#ef7f07"/>
<path d="M584.3 95.4L587.1 93.3L588.8 94.3L585.9 96.4Z" color="#db1510"/>
<path d="M478.1 117.3L480.6 115.1L482.6 115L480.1 117.3Z" color="#e6bd0b"/>
<path d="M462.9 126.5L465.3 124.4L467.3 123.3L464.9 125.5Z" color="#b3c31b"/>
<path d="M452.1 135.7L454.4 133.5L456.5 131.6L454.1 133.8Z" color="#b0e870"/>
<path d="M511.2 106.1L513.8 103.9L515.6 105.1L513 107.3Z" color="#ef7507"/>
<path d="M588.8 94.3L591.6 92.2L593.2 93.1L590.4 95.2Z" color="#d61012"/>
<path d="M515.6 105.1L518.3 102.8L520.1 104.2L517.5 106.4Z" color="#f06c07"/>
<path d="M593.2 93.1L596.1 91L597.7 91.8L594.8 93.8Z" color="#d00f15"/>
<path d="M482.6 115L485.1 112.8L487 112.9L484.5 115.2Z" color="#e8b00a"/>
<path d="M445.7 142.6L448 140.5L450.1 137.9L447.7 140Z" color="#91e870"/>
<path d="M520.1 104.2L522.7 101.9L524.6 103.3L521.9 105.5Z" color="#f06307"/>
<path d="M524.6 103.3L527.2 101L529 102.5L526.4 104.8Z" color="#ef5b07"/>
<path d="M439.3 150.8L441.6 148.8L443.7 145.5L441.3 147.6Z" color="#6ce870"/>
<path d="M467.3 123.3L469.7 121.1L471.7 120.3L469.3 122.5Z" color="#d3cd14"/>
<path d="M529 102.5L531.7 100.3L533.5 101.8L530.8 104Z" color="#ee5207"/>
<path d="M487 112.9L489.5 110.7L491.5 111L489 113.3Z" color="#eaa409"/>
<path d="M533.5 101.8L536.2 99.6L537.9 101.1L535.3 103.4Z" color="#ee4908"/>
<path d="M456.5 131.6L458.9 129.5L460.9 127.9L458.5 130Z" color="#47514f"/>
<path d="M537.9 101.1L540.7 98.9L542.4 100.5L539.7 102.7Z" color="#ec4108"/>
<path d="M542.4 100.5L545.1 98.3L546.9 99.9L544.2 102.1Z" color="#eb3909"/>
<path d="M546.9 99.9L549.6 97.7L551.3 99.3L548.6 101.5Z" color="#ea3209"/>
<path d="M491.5 111L494 108.8L495.9 109.3L493.4 111.5Z" color="#ec9809"/>
<path d="M551.3 99.3L554.1 97.1L555.8 98.7L553.1 100.9Z" color="#e82b0a"/>
<path d="M471.7 120.3L474.2 118.1L476.2 117.6L473.7 119.8Z" color="#dcc410"/>
<path d="M555.8 98.7L558.6 96.5L560.3 98.1L557.5 100.2Z" color="#e7240b"/>
<path d="M560.3 98.1L563.1 95.9L564.7 97.4L562 99.6Z" color="#e5200c"/>
<path d="M450.1 137.9L452.4 135.8L454.4 133.5L452.1 135.7Z" color="#a8e870"/>
<path d="M495.9 109.3L498.5 107L500.4 107.7L497.8 110Z" color="#ed8a08"/>
<path d="M564.7 97.4L567.6 95.2L569.2 96.7L566.4 98.9Z" color="#e21d0d"/>
<path d="M569.2 96.7L572 94.5L573.7 96L570.9 98.1Z" color="#e0190e"/>
<path d="M460.9 127.9L463.3 125.7L465.3 124.4L462.9 126.5Z" color="#8e9e2c"/>
<path d="M443.7 145.5L446 143.4L448 140.5L445.7 142.6Z" color="#86e870"/>
<path d="M573.7 96L576.5 93.8L578.2 95.2L575.3 97.3Z" color="#dd160f"/>
<path d="M500.4 107.7L503 105.5L504.8 106.3L502.3 108.6Z" color="#ee7c08"/>
<path d="M476.2 117.6L478.6 115.4L480.6 115.1L478.1 117.3Z" color="#e2b70d"/>
<path d="M578.2 95.2L581 93L582.7 94.3L579.8 96.4Z" color="#da1211"/>
<path d="M504.8 106.3L507.4 104L509.3 105L506.7 107.3Z" color="#ee7007"/>
<path d="M582.7 94.3L585.5 92.2L587.1 93.3L584.3 95.4Z" color="#d60e12"/>
<path d="M587.1 93.3L590 91.2L591.6 92.2L588.8 94.3Z" color="#d20e14"/>
<path d="M509.3 105L511.9 102.8L513.8 103.9L511.2 106.1Z" color="#ef6507"/>
<path d="M480.6 115.1L483.1 112.8L485.1 112.8L482.6 115Z" color="#e6aa0b"/>
<path d="M465.3 124.4L467.7 122.2L469.7 121.1L467.3 123.3Z" color="#c2be1b"/>
<path d="M454.4 133.5L456.8 131.4L458.9 129.5L456.5 131.6Z" color="#bfe870"/>
<path d="M591.6 92.2L594.6 90.1L596.1 91L593.2 93.1Z" color="#cc1016"/>
<path d="M513.8 103.9L516.4 101.6L518.3 102.8L515.6 105.1Z" color="#ee5907"/>
<path d="M518.3 102.8L520.9 100.6L522.7 101.9L520.1 104.2Z" color="#ed4d08"/>
<path d="M485.1 112.8L487.6 110.5L489.5 110.7L487 112.9Z" color="#e99d0a"/>
<path d="M448 140.5L450.4 138.4L452.4 135.8L450.1 137.9Z" color="#9fe870"/>
<path d="M522.7 101.9L525.4 99.6L527.2 101L524.6 103.3Z" color="#ec4208"/>
<path d="M441.6 148.8L444 146.7L446 143.4L443.7 145.5Z" color="#7ae870"/>
<path d="M527.2 101L529.9 98.8L531.7 100.3L529 102.5Z" color="#eb3809"/>
<path d="M469.7 121.1L472.2 118.9L474.2 118.1L471.7 120.3Z" color="#d3bc14"/>
<path d="M531.7 100.3L534.4 98L536.2 99.6L533.5 101.8Z" color="#e92f0a"/>
<path d="M489.5 110.7L492.1 108.4L494 108.8L491.5 111Z" color="#eb8e09"/>
<path d="M536.2 99.6L538.9 97.3L540.7 98.9L537.9 101.1Z" color="#e7270a"/>
<path d="M458.9 129.5L461.3 127.3L463.3 125.7L460.9 127.9Z" color="#4a514f"/>
<path d="M540.7 98.9L543.4 96.6L545.1 98.3L542.4 100.5Z" color="#e6220b"/>
<path d="M545.1 98.3L547.9 96L549.6 97.7L546.9 99.9Z" color="#e41e0c"/>
<path d="M549.6 97.7L552.4 95.4L554.1 97.1L551.3 99.3Z" color="#e21b0d"/>
<path d="M494 108.8L496.5 106.5L498.5 107L495.9 109.3Z" color="#ec7e08"/>
<path d="M554.1 97.1L556.9 94.8L558.6 96.5L555.8 98.7Z" color="#e0180e"/>
<path d="M474.2 118.1L476.6 115.9L478.6 115.4L476.2 117.6Z" color="#dcb20f"/>
<path d="M558.6 96.5L561.4 94.2L563.1 95.9L560.3 98.1Z" color="#de150f"/>
<path d="M563.1 95.9L565.9 93.6L567.6 95.2L564.7 97.4Z" color="#dc1310"/>
<path d="M452.4 135.8L454.8 133.7L456.8 131.4L454.4 133.5Z" color="#b8e870"/>
<path d="M567.6 95.2L570.4 93L572 94.5L569.2 96.7Z" color="#da1011"/>
<path d="M498.5 107L501 104.7L503 105.5L500.4 107.7Z" color="#ed6f08"/>
<path d="M572 94.5L574.9 92.4L576.5 93.8L573.7 96Z" color="#d70d12"/>
<path d="M463.3 125.7L465.7 123.5L467.7 122.2L465.3 124.4Z" color="#9b9c2c"/>
<path d="M576.5 93.8L579.4 91.6L581 93L578.2 95.2Z" color="#d40e13"/>
<path d="M446 143.4L448.4 141.3L450.4 138.4L448 140.5Z" color="#94e870"/>
<path d="M503 105.5L505.5 103.2L507.4 104L504.8 106.3Z" color="#ee6208"/>
<path d="M478.6 115.4L481.1 113.1L483.1 112.8L480.6 115.1Z" color="#e2a50d"/>
<path d="M581 93L583.9 90.9L585.5 92.2L582.7 94.3Z" color="#d00f15"/>
<path d="M585.5 92.2L588.4 90L590 91.2L587.1 93.3Z" color="#cc1016"/>
<path d="M507.4 104L510 101.7L511.9 102.8L509.3 105Z" color="#ed5308"/>
<path d="M590 91.2L593 89L594.6 90.1L591.6 92.2Z" color="#c71118"/>
<path d="M511.9 102.8L514.5 100.5L516.4 101.6L513.8 103.9Z" color="#ec4409"/>
<path d="M483.1 112.8L485.6 110.6L487.6 110.5L485.1 112.8Z" color="#e6970b"/>
<path d="M467.7 122.2L470.2 119.9L472.2 118.9L469.7 121.1Z" color="#c2b01b"/>
<path d="M456.8 131.4L459.3 129.2L461.3 127.3L458.9 129.5Z" color="#cfe870"/>
<path d="M516.4 101.6L519.1 99.3L520.9 100.6L518.3 102.8Z" color="#ea3609"/>
<path d="M520.9 100.6L523.6 98.3L525.4 99.6L522.7 101.9Z" color="#e82b0a"/>
<path d="M487.6 110.5L490.1 108.3L492.1 108.4L489.5 110.7Z" color="#e9860a"/>
<path d="M450.4 138.4L452.8 136.3L454.8 133.7L452.4 135.8Z" color="#aee870"/>
<path d="M525.4 99.6L528.1 97.3L529.9 98.8L527.2 101Z" color="#e6220b"/>
<path d="M444 146.7L446.3 144.7L448.4 141.3L446 143.4Z" color="#88e870"/>
<path d="M529.9 98.8L532.6 96.5L534.4 98L531.7 100.3Z" color="#e31e0c"/>
<path d="M472.2 118.9L474.7 116.7L476.6 115.9L474.2 118.1Z" color="#d3ac14"/>
<path d="M534.4 98L537.1 95.7L538.9 97.3L536.2 99.6Z" color="#e11a0d"/>
<path d="M492.1 108.4L494.6 106.1L496.5 106.5L494 108.8Z" color="#eb7509"/>
<path d="M538.9 97.3L541.6 95L543.4 96.6L540.7 98.9Z" color="#df170e"/>
<path d="M461.3 127.3L463.7 125.1L465.7 123.5L463.3 125.7Z" color="#4d514f"/>
<path d="M543.4 96.6L546.1 94.3L547.9 96L545.1 98.3Z" color="#dd130f"/>
<path d="M547.9 96L550.6 93.7L552.4 95.4L549.6 97.7Z" color="#db1110"/>
<path d="M552.4 95.4L555.2 93.1L556.9 94.8L554.1 97.1Z" color="#d90e11"/>
<path d="M556.9 94.8L559.7 92.6L561.4 94.2L558.6 96.5Z" color="#d70d12"/>
<path d="M496.5 106.5L499.1 104.2L501 104.7L498.5 107Z" color="#ec6408"/>
<path d="M476.6 115.9L479.1 113.6L481.1 113.1L478.6 115.4Z" color="#dca00f"/>
<path d="M561.4 94.2L564.2 92L565.9 93.6L563.1 95.9Z" color="#d40d13"/>
<path d="M565.9 93.6L568.7 91.4L570.4 93L567.6 95.2Z" color="#d20e14"/>
<path d="M454.8 133.7L457.2 131.5L459.3 129.2L456.8 131.4Z" color="#c7e870"/>
<path d="M570.4 93L573.2 90.8L574.9 92.4L572 94.5Z" color="#cf0f15"/>
<path d="M501 104.7L503.6 102.4L505.5 103.2L503 105.5Z" color="#ec5209"/>
<path d="M574.9 92.4L577.8 90.1L579.4 91.6L576.5 93.8Z" color="#cc0f16"/>
<path d="M465.7 123.5L468.2 121.3L470.2 119.9L467.7 122.2Z" color="#9b912d"/>
<path d="M579.4 91.6L582.3 89.4L583.9 90.9L581 93Z" color="#c91017"/>
<path d="M448.4 141.3L450.8 139.2L452.8 136.3L450.4 138.4Z" color="#a3e870"/>
<path d="M505.5 103.2L508.1 100.9L510 101.7L507.4 104Z" color="#ea4009"/>
<path d="M481.1 113.1L483.6 110.9L485.6 110.6L483.1 112.8Z" color="#e2930d"/>
<path d="M583.9 90.9L586.8 88.7L588.4 90L585.5 92.2Z" color="#c61119"/>
<path d="M588.4 90L591.3 87.8L593 89L590 91.2Z" color="#c2121a"/>
<path d="M510 101.7L512.7 99.4L514.5 100.5L511.9 102.8Z" color="#e8300a"/>
<path d="M514.5 100.5L517.2 98.1L519.1 99.3L516.4 101.6Z" color="#e5230c"/>
<path d="M485.6 110.6L488.1 108.3L490.1 108.3L487.6 110.5Z" color="#e67f0b"/>
<path d="M459.3 129.2L461.7 127.1L463.7 125.1L461.3 127.3Z" color="#dee870"/>
<path d="M470.2 119.9L472.7 117.7L474.7 116.7L472.2 118.9Z" color="#c2a11b"/>
<path d="M519.1 99.3L521.7 97L523.6 98.3L520.9 100.6Z" color="#e21d0d"/>
<path d="M523.6 98.3L526.2 95.9L528.1 97.3L525.4 99.6Z" color="#e0180e"/>
<path d="M490.1 108.3L492.7 106L494.6 106.1L492.1 108.4Z" color="#e96c0a"/>
<path d="M452.8 136.3L455.2 134.1L457.2 131.5L454.8 133.7Z" color="#bde870"/>
<path d="M528.1 97.3L530.8 95L532.6 96.5L529.9 98.8Z" color="#dd140f"/>
<path d="M446.3 144.7L448.7 142.6L450.8 139.2L448.4 141.3Z" color="#96e870"/>
<path d="M532.6 96.5L535.3 94.2L537.1 95.7L534.4 98Z" color="#da1010"/>
<path d="M474.7 116.7L477.1 114.4L479.1 113.6L476.6 115.9Z" color="#d39b14"/>
<path d="M537.1 95.7L539.8 93.4L541.6 95L538.9 97.3Z" color="#d80d11"/>
<path d="M541.6 95L544.4 92.7L546.1 94.3L543.4 96.6Z" color="#d50d12"/>
<path d="M494.6 106.1L497.2 103.8L499.1 104.2L496.5 106.5Z" color="#ea5a09"/>
<path d="M463.7 125.1L466.2 122.9L468.2 121.3L465.7 123.5Z" color="#4e504f"/>
<path d="M546.1 94.3L548.9 92.1L550.6 93.7L547.9 96Z" color="#d30e13"/>
<path d="M550.6 93.7L553.4 91.4L555.2 93.1L552.4 95.4Z" color="#d10e14"/>
<path d="M555.2 93.1L558 90.9L559.7 92.6L556.9 94.8Z" color="#ce0f15"/>
<path d="M559.7 92.6L562.5 90.3L564.2 92L561.4 94.2Z" color="#cc1016"/>
<path d="M499.1 104.2L501.7 101.9L503.6 102.4L501 104.7Z" color="#e9440a"/>
<path d="M564.2 92L567 89.7L568.7 91.4L565.9 93.6Z" color="#ca1017"/>
<path d="M479.1 113.6L481.7 111.4L483.6 110.9L481.1 113.1Z" color="#dd8e0f"/>
<path d="M568.7 91.4L571.6 89.2L573.2 90.8L570.4 93Z" color="#c71118"/>
<path d="M573.2 90.8L576.1 88.6L577.8 90.1L574.9 92.4Z" color="#c51119"/>
<path d="M457.2 131.5L459.7 129.3L461.7 127.1L459.3 129.2Z" color="#d6e870"/>
<path d="M503.6 102.4L506.2 100.1L508.1 100.9L505.5 103.2Z" color="#e6300b"/>
<path d="M577.8 90.1L580.6 87.9L582.3 89.4L579.4 91.6Z" color="#c2121a"/>
<path d="M468.2 121.3L470.6 119L472.7 117.7L470.2 119.9Z" color="#9b872d"/>
<path d="M582.3 89.4L585.2 87.2L586.8 88.7L583.9 90.9Z" color="#c0131b"/>
<path d="M450.8 139.2L453.2 137.1L455.2 134.1L452.8 136.3Z" color="#b2e870"/>
<path d="M586.8 88.7L589.7 86.5L591.3 87.8L588.4 90Z" color="#bd141c"/>
<path d="M508.1 100.9L510.8 98.5L512.7 99.4L510 101.7Z" color="#e3220c"/>
<path d="M483.6 110.9L486.2 108.6L488.1 108.3L485.6 110.6Z" color="#e37a0d"/>
<path d="M512.7 99.4L515.3 97.1L517.2 98.1L514.5 100.5Z" color="#e01a0e"/>
<path d="M517.2 98.1L519.9 95.8L521.7 97L519.1 99.3Z" color="#dc140f"/>
<path d="M488.1 108.3L490.7 106L492.7 106L490.1 108.3Z" color="#e6660b"/>
<path d="M461.7 127.1L464.1 124.9L466.2 122.9L463.7 125.1Z" color="#e7e470"/>
<path d="M472.7 117.7L475.1 115.5L477.1 114.4L474.7 116.7Z" color="#c2921b"/>
<path d="M521.7 97L524.4 94.7L526.2 95.9L523.6 98.3Z" color="#d90f11"/>
<path d="M526.2 95.9L528.9 93.6L530.8 95L528.1 97.3Z" color="#d60d12"/>
<path d="M492.7 106L495.2 103.6L497.2 103.8L494.6 106.1Z" color="#e74f0b"/>
<path d="M455.2 134.1L457.6 132L459.7 129.3L457.2 131.5Z" color="#cce870"/>
<path d="M530.8 95L533.5 92.7L535.3 94.2L532.6 96.5Z" color="#d20e14"/>
<path d="M448.7 142.6L451.1 140.5L453.2 137.1L450.8 139.2Z" color="#a4e870"/>
<path d="M535.3 94.2L538 91.8L539.8 93.4L537.1 95.7Z" color="#cf0f15"/>
<path d="M477.1 114.4L479.7 112.1L481.7 111.4L479.1 113.6Z" color="#d38a13"/>
<path d="M539.8 93.4L542.6 91.1L544.4 92.7L541.6 95Z" color="#cd0f16"/>
<path d="M544.4 92.7L547.1 90.4L548.9 92.1L546.1 94.3Z" color="#ca1017"/>
<path d="M497.2 103.8L499.8 101.5L501.7 101.9L499.1 104.2Z" color="#e5370b"/>
<path d="M466.2 122.9L468.6 120.7L470.6 119L468.2 121.3Z" color="#4e4d4f"/>
<path d="M548.9 92.1L551.7 89.7L553.4 91.4L550.6 93.7Z" color="#c81118"/>
<path d="M553.4 91.4L556.2 89.1L558 90.9L555.2 93.1Z" color="#c61118"/>
<path d="M558 90.9L560.8 88.6L562.5 90.3L559.7 92.6Z" color="#c41219"/>
<path d="M562.5 90.3L565.3 88L567 89.7L564.2 92Z" color="#c2121a"/>
<path d="M501.7 101.9L504.3 99.6L506.2 100.1L503.6 102.4Z" color="#e2230d"/>
<path d="M567 89.7L569.9 87.5L571.6 89.2L568.7 91.4Z" color="#c0131b"/>
<path d="M481.7 111.4L484.2 109.1L486.2 108.6L483.6 110.9Z" color="#dd770f"/>
<path d="M571.6 89.2L574.4 86.9L576.1 88.6L573.2 90.8Z" color="#be131b"/>
<path d="M576.1 88.6L579 86.3L580.6 87.9L577.8 90.1Z" color="#bc141c"/>
<path d="M459.7 129.3L462.1 127.2L464.1 124.9L461.7 127.1Z" color="#e6e870"/>
<path d="M580.6 87.9L583.6 85.7L585.2 87.2L582.3 89.4Z" color="#ba141d"/>
<path d="M506.2 100.1L508.9 97.8L510.8 98.5L508.1 100.9Z" color="#de1b0f"/>
<path d="M585.2 87.2L588.1 85L589.7 86.5L586.8 88.7Z" color="#b8151e"/>
<path d="M470.6 119L473.1 116.8L475.1 115.5L472.7 117.7Z" color="#9a7c2d"/>
<path d="M453.2 137.1L455.6 135L457.6 132L455.2 134.1Z" color="#c1e870"/>
<path d="M510.8 98.5L513.4 96.2L515.3 97.1L512.7 99.4Z" color="#da1310"/>
<path d="M486.2 108.6L488.7 106.3L490.7 106L488.1 108.3Z" color="#e2610d"/>
<path d="M515.3 97.1L518 94.8L519.9 95.8L517.2 98.1Z" color="#d60d12"/>
<path d="M519.9 95.8L522.5 93.5L524.4 94.7L521.7 97Z" color="#d20e14"/>
<path d="M490.7 106L493.3 103.7L495.2 103.6L492.7 106Z" color="#e4470c"/>
<path d="M464.1 124.9L466.6 122.7L468.6 120.7L466.2 122.9Z" color="#e7d970"/>
<path d="M475.1 115.5L477.7 113.2L479.7 112.1L477.1 114.4Z" color="#c2831b"/>
<path d="M524.4 94.7L527.1 92.3L528.9 93.6L526.2 95.9Z" color="#ce0f15"/>
<path d="M528.9 93.6L531.7 91.3L533.5 92.7L530.8 95Z" color="#cb1017"/>
<path d="M495.2 103.6L497.8 101.3L499.8 101.5L497.2 103.8Z" color="#e22e0d"/>
<path d="M457.6 132L460.1 129.8L462.1 127.2L459.7 129.3Z" color="#dce870"/>
<path d="M533.5 92.7L536.2 90.3L538 91.8L535.3 94.2Z" color="#c81118"/>
<path d="M451.1 140.5L453.6 138.4L455.6 135L453.2 137.1Z" color="#b3e870"/>
<path d="M538 91.8L540.8 89.5L542.6 91.1L539.8 93.4Z" color="#c51219"/>
<path d="M479.7 112.1L482.2 109.9L484.2 109.1L481.7 111.4Z" color="#d47413"/>
<path d="M542.6 91.1L545.4 88.7L547.1 90.4L544.4 92.7Z" color="#c3121a"/>
<path d="M547.1 90.4L549.9 88L551.7 89.7L548.9 92.1Z" color="#c0131b"/>
<path d="M499.8 101.5L502.4 99.2L504.3 99.6L501.7 101.9Z" color="#de1e0f"/>
<path d="M468.6 120.7L471.1 118.4L473.1 116.8L470.6 119Z" color="#4e4b4f"/>
<path d="M551.7 89.7L554.5 87.4L556.2 89.1L553.4 91.4Z" color="#bf131b"/>
<path d="M556.2 89.1L559.1 86.8L560.8 88.6L558 90.9Z" color="#bd141c"/>
<path d="M560.8 88.6L563.6 86.3L565.3 88L562.5 90.3Z" color="#bb141c"/>
<path d="M565.3 88L568.2 85.7L569.9 87.5L567 89.7Z" color="#ba141d"/>
<path d="M504.3 99.6L506.9 97.2L508.9 97.8L506.2 100.1Z" color="#da1511"/>
<path d="M569.9 87.5L572.8 85.2L574.4 86.9L571.6 89.2Z" color="#b9151d"/>
<path d="M484.2 109.1L486.7 106.8L488.7 106.3L486.2 108.6Z" color="#dd5f0f"/>
<path d="M574.4 86.9L577.3 84.6L579 86.3L576.1 88.6Z" color="#b7151e"/>
<path d="M579 86.3L581.9 84L583.6 85.7L580.6 87.9Z" color="#b6151e"/>
<path d="M462.1 127.2L464.6 125L466.6 122.7L464.1 124.9Z" color="#e7df70"/>
<path d="M583.6 85.7L586.5 83.4L588.1 85L585.2 87.2Z" color="#b5161f"/>
<path d="M508.9 97.8L511.5 95.4L513.4 96.2L510.8 98.5Z" color="#d50d13"/>
<path d="M473.1 116.8L475.6 114.5L477.7 113.2L475.1 115.5Z" color="#9a712d"/>
<path d="M455.6 135L458 132.8L460.1 129.8L457.6 132Z" color="#d0e870"/>
<path d="M513.4 96.2L516.1 93.8L518 94.8L515.3 97.1Z" color="#d00f15"/>
<path d="M488.7 106.3L491.3 103.9L493.3 103.7L490.7 106Z" color="#df420e"/>
<path d="M518 94.8L520.7 92.4L522.5 93.5L519.9 95.8Z" color="#cb1017"/>
<path d="M522.5 93.5L525.2 91.1L527.1 92.3L524.4 94.7Z" color="#c71118"/>
<path d="M493.3 103.7L495.9 101.3L497.8 101.3L495.2 103.6Z" color="#de270f"/>
<path d="M466.6 122.7L469.1 120.4L471.1 118.4L468.6 120.7Z" color="#e7cf70"/>
<path d="M477.7 113.2L480.2 110.9L482.2 109.9L479.7 112.1Z" color="#c2701b"/>
<path d="M527.1 92.3L529.8 89.9L531.7 91.3L528.9 93.6Z" color="#c31219"/>
<path d="M531.7 91.3L534.4 88.9L536.2 90.3L533.5 92.7Z" color="#c1131b"/>
<path d="M460.1 129.8L462.5 127.6L464.6 125L462.1 127.2Z" color="#e7e570"/>
<path d="M497.8 101.3L500.4 99L502.4 99.2L499.8 101.5Z" color="#da1a11"/>
<path d="M536.2 90.3L539 88L540.8 89.5L538 91.8Z" color="#be131b"/>
<path d="M453.6 138.4L456 136.2L458 132.8L455.6 135Z" color="#c2e870"/>
<path d="M540.8 89.5L543.6 87.1L545.4 88.7L542.6 91.1Z" color="#bc141c"/>
<path d="M482.2 109.9L484.7 107.6L486.7 106.8L484.2 109.1Z" color="#d45d13"/>
<path d="M545.4 88.7L548.2 86.4L549.9 88L547.1 90.4Z" color="#ba141d"/>
<path d="M549.9 88L552.7 85.7L554.5 87.4L551.7 89.7Z" color="#b9151d"/>
<path d="M502.4 99.2L505 96.8L506.9 97.2L504.3 99.6Z" color="#d51113"/>
<path d="M471.1 118.4L473.6 116.2L475.6 114.5L473.1 116.8Z" color="#4e494f"/>
<path d="M554.5 87.4L557.3 85.1L559.1 86.8L556.2 89.1Z" color="#b8151e"/>
<path d="M559.1 86.8L561.9 84.5L563.6 86.3L560.8 88.6Z" color="#b7151e"/>
<path d="M563.6 86.3L566.5 83.9L568.2 85.7L565.3 88Z" color="#b6151e"/>
<path d="M568.2 85.7L571.1 83.4L572.8 85.2L569.9 87.5Z" color="#b5161f"/>
<path d="M572.8 85.2L575.7 82.9L577.3 84.6L574.4 86.9Z" color="#b4161f"/>
<path d="M506.9 97.2L509.6 94.8L511.5 95.4L508.9 97.8Z" color="#cf0f15"/>
<path d="M577.3 84.6L580.3 82.3L581.9 84L579 86.3Z" color="#b4161f"/>
<path d="M486.7 106.8L489.3 104.5L491.3 103.9L488.7 106.3Z" color="#d94011"/>
<path d="M581.9 84L584.9 81.7L586.5 83.4L583.6 85.7Z" color="#b3161f"/>
<path d="M464.6 125L467.1 122.7L469.1 120.4L466.6 122.7Z" color="#e7d570"/>
<path d="M511.5 95.4L514.2 93.1L516.1 93.8L513.4 96.2Z" color="#ca1017"/>
<path d="M475.6 114.5L478.2 112.3L480.2 110.9L477.7 113.2Z" color="#99642d"/>
<path d="M458 132.8L460.5 130.7L462.5 127.6L460.1 129.8Z" color="#dfe870"/>
<path d="M516.1 93.8L518.8 91.4L520.7 92.4L518 94.8Z" color="#c51219"/>
<path d="M491.3 103.9L493.9 101.6L495.9 101.3L493.3 103.7Z" color="#d92411"/>
<path d="M520.7 92.4L523.4 90L525.2 91.1L522.5 93.5Z" color="#c1131b"/>
<path d="M525.2 91.1L528 88.7L529.8 89.9L527.1 92.3Z" color="#bd141c"/>
<path d="M495.9 101.3L498.5 99L500.4 99L497.8 101.3Z" color="#d51813"/>
<path d="M469.1 120.4L471.6 118.2L473.6 116.2L471.1 118.4Z" color="#e7c570"/>
<path d="M480.2 110.9L482.7 108.6L484.7 107.6L482.2 109.9Z" color="#c25c1b"/>
<path d="M529.8 89.9L532.6 87.5L534.4 88.9L531.7 91.3Z" color="#bb141d"/>
<path d="M534.4 88.9L537.2 86.5L539 88L536.2 90.3Z" color="#b9151d"/>
<path d="M462.5 127.6L465 125.4L467.1 122.7L464.6 125Z" color="#e7db70"/>
<path d="M500.4 99L503.1 96.6L505 96.8L502.4 99.2Z" color="#d00f15"/>
<path d="M539 88L541.8 85.6L543.6 87.1L540.8 89.5Z" color="#b7151e"/>
<path d="M456 136.2L458.5 134.1L460.5 130.7L458 132.8Z" color="#d1e870"/>
<path d="M543.6 87.1L546.4 84.7L548.2 86.4L545.4 88.7Z" color="#b6151e"/>
<path d="M484.7 107.6L487.3 105.2L489.3 104.5L486.7 106.8Z" color="#d04115"/>
<path d="M548.2 86.4L551 84L552.7 85.7L549.9 88Z" color="#b5161f"/>
<path d="M552.7 85.7L555.6 83.3L557.3 85.1L554.5 87.4Z" color="#b4161f"/>
<path d="M505 96.8L507.7 94.4L509.6 94.8L506.9 97.2Z" color="#ca1017"/>
<path d="M473.6 116.2L476.2 113.9L478.2 112.3L475.6 114.5Z" color="#4e474f"/>
<path d="M557.3 85.1L560.2 82.7L561.9 84.5L559.1 86.8Z" color="#b4161f"/>
<path d="M561.9 84.5L564.8 82.1L566.5 83.9L563.6 86.3Z" color="#b4161f"/>
<path d="M566.5 83.9L569.4 81.6L571.1 83.4L568.2 85.7Z" color="#b4161f"/>
<path d="M571.1 83.4L574 81L575.7 82.9L572.8 85.2Z" color="#b3161f"/>
<path d="M575.7 82.9L578.6 80.5L580.3 82.3L577.3 84.6Z" color="#b3161f"/>
<path d="M509.6 94.8L512.3 92.5L514.2 93.1L511.5 95.4Z" color="#c41219"/>
<path d="M580.3 82.3L583.2 80L584.9 81.7L581.9 84Z" color="#b3161f"/>
<path d="M489.3 104.5L491.9 102.1L493.9 101.6L491.3 103.9Z" color="#d32414"/>
<path d="M467.1 122.7L469.6 120.5L471.6 118.2L469.1 120.4Z" color="#e7ca70"/>
<path d="M514.2 93.1L516.9 90.7L518.8 91.4L516.1 93.8Z" color="#bf131b"/>
<path d="M478.2 112.3L480.7 110L482.7 108.6L480.2 110.9Z" color="#99562e"/>
<path d="M460.5 130.7L463 128.5L465 125.4L462.5 127.6Z" color="#e7e370"/>
<path d="M518.8 91.4L521.5 89.1L523.4 90L520.7 92.4Z" color="#bc141d"/>
<path d="M493.9 101.6L496.5 99.2L498.5 99L495.9 101.3Z" color="#d01715"/>
<path d="M523.4 90L526.1 87.6L528 88.7L525.2 91.1Z" color="#b9151e"/>
<path d="M528 88.7L530.7 86.3L532.6 87.5L529.8 89.9Z" color="#b6151e"/>
<path d="M498.5 99L501.1 96.6L503.1 96.6L500.4 99Z" color="#cb1017"/>
<path d="M471.6 118.2L474.1 115.9L476.2 113.9L473.6 116.2Z" color="#e7ba70"/>
<path d="M482.7 108.6L485.3 106.3L487.3 105.2L484.7 107.6Z" color="#bf431c"/>
<path d="M532.6 87.5L535.3 85.1L537.2 86.5L534.4 88.9Z" color="#b5161f"/>
<path d="M537.2 86.5L540 84.1L541.8 85.6L539 88Z" color="#b4161f"/>
<path d="M465 125.4L467.5 123.2L469.6 120.5L467.1 122.7Z" color="#e7d170"/>
<path d="M503.1 96.6L505.7 94.2L507.7 94.4L505 96.8Z" color="#c51219"/>
<path d="M541.8 85.6L544.6 83.2L546.4 84.7L543.6 87.1Z" color="#b4161f"/>
<path d="M458.5 134.1L460.9 131.9L463 128.5L460.5 130.7Z" color="#e1e870"/>
<path d="M546.4 84.7L549.2 82.3L551 84L548.2 86.4Z" color="#b3161f"/>
<path d="M487.3 105.2L489.9 102.9L491.9 102.1L489.3 104.5Z" color="#c92618"/>
<path d="M551 84L553.8 81.6L555.6 83.3L552.7 85.7Z" color="#b3161f"/>
<path d="M555.6 83.3L558.4 80.9L560.2 82.7L557.3 85.1Z" color="#b3161f"/>
<path d="M507.7 94.4L510.3 92L512.3 92.5L509.6 94.8Z" color="#bf131b"/>
<path d="M476.2 113.9L478.7 111.6L480.7 110L478.2 112.3Z" color="#4e444f"/>
<path d="M560.2 82.7L563.1 80.3L564.8 82.1L561.9 84.5Z" color="#b3161f"/>
<path d="M564.8 82.1L567.7 79.7L569.4 81.6L566.5 83.9Z" color="#b3161f"/>
<path d="M569.4 81.6L572.3 79.2L574 81L571.1 83.4Z" color="#b2161f"/>
<path d="M574 81L576.9 78.7L578.6 80.5L575.7 82.9Z" color="#b2161f"/>
<path d="M578.6 80.5L581.5 78.2L583.2 80L580.3 82.3Z" color="#b2161f"/>
<path d="M512.3 92.5L515 90L516.9 90.7L514.2 93.1Z" color="#bb141d"/>
<path d="M491.9 102.1L494.5 99.8L496.5 99.2L493.9 101.6Z" color="#ca1818"/>
<path d="M469.6 120.5L472.1 118.3L474.1 115.9L471.6 118.2Z" color="#e7c070"/>
<path d="M516.9 90.7L519.6 88.3L521.5 89.1L518.8 91.4Z" color="#b7151e"/>
<path d="M480.7 110L483.3 107.6L485.3 106.3L482.7 108.6Z" color="#96452f"/>
<path d="M463 128.5L465.5 126.3L467.5 123.2L465 125.4Z" color="#e7d970"/>
<path d="M521.5 89.1L524.2 86.6L526.1 87.6L523.4 90Z" color="#b5161f"/>
<path d="M496.5 99.2L499.1 96.9L501.1 96.6L498.5 99Z" color="#c61219"/>
<path d="M526.1 87.6L528.9 85.2L530.7 86.3L528 88.7Z" color="#b3161f"/>
<path d="M530.7 86.3L533.5 83.9L535.3 85.1L532.6 87.5Z" color="#b3161f"/>
<path d="M474.1 115.9L476.7 113.6L478.7 111.6L476.2 113.9Z" color="#e7ac70"/>
<path d="M501.1 96.6L503.8 94.2L505.7 94.2L503.1 96.6Z" color="#c0131b"/>
<path d="M485.3 106.3L487.9 103.9L489.9 102.9L487.3 105.2Z" color="#b92a1f"/>
<path d="M535.3 85.1L538.1 82.7L540 84.1L537.2 86.5Z" color="#b3161f"/>
<path d="M540 84.1L542.8 81.7L544.6 83.2L541.8 85.6Z" color="#b3161f"/>
<path d="M467.5 123.2L470 121L472.1 118.3L469.6 120.5Z" color="#e7c770"/>
<path d="M505.7 94.2L508.4 91.8L510.3 92L507.7 94.4Z" color="#bb151d"/>
<path d="M544.6 83.2L547.4 80.8L549.2 82.3L546.4 84.7Z" color="#b2161f"/>
<path d="M460.9 131.9L463.4 129.7L465.5 126.3L463 128.5Z" color="#e7e270"/>
<path d="M549.2 82.3L552 79.9L553.8 81.6L551 84Z" color="#b2161f"/>
<path d="M489.9 102.9L492.5 100.5L494.5 99.8L491.9 102.1Z" color="#c11b1c"/>
<path d="M553.8 81.6L556.7 79.2L558.4 80.9L555.6 83.3Z" color="#b2161f"/>
<path d="M558.4 80.9L561.3 78.5L563.1 80.3L560.2 82.7Z" color="#b2161f"/>
<path d="M478.7 111.6L481.3 109.3L483.3 107.6L480.7 110Z" color="#4e414f"/>
<path d="M510.3 92L513 89.6L515 90L512.3 92.5Z" color="#b7161f"/>
<path d="M563.1 80.3L566 77.9L567.7 79.7L564.8 82.1Z" color="#b2161f"/>
<path d="M567.7 79.7L570.6 77.3L572.3 79.2L569.4 81.6Z" color="#b1161f"/>
<path d="M572.3 79.2L575.2 76.8L576.9 78.7L574 81Z" color="#b1161f"/>
<path d="M576.9 78.7L579.9 76.3L581.5 78.2L578.6 80.5Z" color="#b1161f"/>
<path d="M515 90L517.7 87.6L519.6 88.3L516.9 90.7Z" color="#b41620"/>
<path d="M494.5 99.8L497.1 97.4L499.1 96.9L496.5 99.2Z" color="#bf141c"/>
<path d="M472.1 118.3L474.6 116L476.7 113.6L474.1 115.9Z" color="#e7b470"/>
<path d="M519.6 88.3L522.3 85.8L524.2 86.6L521.5 89.1Z" color="#b21720"/>
<path d="M483.3 107.6L485.9 105.3L487.9 103.9L485.3 106.3Z" color="#903432"/>
<path d="M465.5 126.3L468 124L470 121L467.5 123.2Z" color="#e7cf70"/>
<path d="M524.2 86.6L527 84.2L528.9 85.2L526.1 87.6Z" color="#b21620"/>
<path d="M499.1 96.9L501.8 94.5L503.8 94.2L501.1 96.6Z" color="#bb151e"/>
<path d="M528.9 85.2L531.6 82.7L533.5 83.9L530.7 86.3Z" color="#b21620"/>
<path d="M533.5 83.9L536.3 81.4L538.1 82.7L535.3 85.1Z" color="#b2161f"/>
<path d="M476.7 113.6L479.2 111.3L481.3 109.3L478.7 111.6Z" color="#e79f70"/>
<path d="M503.8 94.2L506.4 91.8L508.4 91.8L505.7 94.2Z" color="#b6161f"/>
<path d="M487.9 103.9L490.5 101.6L492.5 100.5L489.9 102.9Z" color="#b02023"/>
<path d="M538.1 82.7L540.9 80.3L542.8 81.7L540 84.1Z" color="#b2161f"/>
<path d="M542.8 81.7L545.6 79.2L547.4 80.8L544.6 83.2Z" color="#b1161f"/>
<path d="M470 121L472.6 118.7L474.6 116L472.1 118.3Z" color="#e7bc70"/>
<path d="M547.4 80.8L550.3 78.3L552 79.9L549.2 82.3Z" color="#b1161f"/>
<path d="M508.4 91.8L511.1 89.4L513 89.6L510.3 92Z" color="#b31720"/>
<path d="M463.4 129.7L465.9 127.5L468 124L465.5 126.3Z" color="#e7d870"/>
<path d="M552 79.9L554.9 77.5L556.7 79.2L553.8 81.6Z" color="#b1161f"/>
<path d="M556.7 79.2L559.6 76.8L561.3 78.5L558.4 80.9Z" color="#b1161f"/>
<path d="M492.5 100.5L495.2 98.2L497.1 97.4L494.5 99.8Z" color="#b61720"/>
<path d="M561.3 78.5L564.2 76.1L566 77.9L563.1 80.3Z" color="#b1161f"/>
<path d="M481.3 109.3L483.9 107L485.9 105.3L483.3 107.6Z" color="#4e3d4f"/>
<path d="M566 77.9L568.9 75.5L570.6 77.3L567.7 79.7Z" color="#b0161f"/>
<path d="M513 89.6L515.7 87.2L517.7 87.6L515 90Z" color="#b11721"/>
<path d="M570.6 77.3L573.5 74.9L575.2 76.8L572.3 79.2Z" color="#ae161f"/>
<path d="M575.2 76.8L578.2 74.4L579.9 76.3L576.9 78.7Z" color="#ac161f"/>
<path d="M517.7 87.6L520.4 85.2L522.3 85.8L519.6 88.3Z" color="#b01721"/>
<path d="M497.1 97.4L499.8 95L501.8 94.5L499.1 96.9Z" color="#b51720"/>
<path d="M474.6 116L477.2 113.7L479.2 111.3L476.7 113.6Z" color="#e7a670"/>
<path d="M522.3 85.8L525.1 83.4L527 84.2L524.2 86.6Z" color="#b11720"/>
<path d="M485.9 105.3L488.5 103L490.5 101.6L487.9 103.9Z" color="#872c36"/>
<path d="M468 124L470.5 121.8L472.6 118.7L470 121Z" color="#e7c470"/>
<path d="M527 84.2L529.7 81.7L531.6 82.7L528.9 85.2Z" color="#b11620"/>
<path d="M501.8 94.5L504.5 92.1L506.4 91.8L503.8 94.2Z" color="#b11721"/>
<path d="M531.6 82.7L534.4 80.3L536.3 81.4L533.5 83.9Z" color="#b1161f"/>
<path d="M536.3 81.4L539.1 79L540.9 80.3L538.1 82.7Z" color="#b0161f"/>
<path d="M479.2 111.3L481.8 109L483.9 107L481.3 109.3Z" color="#e78d70"/>
<path d="M506.4 91.8L509.1 89.4L511.1 89.4L508.4 91.8Z" color="#af1822"/>
<path d="M490.5 101.6L493.1 99.2L495.2 98.2L492.5 100.5Z" color="#a61c28"/>
<path d="M540.9 80.3L543.8 77.8L545.6 79.2L542.8 81.7Z" color="#b0161f"/>
<path d="M545.6 79.2L548.4 76.8L550.3 78.3L547.4 80.8Z" color="#b0161f"/>
<path d="M472.6 118.7L475.1 116.4L477.2 113.7L474.6 116Z" color="#e7af70"/>
<path d="M550.3 78.3L553.1 75.8L554.9 77.5L552 79.9Z" color="#af161f"/>
<path d="M511.1 89.4L513.8 87L515.7 87.2L513 89.6Z" color="#ae1822"/>
<path d="M465.9 127.5L468.5 125.3L470.5 121.8L468 124Z" color="#e7ce70"/>
<path d="M554.9 77.5L557.8 75L559.6 76.8L556.7 79.2Z" color="#ac161f"/>
<path d="M559.6 76.8L562.5 74.3L564.2 76.1L561.3 78.5Z" color="#aa161f"/>
<path d="M495.2 98.2L497.8 95.8L499.8 95L497.1 97.4Z" color="#ac1a24"/>
<path d="M564.2 76.1L567.2 73.6L568.9 75.5L566 77.9Z" color="#a8161f"/>
<path d="M568.9 75.5L571.8 73L573.5 74.9L570.6 77.3Z" color="#a6161f"/>
<path d="M483.9 107L486.5 104.6L488.5 103L485.9 105.3Z" color="#4e3a4f"/>
<path d="M515.7 87.2L518.5 84.7L520.4 85.2L517.7 87.6Z" color="#af1721"/>
<path d="M573.5 74.9L576.5 72.5L578.2 74.4L575.2 76.8Z" color="#a5161f"/>
<path d="M520.4 85.2L523.2 82.7L525.1 83.4L522.3 85.8Z" color="#af1720"/>
<path d="M499.8 95L502.5 92.6L504.5 92.1L501.8 94.5Z" color="#ab1924"/>
<path d="M477.2 113.7L479.8 111.4L481.8 109L479.2 111.3Z" color="#e79770"/>
<path d="M525.1 83.4L527.9 80.9L529.7 81.7L527 84.2Z" color="#af1720"/>
<path d="M488.5 103L491.1 100.6L493.1 99.2L490.5 101.6Z" color="#7d293a"/>
<path d="M470.5 121.8L473.1 119.6L475.1 116.4L472.6 118.7Z" color="#e7ba70"/>
<path d="M529.7 81.7L532.5 79.3L534.4 80.3L531.6 82.7Z" color="#af1620"/>
<path d="M504.5 92.1L507.2 89.6L509.1 89.4L506.4 91.8Z" color="#ab1924"/>
<path d="M534.4 80.3L537.2 77.8L539.1 79L536.3 81.4Z" color="#af161f"/>
<path d="M539.1 79L541.9 76.5L543.8 77.8L540.9 80.3Z" color="#ae161f"/>
<path d="M481.8 109L484.4 106.7L486.5 104.6L483.9 107Z" color="#e77b70"/>
<path d="M509.1 89.4L511.8 86.9L513.8 87L511.1 89.4Z" color="#ab1923"/>
<path d="M493.1 99.2L495.8 96.8L497.8 95.8L495.2 98.2Z" color="#9b1f2c"/>
<path d="M543.8 77.8L546.6 75.3L548.4 76.8L545.6 79.2Z" color="#ab161f"/>
<path d="M548.4 76.8L551.3 74.3L553.1 75.8L550.3 78.3Z" color="#a8161f"/>
<path d="M475.1 116.4L477.7 114.1L479.8 111.4L477.2 113.7Z" color="#e7a170"/>
<path d="M553.1 75.8L556 73.4L557.8 75L554.9 77.5Z" color="#a5161f"/>
<path d="M513.8 87L516.5 84.5L518.5 84.7L515.7 87.2Z" color="#ad1822"/>
<path d="M468.5 125.3L471 123.1L473.1 119.6L470.5 121.8Z" color="#e7c470"/>
<path d="M557.8 75L560.7 72.6L562.5 74.3L559.6 76.8Z" color="#a3161f"/>
<path d="M562.5 74.3L565.4 71.8L567.2 73.6L564.2 76.1Z" color="#a1161f"/>
<path d="M497.8 95.8L500.5 93.3L502.5 92.6L499.8 95Z" color="#a31c28"/>
<path d="M567.2 73.6L570.1 71.2L571.8 73L568.9 75.5Z" color="#9e161f"/>
<path d="M571.8 73L574.8 70.6L576.5 72.5L573.5 74.9Z" color="#9d161f"/>
<path d="M486.5 104.6L489.1 102.3L491.1 100.6L488.5 103Z" color="#4e384f"/>
<path d="M518.5 84.7L521.2 82.3L523.2 82.7L520.4 85.2Z" color="#ae1721"/>
<path d="M523.2 82.7L525.9 80.2L527.9 80.9L525.1 83.4Z" color="#ae1720"/>
<path d="M502.5 92.6L505.2 90.1L507.2 89.6L504.5 92.1Z" color="#a51b26"/>
<path d="M479.8 111.4L482.4 109.1L484.4 106.7L481.8 109Z" color="#e78570"/>
<path d="M527.9 80.9L530.6 78.4L532.5 79.3L529.7 81.7Z" color="#ae1720"/>
<path d="M491.1 100.6L493.8 98.2L495.8 96.8L493.1 99.2Z" color="#722c3f"/>
<path d="M473.1 119.6L475.7 117.3L477.7 114.1L475.1 116.4Z" color="#e7ac70"/>
<path d="M532.5 79.3L535.4 76.8L537.2 77.8L534.4 80.3Z" color="#ac1620"/>
<path d="M507.2 89.6L509.9 87.2L511.8 86.9L509.1 89.4Z" color="#a81a25"/>
<path d="M537.2 77.8L540.1 75.3L541.9 76.5L539.1 79Z" color="#a8161f"/>
<path d="M541.9 76.5L544.8 74L546.6 75.3L543.8 77.8Z" color="#a4161f"/>
<path d="M484.4 106.7L487.1 104.3L489.1 102.3L486.5 104.6Z" color="#e77270"/>
<path d="M511.8 86.9L514.6 84.5L516.5 84.5L513.8 87Z" color="#aa1923"/>
<path d="M495.8 96.8L498.5 94.4L500.5 93.3L497.8 95.8Z" color="#922230"/>
<path d="M546.6 75.3L549.5 72.8L551.3 74.3L548.4 76.8Z" color="#a1161f"/>
<path d="M551.3 74.3L554.2 71.8L556 73.4L553.1 75.8Z" color="#9e161f"/>
<path d="M477.7 114.1L480.3 111.8L482.4 109.1L479.8 111.4Z" color="#e79170"/>
<path d="M556 73.4L558.9 70.9L560.7 72.6L557.8 75Z" color="#9b161f"/>
<path d="M516.5 84.5L519.3 82L521.2 82.3L518.5 84.7Z" color="#ac1822"/>
<path d="M471 123.1L473.6 120.8L475.7 117.3L473.1 119.6Z" color="#e7b970"/>
<path d="M560.7 72.6L563.6 70.1L565.4 71.8L562.5 74.3Z" color="#99161f"/>
<path d="M565.4 71.8L568.4 69.3L570.1 71.2L567.2 73.6Z" color="#96161f"/>
<path d="M500.5 93.3L503.2 90.9L505.2 90.1L502.5 92.6Z" color="#9c1e2a"/>
<path d="M570.1 71.2L573.1 68.7L574.8 70.6L571.8 73Z" color="#94161f"/>
<path d="M489.1 102.3L491.7 99.9L493.8 98.2L491.1 100.6Z" color="#4e384f"/>
<path d="M521.2 82.3L524 79.8L525.9 80.2L523.2 82.7Z" color="#ac1721"/>
<path d="M525.9 80.2L528.7 77.7L530.6 78.4L527.9 80.9Z" color="#ab1720"/>
<path d="M505.2 90.1L507.9 87.7L509.9 87.2L507.2 89.6Z" color="#a21c27"/>
<path d="M482.4 109.1L485 106.7L487.1 104.3L484.4 106.7Z" color="#e77770"/>
<path d="M530.6 78.4L533.5 75.9L535.4 76.8L532.5 79.3Z" color="#a71620"/>
<path d="M493.8 98.2L496.5 95.8L498.5 94.4L495.8 96.8Z" color="#682f43"/>
<path d="M475.7 117.3L478.3 115L480.3 111.8L477.7 114.1Z" color="#e79f70"/>
<path d="M535.4 76.8L538.2 74.3L540.1 75.3L537.2 77.8Z" color="#a21620"/>
<path d="M509.9 87.2L512.6 84.7L514.6 84.5L511.8 86.9Z" color="#a71a25"/>
<path d="M540.1 75.3L542.9 72.8L544.8 74L541.9 76.5Z" color="#9e161f"/>
<path d="M544.8 74L547.7 71.5L549.5 72.8L546.6 75.3Z" color="#9a161f"/>
<path d="M487.1 104.3L489.7 102L491.7 99.9L489.1 102.3Z" color="#e76c70"/>
<path d="M514.6 84.5L517.3 82L519.3 82L516.5 84.5Z" color="#a91923"/>
<path d="M498.5 94.4L501.2 92L503.2 90.9L500.5 93.3Z" color="#8c2332"/>
<path d="M549.5 72.8L552.4 70.3L554.2 71.8L551.3 74.3Z" color="#97161f"/>
<path d="M554.2 71.8L557.1 69.3L558.9 70.9L556 73.4Z" color="#94161f"/>
<path d="M480.3 111.8L483 109.5L485 106.7L482.4 109.1Z" color="#e77f70"/>
<path d="M558.9 70.9L561.9 68.3L563.6 70.1L560.7 72.6Z" color="#91161f"/>
<path d="M519.3 82L522.1 79.5L524 79.8L521.2 82.3Z" color="#aa1822"/>
<path d="M473.6 120.8L476.2 118.6L478.3 115L475.7 117.3Z" color="#e7ab70"/>
<path d="M563.6 70.1L566.6 67.5L568.4 69.3L565.4 71.8Z" color="#8e161f"/>
<path d="M568.4 69.3L571.3 66.8L573.1 68.7L570.1 71.2Z" color="#8c161f"/>
<path d="M503.2 90.9L505.9 88.4L507.9 87.7L505.2 90.1Z" color="#991f2b"/>
<path d="M491.7 99.9L494.4 97.5L496.5 95.8L493.8 98.2Z" color="#4d384f"/>
<path d="M524 79.8L526.8 77.3L528.7 77.7L525.9 80.2Z" color="#a71721"/>
<path d="M528.7 77.7L531.6 75.2L533.5 75.9L530.6 78.4Z" color="#a21720"/>
<path d="M507.9 87.7L510.6 85.2L512.6 84.7L509.9 87.2Z" color="#a11c27"/>
<path d="M485 106.7L487.7 104.4L489.7 102L487.1 104.3Z" color="#e76e70"/>
<path d="M533.5 75.9L536.3 73.4L538.2 74.3L535.4 76.8Z" color="#9d1620"/>
<path d="M478.3 115L480.9 112.7L483 109.5L480.3 111.8Z" color="#e78d70"/>
<path d="M496.5 95.8L499.1 93.4L501.2 92L498.5 94.4Z" color="#613146"/>
<path d="M538.2 74.3L541.1 71.7L542.9 72.8L540.1 75.3Z" color="#981620"/>
<path d="M512.6 84.7L515.4 82.2L517.3 82L514.6 84.5Z" color="#a51a24"/>
<path d="M542.9 72.8L545.8 70.2L547.7 71.5L544.8 74Z" color="#94161f"/>
<path d="M547.7 71.5L550.6 68.9L552.4 70.3L549.5 72.8Z" color="#90161f"/>
<path d="M489.7 102L492.4 99.6L494.4 97.5L491.7 99.9Z" color="#e66c70"/>
<path d="M517.3 82L520.1 79.5L522.1 79.5L519.3 82Z" color="#a71923"/>
<path d="M501.2 92L503.9 89.5L505.9 88.4L503.2 90.9Z" color="#882433"/>
<path d="M552.4 70.3L555.3 67.8L557.1 69.3L554.2 71.8Z" color="#8d161f"/>
<path d="M557.1 69.3L560.1 66.7L561.9 68.3L558.9 70.9Z" color="#89161f"/>
<path d="M483 109.5L485.6 107.2L487.7 104.4L485 106.7Z" color="#e77470"/>
<path d="M561.9 68.3L564.8 65.8L566.6 67.5L563.6 70.1Z" color="#86161f"/>
<path d="M476.2 118.6L478.8 116.3L480.9 112.7L478.3 115Z" color="#e79e70"/>
<path d="M522.1 79.5L524.9 77L526.8 77.3L524 79.8Z" color="#a31822"/>
<path d="M566.6 67.5L569.6 65L571.3 66.8L568.4 69.3Z" color="#84161f"/>
<path d="M505.9 88.4L508.6 86L510.6 85.2L507.9 87.7Z" color="#981e2b"/>
<path d="M494.4 97.5L497.1 95.1L499.1 93.4L496.5 95.8Z" color="#4d384f"/>
<path d="M526.8 77.3L529.6 74.7L531.6 75.2L528.7 77.7Z" color="#9d1721"/>
<path d="M531.6 75.2L534.4 72.7L536.3 73.4L533.5 75.9Z" color="#981720"/>
<path d="M510.6 85.2L513.4 82.7L515.4 82.2L512.6 84.7Z" color="#a01b27"/>
<path d="M487.7 104.4L490.3 102L492.4 99.6L489.7 102Z" color="#e76c70"/>
<path d="M536.3 73.4L539.2 70.8L541.1 71.7L538.2 74.3Z" color="#931620"/>
<path d="M480.9 112.7L483.5 110.3L485.6 107.2L483 109.5Z" color="#e77b70"/>
<path d="M499.1 93.4L501.9 90.9L503.9 89.5L501.2 92Z" color="#5d3348"/>
<path d="M541.1 71.7L544 69.2L545.8 70.2L542.9 72.8Z" color="#8e161f"/>
<path d="M515.4 82.2L518.2 79.7L520.1 79.5L517.3 82Z" color="#a31a24"/>
<path d="M545.8 70.2L548.7 67.7L550.6 68.9L547.7 71.5Z" color="#8a161f"/>
<path d="M550.6 68.9L553.5 66.4L555.3 67.8L552.4 70.3Z" color="#86161f"/>
<path d="M492.4 99.6L495.1 97.1L497.1 95.1L494.4 97.5Z" color="#e56c70"/>
<path d="M520.1 79.5L522.9 77L524.9 77L522.1 79.5Z" color="#9f1823"/>
<path d="M503.9 89.5L506.6 87.1L508.6 86L505.9 88.4Z" color="#872433"/>
<path d="M555.3 67.8L558.3 65.2L560.1 66.7L557.1 69.3Z" color="#82161f"/>
<path d="M560.1 66.7L563 64.2L564.8 65.8L561.9 68.3Z" color="#7f161f"/>
<path d="M485.6 107.2L488.3 104.8L490.3 102L487.7 104.4Z" color="#e76c70"/>
<path d="M564.8 65.8L567.8 63.2L569.6 65L566.6 67.5Z" color="#7c161f"/>
<path d="M478.8 116.3L481.5 114L483.5 110.3L480.9 112.7Z" color="#e78c70"/>
<path d="M524.9 77L527.7 74.4L529.6 74.7L526.8 77.3Z" color="#991822"/>
<path d="M508.6 86L511.4 83.5L513.4 82.7L510.6 85.2Z" color="#981e2b"/>
<path d="M497.1 95.1L499.8 92.6L501.9 90.9L499.1 93.4Z" color="#4d384f"/>
<path d="M529.6 74.7L532.5 72.2L534.4 72.7L531.6 75.2Z" color="#941721"/>
<path d="M534.4 72.7L537.3 70.1L539.2 70.8L536.3 73.4Z" color="#8e1720"/>
<path d="M513.4 82.7L516.2 80.2L518.2 79.7L515.4 82.2Z" color="#9d1b27"/>
<path d="M490.3 102L493 99.6L495.1 97.1L492.4 99.6Z" color="#e66c70"/>
<path d="M539.2 70.8L542.1 68.3L544 69.2L541.1 71.7Z" color="#891620"/>
<path d="M483.5 110.3L486.2 108L488.3 104.8L485.6 107.2Z" color="#e77270"/>
<path d="M501.9 90.9L504.6 88.4L506.6 87.1L503.9 89.5Z" color="#5b3348"/>
<path d="M544 69.2L546.9 66.6L548.7 67.7L545.8 70.2Z" color="#84161f"/>
<path d="M518.2 79.7L521 77.2L522.9 77L520.1 79.5Z" color="#9a1a24"/>
<path d="M548.7 67.7L551.7 65.1L553.5 66.4L550.6 68.9Z" color="#7f161f"/>
<path d="M553.5 66.4L556.4 63.8L558.3 65.2L555.3 67.8Z" color="#7b161f"/>
<path d="M495.1 97.1L497.8 94.7L499.8 92.6L497.1 95.1Z" color="#e46c70"/>
<path d="M522.9 77L525.8 74.4L527.7 74.4L524.9 77Z" color="#951823"/>
<path d="M506.6 87.1L509.4 84.6L511.4 83.5L508.6 86Z" color="#872433"/>
<path d="M558.3 65.2L561.2 62.6L563 64.2L560.1 66.7Z" color="#78161f"/>
<path d="M563 64.2L566 61.6L567.8 63.2L564.8 65.8Z" color="#75161f"/>
<path d="M488.3 104.8L491 102.4L493 99.6L490.3 102Z" color="#e66c70"/>
<path d="M481.5 114L484.1 111.6L486.2 108L483.5 110.3Z" color="#e77b70"/>
<path d="M527.7 74.4L530.6 71.9L532.5 72.2L529.6 74.7Z" color="#8f1822"/>
<path d="M511.4 83.5L514.2 81L516.2 80.2L513.4 82.7Z" color="#951e2b"/>
<path d="M499.8 92.6L502.6 90.2L504.6 88.4L501.9 90.9Z" color="#4d384f"/>
<path d="M532.5 72.2L535.4 69.6L537.3 70.1L534.4 72.7Z" color="#891721"/>
<path d="M537.3 70.1L540.2 67.5L542.1 68.3L539.2 70.8Z" color="#841720"/>
<path d="M516.2 80.2L519 77.7L521 77.2L518.2 79.7Z" color="#951b27"/>
<path d="M493 99.6L495.7 97.2L497.8 94.7L495.1 97.1Z" color="#e56c70"/>
<path d="M542.1 68.3L545 65.7L546.9 66.6L544 69.2Z" color="#7e1620"/>
<path d="M486.2 108L488.9 105.6L491 102.4L488.3 104.8Z" color="#e76c70"/>
<path d="M504.6 88.4L507.4 86L509.4 84.6L506.6 87.1Z" color="#5a3348"/>
<path d="M546.9 66.6L549.8 64L551.7 65.1L548.7 67.7Z" color="#79161f"/>
<path d="M521 77.2L523.8 74.6L525.8 74.4L522.9 77Z" color="#911a24"/>
<path d="M551.7 65.1L554.6 62.5L556.4 63.8L553.5 66.4Z" color="#75161f"/>
<path d="M556.4 63.8L559.4 61.2L561.2 62.6L558.3 65.2Z" color="#71161f"/>
<path d="M497.8 94.7L500.5 92.3L502.6 90.2L499.8 92.6Z" color="#e36c70"/>
<path d="M525.8 74.4L528.6 71.8L530.6 71.9L527.7 74.4Z" color="#8c1823"/>
<path d="M509.4 84.6L512.2 82L514.2 81L511.4 83.5Z" color="#852433"/>
<path d="M561.2 62.6L564.2 60L566 61.6L563 64.2Z" color="#6d161f"/>
<path d="M491 102.4L493.7 100L495.7 97.2L493 99.6Z" color="#e56c70"/>
<path d="M484.1 111.6L486.8 109.3L488.9 105.6L486.2 108Z" color="#e77270"/>
<path d="M530.6 71.9L533.4 69.3L535.4 69.6L532.5 72.2Z" color="#851821"/>
<path d="M514.2 81L517 78.4L519 77.7L516.2 80.2Z" color="#8e1e2b"/>
<path d="M502.6 90.2L505.3 87.7L507.4 86L504.6 88.4Z" color="#4c384f"/>
<path d="M535.4 69.6L538.3 67L540.2 67.5L537.3 70.1Z" color="#7f1721"/>
<path d="M540.2 67.5L543.1 64.9L545 65.7L542.1 68.3Z" color="#791720"/>
<path d="M519 77.7L521.8 75.1L523.8 74.6L521 77.2Z" color="#8c1b27"/>
<path d="M495.7 97.2L498.5 94.7L500.5 92.3L497.8 94.7Z" color="#e46c70"/>
<path d="M545 65.7L547.9 63.1L549.8 64L546.9 66.6Z" color="#741620"/>
<path d="M488.9 105.6L491.6 103.2L493.7 100L491 102.4Z" color="#e66c70"/>
<path d="M507.4 86L510.1 83.5L512.2 82L509.4 84.6Z" color="#5a3349"/>
<path d="M549.8 64L552.8 61.4L554.6 62.5L551.7 65.1Z" color="#6f161f"/>
<path d="M523.8 74.6L526.6 72L528.6 71.8L525.8 74.4Z" color="#881924"/>
<path d="M554.6 62.5L557.6 59.9L559.4 61.2L556.4 63.8Z" color="#6b161f"/>
<path d="M559.4 61.2L562.4 58.6L564.2 60L561.2 62.6Z" color="#67161f"/>
<path d="M500.5 92.3L503.3 89.8L505.3 87.7L502.6 90.2Z" color="#e26c70"/>
<path d="M512.2 82L515 79.5L517 78.4L514.2 81Z" color="#7f2433"/>
<path d="M528.6 71.8L531.5 69.2L533.4 69.3L530.6 71.9Z" color="#821823"/>
<path d="M493.7 100L496.4 97.6L498.5 94.7L495.7 97.2Z" color="#e46c70"/>
<path d="M486.8 109.3L489.5 106.9L491.6 103.2L488.9 105.6Z" color="#e76c70"/>
<path d="M533.4 69.3L536.3 66.7L538.3 67L535.4 69.6Z" color="#7b1821"/>
<path d="M517 78.4L519.8 75.9L521.8 75.1L519 77.7Z" color="#861e2b"/>
<path d="M505.3 87.7L508.1 85.2L510.1 83.5L507.4 86Z" color="#4c384f"/>
<path d="M538.3 67L541.2 64.4L543.1 64.9L540.2 67.5Z" color="#751721"/>
<path d="M543.1 64.9L546 62.3L547.9 63.1L545 65.7Z" color="#6f1720"/>
<path d="M521.8 75.1L524.7 72.5L526.6 72L523.8 74.6Z" color="#841b27"/>
<path d="M498.5 94.7L501.2 92.3L503.3 89.8L500.5 92.3Z" color="#e36c70"/>
<path d="M547.9 63.1L550.9 60.4L552.8 61.4L549.8 64Z" color="#6a1620"/>
<path d="M491.6 103.2L494.3 100.8L496.4 97.6L493.7 100Z" color="#e56c70"/>
<path d="M510.1 83.5L512.9 80.9L515 79.5L512.2 82Z" color="#573349"/>
<path d="M552.8 61.4L555.7 58.7L557.6 59.9L554.6 62.5Z" color="#65161f"/>
<path d="M526.6 72L529.5 69.5L531.5 69.2L528.6 71.8Z" color="#7e1924"/>
<path d="M557.6 59.9L560.6 57.2L562.4 58.6L559.4 61.2Z" color="#61161f"/>
<path d="M503.3 89.8L506.1 87.3L508.1 85.2L505.3 87.7Z" color="#e16c70"/>
<path d="M515 79.5L517.8 77L519.8 75.9L517 78.4Z" color="#792433"/>
<path d="M531.5 69.2L534.4 66.6L536.3 66.7L533.4 69.3Z" color="#781822"/>
<path d="M496.4 97.6L499.1 95.1L501.2 92.3L498.5 94.7Z" color="#e36c70"/>
<path d="M489.5 106.9L492.2 104.5L494.3 100.8L491.6 103.2Z" color="#e66c70"/>
<path d="M536.3 66.7L539.2 64.1L541.2 64.4L538.3 67Z" color="#711721"/>
<path d="M519.8 75.9L522.7 73.3L524.7 72.5L521.8 75.1Z" color="#7e1e2b"/>
<path d="M508.1 85.2L510.9 82.7L512.9 80.9L510.1 83.5Z" color="#4b384f"/>
<path d="M541.2 64.4L544.1 61.8L546 62.3L543.1 64.9Z" color="#6b1721"/>
<path d="M546 62.3L549 59.7L550.9 60.4L547.9 63.1Z" color="#651720"/>
<path d="M524.7 72.5L527.5 69.9L529.5 69.5L526.6 72Z" color="#7b1b27"/>
<path d="M501.2 92.3L504 89.8L506.1 87.3L503.3 89.8Z" color="#e26c70"/>
<path d="M550.9 60.4L553.9 57.8L555.7 58.7L552.8 61.4Z" color="#601620"/>
<path d="M494.3 100.8L497.1 98.4L499.1 95.1L496.4 97.6Z" color="#e46c70"/>
<path d="M512.9 80.9L515.8 78.4L517.8 77L515 79.5Z" color="#543449"/>
<path d="M555.7 58.7L558.7 56.1L560.6 57.2L557.6 59.9Z" color="#5b161f"/>
<path d="M529.5 69.5L532.4 66.8L534.4 66.6L531.5 69.2Z" color="#751924"/>
<path d="M506.1 87.3L508.9 84.8L510.9 82.7L508.1 85.2Z" color="#df6c70"/>
<path d="M517.8 77L520.7 74.4L522.7 73.3L519.8 75.9Z" color="#722433"/>
<path d="M534.4 66.6L537.3 64L539.2 64.1L536.3 66.7Z" color="#6e1822"/>
<path d="M499.1 95.1L501.9 92.7L504 89.8L501.2 92.3Z" color="#e26c70"/>
<path d="M492.2 104.5L495 102.1L497.1 98.4L494.3 100.8Z" color="#e56c70"/>
<path d="M539.2 64.1L542.2 61.4L544.1 61.8L541.2 64.4Z" color="#681721"/>
<path d="M522.7 73.3L525.5 70.7L527.5 69.9L524.7 72.5Z" color="#751e2b"/>
<path d="M510.9 82.7L513.7 80.1L515.8 78.4L512.9 80.9Z" color="#4a384f"/>
<path d="M544.1 61.8L547.1 59.1L549 59.7L546 62.3Z" color="#621720"/>
<path d="M549 59.7L552 57L553.9 57.8L550.9 60.4Z" color="#5b1620"/>
<path d="M527.5 69.9L530.4 67.3L532.4 66.8L529.5 69.5Z" color="#721b26"/>
<path d="M504 89.8L506.8 87.3L508.9 84.8L506.1 87.3Z" color="#e16c70"/>
<path d="M497.1 98.4L499.8 96L501.9 92.7L499.1 95.1Z" color="#e36c70"/>
<path d="M553.9 57.8L556.9 55.1L558.7 56.1L555.7 58.7Z" color="#56161f"/>
<path d="M515.8 78.4L518.6 75.8L520.7 74.4L517.8 77Z" color="#51344a"/>
<path d="M532.4 66.8L535.3 64.2L537.3 64L534.4 66.6Z" color="#6b1924"/>
<path d="M508.9 84.8L511.7 82.3L513.7 80.1L510.9 82.7Z" color="#d86c70"/>
<path d="M520.7 74.4L523.5 71.8L525.5 70.7L522.7 73.3Z" color="#6b2433"/>
<path d="M537.3 64L540.2 61.4L542.2 61.4L539.2 64.1Z" color="#651822"/>
<path d="M501.9 92.7L504.7 90.2L506.8 87.3L504 89.8Z" color="#e16c70"/>
<path d="M495 102.1L497.8 99.7L499.8 96L497.1 98.4Z" color="#e46c70"/>
<path d="M542.2 61.4L545.2 58.8L547.1 59.1L544.1 61.8Z" color="#5e1721"/>
<path d="M525.5 70.7L528.4 68.1L530.4 67.3L527.5 69.9Z" color="#6d1e2b"/>
<path d="M513.7 80.1L516.6 77.6L518.6 75.8L515.8 78.4Z" color="#48384f"/>
<path d="M547.1 59.1L550.1 56.4L552 57L549 59.7Z" color="#571720"/>
<path d="M552 57L555 54.3L556.9 55.1L553.9 57.8Z" color="#511620"/>
<path d="M530.4 67.3L533.4 64.7L535.3 64.2L532.4 66.8Z" color="#691b26"/>
<path d="M506.8 87.3L509.6 84.8L511.7 82.3L508.9 84.8Z" color="#dc6c70"/>
<path d="M499.8 96L502.6 93.5L504.7 90.2L501.9 92.7Z" color="#e26c70"/>
<path d="M518.6 75.8L521.5 73.2L523.5 71.8L520.7 74.4Z" color="#4d344a"/>
<path d="M535.3 64.2L538.3 61.5L540.2 61.4L537.3 64Z" color="#621924"/>
<path d="M511.7 82.3L514.5 79.7L516.6 77.6L513.7 80.1Z" color="#d16c70"/>
<path d="M523.5 71.8L526.4 69.2L528.4 68.1L525.5 70.7Z" color="#652433"/>
<path d="M540.2 61.4L543.2 58.7L545.2 58.8L542.2 61.4Z" color="#5b1822"/>
<path d="M504.7 90.2L507.5 87.7L509.6 84.8L506.8 87.3Z" color="#e06c70"/>
<path d="M497.8 99.7L500.5 97.3L502.6 93.5L499.8 96Z" color="#e36c70"/>
<path d="M545.2 58.8L548.1 56.1L550.1 56.4L547.1 59.1Z" color="#541721"/>
<path d="M528.4 68.1L531.4 65.4L533.4 64.7L530.4 67.3Z" color="#651e2b"/>
<path d="M516.6 77.6L519.5 75L521.5 73.2L518.6 75.8Z" color="#47384f"/>
<path d="M550.1 56.4L553.1 53.7L555 54.3L552 57Z" color="#4d1720"/>
<path d="M533.4 64.7L536.3 62L538.3 61.5L535.3 64.2Z" color="#601b26"/>
<path d="M509.6 84.8L512.5 82.2L514.5 79.7L511.7 82.3Z" color="#d56c70"/>
<path d="M502.6 93.5L505.5 91L507.5 87.7L504.7 90.2Z" color="#e16c70"/>
<path d="M521.5 73.2L524.4 70.6L526.4 69.2L523.5 71.8Z" color="#4a344a"/>
<path d="M538.3 61.5L541.3 58.9L543.2 58.7L540.2 61.4Z" color="#591924"/>
<path d="M514.5 79.7L517.4 77.1L519.5 75L516.6 77.6Z" color="#c96c70"/>
<path d="M526.4 69.2L529.3 66.5L531.4 65.4L528.4 68.1Z" color="#5e2433"/>
<path d="M543.2 58.7L546.2 56L548.1 56.1L545.2 58.8Z" color="#511822"/>
<path d="M507.5 87.7L510.4 85.2L512.5 82.2L509.6 84.8Z" color="#da6c70"/>
<path d="M500.5 97.3L503.4 94.8L505.5 91L502.6 93.5Z" color="#e26c70"/>
<path d="M548.1 56.1L551.2 53.4L553.1 53.7L550.1 56.4Z" color="#4a1721"/>
<path d="M531.4 65.4L534.3 62.8L536.3 62L533.4 64.7Z" color="#5d1e2b"/>
<path d="M519.5 75L522.4 72.4L524.4 70.6L521.5 73.2Z" color="#45384f"/>
<path d="M536.3 62L539.3 59.3L541.3 58.9L538.3 61.5Z" color="#571b26"/>
<path d="M512.5 82.2L515.3 79.7L517.4 77.1L514.5 79.7Z" color="#cd6c70"/>
<path d="M505.5 91L508.3 88.5L510.4 85.2L507.5 87.7Z" color="#e06c70"/>
<path d="M524.4 70.6L527.3 68L529.3 66.5L526.4 69.2Z" color="#48354b"/>
<path d="M541.3 58.9L544.2 56.2L546.2 56L543.2 58.7Z" color="#4f1924"/>
<path d="M517.4 77.1L520.3 74.5L522.4 72.4L519.5 75Z" color="#c16c70"/>
<path d="M529.3 66.5L532.3 63.9L534.3 62.8L531.4 65.4Z" color="#572433"/>
<path d="M546.2 56L549.2 53.3L551.2 53.4L548.1 56.1Z" color="#481822"/>
<path d="M510.4 85.2L513.3 82.6L515.3 79.7L512.5 82.2Z" color="#d36c70"/>
<path d="M503.4 94.8L506.2 92.3L508.3 88.5L505.5 91Z" color="#e16c70"/>
<path d="M534.3 62.8L537.3 60.1L539.3 59.3L536.3 62Z" color="#551e2a"/>
<path d="M522.4 72.4L525.3 69.8L527.3 68L524.4 70.6Z" color="#43384f"/>
<path d="M539.3 59.3L542.3 56.6L544.2 56.2L541.3 58.9Z" color="#4e1b26"/>
<path d="M515.3 79.7L518.2 77.1L520.3 74.5L517.4 77.1Z" color="#c66c70"/>
<path d="M508.3 88.5L511.2 86L513.3 82.6L510.4 85.2Z" color="#d96c70"/>
<path d="M527.3 68L530.3 65.3L532.3 63.9L529.3 66.5Z" color="#45354b"/>
<path d="M544.2 56.2L547.3 53.4L549.2 53.3L546.2 56Z" color="#461924"/>
<path d="M520.3 74.5L523.2 71.9L525.3 69.8L522.4 72.4Z" color="#b96c70"/>
<path d="M532.3 63.9L535.3 61.2L537.3 60.1L534.3 62.8Z" color="#512433"/>
<path d="M513.3 82.6L516.2 80.1L518.2 77.1L515.3 79.7Z" color="#cb6c70"/>
<path d="M506.2 92.3L509.1 89.8L511.2 86L508.3 88.5Z" color="#e06c70"/>
<path d="M537.3 60.1L540.3 57.4L542.3 56.6L539.3 59.3Z" color="#4d1e2a"/>
<path d="M525.3 69.8L528.2 67.1L530.3 65.3L527.3 68Z" color="#42384f"/>
<path d="M518.2 77.1L521.2 74.5L523.2 71.9L520.3 74.5Z" color="#be6c70"/>
<path d="M542.3 56.6L545.3 53.9L547.3 53.4L544.2 56.2Z" color="#451b26"/>
<path d="M511.2 86L514.1 83.4L516.2 80.1L513.3 82.6Z" color="#d26c70"/>
<path d="M530.3 65.3L533.2 62.6L535.3 61.2L532.3 63.9Z" color="#42354b"/>
<path d="M523.2 71.9L526.2 69.3L528.2 67.1L525.3 69.8Z" color="#b26c70"/>
<path d="M535.3 61.2L538.3 58.5L540.3 57.4L537.3 60.1Z" color="#4a2433"/>
<path d="M516.2 80.1L519.1 77.5L521.2 74.5L518.2 77.1Z" color="#c36c70"/>
<path d="M509.1 89.8L512 87.3L514.1 83.4L511.2 86Z" color="#d96c70"/>
<path d="M540.3 57.4L543.3 54.7L545.3 53.9L542.3 56.6Z" color="#451e2a"/>
<path d="M528.2 67.1L531.2 64.4L533.2 62.6L530.3 65.3Z" color="#40384f"/>
<path d="M521.2 74.5L524.1 71.9L526.2 69.3L523.2 71.9Z" color="#b66c70"/>
<path d="M514.1 83.4L517 80.9L519.1 77.5L516.2 80.1Z" color="#ca6c70"/>
<path d="M533.2 62.6L536.2 59.9L538.3 58.5L535.3 61.2Z" color="#40354c"/>
<path d="M526.2 69.3L529.1 66.6L531.2 64.4L528.2 67.1Z" color="#aa6c70"/>
<path d="M538.3 58.5L541.3 55.8L543.3 54.7L540.3 57.4Z" color="#442433"/>
<path d="M519.1 77.5L522 74.9L524.1 71.9L521.2 74.5Z" color="#bc6c70"/>
<path d="M512 87.3L514.9 84.7L517 80.9L514.1 83.4Z" color="#d16c70"/>
<path d="M531.2 64.4L534.2 61.7L536.2 59.9L533.2 62.6Z" color="#3f384f"/>
<path d="M524.1 71.9L527.1 69.2L529.1 66.6L526.2 69.3Z" color="#af6c70"/>
<path d="M517 80.9L519.9 78.3L522 74.9L519.1 77.5Z" color="#c26c70"/>
<path d="M536.2 59.9L539.3 57.2L541.3 55.8L538.3 58.5Z" color="#3e364c"/>
<path d="M529.1 66.6L532.1 63.9L534.2 61.7L531.2 64.4Z" color="#a36c70"/>
<path d="M522 74.9L525 72.2L527.1 69.2L524.1 71.9Z" color="#b46c70"/>
<path d="M514.9 84.7L517.8 82.2L519.9 78.3L517 80.9Z" color="#ca6c70"/>
<path d="M534.2 61.7L537.2 59L539.3 57.2L536.2 59.9Z" color="#3d384f"/>
<path d="M527.1 69.2L530.1 66.5L532.1 63.9L529.1 66.6Z" color="#a76c70"/>
<path d="M519.9 78.3L522.9 75.7L525 72.2L522 74.9Z" color="#bb6c70"/>
<path d="M532.1 63.9L535.2 61.2L537.2 59L534.2 61.7Z" color="#9b6c70"/>
<path d="M525 72.2L528 69.6L530.1 66.5L527.1 69.2Z" color="#ad6c70"/>
<path d="M517.8 82.2L520.8 79.6L522.9 75.7L519.9 78.3Z" color="#c26c70"/>
<path d="M530.1 66.5L533.1 63.8L535.2 61.2L532.1 63.9Z" color="#9f6c70"/>
<path d="M522.9 75.7L525.9 73L528 69.6L525 72.2Z" color="#b36c70"/>
<path d="M528 69.6L531 66.9L533.1 63.8L530.1 66.5Z" color="#a56c70"/>
<path d="M520.8 79.6L523.7 77L525.9 73L522.9 75.7Z" color="#ba6c70"/>
<path d="M525.9 73L528.9 70.4L531 66.9L528 69.6Z" color="#ab6c70"/>
<path d="M523.7 77L526.8 74.3L528.9 70.4L525.9 73Z" color="#b36c70"/></g>
<path d="M483.9 161.1L485.9 160.9L487.9 160.7L489.8 160.5L491.7 160.3L493.5 160.0L495.3 159.8L497.0 159.5L498.6 159.2L500.2 158.9L501.7 158.6L503.2 158.3L504.5 157.9L505.8 157.6M472.2 154.8L474.4 154.6L476.6 154.5L478.8 154.4L481.0 154.2L483.2 154.1L485.4 153.9L487.6 153.8L489.7 153.6L491.8 153.5L493.9 153.3L496.0 153.1L498.0 152.9L500.0 152.7L501.9 152.5L503.8 152.3L505.7 152.1L507.4 151.8L509.1 151.6L510.8 151.3L512.4 151.0L513.9 150.7L515.3 150.4L516.6 150.0M427.4 161.3L427.3 160.3L427.4 159.5L427.6 158.7M457.9 148.4L460.0 148.2L462.1 148.0L464.2 147.9L466.3 147.7L468.5 147.5L470.7 147.4L472.9 147.2L475.2 147.1L477.4 146.9L479.7 146.8L481.9 146.7L484.2 146.5L486.5 146.4L488.8 146.3L491.0 146.1L493.3 146.0L495.5 145.9L497.7 145.7L499.9 145.6L502.1 145.4L504.3 145.3L506.4 145.1L508.5 144.9L510.5 144.8L512.5 144.6L514.5 144.4L516.4 144.2L518.2 143.9L520.0 143.7L521.7 143.4L523.4 143.1L524.9 142.8L526.4 142.5L527.8 142.2M437.3 152.6L437.1 151.7L437.1 150.9L437.3 150.0L437.5 149.3L438.0 148.5L438.5 147.9L439.1 147.2L439.9 146.6L440.7 146.0L441.7 145.5L442.7 144.9L443.9 144.5L445.1 144.0L446.5 143.6L447.9 143.2L449.3 142.8L450.9 142.4L452.5 142.1L454.2 141.7L455.9 141.4L457.7 141.2L459.6 140.9L461.5 140.6L463.5 140.4L465.5 140.2L467.5 140.0L469.6 139.8L471.7 139.6L473.9 139.4L476.1 139.3L478.3 139.1L480.6 139.0L482.8 138.8L485.1 138.7L487.4 138.5L489.7 138.4L492.0 138.3L494.3 138.2L496.7 138.0L499.0 137.9L501.3 137.8L503.6 137.7L505.9 137.5L508.2 137.4L510.5 137.3L512.7 137.2L514.9 137.0L517.1 136.9L519.3 136.7L521.4 136.5L523.4 136.4L525.5 136.2L527.4 136.0L529.3 135.8L531.2 135.5L533.0 135.3L534.7 135.0L536.3 134.8L537.9 134.5L539.3 134.2M447.5 143.7L447.2 142.8L447.2 142.0L447.3 141.2L447.5 140.4L447.9 139.7L448.4 139.0L449.0 138.4L449.7 137.7L450.5 137.2L451.5 136.6L452.5 136.1L453.6 135.6L454.9 135.2L456.2 134.8L457.6 134.4L459.1 134.0L460.6 133.6L462.2 133.3L463.9 133.0L465.7 132.7L467.5 132.4L469.4 132.2L471.3 131.9L473.3 131.7L475.4 131.5L477.4 131.3L479.6 131.1L481.7 130.9L483.9 130.7L486.2 130.6L488.4 130.4L490.7 130.3L493.0 130.1L495.3 130.0L497.7 129.9L500.0 129.8L502.4 129.7L504.8 129.5L507.2 129.4L509.5 129.3L511.9 129.2L514.3 129.1L516.7 129.0L519.0 128.9L521.3 128.7L523.6 128.6L525.9 128.5L528.2 128.3L530.4 128.2L532.6 128.0L534.7 127.9L536.8 127.7L538.8 127.5L540.8 127.3L542.7 127.1L544.6 126.9L546.4 126.7L548.1 126.4L549.7 126.1L551.2 125.8M458.0 134.5L457.7 133.6L457.6 132.8L457.6 132.0L457.8 131.2L458.1 130.5L458.6 129.8L459.2 129.2L459.8 128.6L460.7 128.1L461.6 127.5L462.6 127.0L463.7 126.5L464.9 126.1L466.2 125.7L467.6 125.3L469.1 124.9L470.7 124.6L472.3 124.3L474.0 123.9L475.8 123.7L477.6 123.4L479.5 123.1L481.5 122.9L483.5 122.7L485.6 122.5L487.7 122.3L489.8 122.1L492.0 121.9L494.3 121.8L496.5 121.6L498.8 121.5L501.2 121.3L503.5 121.2L505.9 121.1L508.3 121.0L510.7 120.9L513.1 120.7L515.6 120.6L518.0 120.5L520.4 120.4L522.9 120.3L525.3 120.2L527.7 120.1L530.1 120.0L532.5 119.9L534.9 119.8L537.3 119.7L539.6 119.5L541.9 119.4L544.1 119.3L546.3 119.1L548.5 119.0L550.6 118.8L552.7 118.6L554.7 118.4L556.6 118.2L558.5 118.0L560.2 117.8L561.9 117.5L563.6 117.3M468.9 125.0L468.5 124.1L468.4 123.3L468.3 122.5L468.5 121.7L468.7 121.0L469.1 120.4L469.7 119.8L470.3 119.2L471.1 118.6L472.0 118.1L473.0 117.6L474.1 117.2L475.3 116.7L476.6 116.3L478.0 115.9L479.5 115.6L481.1 115.2L482.7 114.9L484.4 114.6L486.2 114.3L488.1 114.1L490.0 113.8L492.0 113.6L494.0 113.4L496.1 113.2L498.2 113.0L500.4 112.8L502.6 112.7L504.9 112.5L507.2 112.4L509.6 112.2L512.0 112.1L514.4 112.0L516.8 111.9L519.2 111.8L521.7 111.7L524.2 111.6L526.7 111.5L529.2 111.4L531.7 111.3L534.2 111.2L536.7 111.1L539.2 111.0L541.6 110.9L544.1 110.8L546.6 110.7L549.0 110.6L551.4 110.5L553.7 110.4L556.1 110.2L558.3 110.1L560.6 110.0L562.8 109.8L564.9 109.6L567.0 109.5L569.0 109.3L570.9 109.1L572.8 108.9L574.6 108.6L576.3 108.4M480.2 115.1L479.7 114.2L479.5 113.4L479.4 112.7L479.5 111.9L479.7 111.3L480.0 110.6L480.5 110.0L481.2 109.4L481.9 108.9L482.8 108.4L483.8 107.9L484.8 107.5L486.0 107.0L487.3 106.6L488.7 106.3L490.2 105.9L491.8 105.6L493.4 105.3L495.1 105.0L496.9 104.7L498.8 104.5L500.8 104.2L502.8 104.0L504.8 103.8L506.9 103.6L509.1 103.4L511.3 103.3L513.6 103.1L515.9 103.0L518.3 102.8L520.7 102.7L523.1 102.6L525.6 102.5L528.0 102.4L530.5 102.3L533.1 102.2L535.6 102.1L538.1 102.0L540.7 101.9L543.3 101.8L545.8 101.7L548.4 101.6L551.0 101.6L553.5 101.5L556.1 101.4L558.6 101.3L561.1 101.2L563.5 101.1L566.0 101.0L568.4 100.9L570.7 100.8L573.1 100.6L575.3 100.5L577.6 100.4L579.7 100.2L581.8 100.0L583.8 99.8L585.8 99.6L587.6 99.4L589.4 99.2M491.8 104.9L491.3 104.0L491.0 103.3L490.8 102.5L490.8 101.8L491.0 101.1L491.3 100.5L491.8 99.9L492.3 99.4L493.1 98.8L493.9 98.3L494.9 97.9L495.9 97.4L497.1 97.0L498.4 96.6L499.8 96.3L501.3 95.9L502.8 95.6L504.5 95.3L506.2 95.0L508.0 94.8L509.9 94.5L511.9 94.3L513.9 94.1L516.0 93.9L518.2 93.7L520.4 93.5L522.6 93.4L524.9 93.2L527.3 93.1L529.7 93.0L532.1 92.8L534.6 92.7L537.1 92.6L539.6 92.5L542.2 92.4L544.8 92.3L547.4 92.3L550.0 92.2L552.6 92.1L555.3 92.0L557.9 92.0L560.5 91.9L563.2 91.8L565.8 91.7L568.4 91.7L571.0 91.6L573.6 91.5L576.1 91.4L578.6 91.3L581.1 91.2L583.6 91.1L586.0 91.0L588.3 90.9L590.6 90.7L592.9 90.6L595.1 90.5M503.9 94.3L503.3 93.5L502.9 92.7L502.7 92.0L502.6 91.3L502.7 90.7L503.0 90.1L503.4 89.5L503.9 88.9L504.6 88.4L505.4 87.9L506.4 87.5L507.4 87.1L508.6 86.7L509.9 86.3L511.2 85.9L512.7 85.6L514.3 85.3L515.9 85.0L517.7 84.8L519.5 84.5L521.4 84.3L523.4 84.0L525.5 83.8L527.6 83.7L529.8 83.5L532.0 83.3L534.3 83.2L536.7 83.0L539.1 82.9L541.5 82.8L544.0 82.7L546.5 82.6L549.1 82.5L551.7 82.4L554.3 82.3L556.9 82.2L559.6 82.1L562.3 82.1L565.0 82.0L567.7 81.9L570.4 81.9L573.1 81.8L575.8 81.7L578.5 81.7L581.2 81.6L583.8 81.5M516.5 83.3L515.8 82.5L515.3 81.8L515.0 81.1L514.8 80.4L514.9 79.8L515.1 79.2L515.4 78.7L515.9 78.1L516.6 77.7L517.4 77.2L518.3 76.8L519.3 76.3L520.4 76.0L521.7 75.6L523.1 75.3L524.5 74.9L526.1 74.7L527.8 74.4L529.5 74.1L531.4 73.9L533.3 73.7L535.3 73.4L537.4 73.2L539.5 73.1L541.8 72.9L544.0 72.7L546.4 72.6L548.8 72.5L551.2 72.3L553.7 72.2L556.2 72.1L558.8 72.0L561.4 71.9L564.1 71.9L566.7 71.8L569.5 71.7L572.2 71.6L574.9 71.6M528.1 70.5L527.7 69.8L527.5 69.2L527.5 68.6L527.6 68.0L527.9 67.5L528.4 67.0L529.0 66.5L529.7 66.1L530.6 65.6L531.6 65.2L532.7 64.9L534.0 64.5L535.3 64.2L536.8 63.9L538.4 63.6L540.0 63.4L541.8 63.1L543.7 62.9L545.6 62.7L547.6 62.5L549.7 62.3L551.9 62.1L554.2 62.0L556.5 61.8L558.9 61.7L561.3 61.6L563.8 61.4" fill="none" stroke="#1e1e28" stroke-opacity="0.32" stroke-width="0.55"/>
<g fill="#ff0000"><circle cx="430.7" cy="156.5" r="2.1"/>
<circle cx="448.8" cy="145.8" r="2.1"/>
<circle cx="463.3" cy="136.9" r="2.1"/>
<circle cx="492.5" cy="126.6" r="2.1"/>
<circle cx="485.7" cy="158.0" r="2.1"/>
<circle cx="477.5" cy="105.7" r="2.1"/>
<circle cx="525.5" cy="73.7" r="2.1"/>
<circle cx="548.7" cy="61.7" r="2.1"/>
<circle cx="517.7" cy="143.4" r="2.1"/>
<circle cx="597.7" cy="94.5" r="2.1"/><circle cx="472.3" cy="122.2" r="1.1"/>
<circle cx="559.7" cy="69.4" r="1.1"/>
<circle cx="572.2" cy="91.0" r="1.1"/></g>
<polyline points="381.6,31.0 388.3,198.2 518.9,246.2 623.3,191.7" fill="none" stroke="#3a3a3a" stroke-width="1.1" stroke-linejoin="miter"/>
<line x1="388.3" y1="198.2" x2="391.1" y2="197.2" stroke="#3a3a3a" stroke-width=".9"/>
<line x1="387.5" y1="178.4" x2="390.4" y2="177.4" stroke="#3a3a3a" stroke-width=".9"/>
<line x1="386.7" y1="158.3" x2="389.6" y2="157.4" stroke="#3a3a3a" stroke-width=".9"/>
<line x1="385.9" y1="137.9" x2="388.8" y2="137.0" stroke="#3a3a3a" stroke-width=".9"/>
<line x1="385.1" y1="117.2" x2="388.0" y2="116.4" stroke="#3a3a3a" stroke-width=".9"/>
<line x1="384.2" y1="96.1" x2="387.2" y2="95.4" stroke="#3a3a3a" stroke-width=".9"/>
<line x1="383.4" y1="74.8" x2="386.3" y2="74.1" stroke="#3a3a3a" stroke-width=".9"/>
<line x1="382.5" y1="53.1" x2="385.5" y2="52.5" stroke="#3a3a3a" stroke-width=".9"/>
<line x1="381.6" y1="31.0" x2="384.6" y2="30.5" stroke="#3a3a3a" stroke-width=".9"/>
<line x1="403.9" y1="204.0" x2="406.8" y2="202.9" stroke="#3a3a3a" stroke-width=".9"/>
<line x1="434.2" y1="215.1" x2="437.0" y2="213.9" stroke="#3a3a3a" stroke-width=".9"/>
<line x1="466.7" y1="227.0" x2="469.5" y2="225.7" stroke="#3a3a3a" stroke-width=".9"/>
<line x1="501.8" y1="239.9" x2="504.6" y2="238.5" stroke="#3a3a3a" stroke-width=".9"/>
<line x1="538.5" y1="235.9" x2="535.2" y2="234.8" stroke="#3a3a3a" stroke-width=".9"/>
<line x1="557.5" y1="226.0" x2="554.3" y2="224.9" stroke="#3a3a3a" stroke-width=".9"/>
<line x1="575.5" y1="216.7" x2="572.2" y2="215.6" stroke="#3a3a3a" stroke-width=".9"/>
<line x1="592.4" y1="207.8" x2="589.2" y2="206.9" stroke="#3a3a3a" stroke-width=".9"/>
<line x1="608.4" y1="199.5" x2="605.2" y2="198.6" stroke="#3a3a3a" stroke-width=".9"/>
<linearGradient id="cb1" x1="0" y1="0" x2="0" y2="1"><stop offset="0.000" stop-color="#400050"/><stop offset="0.030" stop-color="#680090"/><stop offset="0.070" stop-color="#8000c0"/><stop offset="0.110" stop-color="#6000ff"/><stop offset="0.150" stop-color="#0000ff"/><stop offset="0.190" stop-color="#0060ff"/><stop offset="0.235" stop-color="#00d0ff"/><stop offset="0.270" stop-color="#00ffff"/><stop offset="0.305" stop-color="#00ff60"/><stop offset="0.340" stop-color="#00ff00"/><stop offset="0.400" stop-color="#60ff00"/><stop offset="0.455" stop-color="#c0ff00"/><stop offset="0.490" stop-color="#ffff00"/><stop offset="0.530" stop-color="#ffd000"/><stop offset="0.570" stop-color="#ffa000"/><stop offset="0.610" stop-color="#ff6000"/><stop offset="0.640" stop-color="#ff2000"/><stop offset="0.670" stop-color="#ff0000"/><stop offset="0.800" stop-color="#f00000"/><stop offset="0.870" stop-color="#c00000"/><stop offset="0.940" stop-color="#900000"/><stop offset="1.000" stop-color="#600000"/></linearGradient>
<rect x="280.8" y="26.3" width="25.1" height="116.1" fill="url(#cb1)"/>
<line x1="280.8" y1="26.8" x2="305.9" y2="26.8" stroke="#111" stroke-width="1"/>
<line x1="305.9" y1="27.1" x2="305.9" y2="142.4" stroke="#222" stroke-width=".8"/>
<line x1="305.9" y1="27.1" x2="309.9" y2="27.1" stroke="#2a2a2a" stroke-width="1"/>
<text x="312.3" y="29.3" class="cb" textLength="13.8" lengthAdjust="spacingAndGlyphs">37. 30</text>
<line x1="305.9" y1="38.6" x2="309.9" y2="38.6" stroke="#2a2a2a" stroke-width="1"/>
<text x="312.3" y="40.8" class="cb" textLength="13.8" lengthAdjust="spacingAndGlyphs">40. 60</text>
<line x1="305.9" y1="50.2" x2="309.9" y2="50.2" stroke="#2a2a2a" stroke-width="1"/>
<text x="312.3" y="52.4" class="cb" textLength="13.8" lengthAdjust="spacingAndGlyphs">43. 90</text>
<line x1="305.9" y1="61.7" x2="309.9" y2="61.7" stroke="#2a2a2a" stroke-width="1"/>
<text x="312.3" y="63.9" class="cb" textLength="13.8" lengthAdjust="spacingAndGlyphs">47. 20</text>
<line x1="305.9" y1="73.2" x2="309.9" y2="73.2" stroke="#2a2a2a" stroke-width="1"/>
<text x="312.3" y="75.4" class="cb" textLength="13.8" lengthAdjust="spacingAndGlyphs">50. 50</text>
<line x1="305.9" y1="84.8" x2="309.9" y2="84.8" stroke="#2a2a2a" stroke-width="1"/>
<text x="312.3" y="87.0" class="cb" textLength="13.8" lengthAdjust="spacingAndGlyphs">53. 80</text>
<line x1="305.9" y1="96.3" x2="309.9" y2="96.3" stroke="#2a2a2a" stroke-width="1"/>
<text x="312.3" y="98.5" class="cb" textLength="13.8" lengthAdjust="spacingAndGlyphs">57. 10</text>
<line x1="305.9" y1="107.8" x2="309.9" y2="107.8" stroke="#2a2a2a" stroke-width="1"/>
<text x="312.3" y="110.0" class="cb" textLength="13.8" lengthAdjust="spacingAndGlyphs">60. 40</text>
<line x1="305.9" y1="119.3" x2="309.9" y2="119.3" stroke="#2a2a2a" stroke-width="1"/>
<text x="312.3" y="121.5" class="cb" textLength="13.8" lengthAdjust="spacingAndGlyphs">63. 70</text>
<line x1="305.9" y1="130.9" x2="309.9" y2="130.9" stroke="#2a2a2a" stroke-width="1"/>
<text x="312.3" y="133.1" class="cb" textLength="13.8" lengthAdjust="spacingAndGlyphs">67. 00</text>
<line x1="305.9" y1="142.4" x2="309.9" y2="142.4" stroke="#2a2a2a" stroke-width="1"/>
<text x="312.3" y="144.6" class="cb" textLength="13.8" lengthAdjust="spacingAndGlyphs">70. 30</text>
<linearGradient id="cb2" x1="0" y1="0" x2="0" y2="1"><stop offset="0.000" stop-color="#400050"/><stop offset="0.030" stop-color="#680090"/><stop offset="0.070" stop-color="#8000c0"/><stop offset="0.110" stop-color="#6000ff"/><stop offset="0.150" stop-color="#0000ff"/><stop offset="0.190" stop-color="#0060ff"/><stop offset="0.235" stop-color="#00d0ff"/><stop offset="0.270" stop-color="#00ffff"/><stop offset="0.305" stop-color="#00ff60"/><stop offset="0.340" stop-color="#00ff00"/><stop offset="0.400" stop-color="#60ff00"/><stop offset="0.455" stop-color="#c0ff00"/><stop offset="0.490" stop-color="#ffff00"/><stop offset="0.530" stop-color="#ffd000"/><stop offset="0.570" stop-color="#ffa000"/><stop offset="0.610" stop-color="#ff6000"/><stop offset="0.640" stop-color="#ff2000"/><stop offset="0.670" stop-color="#ff0000"/><stop offset="0.800" stop-color="#f00000"/><stop offset="0.870" stop-color="#c00000"/><stop offset="0.940" stop-color="#900000"/><stop offset="1.000" stop-color="#600000"/></linearGradient>
<rect x="633.1" y="29.1" width="24.7" height="111.6" fill="url(#cb2)"/>
<line x1="633.1" y1="29.6" x2="657.8" y2="29.6" stroke="#111" stroke-width="1"/>
<line x1="657.8" y1="29.9" x2="657.8" y2="140.7" stroke="#222" stroke-width=".8"/>
<line x1="657.8" y1="29.9" x2="661.8" y2="29.9" stroke="#2a2a2a" stroke-width="1"/>
<text x="663.2" y="32.1" class="cb" textLength="13.8" lengthAdjust="spacingAndGlyphs">45. 50</text>
<line x1="657.8" y1="41.0" x2="661.8" y2="41.0" stroke="#2a2a2a" stroke-width="1"/>
<text x="663.2" y="43.2" class="cb" textLength="13.8" lengthAdjust="spacingAndGlyphs">49. 23</text>
<line x1="657.8" y1="52.1" x2="661.8" y2="52.1" stroke="#2a2a2a" stroke-width="1"/>
<text x="663.2" y="54.3" class="cb" textLength="13.8" lengthAdjust="spacingAndGlyphs">52. 96</text>
<line x1="657.8" y1="63.1" x2="661.8" y2="63.1" stroke="#2a2a2a" stroke-width="1"/>
<text x="663.2" y="65.3" class="cb" textLength="13.8" lengthAdjust="spacingAndGlyphs">56. 69</text>
<line x1="657.8" y1="74.2" x2="661.8" y2="74.2" stroke="#2a2a2a" stroke-width="1"/>
<text x="663.2" y="76.4" class="cb" textLength="13.8" lengthAdjust="spacingAndGlyphs">60. 42</text>
<line x1="657.8" y1="85.3" x2="661.8" y2="85.3" stroke="#2a2a2a" stroke-width="1"/>
<text x="663.2" y="87.5" class="cb" textLength="13.8" lengthAdjust="spacingAndGlyphs">64. 15</text>
<line x1="657.8" y1="96.4" x2="661.8" y2="96.4" stroke="#2a2a2a" stroke-width="1"/>
<text x="663.2" y="98.6" class="cb" textLength="13.8" lengthAdjust="spacingAndGlyphs">67. 88</text>
<line x1="657.8" y1="107.5" x2="661.8" y2="107.5" stroke="#2a2a2a" stroke-width="1"/>
<text x="663.2" y="109.7" class="cb" textLength="13.8" lengthAdjust="spacingAndGlyphs">71. 61</text>
<line x1="657.8" y1="118.5" x2="661.8" y2="118.5" stroke="#2a2a2a" stroke-width="1"/>
<text x="663.2" y="120.7" class="cb" textLength="13.8" lengthAdjust="spacingAndGlyphs">75. 34</text>
<line x1="657.8" y1="129.6" x2="661.8" y2="129.6" stroke="#2a2a2a" stroke-width="1"/>
<text x="663.2" y="131.8" class="cb" textLength="13.8" lengthAdjust="spacingAndGlyphs">79. 07</text>
<line x1="657.8" y1="140.7" x2="661.8" y2="140.7" stroke="#2a2a2a" stroke-width="1"/>
<text x="663.2" y="142.9" class="cb" textLength="13.8" lengthAdjust="spacingAndGlyphs">82. 80</text>
<text x="26.6" y="205.0" class="tk" text-anchor="end">35</text>
<text x="25.7" y="183.2" class="tk" text-anchor="end">40</text>
<text x="24.8" y="161.0" class="tk" text-anchor="end">45</text>
<text x="23.8" y="138.5" class="tk" text-anchor="end">50</text>
<text x="22.9" y="115.6" class="tk" text-anchor="end">55</text>
<text x="21.9" y="92.3" class="tk" text-anchor="end">60</text>
<text x="20.9" y="68.6" class="tk" text-anchor="end">65</text>
<text x="19.9" y="44.5" class="tk" text-anchor="end">70</text>
<text x="385.2" y="201.5" class="tk" text-anchor="end">45</text>
<text x="384.4" y="181.7" class="tk" text-anchor="end">50</text>
<text x="383.6" y="161.6" class="tk" text-anchor="end">55</text>
<text x="382.8" y="141.2" class="tk" text-anchor="end">60</text>
<text x="382.0" y="120.5" class="tk" text-anchor="end">65</text>
<text x="381.1" y="99.4" class="tk" text-anchor="end">70</text>
<text x="380.3" y="78.1" class="tk" text-anchor="end">75</text>
<text x="379.4" y="56.4" class="tk" text-anchor="end">80</text>
<text x="378.5" y="35.5" class="tk" text-anchor="end">85</text>
<text x="37.3" y="213.9" class="tk" text-anchor="middle">40</text>
<text x="64.8" y="224.2" class="tk" text-anchor="middle">60</text>
<text x="94.0" y="233.9" class="tk" text-anchor="middle">80</text>
<text x="124.7" y="245.6" class="tk" text-anchor="middle">100</text>
<text x="187.2" y="249.4" class="tk" text-anchor="middle">0</text>
<text x="208.6" y="240.3" class="tk" text-anchor="middle">25</text>
<text x="226.5" y="229.2" class="tk" text-anchor="middle">50</text>
<text x="243.6" y="219.9" class="tk" text-anchor="middle">75</text>
<text x="262.7" y="211.2" class="tk" text-anchor="middle">100</text>
<text x="397.8" y="212.5" class="tk" text-anchor="middle">40</text>
<text x="428.3" y="223.9" class="tk" text-anchor="middle">60</text>
<text x="461.5" y="235.4" class="tk" text-anchor="middle">80</text>
<text x="497.7" y="248.3" class="tk" text-anchor="middle">100</text>
<text x="542.5" y="244.0" class="tk" text-anchor="middle">0</text>
<text x="562.4" y="234.9" class="tk" text-anchor="middle">25</text>
<text x="580.3" y="224.1" class="tk" text-anchor="middle">50</text>
<text x="596.0" y="216.3" class="tk" text-anchor="middle">75</text>
<text x="614.7" y="208.6" class="tk" text-anchor="middle">100</text>
<text x="18.1" y="241.6" class="t1" textLength="73.7" lengthAdjust="spacingAndGlyphs">Strain rate (s<tspan class="sup" dy="-5">-1</tspan><tspan dy="5">)</tspan></text>
<text x="227.4" y="241.1" class="t1" textLength="95" lengthAdjust="spacingAndGlyphs">Freeze-thaw cycles</text>
<text transform="translate(2.6,83.6) rotate(90)" class="t1" textLength="65" lengthAdjust="spacingAndGlyphs" dominant-baseline="auto" y="-0.5">Stress (MPa)</text>
<text x="395.9" y="241.6" class="t2" textLength="62.3" lengthAdjust="spacingAndGlyphs">Strain rate (s<tspan class="sup2" dy="-4.5">-1</tspan><tspan dy="4.5">)</tspan></text>
<text x="584.6" y="236.4" class="t2" textLength="80.2" lengthAdjust="spacingAndGlyphs">Freeze-thaw cycles</text>
<text transform="translate(365.2,97.4) rotate(90)" class="t2" textLength="54.8" lengthAdjust="spacingAndGlyphs" y="-0.5">Stress (MPa)</text>
<text x="145.8" y="277.7" class="cap" textLength="40.4" lengthAdjust="spacingAndGlyphs">(a) OC</text>
<text x="489.7" y="277.7" class="cap" textLength="59.1" lengthAdjust="spacingAndGlyphs">(b) CFRC</text>
<line x1="331.7" y1="247.5" x2="331.7" y2="253.3" stroke="#777" stroke-width="1"/>
</svg>
</body></html>
